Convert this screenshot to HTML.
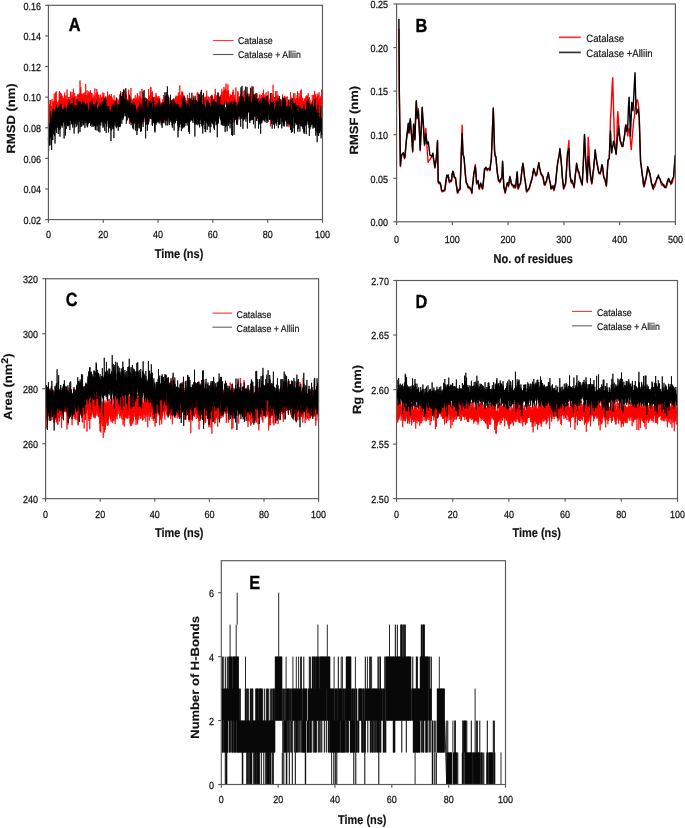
<!DOCTYPE html>
<html><head><meta charset="utf-8"><style>
html,body{margin:0;padding:0;background:#fff;width:685px;height:828px;overflow:hidden}
svg{display:block;filter:blur(0.45px)}
text{font-family:"Liberation Sans", sans-serif;text-rendering:geometricPrecision}
.t{font-size:9px;fill:#111;stroke:#111;stroke-width:0.22px}
.ax{font-size:11.5px;font-weight:bold;fill:#111;stroke:#111;stroke-width:0.15px}
.pl{font-size:16.3px;font-weight:bold;fill:#000;stroke:#000;stroke-width:0.3px}
.lg{fill:#111;stroke:#111;stroke-width:0.15px}
</style></head><body>
<svg width="685" height="828" viewBox="0 0 685 828">
<rect width="685" height="828" fill="#fff"/>
<g>
<path d="M48.40 126.1l.05 2.4 .06-6.5 .05 8.5 .06-9.5 .05 1.5 .06 2 .05 5.3 .06 4.9 .05-2.8 .06-13.7 .05 2.8 .06-.5 .05 4.9 .06-11.7 .05 14.1 .06-9.5 .05-.6 .06-3.2 .05 .9 .06 5.5 .05-1.4 .06-3.3 .05 4.2 .06-1.6 .05-14.8 .06 11.1 .05-6.1 .06-1.8 .05 15.6 .05-22.7 .06 13.8 .05 5.7 .06-2.1 .05-3.1 .06 8.4 .05-5.5 .06-3 .05 4.5 .06-18.7 .05 11.4 .06 4.5 .05-2 .06-3.3 .05-1.5 .06 2.6 .05-2.8 .06 8.8 .05-1.8 .06-.5 .05-3.7 .06 4.4 .05-6.3 .06 5.6 .05-5.8 .06 1.6 .05-5.3 .06 8.6 .05-3.2 .06 3.4 .05-3.9 .05 6.7 .06-1.4 .05-4.9 .06 4.3 .05 2.5 .06-19.2 .05 9 .06 .2 .05-.2 .06 6.6 .05 1.5 .06 1.3 .05-9.1 .06 6.8 .05 8.5 .06-5.2 .05-1.8 .06-3.9 .05 8.4 .06-6.8 .05 3.7 .06-5.2 .05-10 .06 5.2 .05 5.3 .06-6.2 .05-.7 .06-5.3 .05 11 .05-2.6 .06 5.7 .05-4.9 .06 .8 .05-6 .06 1.8 .05-3 .06 4.7 .05 4.3 .06-10.1 .05 8.9 .06 3.7 .05 1 .06-7.2 .05-.1 .06 5.2 .05-20.6 .06 16.8 .05-1 .06-8.7 .05 10.1 .06-.3 .05-4.3 .06 3 .05 2 .06-1.1 .05 7.8 .06-10.6 .05 .6 .05 3.1 .06-7 .05 15.2 .06-14 .05 10.8 .06-7.7 .05 .3 .06-1.3 .05-6.1 .06 6.2 .05 1.3 .06 7.5 .05-23.7 .06 18.8 .05-3.5 .06-1.5 .05-1 .06 2.9 .05 0 .06-3.8 .05 3.9 .06-5.3 .05 4.4 .06 7.8 .05-7 .06-16.9 .05 19.5 .06 .8 .05-.4 .05-2.8 .06 1.3 .05-9.2 .06 4.9 .05-1.4 .06 4.8 .05-.9 .06-2.9 .05 13.3 .06-6.9 .05 2.7 .06-6.8 .05 8.1 .06-2.3 .05 5.6 .06-12 .05 5.1 .06-1.9 .05 1.8 .06-6.7 .05 10.1 .06-8.6 .05-1.3 .06-2.7 .05 3.1 .06 6.2 .05-3.6 .06-6.3 .05 14.3 .06-5.4 .05-2.7 .05 5 .06-7.3 .05 9 .06 .1 .05-11.2 .06 5.1 .05-1.8 .06 4.2 .05-5.3 .06 11.1 .05-3.1 .06-2.3 .05-5.8 .06-5.3 .05 7.2 .06 2.2 .05 3.5 .06-5.3 .05-5.4 .06 20.9 .05-31.4 .06 11.8 .05-10.5 .06 8 .05-10.4 .06 12.1 .05-.5 .06-3.9 .05 10.4 .05-6.9 .06 4.5 .05-3.3 .06 6.2 .05-9.2 .06 1.2 .05 1.6 .06-1.1 .05-.1 .06 12.7 .05-22.2 .06 11.6 .05 4.2 .06-8.3 .05 8.5 .06-9.4 .05 5.6 .06-1.7 .05 3.7 .06-10.4 .05 4.3 .06 8.1 .05-3.1 .06-1.6 .05-2.8 .06 2.9 .05 .7 .06 3.7 .05-1.9 .05 2.4 .06-10.7 .05-4.7 .06 3.9 .05 4.9 .06 1.5 .05 4.5 .06-.6 .05-11.2 .06 8.8 .05 5.3 .06-3.4 .05-5.8 .06 8.2 .05-5.4 .06 1.7 .05-10.4 .06 3.7 .05 10.4 .06-11.7 .05 13.9 .06-6.7 .05 9.2 .06-.6 .05-2.2 .06-.1 .05-13.3 .06 11.4 .05 .4 .06 3.8 .05-14.1 .05 7.3 .06-2.2 .05 5.5 .06-7.1 .05 .4 .06 14.5 .05-20.3 .06 5.4 .05 5.9 .06 1.5 .05-8.1 .06 2.3 .05-1.4 .06 2.6 .05-.1 .06 5.8 .05 4.4 .06-3.4 .05-12.9 .06 6 .05 1.2 .06-5.8 .05 6.4 .06-12.9 .05 11.7 .06-.1 .05 1.8 .06 7.2 .05-13.1 .05-3.2 .06 10.9 .05-17.4 .06 8.2 .05-5.2 .06 9.7 .05 1.5 .06 4 .05-10.4 .06 10.7 .05 10.1 .06-19 .05 9.1 .06-.9 .05-7.4 .06 5.9 .05-1.8 .06-2.5 .05-2.4 .06-.6 .05 3.9 .06-3 .05 1.4 .06-5.1 .05 10.1 .06-6.9 .05 9.9 .06-16.3 .05 5.6 .05 11.5 .06-8.1 .05 13.6 .06-13.2 .05 16.5 .06-12.7 .05 4.3 .06-7.3 .05 1.2 .06 .3 .05-.8 .06 6.2 .05 4.8 .06 2 .05-15.2 .06-14.8 .05 14.3 .06-4.7 .05 1 .06 7.8 .05-2 .06 5.7 .05-7.2 .06-2.3 .05 5.3 .06 6.2 .05-13.4 .06 3.7 .05 6.6 .05-3.8 .06-3.9 .05 1.7 .06-.6 .05 0 .06 3.3 .05-10.2 .06 9.2 .05 5.2 .06-4.8 .05-3.5 .06 8.1 .05-3.7 .06-3.9 .05 4.7 .06-1.9 .05 4.5 .06-7.1 .05 6.1 .06-5.8 .05 3.1 .06-2.4 .05-.9 .06-7.1 .05 2.5 .06 3.3 .05 .7 .06 3.8 .05-6.2 .06 13.4 .05-6.2 .05-2.3 .06 3.6 .05-2 .06-3.1 .05 .8 .06 .6 .05 1.8 .06 .3 .05-5.6 .06-.3 .05 5.3 .06-1.5 .05-2 .06 1.7 .05-6.1 .06 8.6 .05 2.6 .06-18.9 .05 16.5 .06-2.4 .05-1.5 .06-1.3 .05 4.5 .06-4.5 .05 11.2 .06-2.9 .05-10.6 .06 2.2 .05 4.1 .05-7.1 .06 1 .05 4.4 .06-3.9 .05 2.1 .06-5.3 .05 4.2 .06-1.4 .05-2.4 .06 4 .05 2.8 .06-1.1 .05-6.6 .06 7.3 .05-1.6 .06 .5 .05-11.9 .06 15.6 .05-11.7 .06-.9 .05 19.2 .06-16.8 .05 5.2 .06-3.1 .05 11.1 .06-10.4 .05 4.5 .06-1 .05-3.4 .05 9.6 .06-9 .05 4.7 .06 6.4 .05-6.3 .06 4 .05-8.7 .06 16.2 .05-19.8 .06 3.4 .05 4.2 .06-9.5 .05-6.7 .06 4.2 .05 4.5 .06 10.1 .05-7.2 .06 .3 .05-3 .06 .1 .05 13.1 .06-8.2 .05 2 .06-2 .05-4.2 .06 3.3 .05 5.5 .06-9.1 .05 1.2 .06 6.4 .05-6.5 .05 6.7 .06-5.6 .05-2.6 .06 12.1 .05-14.1 .06-2.7 .05 11.5 .06 9.5 .05-14.5 .06 1.5 .05-3.7 .06 2 .05 2.8 .06 7.4 .05-7 .06 5.6 .05-8.5 .06-2.2 .05 13.1 .06-9.4 .05 10.3 .06-9.9 .05 1.6 .06-6.9 .05 20.6 .06-6.7 .05-2.6 .06-3 .05-.8 .05 1.9 .06 .4 .05 1.8 .06-2.5 .05-6 .06 4.6 .05 .3 .06-3.8 .05 11.3 .06-11.1 .05 5.9 .06 4.9 .05-1.7 .06-7 .05 8 .06-8.4 .05 1.1 .06-7.1 .05 5.9 .06-1 .05 3 .06-2.3 .05 9.9 .06-6.9 .05-.3 .06-7.5 .05 10.9 .06-8 .05 8.6 .05 3.6 .06-17.5 .05 16.2 .06-16.6 .05 9.6 .06 1.8 .05-2.2 .06 .3 .05-3.6 .06 1 .05 1.4 .06 2.9 .05-.2 .06-.6 .05-2.2 .06 5.8 .05 3.6 .06-10.1 .05 2.1 .06 .8 .05-10.3 .06 8.2 .05 3.6 .06-8.3 .05 2.2 .06-1.2 .05 5.5 .06-1.1 .05-1.1 .06 1.3 .05-5 .05 .4 .06-5.5 .05 10.3 .06-10.2 .05 6.8 .06 4.4 .05-10.5 .06 4.4 .05 2.2 .06-4.9 .05 1.3 .06 4.7 .05-.9 .06-20.5 .05 20.6 .06 2.4 .05 5.1 .06-4.8 .05-2.9 .06-4.6 .05 4.1 .06 7 .05-18 .06 17.8 .05-9.5 .06 7 .05-1.9 .06 1.9 .05-17.7 .05 9.4 .06 2.2 .05-.8 .06 4.4 .05-4.9 .06 7.3 .05-9 .06-1.9 .05 6.7 .06 3.2 .05-1.3 .06-2.4 .05-5 .06 23.6 .05-17.5 .06-.2 .05-1.4 .06 7 .05-10.8 .06-.6 .05 7.2 .06 .9 .05 8 .06 2 .05-3.5 .06-1.7 .05-.3 .06-5.2 .05-.1 .05 3 .06-8.9 .05-1.6 .06-.7 .05 7.7 .06 1.8 .05-4.3 .06 4.6 .05-3.1 .06 .3 .05-3.2 .06 2.9 .05-7.6 .06 9 .05-1.4 .06 2.9 .05-1.8 .06 6.8 .05-11.1 .06 7.1 .05-1.2 .06 12 .05-16.9 .06 18.1 .05-23.4 .06 10.1 .05-3.5 .06-.6 .05 6.7 .05-5.2 .06-4.9 .05 3.6 .06-4.6 .05 12.2 .06-8 .05-2.2 .06 6.1 .05-1.2 .06-1.2 .05 1.2 .06 10.7 .05-11.7 .06 1.7 .05 .5 .06-10.6 .05 11.3 .06-4.6 .05 5 .06-2.6 .05 8.1 .06-4 .05-3.1 .06-3.6 .05 1.4 .06 .3 .05-2.8 .06 8.1 .05-8.5 .06-13.3 .05 31.3 .05-15.5 .06-4.9 .05 12.4 .06-2.3 .05 .9 .06 1.9 .05-5.4 .06 5 .05 .3 .06-5.1 .05 3.9 .06-2 .05 3.2 .06-.8 .05-2.5 .06-.3 .05-8.8 .06 12 .05 1.1 .06-4.5 .05-4.6 .06 5.6 .05-3.1 .06-11.6 .05 14 .06-2.6 .05 .7 .06-5.3 .05-1 .05 5.5 .06-3.4 .05 6.9 .06-5.6 .05 4.2 .06 10 .05-9.8 .06-10 .05 17.7 .06-5.9 .05-.3 .06-3.3 .05 .7 .06 2.6 .05 1.9 .06-4.7 .05-.2 .06 2.4 .05-1.8 .06-11.6 .05 6 .06 13.6 .05-7 .06-3.7 .05 8.6 .06-3.6 .05-1.3 .06 2.6 .05-11.2 .05 5 .06 2.5 .05 2.3 .06 14.8 .05-21.1 .06 7.6 .05-2.4 .06-3.5 .05-7.9 .06 10.5 .05-1.8 .06 2.2 .05 1.3 .06-5.8 .05-3.9 .06 11.4 .05-1.9 .06-.5 .05-5.2 .06 3.8 .05-3.2 .06 1.8 .05-.1 .06 1.8 .05-12.9 .06 19.6 .05-17.4 .06 10.9 .05-12.2 .06 10.6 .05 .2 .05 4.3 .06-3 .05-.6 .06 4.1 .05-8.2 .06-.6 .05 .5 .06 6.3 .05 1 .06-7.6 .05-2.2 .06 17 .05-8.5 .06 5.1 .05-4.3 .06-12.4 .05 2.4 .06 20.8 .05-13.4 .06-3.5 .05 5.5 .06-5.4 .05 7.6 .06-13.8 .05 11.2 .06 .2 .05-6.6 .06 4.9 .05 1.8 .05-5.2 .06 3.6 .05 2.4 .06 1.2 .05-8 .06 10.9 .05-8.8 .06-1.5 .05 6.6 .06 4.1 .05-7 .06-2.8 .05-2.2 .06 2.1 .05-2.2 .06 6.9 .05-10 .06 5.6 .05 9.8 .06-10.9 .05 12.1 .06-9 .05 .6 .06 6.9 .05-2.5 .06-4.9 .05-2.9 .06 .5 .05 1.2 .05 7.8 .06-5 .05 4.9 .06 4.3 .05-8 .06-.9 .05 1.6 .06 .2 .05 .1 .06-7.1 .05 5.6 .06-4.1 .05 4.2 .06 8.2 .05-16.5 .06 6.4 .05-3.2 .06 3.6 .05 .7 .06-15.5 .05 11.5 .06 8.7 .05-4.3 .06-1.1 .05-4.5 .06 6.5 .05 2.2 .06-6.5 .05 11.8 .05-11.1 .06-4.3 .05 6.9 .06 2.2 .05-4.3 .06 12.2 .05-8.9 .06 3.3 .05-2.8 .06 1.4 .05-11 .06-3 .05 8.6 .06-1.6 .05-5 .06 8.8 .05 .7 .06-1.3 .05-1.6 .06 .9 .05 2.1 .06-6 .05-4.7 .06 2.9 .05 4.4 .06-12.4 .05 8.8 .06-1.6 .05 10.8 .06 11 .05-3.9 .05-1.9 .06-17.5 .05 6 .06-.5 .05 .8 .06 .5 .05 .8 .06-10.2 .05 2.1 .06 7.9 .05-.9 .06 2.2 .05-1.9 .06-1.7 .05 .9 .06 1.9 .05 2.5 .06-1.5 .05-1.3 .06 2.8 .05-7.9 .06-1.6 .05 5.6 .06 .3 .05 4.8 .06-11.3 .05 9.9 .06-2.5 .05 .7 .05-.1 .06-2.8 .05 2.3 .06-7.2 .05-.8 .06 9.5 .05-.2 .06-.8 .05-.7 .06-.4 .05-1.1 .06 4.8 .05-5.7 .06 3.6 .05 5.4 .06-3.1 .05-3.6 .06 4.5 .05 4.2 .06-5.8 .05-4.8 .06-2.5 .05 13.5 .06 5.2 .05-8.5 .06-2.5 .05 1 .06-.8 .05-7.8 .05 3 .06 4.3 .05 3.3 .06-13.9 .05 1.4 .06 6.2 .05 4.5 .06-2 .05-3.4 .06 1.1 .05-2.8 .06 10.7 .05-4.1 .06-8.4 .05 8.8 .06-1.2 .05-1.7 .06-6.8 .05 6.1 .06-3.1 .05 3.6 .06-4.1 .05-.3 .06-2.2 .05 3.8 .06 9.7 .05-9 .06 1.9 .05 2.6 .06 1.3 .05-10.5 .05 4.4 .06 12 .05-16.4 .06 6.8 .05 6.3 .06-1.2 .05-1.3 .06 2.1 .05-12.4 .06 3.2 .05 4.4 .06-3.7 .05 4 .06-5.2 .05-7.3 .06 20.5 .05-9.1 .06 2.9 .05 3.2 .06-7.1 .05-.4 .06-2.5 .05 3.6 .06-.6 .05-4.5 .06-2.8 .05 13.9 .06-7.1 .05-6.1 .05 10 .06-1.1 .05-5 .06 9.5 .05-4.8 .06-11.9 .05 11.8 .06 11.2 .05-4.8 .06-3.5 .05 .5 .06 5 .05-13 .06 8.3 .05 3.2 .06-9 .05 6.5 .06-1 .05-1.6 .06-1.6 .05 6.5 .06-9.2 .05-4.9 .06 14.1 .05-6.2 .06 5.8 .05-5.5 .06 .8 .05-.4 .05-2.2 .06 3.1 .05-1.7 .06-4.3 .05 7.4 .06 10.7 .05-13.6 .06 6.4 .05-3.5 .06 .4 .05-6.8 .06-5.8 .05 7.4 .06 3.5 .05-4.1 .06-2.3 .05 3.1 .06-.5 .05 3.7 .06 .5 .05-7.4 .06 3.8 .05 4.7 .06 .3 .05 .6 .06-.7 .05 1.7 .06-7 .05-2.8 .05 7.6 .06-3.9 .05-.5 .06 1.8 .05 .6 .06-4.4 .05 1.2 .06 0 .05 7.7 .06-4.9 .05 .6 .06-4.7 .05-6.3 .06 .1 .05 9.2 .06-13.4 .05 11.8 .06-.5 .05-1.2 .06 11.5 .05-2.1 .06-10 .05 4.4 .06 .3 .05-5.8 .06-1.5 .05-2.8 .06 4.8 .05-2.9 .06 8.2 .05-8.9 .05 11.3 .06-3 .05-5.5 .06 12.1 .05 3.7 .06-14.7 .05-1.2 .06 2.4 .05 3.5 .06-1.1 .05 .9 .06-4.1 .05 0 .06 10.2 .05-.7 .06-6 .05-2 .06-8 .05 11.4 .06-1.8 .05 3.7 .06-.2 .05-6.3 .06 1.3 .05-3.2 .06 6.4 .05-3.1 .06-.5 .05 8.6 .05-7 .06 17.7 .05-17.8 .06 .6 .05 .3 .06 2.1 .05 2.9 .06-13.7 .05 9 .06 5.9 .05-5.4 .06 1.7 .05-7 .06 1.2 .05 7.2 .06 1.4 .05-10.3 .06 10.2 .05-3.9 .06 4 .05-6.3 .06-6.3 .05 14.2 .06-11.3 .05-6.1 .06 10.3 .05-5.1 .06 7 .05 4.7 .05-4.6 .06 5.3 .05-8.1 .06-6.4 .05 6.8 .06-6.2 .05 11.1 .06-7.8 .05 2.4 .06 6 .05 2 .06-6.9 .05-1.8 .06 10.3 .05 .9 .06-4.4 .05-10.6 .06 14.3 .05-12.5 .06 7.4 .05-3.3 .06-1.8 .05 11.5 .06-10.4 .05 6.8 .06-.3 .05-1.8 .06 4.7 .05-8.5 .06 12 .05-12.7 .05 2.8 .06 2.4 .05-4.9 .06 .8 .05 3.1 .06-8.8 .05 17.3 .06-8.4 .05 .1 .06 5.8 .05-10.2 .06 6 .05-4.4 .06 1.2 .05-11.9 .06 12.5 .05 2.6 .06-8.8 .05 3 .06-1.3 .05 1 .06 4.3 .05 .1 .06-1.8 .05 2 .06 1.3 .05-8.6 .06 9.2 .05-.3 .05-.7 .06-.3 .05 4.3 .06 1.5 .05-5.9 .06 8.7 .05-7.4 .06-10.7 .05 6.4 .06 7.8 .05-1.5 .06-5.1 .05 2.8 .06-3.8 .05-3.2 .06 .1 .05 9.8 .06-6.2 .05-1.6 .06-2.7 .05 7.7 .06 7.6 .05-9.1 .06 5.1 .05-1.9 .06-9.9 .05 6.8 .06 3.4 .05-12.9 .05 4 .06 6.4 .05-5.1 .06 10.3 .05-14.5 .06-.8 .05 6.6 .06-8.2 .05 12.4 .06-5.6 .05 .4 .06-3 .05 5.5 .06 1.2 .05 5.9 .06-6.2 .05 1.6 .06-8.5 .05 3.9 .06 3.5 .05-4.9 .06 3.2 .05-5 .06 2 .05 2 .06-7.1 .05 5 .06-2.6 .05 9 .05 1.6 .06-6.7 .05-1 .06-2 .05 1.2 .06-.8 .05 2.6 .06 2.6 .05-4.1 .06 1 .05 4 .06-8 .05 4.3 .06-6.1 .05 2.3 .06 1.7 .05 5.8 .06-5.6 .05-.1 .06 2.9 .05 .7 .06 13.1 .05-17.8 .06-1.2 .05 6.5 .06-13.3 .05 9.4 .06 4.4 .05-1.3 .06-9.3 .05 8.3 .05-6.1 .06 4.8 .05-.7 .06-7.4 .05 1.9 .06 8.9 .05-1.6 .06 3.7 .05-6.1 .06-4.6 .05 5.2 .06-1.8 .05 3.4 .06-14.7 .05 15.3 .06 9.4 .05-17.7 .06 2.3 .05-2.1 .06 6.4 .05-.4 .06 1 .05 1.1 .06-8 .05 3.5 .06 .2 .05 5 .06-3.5 .05 1.8 .05-6.6 .06 .2 .05 9.4 .06-11 .05 9.2 .06-3.5 .05 6.7 .06-12.8 .05 10.3 .06-6.9 .05 3 .06-5.2 .05 .4 .06 1.8 .05-7.9 .06 11.9 .05-3.5 .06 2 .05 6.5 .06-5.9 .05-8.5 .06 5.2 .05 2.5 .06-.7 .05-3.9 .06 2.5 .05 3.7 .06-.4 .05-3.2 .05-3.4 .06 2.6 .05-5.6 .06 9.3 .05-9.9 .06 5 .05 9.1 .06-13.8 .05 1.9 .06 6.8 .05 2.4 .06-13.9 .05 .7 .06 14.2 .05 1.3 .06-6.4 .05 .7 .06-1.6 .05 2.4 .06 1 .05-.8 .06-4.1 .05 2.3 .06 6.1 .05-9.5 .06-2.8 .05 1.5 .06 8.3 .05-2.1 .06-9.2 .05-2.8 .05 9.8 .06-5 .05 6 .06 1.8 .05-3.1 .06 5 .05-3.6 .06-1.9 .05 .9 .06-2 .05-.8 .06 1.9 .05 2.2 .06 4.2 .05-7.7 .06 8.9 .05-2.4 .06-.3 .05-9.6 .06 3.2 .05 3.8 .06-9.3 .05 9.5 .06-6.6 .05 4.1 .06 1.3 .05 3.2 .06-.8 .05-6.1 .05-1.9 .06 9.1 .05-2.6 .06 .7 .05 8 .06-6.4 .05-.2 .06-6.3 .05 4.2 .06-1.6 .05 5 .06-5.5 .05 9.6 .06-.8 .05-8.8 .06 2.6 .05 1.7 .06-.4 .05-3.8 .06 1.9 .05 8.2 .06 4.7 .05-4.3 .06 0 .05-2.2 .06-2.6 .05 5 .06-6.2 .05-.7 .05 3.5 .06 2.8 .05-9.5 .06 13.7 .05-12.3 .06 8.8 .05-9.7 .06 4.2 .05 4.8 .06 6.7 .05-11.1 .06 8.7 .05-8.7 .06-15.5 .05 23 .06-3.5 .05 1.1 .06 3.6 .05-9.8 .06-1.6 .05 10.5 .06-2.1 .05-7 .06 6.8 .05-6.2 .06-6 .05 10.1 .06-3.1 .05 18.6 .05-15.2 .06-6.5 .05 3.3 .06-7.4 .05 8.3 .06-9.1 .05-.1 .06 6.4 .05 1.2 .06-3.9 .05 3.3 .06 8.6 .05-16.6 .06 14.5 .05-1.7 .06-4.6 .05-3.2 .06-5.2 .05 11.1 .06 5 .05-.2 .06-2.4 .05 6 .06-10.8 .05-6.6 .06 18.4 .05-28.7 .06 13.5 .05-2 .06 3.8 .05 5.4 .05 8.1 .06-3.1 .05-5.5 .06-5.6 .05 .6 .06-1.2 .05 .7 .06-1.3 .05 5.1 .06-2.2 .05 3.4 .06-4 .05 2.1 .06 12.1 .05-12.6 .06 0 .05 5.9 .06-10.7 .05 8.5 .06-10 .05 5.4 .06-1.8 .05 7.5 .06-9 .05 2.7 .06-.8 .05 10.4 .06-11.7 .05 4.8 .05 3.9 .06-10.7 .05 2.7 .06 6.8 .05-4.5 .06 1.3 .05 7.9 .06-3.9 .05-5.6 .06 1.2 .05-2.9 .06 5.4 .05 16.5 .06-18 .05-8.1 .06 9.7 .05-3.1 .06 .5 .05 .7 .06-3 .05 3.5 .06-2.6 .05-4.9 .06 6.6 .05-1.1 .06-3.9 .05-.8 .06 12.5 .05-.6 .05-6.5 .06 3.4 .05-7.7 .06-.5 .05 4.4 .06-6.5 .05 4.3 .06 5.8 .05-5.4 .06 19.5 .05-24.1 .06 9.8 .05 1 .06 1.2 .05 2.6 .06-1.2 .05-16.7 .06-.2 .05 14.6 .06-6.3 .05 10.6 .06-.8 .05-1.9 .06-3.1 .05 2.9 .06-10.9 .05 3.9 .06 6.2 .05-10 .06 16.2 .05-12.5 .05 12.9 .06-5.1 .05-6.9 .06 5.5 .05-11.7 .06 8.5 .05 .1 .06 2.8 .05 1.5 .06-10.2 .05 6.7 .06 5.7 .05-12.2 .06 3.1 .05 6.6 .06-.5 .05-4.1 .06-8.1 .05 2.9 .06 5.2 .05-9.7 .06 16 .05-6.7 .06-13.3 .05 13.1 .06-7.4 .05 8 .06 11.7 .05-8.7 .05 6.1 .06-13.1 .05 2.3 .06 2 .05 4.2 .06-15.7 .05 8 .06-1.5 .05 13 .06-3.9 .05-.4 .06-4 .05 8.5 .06 .4 .05-11.9 .06 2.8 .05-3.9 .06 5.5 .05 1.4 .06-4.3 .05-6.6 .06 9.2 .05-5.8 .06 3.9 .05-3 .06 1.7 .05-4.2 .06 11.5 .05-5.8 .05-5.2 .06 6.4 .05-2.7 .06 13 .05-11.5 .06 3.4 .05-10.7 .06-2.2 .05 18.4 .06-3.9 .05-5.5 .06-4.6 .05-4.6 .06 5.1 .05-1.6 .06 3 .05-11.7 .06 16.6 .05-11.2 .06 4.2 .05 2.6 .06-2.1 .05 9.4 .06-8.1 .05 5.1 .06-6.6 .05 5.5 .06-2.4 .05 5 .06-6.9 .05 1.5 .05-5.5 .06-.2 .05 12.9 .06-.5 .05-6.8 .06 .4 .05 3.7 .06-1.4 .05-7.6 .06 6.9 .05-5 .06 4.6 .05-.9 .06 1.1 .05 3.6 .06-4.9 .05 2.8 .06-1.2 .05-3.8 .06-13.3 .05 22.1 .06 .2 .05-3.6 .06-7.4 .05 .2 .06 16.1 .05-8.3 .06-10.1 .05 11.7 .05-4.1 .06-7.5 .05 9.6 .06-1.7 .05 4.1 .06-6.5 .05 2 .06-1.6 .05 4.5 .06-2.9 .05 3.5 .06-9 .05 13.2 .06-12.9 .05 2.7 .06 5 .05 1.1 .06 3.2 .05 1 .06-8.4 .05-3.4 .06 .1 .05 3.6 .06 12.7 .05-.5 .06 4.7 .05-10.6 .06-5.5 .05 8.6 .05-8 .06 2.4 .05-5.9 .06 12.8 .05-.4 .06-5.7 .05-.6 .06-4.3 .05-1.7 .06 7.7 .05-1.5 .06-6.3 .05 4.6 .06 .7 .05-3.3 .06 2.9 .05 4.6 .06-11.7 .05-3.8 .06 8.7 .05 1.6 .06 2.4 .05 2.2 .06-10 .05 6.3 .06 1.9 .05 3 .06-3.5 .05 .6 .05-3.6 .06 .1 .05-6.4 .06 8.2 .05 0 .06-5.8 .05 14.6 .06-13.5 .05 9.7 .06-11.3 .05 8.2 .06-4 .05 .3 .06-.6 .05 6.2 .06-6 .05 4.2 .06-2.5 .05-7.6 .06 5.5 .05 .5 .06 7.1 .05-14.6 .06 9.6 .05 6.1 .06-7.4 .05-8.4 .06 5.2 .05 3.7 .06-3.3 .05 1.8 .05-.1 .06 10.9 .05-8.3 .06-7.4 .05 4.8 .06 1.8 .05 16.9 .06-20.7 .05 .8 .06 4.9 .05-4.9 .06 4.6 .05-3.2 .06-5.7 .05 5.4 .06-7.6 .05 4.3 .06 10.5 .05-9.9 .06 5.7 .05-2.1 .06-18.2 .05 29.2 .06-13.9 .05-.3 .06 2.4 .05 4.9 .06-13.2 .05 5.2 .05-5.8 .06 11.7 .05-7.6 .06 8.8 .05-11.5 .06 .5 .05 8.2 .06 2.9 .05-8.9 .06-.8 .05 2.1 .06-7.3 .05 3.6 .06 8 .05-7.8 .06 5.9 .05-5.4 .06 7.7 .05-2.6 .06 2.9 .05-1.5 .06-2.2 .05 1 .06 5.8 .05-9.7 .06 13.6 .05-4.1 .06-.7 .05-22.4 .05 17.9 .06 4.9 .05-6.3 .06 0 .05 2.4 .06-8.4 .05-10.9 .06 19.2 .05 10.9 .06-11.1 .05 11.6 .06-8.5 .05-17 .06 11.5 .05 7.7 .06-10.1 .05-2.6 .06 5 .05 .7 .06-.1 .05 5.4 .06-5.5 .05-2.4 .06 2.3 .05-5.7 .06 5 .05-1.6 .06 .5 .05 6.9 .06-9.4 .05 2.1 .05 10.2 .06-9.6 .05-1.3 .06 5.1 .05-14.9 .06 18.9 .05-2.9 .06-6.9 .05 4.1 .06-.3 .05 .8 .06 5.1 .05-4.7 .06 1.2 .05 3.7 .06 3.8 .05-9.1 .06-5.6 .05 6.3 .06 3.9 .05-9 .06 .1 .05 3.7 .06-5.5 .05 6.8 .06 2.2 .05 2.7 .06-3.5 .05-3.4 .05 3.1 .06-4.8 .05 3.3 .06 1.1 .05 3.2 .06-3 .05-6.7 .06 5.4 .05-8.8 .06 22.8 .05-10.5 .06-10.3 .05 3.9 .06 11.1 .05 .3 .06-9.1 .05 3.5 .06-8 .05 4.7 .06 6.8 .05-7.2 .06 4.7 .05-12.6 .06 2.8 .05 14.2 .06-13.6 .05 15.1 .06-12.3 .05 6.3 .05-9.4 .06 4.9 .05-1.3 .06 4.7 .05 1.5 .06-10.9 .05 1.3 .06 2.1 .05 3.9 .06 1.8 .05-14.8 .06 12 .05-.1 .06-2.3 .05-4.5 .06 14.8 .05-5.4 .06-12.1 .05 12.8 .06-6.5 .05-4 .06 12 .05-5.6 .06-2.8 .05 3.9 .06 .3 .05-2.1 .06 0 .05 1.9 .05 .3 .06 5 .05-7.5 .06 1.1 .05 5.6 .06-8.7 .05-3.3 .06 8.3 .05-2.1 .06-.7 .05 9.1 .06-2.2 .05-9 .06 2.2 .05 .7 .06-1.4 .05-6.5 .06 21.5 .05-10.4 .06-9.9 .05 5.7 .06 4.2 .05-4.4 .06 3.1 .05-7.3 .06 1 .05 5.6 .06-.5 .05 9.5 .06-5.5 .05-4.3 .05-6.4 .06 6.4 .05-7.4 .06 0 .05-1.2 .06 1.6 .05 9.3 .06-7.4 .05 8.7 .06-6.6 .05 7.7 .06 1.7 .05-6 .06 3.5 .05-8.1 .06 3.2 .05 1.6 .06-1.5 .05-2.6 .06-3.3 .05 9.4 .06-5.6 .05 9.2 .06-7.3 .05 7.7 .06-4.4 .05-.3 .06-2.9 .05 8.6 .05-5.7 .06-.4 .05 3 .06-5.7 .05 1.5 .06 3.9 .05-1.8 .06-4.1 .05 2.5 .06 16.7 .05-10.9 .06-.2 .05 0 .06-1.4 .05-5.2 .06 6.9 .05-7.7 .06 .1 .05 11 .06-4.3 .05 2.7 .06-3.7 .05-3.9 .06 3 .05 10.4 .06-11.3 .05-5.4 .06 1 .05 4.5 .05 3.4 .06-5.4 .05 5.8 .06 .1 .05-2.3 .06 6.2 .05-10.3 .06 10.3 .05-12.4 .06 8.8 .05-1.8 .06 .1 .05-2.8 .06-1.8 .05 1.5 .06 9 .05-9.4 .06 12.2 .05-12.1 .06 2.4 .05-10.2 .06 12.1 .05-10.8 .06 9.1 .05-6 .06 3.7 .05-2.7 .06 7.9 .05-10.8 .06-6.5 .05 21.1 .05-11.4 .06 6.8 .05-5.3 .06-5.5 .05 10.6 .06 1 .05 2.9 .06-11.5 .05 1.6 .06 14 .05-13.5 .06 1.7 .05-4.6 .06 .2 .05 5.3 .06 7.1 .05-11.7 .06 13 .05-7.1 .06 2.6 .05-12.2 .06 7.9 .05-1.3 .06 .9 .05-3.6 .06 1.9 .05-3.5 .06 .1 .05 2 .05 2.3 .06-1 .05 18.6 .06-19.4 .05 7.1 .06-4.6 .05-8.8 .06 5.5 .05 14.7 .06-13.5 .05-5.3 .06-2.6 .05 9 .06 5.6 .05-16.2 .06 12.9 .05 8 .06-6.4 .05 3 .06-5.7 .05 .1 .06-2.8 .05-.8 .06 .2 .05 .6 .06 1.8 .05 5.7 .06-9.8 .05 2.7 .05 6 .06-.9 .05-11.1 .06 9.5 .05 7.3 .06-16.2 .05 6.2 .06-10.8 .05 7.3 .06 3.8 .05-.4 .06 6.4 .05-5.2 .06 1.2 .05-8.3 .06 6.4 .05 2.9 .06 10.6 .05-8 .06-1.8 .05-14.5 .06 13.7 .05-7 .06-1.8 .05 1.3 .06-.7 .05 7.7 .06-6.6 .05 7.8 .05 6.4 .06-12.6 .05 6.7 .06-11.8 .05 11.8 .06 .8 .05-8 .06-2.6 .05 1.8 .06 1.4 .05 3.5 .06 .8 .05 .7 .06-2.9 .05 4.5 .06 .7 .05-10.8 .06 6.8 .05 2.1 .06-2 .05 6 .06-5.9 .05 1.3 .06 2.3 .05-.3 .06-1.7 .05-4.7 .06 10.8 .05-6 .06-8.1 .05 1.9 .05 .5 .06-6.1 .05 12.8 .06 6.3 .05-1.6 .06-.2 .05-5.8 .06-.4 .05 .3 .06-3.3 .05 4 .06 9.4 .05-6.1 .06 4 .05-15.8 .06 4.2 .05-1.9 .06 11.9 .05-4.1 .06-3.4 .05 3.3 .06 4.1 .05-13.7 .06 4.1 .05-2.2 .06-2.7 .05 2.2 .06 8.6 .05-9.2 .05 2.1 .06-1.2 .05 0 .06 3.9 .05-2.1 .06 5.3 .05 3.4 .06-4.4 .05 8.2 .06-4.7 .05-2.6 .06-.6 .05-6.1 .06-3.2 .05 4.8 .06 7.8 .05-2.6 .06-4.1 .05-2.6 .06-4.2 .05 9.4 .06 .8 .05-10.3 .06 10.9 .05-1.6 .06 8.5 .05-7.2 .06-7.1 .05 8.1 .05-7.3 .06-.6 .05 .4 .06 .9 .05 .3 .06-2.2 .05 3.4 .06 6 .05-7.6 .06 5.9 .05-7.1 .06 18.3 .05-21.6 .06 3.3 .05 16.8 .06-15.4 .05 3 .06 .9 .05-7.2 .06 0 .05 12.1 .06-4.3 .05-1 .06-1 .05-2.8 .06 6.7 .05-9.4 .06 11.3 .05-1.4 .06-6.4 .05 3.9 .05 8.2 .06-12.1 .05 1.2 .06 .1 .05 5.9 .06-6.2 .05 4.8 .06-3.1 .05-.3 .06-10.3 .05 6.8 .06-3.4 .05 4.5 .06-1.3 .05 11 .06-17.1 .05 10.6 .06 .2 .05-4.9 .06-4.8 .05-3 .06 11.7 .05-1.8 .06-4.1 .05-1 .06 3.2 .05 2.6 .06 3.6 .05 .3 .05 8.5 .06-12.2 .05 0 .06 1.3 .05 2.5 .06-1.5 .05-9.4 .06 8.6 .05-.7 .06-1.9 .05-9.3 .06 11.8 .05 2.5 .06-.5 .05-.7 .06 2 .05 2.7 .06-9.4 .05 8 .06-11.4 .05 4.6 .06-5.3 .05 2.1 .06-.9 .05-3.6 .06 3.3 .05-5.2 .06 12.6 .05-5.8 .05-6.3 .06 4.7 .05-2.1 .06 3.6 .05-10.2 .06 16.3 .05-4 .06-5.4 .05 2.2 .06 6.7 .05-1.4 .06-3.5 .05-.4 .06 9.6 .05-11.4 .06-2.3 .05 13.5 .06-17.5 .05 6.2 .06 11.4 .05-9 .06-3.6 .05 8.4 .06-5.6 .05 9.9 .06-5.1 .05-4.6 .06-6.3 .05 8.7 .05-19.9 .06 17.4 .05-3.8 .06-4 .05 7.9 .06-1.4 .05 3.3 .06-6.7 .05-2.3 .06 5.3 .05 6.3 .06-6 .05-4.1 .06 4 .05 7.2 .06-11.3 .05 7.6 .06-2 .05 3 .06-.8 .05 1.9 .06-8.6 .05 10.7 .06-4.3 .05 1.3 .06-1.8 .05 1.5 .06 4 .05-7.8 .06-3.2 .05-2.3 .05 12.8 .06-2.6 .05-.5 .06 5.9 .05-7.1 .06 2.2 .05-15.7 .06 11.6 .05 1.6 .06-11.4 .05 8 .06-7.9 .05 20.5 .06-13.7 .05 8.4 .06-4.6 .05-5.9 .06 8 .05-2.1 .06-9.6 .05 12.6 .06 7 .05-9.3 .06-12.8 .05 13.3 .06 8.4 .05-11.7 .06 5.7 .05-6.8 .05 4.8 .06-8.3 .05 4.8 .06-5.9 .05 3.6 .06 4 .05-8.2 .06 10.8 .05-2.2 .06 5.8 .05-6 .06 .2 .05 3.5 .06-1.6 .05 6.3 .06-13.3 .05-4.1 .06 4.5 .05 10.5 .06-8.1 .05 7.9 .06-2.8 .05-5 .06 8 .05-12.1 .06 6.5 .05 .3 .06 3.3 .05-2.6 .05 4.7 .06-1.5 .05 1.5 .06-11.2 .05 5.8 .06-1.6 .05-1.5 .06 3.4 .05 1 .06-2.8 .05-3 .06 3.9 .05 1.5 .06 11.5 .05-17.6 .06-1.6 .05 14 .06 1.2 .05-6.3 .06 1.5 .05-4.6 .06 .7 .05 .6 .06-4.9 .05 7.3 .06-3 .05 3.7 .06 5.4 .05-12.3 .06 7 .05-2.4 .05 2.7 .06-3.9 .05-2.7 .06 8.2 .05 1 .06-4.5 .05-1.9 .06 .2 .05 4.5 .06-.4 .05-2.7 .06 .2 .05-5.4 .06 12.1 .05-11.6 .06 2.9 .05 2.6 .06-1.4 .05 1.9 .06-12.6 .05 12.4 .06 12.9 .05-10.8 .06-5.5 .05 6.3 .06 .6 .05 2.6 .06-5.7 .05 1.9 .05-8.9 .06 13.7 .05-10.3 .06 6.3 .05-4.3 .06 3.8 .05-6.6 .06 7.4 .05-6 .06-4.8 .05 6.3 .06-3.9 .05 5.2 .06-5.8 .05 .1 .06 2.5 .05 5 .06-9.3 .05 5.2 .06 11.2 .05-10.9 .06-3 .05 5.2 .06 .1 .05 5.3 .06-6.5 .05 .1 .06-13.9 .05 20.1 .05-8.9 .06 7.3 .05-5.5 .06-3.3 .05 8.1 .06-.7 .05-7.8 .06-.5 .05 7.9 .06-4.6 .05-1.8 .06-5.3 .05 5.9 .06 2 .05 5.3 .06-7.3 .05 9.5 .06-2.9 .05-2.9 .06 4.8 .05-8.6 .06 5.6 .05 4.2 .06-7.2 .05 8 .06-6.6 .05 .3 .06 2.9 .05-2.3 .06 5.2 .05-13 .05 5.9 .06-5.8 .05 3.7 .06 16.1 .05-17 .06-2.5 .05-1.3 .06 4.4 .05 11.2 .06-5.9 .05-4.4 .06 4.5 .05 3.8 .06-7.3 .05 12.5 .06-15.8 .05 5.9 .06-.1 .05-5.5 .06 5.5 .05-3.6 .06 15.7 .05-14.5 .06-2.9 .05 4.6 .06 1.9 .05-7.8 .06 2.5 .05 4 .05-8.1 .06 .6 .05 12.3 .06-9.6 .05 2.4 .06 1.4 .05-3.4 .06-7.2 .05 2.4 .06 2.1 .05 6.9 .06-5.3 .05-2.2 .06-5.1 .05 11 .06-7 .05 4.5 .06-3.9 .05 1.3 .06 9.1 .05 3.4 .06-5.4 .05-3.8 .06 9.7 .05-12.9 .06 6.5 .05-6.5 .06 9.9 .05-4.5 .05-2.4 .06 .4 .05 .4 .06 .5 .05-2.8 .06 4 .05-2 .06 4.7 .05-5.7 .06 5.6 .05-.7 .06-8.9 .05 1.9 .06 4.1 .05-8.6 .06 12.2 .05 1.2 .06-11.2 .05 4.9 .06-2.7 .05 6.6 .06-2.5 .05 3.7 .06 .6 .05-8.2 .06 11.5 .05-2.9 .06-.7 .05-4.1 .05 .4 .06 1.8 .05-6.9 .06 11.8 .05-4.3 .06 2.3 .05 1.5 .06-9.4 .05 1.7 .06 11.5 .05-4.5 .06-9.6 .05-.5 .06 6.4 .05-8.1 .06 3.1 .05 .5 .06 2.9 .05-.9 .06 .4 .05 4 .06-15 .05-2.7 .06 5.8 .05 3.2 .06 3.1 .05 7.3 .06-1.4 .05-2.8 .06-5.9 .05 10.8 .05-.5 .06-9.2 .05 7.3 .06-3.2 .05-5.7 .06-8.5 .05 12.6 .06 3 .05-.7 .06-5.3 .05 4.7 .06 2.2 .05-5.3 .06 5.7 .05-6.7 .06-2.1 .05 15.1 .06-6.2 .05-.7 .06-.4 .05-10.5 .06 12.5 .05-4.2 .06 1.2 .05 .4 .06 1.7 .05-3.2 .06 4.4 .05-11.2 .05 6.6 .06-5.4 .05 .4 .06 2.3 .05 6.5 .06-1.4 .05-11.7 .06 12.1 .05-8.9 .06 1.3 .05-.1 .06 10.4 .05-5.6 .06 1.4 .05-2 .06-4.1 .05-2 .06 8.6 .05 4.1 .06-15.2 .05 10.7 .06 5.3 .05-9.6 .06 2.9 .05 .7 .06 3.5 .05-3 .06 .2 .05-4 .05 8.1 .06-11.6 .05 1 .06 5.4 .05 2.7 .06-.5 .05-8.2 .06 5.5 .05-2.4 .06 5.2 .05-6.1 .06-1.1 .05 .6 .06 3.4 .05 4.2 .06-2.2 .05-5.6 .06-.4 .05 2.7 .06-2.8 .05 6.1 .06-6.3 .05 8.7 .06 3.8 .05-12.5 .06 6.8 .05-1.1 .06-12.2 .05 9 .06 3.2 .05-.3 .05-6.3 .06-4.4 .05 20.7 .06-8.2 .05 .8 .06-8.3 .05 3.8 .06 10.4 .05-12.7 .06-.2 .05 2.5 .06-8.7 .05 12.4 .06 6.8 .05-16 .06 4.6 .05-1.9 .06 .7 .05-1.2 .06 8.8 .05-5.7 .06 2.1 .05-.4 .06-8.7 .05 4.5 .06-5.7 .05 9.1 .06 1.1 .05 1.6 .05-7.5 .06-3.2 .05 13.1 .06-6.5 .05 .4 .06-4.5 .05 8 .06 4.4 .05-12.4 .06 12.7 .05 .7 .06-14.1 .05 6.2 .06 .6 .05-1.4 .06 4 .05-8.2 .06 1.8 .05 4.7 .06-3.6 .05-.8 .06 3.7 .05 .8 .06-2.7 .05 5.2 .06-12.9 .05 11.9 .06-1.4 .05 .6 .05-2.9 .06-1.1 .05-3.8 .06 5.9 .05 2.8 .06-1 .05-6.7 .06 2.8 .05-4.1 .06 23.1 .05-13.1 .06-4 .05-3 .06 12.1 .05-14.7 .06 .6 .05 5.7 .06-15.8 .05 10 .06-2.3 .05 15.6 .06-18.2 .05 18 .06 .3 .05 9.7 .06-1.1 .05-18 .06 7.3 .05 1.1 .05-1 .06-6.4 .05 3.9 .06-3.8 .05-1.4 .06 5 .05-2 .06 7.1 .05-7.6 .06-6.2 .05 6.4 .06-.7 .05-2 .06-2.6 .05 6.2 .06 2.6 .05-10.3 .06 5.3 .05 7.7 .06-16.8 .05 18.9 .06-10.9 .05-3.3 .06 1.4 .05 17.5 .06-11.1 .05 3.5 .06-2.1 .05 4.8 .06-8.8 .05 7.2 .05-8.2 .06 6.7 .05-11.6 .06-3.4 .05 4.7 .06 3.1 .05 9.9 .06-7.2 .05-4.1 .06 3.3 .05-2 .06 2.1 .05 2 .06 2.4 .05-5.5 .06 9.1 .05-11.8 .06 2.5 .05 3.8 .06 2.6 .05 .1 .06-6.1 .05 3.2 .06-9.7 .05 5.9 .06 12.4 .05-5.9 .06-6.5 .05-2.2 .05-7.2 .06 15.1 .05 1.3 .06 2.8 .05-9.4 .06-3.2 .05 5 .06 3.5 .05-1.6 .06-9.7 .05 3.8 .06 6.1 .05-8.8 .06-.6 .05 6 .06-.6 .05 3.4 .06-4.9 .05-3.1 .06 .7 .05 7.2 .06-8.4 .05 4.9 .06 5.8 .05-9.8 .06 5.2 .05-2.1 .06 3.5 .05-4.9 .05 15.3 .06-3.8 .05-8 .06-9.2 .05 7.1 .06 7.2 .05-15.9 .06 11.7 .05-1.6 .06-2.4 .05-1.8 .06-1.5 .05 6.2 .06 9.8 .05-13.5 .06-3.1 .05 12.2 .06-5.6 .05-2.2 .06 1.4 .05 1.1 .06 2.8 .05-5.3 .06 4.3 .05 4 .06-5.8 .05-1.2 .06 8.1 .05-11.4 .06 16.8 .05-13.1 .05 .4 .06 4.5 .05 3.1 .06-7.7 .05 2.4 .06-3.7 .05-7.5 .06 18.7 .05-2.5 .06-5 .05 2.8 .06-12 .05 3.5 .06 4.1 .05 1.3 .06-2.5 .05-11.4 .06 12.4 .05 7.5 .06-11.6 .05 3.4 .06 1.7 .05-2.3 .06-4.7 .05 8.4 .06-20.2 .05 12.2 .06 3 .05 .8 .05-2.2 .06-.5 .05-1.3 .06 3.7 .05-7.2 .06-1.6 .05 2.7 .06 11.6 .05-8.2 .06 4.7 .05-7.2 .06 10.2 .05-6.5 .06 1.7 .05-2.4 .06-3.9 .05 8.2 .06-10.2 .05-.6 .06 4 .05-1.1 .06-.5 .05 7.6 .06-4.9 .05-3.4 .06 5.3 .05-7.9 .06 8.4 .05 5.8 .05-8.7 .06-2.9 .05 12.6 .06 6.9 .05-18 .06 3.2 .05 12.7 .06-16.6 .05 5.5 .06-3.5 .05 .7 .06 5.9 .05 6.9 .06-12.6 .05 11.5 .06-6 .05-4.4 .06 1 .05-10.8 .06 5.6 .05 6.3 .06 2.9 .05-3.1 .06 6.3 .05-4.5 .06-9.9 .05 5.8 .06-.7 .05 6.4 .05-3.1 .06 6 .05 2.6 .06-7.6 .05-8.4 .06 13.3 .05-5.2 .06-.4 .05-3.7 .06 .2 .05 2 .06-4 .05 3.8 .06-1.2 .05-.7 .06 .7 .05 1.1 .06 2.6 .05-1.6 .06 1.9 .05 2.2 .06-3.4 .05-5.6 .06 3.8 .05-4.6 .06 3.2 .05 0 .06-4.1 .05 2.6 .06 7.6 .05-3.1 .05-1.7 .06-4.1 .05 4.9 .06 .7 .05-9.4 .06 7.7 .05 3.9 .06-5.4 .05 1.8 .06-8.1 .05 2.7 .06-2.8 .05 11.3 .06-5.1 .05-1 .06-.5 .05-4.2 .06 7.7 .05 .2 .06-3.1 .05 2.9 .06 3.4 .05-5.3 .06-.1 .05 1.1 .06-4.3 .05-8.9 .06 5.9 .05 8.7 .05-2.2 .06-8.9 .05 6.7 .06 .1 .05 4.8 .06 2.6 .05 11.7 .06-16.5 .05-3.6 .06 4.7 .05-3.9 .06 9.2 .05-10.8 .06 3.3 .05-3.3 .06 7.3 .05-3 .06-6.3 .05 .3 .06 .5 .05-4.9 .06 3.5 .05 5.4 .06-2.1 .05-.7 .06 11.7 .05-1.3 .06-9.4 .05-6.1 .05 1.2 .06 9.3 .05-4.5 .06 .6 .05 4.9 .06-13.2 .05 12.9 .06-10.4 .05-6.1 .06 6.8 .05 12.7 .06-5.6 .05-10.2 .06 6.4 .05-6.2 .06 7.5 .05 1.1 .06-4.1 .05-2.4 .06-.6 .05 7 .06-1.3 .05-.8 .06-4.4 .05 .2 .06-1.6 .05 1.9 .06 2.3 .05 3.4 .06 1.6 .05-11.6 .05 2 .06-.8 .05 11.2 .06 1.2 .05-2.5 .06 4.3 .05-15.2 .06 6.9 .05 6.4 .06-6.8 .05-.6 .06-5.3 .05 4 .06 .7 .05-11.1 .06 16.8 .05 2.3 .06-10.1 .05 .4 .06 1.5 .05-1.6 .06 3.9 .05 1.1 .06 3.9 .05-4.4 .06-5.2 .05 6.2 .06-5.4 .05 2.5 .05 2.8 .06-1.4 .05-5.6 .06 6.3 .05 0 .06-5.4 .05 2.9 .06 2.2 .05-6.1 .06 7.7 .05 1.3 .06 6.4 .05-12.1 .06-.6 .05 5.9 .06-6.5 .05 4.2 .06-.9 .05-2.7 .06-9.3 .05 8.8 .06 7.1 .05-7.4 .06 4.3 .05-1 .06 6.3 .05-7.3 .06 5.9 .05-11 .05 14.5 .06-.5 .05 .8 .06-6.3 .05-3 .06 9.3 .05-6.3 .06 2.8 .05-4.6 .06 8.5 .05-3.9 .06-3.5 .05 7.3 .06-2 .05-6.4 .06 5.3 .05-5.3 .06 7.2 .05 5.5 .06-8.2 .05 .8 .06-1.7 .05 8.4 .06-10.4 .05 1.2 .06-1.9 .05 2.5 .06 6.4 .05 8.4 .05-20.8 .06 9 .05-4.7 .06 2.8 .05 3.2 .06-6.8 .05 8 .06-9.6 .05 1.2 .06-.7 .05 5.4 .06-1.1 .05-4.1 .06 11.3 .05-5.5 .06 2.6 .05-10.5 .06 .6 .05 7.4 .06 2.4 .05-3.4 .06 10.4 .05-11 .06-.6 .05-1.1 .06-4.5 .05 6.4 .06 .3 .05-2.8 .06 13.4 .05-9.4 .05 3.1 .06-6.6 .05 8.4 .06-7.6 .05 3.4 .06 1.5 .05-5.7 .06 3.6 .05-3.5 .06 5.2 .05-8.6 .06 4.6 .05-5.1 .06 9.3 .05-3.7 .06 3.4 .05-1 .06-11.6 .05 15.2 .06-1.6 .05-7.3 .06-.3 .05-6 .06 21 .05-8.6 .06-14.7 .05 14.4 .06-2 .05 1.5 .05-2.9 .06-3.5 .05 2.5 .06 6.3 .05 3.1 .06-5.1 .05-7.5 .06 11.5 .05-6 .06 10.1 .05-10.4 .06-1.3 .05-2.5 .06 3.4 .05 2.4 .06-2.2 .05 2.9 .06 3.5 .05 5 .06 9.4 .05-18.5 .06-.6 .05-5.9 .06 10.7 .05-7.6 .06 8.4 .05-12.6 .06-1.6 .05 9.4 .05 11.8 .06-14 .05 2.7 .06 7 .05-12.5 .06 4.9 .05 5.3 .06-3.7 .05-.6 .06 1.4 .05-2.3 .06 3.5 .05 .2 .06-4.9 .05 7.8 .06-11.1 .05 1.5 .06-13.6 .05 16.2 .06 4.1 .05 0 .06-.9 .05-5.4 .06 7.9 .05-.7 .06 0 .05-1.1 .06 2.3 .05 3.5 .06-7.8 .05 .2 .05 2.2 .06-4.8 .05 .6 .06 .6 .05 3.5 .06-4.8 .05 10.4 .06 4.5 .05-7.9 .06-4.5 .05 3.3 .06 14.2 .05-15.3 .06 1.3 .05-2.5 .06 2.1 .05-8.9 .06 20.1 .05-18.1 .06-3 .05 4.6 .06 2.9 .05-1.4 .06-13.7 .05 16.3 .06 5.3 .05-20.3 .06 21.3 .05-9.4 .05 1.1 .06 .5 .05 1.6 .06-3.2 .05 2.2 .06-3.2 .05-6 .06 4.7 .05 4.9 .06-1.7 .05-4.7 .06 7.3 .05-.7 .06-5.1 .05 3 .06-8.6 .05 11.9 .06-1 .05-3.5 .06 5 .05-1.9 .06-1.7 .05 0 .06-2.5 .05 5 .06 1.6 .05-4.5 .06 1.7 .05 3.9 .05-13.6 .06 12.1 .05-.9 .06-3 .05 2.8 .06-.3 .05 5.2 .06-11.1 .05 6.2 .06 8.4 .05-19.1 .06 13.9 .05-6.8 .06 6.4 .05-7.6 .06-5.4 .05 9.5 .06-5.3 .05 6.1 .06-5.8 .05-4.6 .06 5.3 .05-6.9 .06 2 .05 7.5 .06-12.2 .05 4.8 .06-5.6 .05 13.8 .06 .9 .05-3.1 .05-6.3 .06 7.3 .05 3.3 .06-9.7 .05 9.4 .06-1.4 .05-4.1 .06-6 .05 8 .06 .7 .05 3.5 .06-11.2 .05-.5 .06 2.5 .05 4 .06-.5 .05-6.8 .06 3.7 .05 9.3 .06-4.7 .05-2.7 .06 6.5 .05-3 .06 .4 .05 4.2 .06 5.7 .05-5.7 .06 2.5 .05 6.3 .05-20.6 .06-.1 .05 9 .06 6 .05-3.5 .06-3.5 .05-6.2 .06 6.7 .05-7.9 .06 2.7 .05 2.4 .06-3 .05-9.8 .06 13.1 .05-2 .06 3.7 .05-10.8 .06 5.2 .05 5.6 .06-7.5 .05 6.5 .06-1.3 .05 0 .06-7.4 .05 13.7 .06-6.8 .05-.7 .06 16.1 .05-18.3 .05-10.1 .06 9.8 .05 3.4 .06 4.8 .05 2.8 .06-6.2 .05 2.3 .06-.1 .05-3.3 .06-4.3 .05 8.8 .06-6 .05 .4 .06-3.5 .05 5.1 .06-1 .05 1.8 .06-2.7 .05-1.5 .06-4.4 .05 21.8 .06-18.3 .05 10.7 .06 5.8 .05-13.4 .06 .4 .05 4.5 .06-8.5 .05 4.5 .05 15.4 .06-16.1 .05 8 .06-5.1 .05-.8 .06 2.2 .05-4.7 .06 2.1 .05 4 .06-1.1 .05-2.1 .06-1 .05-5.8 .06-2.9 .05 5.3 .06 1.5 .05-7.9 .06 11.9 .05-.4 .06-6 .05-.9 .06 4.2 .05-2.2 .06-.3 .05 1.1 .06-1.4 .05-7.3 .06 7.5 .05 .8 .06 4.6 .05-5.5 .05 6.5 .06-6.3 .05 2.6 .06 8 .05-13.2 .06 5.1 .05-3.8 .06 5.2 .05-1.6 .06-.7 .05-5.8 .06 2.8 .05 8.4 .06-4.8 .05-4.3 .06 .6 .05-1.8 .06 6.8 .05-5.6 .06 .6 .05 12.4 .06-10.9 .05 4.8 .06-2.7 .05-.8 .06 1.5 .05-9.9 .06 4.7 .05-1.6 .05 6.6 .06 4.3 .05-6.9 .06 .8 .05-3.3 .06 3.5 .05-1.1 .06 5.1 .05-11 .06 12.5 .05-4.5 .06 1.9 .05-5.9 .06-5.4 .05 9.3 .06-5.5 .05 3 .06 2.6 .05-13.9 .06 12.6 .05 .6 .06 6.3 .05-5 .06-4.2 .05-9.9 .06 8.1 .05 14.5 .06-4.4 .05 1.4 .05 3.9 .06-6.6 .05-8.3 .06 2.3 .05 2 .06-.1 .05 3.4 .06-15 .05 15.8 .06 1 .05-1.6 .06-18.2 .05 13.4 .06 7.4 .05-22.4 .06 6.9 .05 3.3 .06 1.6 .05-2.4 .06 11 .05-2.4 .06-2.4 .05-2.3 .06-2.7 .05 13.2 .06-5.7 .05-4.1 .06-.2 .05 20 .06-23 .05 8.7 .05-5.9 .06 3.3 .05 1.9 .06 3 .05-8.5 .06 5.5 .05 .5 .06-3.1 .05 5.6 .06 3.7 .05-3.8 .06-2.1 .05 4.1 .06-11 .05 3.2 .06-4.8 .05-2.5 .06 1.7 .05 4.8 .06 3.2 .05-4.6 .06 8.4 .05-14.3 .06 10.1 .05-1.3 .06-1.5 .05-1.7 .06 2.6 .05 4.9 .05-8.2 .06 11.7 .05-7.9 .06-2.2 .05-1.2 .06 5.1 .05-5.1 .06-5.1 .05 21 .06-10.1 .05 1.1 .06 1.1 .05-7.9 .06 2.1 .05 1.1 .06-7.8 .05 9.1 .06-7 .05 1.8 .06 5.7 .05 3 .06-2.1 .05 1.3 .06-4.7 .05 1 .06 9.2 .05-8.2 .06-4.4 .05 2.6 .05-1.9 .06 6.3 .05-2.6 .06 4.6 .05-7.6 .06-7 .05 13.2 .06 2.1 .05-11.5 .06 7.6 .05 1.3 .06 4.8 .05-15.5 .06-.2 .05 13.7 .06 .4 .05-2.9 .06-3.1 .05-10.1 .06 9.6 .05 .2 .06 3.3 .05-8 .06 10 .05-7.1 .06 6.6 .05-8.8 .06 7.8 .05-3.3 .05 4.7 .06-2.6 .05 12.2 .06-10.4 .05-6.6 .06 7.5 .05-8.5 .06 6.7 .05 1.1 .06-2.4 .05-1.2 .06-.1 .05-4.3 .06 5.9 .05-8 .06 12.1 .05-1.3 .06-2.4 .05 8.5 .06-5.5 .05-2.4 .06 2.7 .05-6.6 .06 8.3 .05-12.6 .06 8 .05-.1 .06-1.3 .05 8.1 .06-12 .05-.9 .05 6.5 .06-12.1 .05 1.4 .06 4.7 .05-2.5 .06 12.5 .05-2.7 .06-10.3 .05 8.8 .06-5.5 .05 0 .06 4.5 .05-3.1 .06-8.2 .05 1 .06 15.7 .05 2 .06-14.3 .05 .5 .06 5.4 .05 3.2 .06-5.4 .05 .3 .06-2.5 .05 4.3 .06-6.8 .05 12.2 .06-10.2 .05 11.3 .05-5.2 .06-6.5 .05 5.7 .06-3.6 .05 7.4 .06-7.4 .05 5.9 .06 3.8 .05-6.6 .06-1 .05 1.5 .06-10 .05 12.8 .06-4.6 .05 1.4 .06-1.6 .05 2.1 .06 .4 .05 9.1 .06-7.4 .05 9.5 .06-9.3 .05-4.5 .06 .4 .05-.6 .06 5 .05-11.9 .06 5 .05-1.2 .05 3.5 .06 2.9 .05-5.5 .06-7.4 .05 3.4 .06 11.2 .05-4.9 .06 2.4 .05-6.2 .06-1 .05 .6 .06 7.9 .05 .4 .06-9.6 .05 4.3 .06 10.6 .05-9.6 .06-13 .05 18.5 .06-4.4 .05 .6 .06-3.2 .05 16.2 .06-10.2 .05-4.2 .06 12.3 .05-5.3 .06-9 .05-4.9 .06 7.8 .05-6.6 .05 1.7 .06 5.9 .05 8.3 .06-1.9 .05-5.5 .06-2.3 .05-5.8 .06 3.3 .05 2.8 .06-5.2 .05-4.1 .06 8.3 .05 .5 .06-.8 .05 .5 .06-1.6 .05 2.7 .06-6.6 .05 7.4 .06-.1 .05-5.9 .06 1.3 .05-3.7 .06 10.1 .05 1.3 .06 6.5 .05-6.1 .06-4.2 .05 .2 .05-1.3 .06-4.6 .05 7.6 .06-1 .05 6.6 .06-19.4 .05 9.7 .06-5.9 .05 7.5 .06-3.2 .05 4.3 .06 5.8 .05 0 .06-12.8 .05 5.7 .06-.6 .05 4.2 .06-4.2 .05 4.5 .06 1.5 .05 .9 .06-7.3 .05-2.4 .06 6.9 .05-5.7 .06 2.8 .05-8.1 .06 3.6 .05 11.7 .05-7.9 .06-2.9 .05 9.9 .06-13.6 .05 3.3 .06 5.7 .05-5.1 .06 2.9 .05-1.3 .06-7 .05 11.8 .06-10.1 .05-1.7 .06 13.3 .05-17.2 .06 13.3 .05 6.5 .06-11.1 .05 4.6 .06 2.8 .05 3.8 .06-9.2 .05 3.8 .06 2.1 .05 4.2 .06-12.5 .05 7 .06 2 .05-4.7 .05 7 .06-9.2 .05 4.5 .06 8.5 .05-5.5 .06 2.3 .05-1.5 .06-5.4 .05-3.7 .06 6.5 .05-5.5 .06 4.7 .05-3.8 .06 6.4 .05-2.1 .06-4.7 .05 4.1 .06-8.1 .05 13.6 .06-2.4 .05 1.4 .06 .2 .05-5 .06 3.8 .05-3.5 .06 7 .05-2 .06 15 .05-23.5 .06-1.3 .05 9.3 .05-4.6 .06 6.2 .05-8 .06-3.8 .05 8.8 .06-4.2 .05 7.9 .06 .6 .05-6.9 .06 4.6 .05-10.3 .06 20.8 .05-18.5 .06-1.4 .05-1.5 .06-7.5 .05 12.7 .06-2.7 .05 2.2 .06 5.5 .05 3.2 .06-17.7 .05 6.9 .06-6.3 .05 16.3 .06-10.8 .05 7.8 .06-5.9 .05-5.1 .05 6.5 .06 6.3 .05-7.5 .06 4.5 .05-1.2 .06 5.6 .05-14.7 .06 7.2 .05-5.4 .06-2.7 .05 8.1 .06-2.3 .05-9.6 .06 21.2 .05-14.9 .06-15.5 .05 14.4 .06 10.1 .05-2.3 .06-2.9 .05-2 .06 .3 .05 7.7 .06 3.2 .05-12.1 .06 1.7 .05 .7 .06 .7 .05-5.9 .05 13.8 .06-7 .05-3.7 .06 3.4 .05 3.3 .06-5.9 .05 1.9 .06-4.7 .05 2 .06 11.5 .05-8.8 .06 6.8 .05-.3 .06-6.3 .05-7.4 .06 4.4 .05 6.4 .06-.1 .05-9.2 .06 10.4 .05-2.8 .06-1 .05-7.7 .06 4.5 .05-.7 .06 .7 .05 4.3 .06 4.1 .05-12.1 .06-2.5 .05 10.2 .05-6.3 .06-8.4 .05 15.3 .06-8.5 .05 4.4 .06 .1 .05 1.8 .06-3.9 .05 6.8 .06-.2 .05-6.7 .06-.1 .05 5.6 .06-9.3 .05 5.8 .06-5.7 .05 17.8 .06-14.7 .05-1.6 .06 7.6 .05 1.7 .06 1.8 .05-8.7 .06-1.8 .05-7.7 .06 8.2 .05 6.8 .06-4.9 .05-1.4 .05 12.9 .06-9.8 .05-6.7 .06 10.7 .05-.4 .06-3.9 .05 3.9 .06 9 .05-10.8 .06-2.7 .05-2.8 .06 6.7 .05 1.9 .06-4.5 .05-8.5 .06 18.1 .05-.3 .06-1.9 .05-3.3 .06 1.3 .05 .3 .06-1.5 .05 4.3 .06-5.4 .05-8.1 .06 8.8 .05-1.8 .06-.7 .05 6.3 .05-5.8 .06-2.9 .05 2 .06 6.5 .05-4.3 .06 .7 .05-4.6 .06 3 .05-.3 .06-1.9 .05 .9 .06-4 .05 4.9 .06 10.3 .05-11.7 .06-.5 .05 6.3 .06-5.1 .05-1.1 .06 2.9 .05-1.2 .06-3.3 .05 16 .06-10.9 .05-5.2 .06 4 .05 4.5 .06-1.8 .05 1.2 .05-9.2 .06 1.5 .05 12.9 .06-13.1 .05 8 .06 1.2 .05-11.7 .06 1.7 .05 7.6 .06-7.1 .05 1.4 .06 7 .05-8.2 .06 7.5 .05-3.9 .06 2.4 .05-1 .06-4.9 .05 1.9 .06 2.6 .05-2.7 .06 6.9 .05-.6 .06-6.6 .05-2.9 .06 1.5 .05 2.7 .06 1.5 .05-6 .06 5.6 .05-1.4 .05-3.7 .06 6.9 .05-6.1 .06 3.1 .05 6.5 .06-3.8 .05 4.2 .06-4.7 .05-7.3 .06-4.6 .05 14.2 .06 1.3 .05-1.7 .06-3.4 .05 7.5 .06-2.4 .05 3.9 .06-9.8 .05-3.7 .06 2.2 .05 5.7 .06-5.4 .05 7.2 .06-4.9 .05 3.3 .06-3.5 .05 7.6 .06-12.4 .05 9.7 .05-9.4 .06 .4 .05 3.1 .06-2 .05 1.9 .06 7 .05-1.8 .06 4.8 .05-17.4 .06 7.2 .05-4.1 .06 5.8 .05 4.1 .06-.1 .05-4.4 .06-5.7 .05 4.4 .06-2.5 .05 4.1 .06-9.4 .05 9.1 .06-4.4 .05 12.5 .06-15.1 .05 3.6 .06-4.7 .05 4.9 .06 4.2 .05-.3 .05-4.9 .06 5.9 .05 9.5 .06-7.5 .05-5.8 .06 7.6 .05-3.8 .06-8.9 .05 14.4 .06-3 .05-6 .06 6.8 .05-2 .06-1.5 .05-4.2 .06 .9 .05 3.1 .06 3.2 .05-4.3 .06 1.9 .05-9.8 .06 2.4 .05 2.6 .06 18.6 .05-13 .06-1.8 .05 3.6 .06-2.5 .05 3.2 .06-5.6 .05 2.9 .05-4.2 .06 4.1 .05 10.7 .06-15.5 .05 6.5 .06-12.9 .05 0 .06 16.3 .05 .3 .06-9.4 .05 1.7 .06-.3 .05 2.2 .06 1.3 .05 5.3 .06-5.2 .05 5.9 .06-3.1 .05-9.9 .06 24.8 .05-13.5 .06-3 .05-3.4 .06 1.5 .05 .9 .06-1.5 .05 3.3 .06-4 .05 .8 .05 1.7 .06-9.2 .05 13.4 .06-5.4 .05 9.7 .06-1 .05 2 .06-9.7 .05-9.6 .06 10.1 .05-5.2 .06 23.1 .05-20.9 .06 12.7 .05-13.8 .06 .1 .05 4 .06-5.7 .05 8.2 .06-5.8 .05 3 .06-1 .05-6.9 .06 7.3 .05-5.5 .06 10.3 .05-7.4 .06 9 .05-11.6 .05 8.3 .06-11.1 .05 3.7 .06 11.2 .05-6.4 .06 1.5 .05 4.1 .06-3.1 .05-19.3 .06 7.5 .05 12 .06 3.5 .05-2.6 .06-9.7 .05-3.1 .06 5.9 .05-.8 .06 4.4 .05 1.8 .06-6.7 .05 7.4 .06-11.3 .05 8 .06-5.3 .05 8.9 .06-3.3 .05-4.7 .06 4.3 .05-11 .05 8.9 .06-2.3 .05-3.7 .06 6.2 .05-1.1 .06 13.9 .05-11.4 .06-.4 .05-5.2 .06 4.3 .05-7.1 .06 7.6 .05-1.2 .06-3.3 .05 6.1 .06-6.7 .05 3.2 .06-4.2 .05 2.3 .06 2.1 .05 4.9 .06-5.4 .05-4.2 .06 1.1 .05 4.1 .06-2.7 .05 4.2 .06-6.2 .05-.3 .06-.7 .05 10 .05-10.6 .06 1.9 .05-3.2 .06 2.2 .05-7.1 .06 6.7 .05 8.5 .06-3.6 .05 3.2 .06-11 .05 .8 .06 9.2 .05-3.9 .06 6.2 .05-4.5 .06-2.6 .05 2.7 .06-5.3 .05 3.7 .06 0 .05-2.9 .06 1.6 .05 .5 .06 4.9 .05 1.4 .06-3.2 .05-1.2 .06 4.6 .05-16 .05 9.9 .06 4.1 .05-.2 .06 1.6 .05 3.3 .06-7.8 .05 2.2 .06 2.8 .05-3.9 .06-6.3 .05 7 .06 .2 .05 9.1 .06-15.7 .05 8.2 .06-4.3 .05-.6 .06-.1 .05 9.6 .06-7.3 .05-2 .06 7.4 .05 0 .06-8.8 .05 3.5 .06 7.5 .05-9.6 .06 19.9 .05-19.7 .05-4 .06-.9 .05 4.5 .06 3.8 .05-4.3 .06-1.3 .05-2.4 .06 4.7 .05 3.6 .06 .7 .05-9.9 .06-2.7 .05 7.6 .06-.7 .05 .7 .06 2.9 .05 3.5 .06-17.8 .05 .6 .06 14.3 .05-6.8 .06 6.7 .05-2 .06 2 .05 2.3 .06-3.9 .05 2.6 .06-5.9 .05 10.4 .06-8.2 .05-1.2 .05 2.3 .06 0 .05 2.5 .06-8 .05 5.9 .06-6 .05 4.3 .06-1.6 .05 9 .06-4.3 .05-5.4 .06 6.5 .05 .4 .06-14.8 .05 29.8 .06-24.4 .05 4.8 .06 4.5 .05-6.2 .06 3.1 .05-1.3 .06 13.8 .05-10.1 .06 .7 .05-4.2 .06-.8 .05-.1 .06 9.8 .05-14 .05 7.4 .06-9.2 .05 12.3 .06-5 .05 4.3 .06 4.9 .05-14.3 .06 12.6 .05-13.7 .06 3 .05 .3 .06-2 .05 8.9 .06-4.6 .05 4.2 .06-16.9 .05 15.6 .06-6.1 .05 6.7 .06-6.1 .05 2.1 .06-3 .05 3.8 .06 7.6 .05 .5 .06-3.9 .05-12.3 .06 5 .05-10.9 .05 9.2 .06 6.7 .05 5.4 .06-4.8 .05-1.4 .06-1.7 .05 2 .06-4.3 .05 5.5 .06-7.1 .05 6.4 .06-.3 .05-4.1 .06 5.6 .05-1 .06-7.3 .05 10.7 .06 3.8 .05-7.7 .06 5.9 .05-10.7 .06 6.3 .05 5.4 .06-14.3 .05 3.1 .06 1 .05-1 .06 9.3 .05-3.6 .06-.7 .05 4 .05-7.3 .06 5.2 .05-.6 .06-4.5 .05 1.8 .06 15.2 .05-12.2 .06-4.1 .05 7.8 .06-7.7 .05-1.9 .06 19.5 .05-14 .06 3.3 .05-7.2 .06 1.2 .05 3.3 .06-6.2 .05 7.9 .06-6 .05-2.4 .06 7.8 .05-8.3 .06-2.1 .05 3.8 .06 4.4 .05 .4 .06 7.2 .05-4.8 .05-4.4 .06 5.9 .05 .5 .06-5.9 .05 9 .06-3.1 .05-2.7 .06-6.3 .05 7.5 .06-4.3 .05 8.2 .06-7.1 .05 1.6 .06-9.5 .05 2.6 .06 5.5 .05-2.6 .06 2.7 .05-3 .06 5.9 .05-4.1 .06 1 .05-10.4 .06 9.5 .05 2.6 .06-8.7 .05 9.8 .06 3.5 .05-4.4 .05 3.8 .06-1.6 .05-10.4 .06-4.7 .05 14.2 .06-2.9 .05-.4 .06 3.2 .05-2 .06 5 .05-4.2 .06-4.6 .05 3.8 .06-1.1 .05 4.1 .06 3 .05-18.4 .06 5.8 .05 13.9 .06-11 .05-7.2 .06 4.3 .05 6.8 .06-4.5 .05 1 .06 3.1 .05-1.4 .06-4.2 .05-4.1 .05 9.8 .06 .8 .05 .6 .06-4.5 .05 7.1 .06 .7 .05-19.2 .06 10.9 .05-4.1 .06 3.4 .05-.4 .06 8 .05-2.4 .06-5.2 .05-.9 .06 10.6 .05-7.7 .06-4 .05 5.6 .06-.7 .05 8.4 .06-13.2 .05-1.9 .06 7.3 .05-.5 .06-3.7 .05 1.8 .06-2.9 .05 7.6 .06-11.9 .05-.1 .05 23.9 .06-.5 .05-16.6 .06 2.2 .05 2.3 .06 .9 .05 10.8 .06-16.1 .05 6.4 .06-10.6 .05 11 .06 2.9 .05-1 .06 4.4 .05-11.8 .06 2.9 .05 4 .06-3.9 .05-4.9 .06 3.1 .05 2.7 .06-.9 .05 5.5 .06-6.9 .05 2.4 .06 3.6 .05-3.2 .06-1.5 .05-.7 .05 4.8 .06-7.9 .05 3.5 .06 5.4 .05-1.1 .06-3.3 .05-6.3 .06 6.3 .05-2.4 .06 3.5 .05-2.2 .06-5.3 .05 1.4 .06 3.6 .05-2.1 .06 .3 .05-2.3 .06 3.7 .05-1.2 .06-11.1 .05 7.4 .06 10 .05-4.4 .06 5.6 .05-7.7 .06-.3 .05 4.3 .06-.5 .05-1.1 .05-8.5 .06 13.1 .05-7.1 .06 9 .05-4.2 .06-1 .05-1.3 .06-2.8 .05 .3 .06-.5 .05 3.5 .06 .3 .05 .5 .06-14.7 .05 11 .06 .1 .05 .3 .06-2.8 .05 10.4 .06-10.8 .05 3.7 .06-4.5 .05-2.8 .06 3 .05 .6 .06-1.8 .05-.2 .06 8.1 .05-6.4 .06 5.1 .05-1 .05-5 .06 2.1 .05 8.2 .06-21.2 .05 17.7 .06-1.5 .05 .6 .06 4 .05-15.4 .06 13.2 .05-4.9 .06 10.7 .05-12 .06 4 .05-7.3 .06 8.4 .05-9.2 .06 4 .05 4 .06-13 .05 14.8 .06-2 .05-.1 .06 4.7 .05-12.2 .06 8.9 .05-4.1 .06-2.3 .05 6.3 .05-11.5 .06 10.5 .05-8.4 .06 1.1 .05 8.9 .06-10.3 .05 5.2 .06 .9 .05-2.6 .06-2.8 .05 4.6 .06-2.3 .05 18.4 .06-9.3 .05-6.4 .06 .2 .05 8.7 .06-7.5 .05 2.3 .06 1.1 .05-12 .06 10.9 .05-14.3 .06 24.1 .05-6.3 .06-2.4 .05-12.1 .06 6.4 .05-7.1 .05 7.1 .06 .2 .05 6 .06 1.3 .05-1.7 .06-8.4 .05 4.2 .06 3.2 .05-13.5 .06 13.7 .05-6.3 .06 .7 .05 6.1 .06 .1 .05-5.6 .06-.8 .05 4.9 .06-2.2 .05-1.3 .06 3.5 .05 .1 .06-.5 .05 2.2 .06-2.8 .05 10.6 .06-7.8 .05-16.9 .06 19.2 .05-.1 .05-5.3 .06 4.9 .05-5.4 .06-1.7 .05 6.7 .06-.8 .05 1.7 .06-5.6 .05-5.2 .06 4.9 .05 6.3 .06 2.9 .05-14 .06 12.5 .05-15.4 .06 3.4 .05-3.6 .06 5.8 .05 13.8 .06-15.3 .05 6.5 .06-3.3 .05-1.3 .06 5.6 .05-4.4 .06 6.5 .05-4.2 .06-11.3 .05 17.9 .06-11 .05 1.6 .05 1.4 .06 12.3 .05-10.6 .06-1.7 .05 3.8 .06-2 .05 9 .06-12.3 .05 6.3 .06-4.7 .05-3.5 .06 3.8 .05-16.9 .06 17.3 .05 2.8 .06 3.1 .05-6.7 .06-4.1 .05 7.4 .06-6.5 .05 5.6 .06 1.9 .05 5.7 .06-3.3 .05 9.3 .06-11.3 .05-3.6 .06-12.3 .05 12.4" fill="none" stroke="#ff0000" stroke-width="0.8" stroke-linejoin="round" opacity="1.0"/>
<path d="M48.40 140.3l.05-3 .06 8 .05-11.3 .06 16.9 .05-19.7 .06 8.3 .05 1.5 .06 1.6 .05-1.1 .06-9.6 .05 13.6 .06-9.4 .05-8.8 .06 3.2 .05 1.6 .06 4.9 .05-3.6 .06-3.6 .05-.5 .06 4 .05 9.4 .06-10.7 .05 13.4 .06-11.7 .05-1.7 .06 6.9 .05-10.7 .06-4.7 .05 5.7 .05-6 .06 6 .05-4.3 .06 8.9 .05-4.4 .06 1.7 .05-1.2 .06-13.3 .05 19.4 .06-14.7 .05 3.4 .06 12.1 .05-25.4 .06 18.6 .05-11 .06 15.7 .05-8.4 .06-1.4 .05 20.4 .06-17.3 .05-6.2 .06 1.2 .05 5.3 .06-1.4 .05 6.4 .06-8.5 .05 1 .06-2.1 .05 7.7 .06 18.6 .05-9.8 .05-22.6 .06 11 .05-6.6 .06-2.1 .05 .5 .06-1.6 .05 21.2 .06-7.5 .05-8.6 .06 3.6 .05-1.6 .06-6.9 .05 4.1 .06-9.3 .05 17.3 .06-14.7 .05-7.6 .06 11 .05 5.8 .06 14.2 .05-9.6 .06-2.8 .05-4.7 .06 5.7 .05-6.7 .06-.4 .05 .3 .06 9.5 .05-21.9 .05 11.6 .06 5 .05 2.5 .06-11.8 .05 4.9 .06 5.6 .05-12.3 .06 7.4 .05-2.5 .06-3.9 .05 18.9 .06-13.2 .05 2.9 .06-9.9 .05 19.5 .06-3.3 .05-13.1 .06 .7 .05-7.6 .06 13.1 .05 1.4 .06 .8 .05 10.2 .06-10 .05-11.3 .06 11.6 .05-3 .06-5 .05-3.1 .05 5.5 .06 11.3 .05 11.5 .06-19.2 .05-10.9 .06 .1 .05 1.4 .06-2.2 .05 8 .06 2.4 .05-13.6 .06 14.4 .05 6.3 .06-19 .05-2.2 .06 12.1 .05-12.9 .06 19.4 .05-5 .06 3.4 .05-7.3 .06-1.2 .05-.8 .06 7.1 .05-11.1 .06 2.6 .05 8.4 .06 1.6 .05-20.5 .05 10.1 .06 17.9 .05-3.4 .06-12 .05 10.3 .06-12.4 .05 3.5 .06-2.8 .05 1.1 .06 10.7 .05-10.3 .06-6.4 .05 13.3 .06-11.7 .05 13.3 .06-11.2 .05 4.5 .06 2.4 .05 1.7 .06-10 .05 4.9 .06 .8 .05-1.8 .06 4.3 .05-3.9 .06 6.5 .05-16.1 .06 6.9 .05 11.5 .06-7.5 .05 7.8 .05-5.4 .06-14.5 .05 27.1 .06-18.1 .05 1.4 .06 1.8 .05-.3 .06-5.3 .05 4.6 .06 8 .05-.8 .06-5.3 .05 3.2 .06-.5 .05 5.3 .06-9.3 .05 1.9 .06 3 .05 4.3 .06-11.7 .05 2 .06 11.8 .05-18.4 .06 5 .05 .1 .06 1.7 .05-.9 .06-1.4 .05 1.7 .05 7.5 .06-7.5 .05 6.1 .06 12.7 .05-30.3 .06 10.3 .05 .9 .06-13.8 .05 19.8 .06 5.3 .05-1.5 .06-9.1 .05 5.4 .06-5.3 .05-12.5 .06 17.7 .05-.4 .06-7.7 .05 4.3 .06-6.6 .05 4.3 .06 .8 .05-.9 .06-4.4 .05 2.8 .06 2.2 .05 7.8 .06-16.5 .05 5.1 .05 5.3 .06 4.6 .05-20.1 .06 17 .05-1.4 .06-7.2 .05 5.1 .06 3.9 .05 1 .06 .2 .05-6 .06-7 .05 7.5 .06 10.3 .05-9.6 .06-1.6 .05-7 .06 7.8 .05 .2 .06-2 .05 10.2 .06-13 .05 11 .06-12.1 .05 5.7 .06-6.6 .05 7.6 .06-5.3 .05 9.8 .06-2 .05 1.6 .05-6.8 .06 1.5 .05-8.2 .06 10.5 .05-4.3 .06 6.5 .05-2 .06 .3 .05-4.4 .06-6.4 .05 7.3 .06-4.4 .05 1.6 .06 6.5 .05-7.8 .06 1.4 .05 1.5 .06 4.1 .05 7 .06 12.3 .05-22.5 .06-7.2 .05 6.3 .06-2.6 .05 .5 .06 3.7 .05-3.5 .06-7.7 .05 8.9 .05-2.3 .06 5.7 .05-3.1 .06 2.1 .05-1.3 .06 2.1 .05 8.1 .06-9.3 .05-3.9 .06 12.6 .05-17.7 .06 12.3 .05-8.3 .06 8.2 .05-8.4 .06 24.3 .05-25.3 .06 15.2 .05-9.3 .06-3.2 .05 7.9 .06-8.3 .05 6.1 .06-4 .05 2.8 .06-3.4 .05 10.5 .06-3.5 .05 7.9 .05-15.1 .06 6.5 .05-.7 .06-5.3 .05 3.8 .06-3.9 .05 3.2 .06-4.1 .05 9.2 .06-8.1 .05 2.4 .06 4.6 .05-11.5 .06 5.2 .05 2.1 .06 4 .05-4.4 .06-9.1 .05 11.2 .06 6.5 .05-12 .06 8.1 .05-14.8 .06 6.4 .05-7.4 .06 6.9 .05-7.4 .06 20.9 .05-13.7 .05 8 .06-11.9 .05 2.7 .06 .7 .05-2.8 .06 11.1 .05-9.2 .06 13 .05 2.3 .06-9.6 .05-1.6 .06 1.8 .05-.1 .06-6.1 .05 13.6 .06-6.1 .05-.8 .06-11.2 .05 3.5 .06-3.3 .05 18.3 .06-13.2 .05 1.4 .06 7.3 .05-8.2 .06-12.6 .05 19.7 .06-3.5 .05-1.4 .06 5.3 .05 .4 .05-13.6 .06 7.7 .05 2.2 .06 2.2 .05 6.6 .06-4.1 .05 9.2 .06-21.2 .05 3.2 .06-7.3 .05 16.1 .06-8.5 .05-4.3 .06 6.6 .05-3.5 .06 5.6 .05 3.3 .06-4.1 .05-5.9 .06-5.2 .05 7.4 .06 2.9 .05-11.1 .06 16.2 .05-9.2 .06 9.1 .05-16.5 .06 6.8 .05 2.3 .05 2.5 .06 4.8 .05-2.5 .06-13.8 .05 9.9 .06 2.9 .05 7.1 .06-16.8 .05 11.2 .06 2.5 .05-1.5 .06-7 .05 .2 .06-.6 .05-6.3 .06 9.6 .05 4.8 .06 4.7 .05-8.3 .06 4.1 .05-2.2 .06 .1 .05 5.3 .06-2 .05-4.1 .06-1.9 .05-4.4 .06 12.1 .05 4.3 .05-14.3 .06 8.9 .05-7.4 .06 1.9 .05-.1 .06-8.8 .05-4.7 .06 10.9 .05 3.6 .06 .1 .05 .7 .06 0 .05 1.5 .06-4 .05-17.6 .06 17 .05-2.8 .06-13.1 .05 22 .06-7.2 .05 4.3 .06-7.3 .05 13.4 .06-19 .05 1.5 .06 26.6 .05-19.7 .06 2.6 .05-8 .06 2.1 .05 11.1 .05-5.7 .06-7.2 .05 7.6 .06 4.3 .05-.8 .06-4.6 .05 .9 .06-1.8 .05 5.2 .06 7.9 .05-9.7 .06 3 .05-10.6 .06 2.9 .05-5.7 .06 2.1 .05 5.6 .06 .9 .05-5.1 .06-5.6 .05 12 .06 6.1 .05-11.8 .06 4.8 .05-.2 .06 .4 .05 .3 .06-4.9 .05-2.9 .05 5.6 .06-2.5 .05 6.6 .06-7.7 .05-3.6 .06 10.4 .05 2.9 .06-9.8 .05 .9 .06 10 .05 3.3 .06 1.4 .05-16.3 .06 9.7 .05-7.6 .06-1.5 .05 6.9 .06-5.4 .05 3.6 .06-10.4 .05 4.7 .06 5.5 .05-2.7 .06-6 .05-7.9 .06 25.4 .05-6.8 .06-9 .05 6.5 .05-1.1 .06 6.1 .05-5 .06-4.5 .05 8.5 .06-5.1 .05 3.5 .06-3.7 .05 7.8 .06-4.8 .05-6.3 .06 9.5 .05-12 .06 25.2 .05-13.4 .06-2.3 .05 .1 .06-3.6 .05-12 .06 15.5 .05-5.1 .06-4.5 .05 11 .06-18.3 .05 12.9 .06-.1 .05-5.1 .06-6.6 .05 1.8 .06 8 .05 3.8 .05-2.4 .06-1.5 .05 8.7 .06-7.7 .05-6.8 .06 11.2 .05 1.4 .06 2.8 .05-1.4 .06 1.7 .05-7.8 .06-.6 .05 19 .06-14.8 .05 .4 .06-7.3 .05 5.5 .06-6.5 .05 6.4 .06-4.7 .05 16 .06-5.3 .05 2 .06-3.8 .05-4.3 .06 0 .05-3.2 .06 2.5 .05-.5 .05-12.3 .06 17.7 .05-11.3 .06-4 .05 7.4 .06-2.2 .05 7.8 .06-12.9 .05 18 .06-8.8 .05-.9 .06 .6 .05 3.4 .06 9.8 .05-22 .06 7.2 .05-5.9 .06-.6 .05 13.6 .06 6.6 .05-1.6 .06-12 .05-1.1 .06-4.6 .05 12.4 .06-15.6 .05 13.8 .06-11.8 .05 10.4 .05-3.4 .06-1.3 .05-10.1 .06 19.9 .05-4.6 .06-6.5 .05 3.7 .06-3 .05-3 .06 8.6 .05 7.4 .06-11.9 .05 7.9 .06-4.3 .05-3.5 .06 1.9 .05 4 .06-3.2 .05 7.5 .06-7.4 .05 11 .06-10.1 .05 1.3 .06-8 .05-6.1 .06 7.1 .05 3.9 .06 5.9 .05-2.3 .05-4.2 .06 4.3 .05 6.1 .06-7.4 .05 2.3 .06-3.6 .05 2.7 .06-8.7 .05 13.7 .06-13 .05 5.9 .06-9 .05 7.5 .06-9.9 .05 14.7 .06 9.7 .05-17.8 .06 8.9 .05-8.7 .06 3.1 .05 4.4 .06-6 .05 2.7 .06 6.4 .05-10.9 .06 6.9 .05-2.9 .06-.3 .05-2.4 .06-6.9 .05 3.9 .05 5.9 .06 6.4 .05-12.7 .06 15.1 .05-16.9 .06 14.2 .05-3.7 .06-5.4 .05-2.1 .06 1.2 .05 8.8 .06 .5 .05 0 .06-.4 .05 1 .06-4.9 .05-9 .06 2.9 .05 3.7 .06-1.4 .05 5.8 .06 1.9 .05-9.6 .06-6.5 .05 22.8 .06-12.1 .05 11.3 .06-20 .05 22 .05-22.4 .06 13.5 .05-2.1 .06-4.1 .05 9.3 .06 5.1 .05-10.2 .06 3.1 .05-4.9 .06-4.7 .05 3.5 .06 2.8 .05-3.5 .06 .3 .05 9.8 .06-11.3 .05 12.7 .06-13.8 .05 12.8 .06-9.2 .05 8.6 .06-5.2 .05 1.7 .06 .5 .05-2.9 .06-3.4 .05-1.8 .06 8.6 .05-8.8 .05 7.5 .06-2.4 .05 .1 .06-3.8 .05 10.3 .06-9 .05 3.4 .06-10.7 .05 13.7 .06-8.4 .05 6.9 .06 3.3 .05-8.2 .06-10.6 .05 12.6 .06 .7 .05-.2 .06-2.9 .05 6.9 .06-.9 .05 3.2 .06-3.4 .05-.6 .06-11.4 .05 11.2 .06-15.9 .05 16 .06 7.2 .05-23.5 .06 13.6 .05-10.5 .05 5.2 .06 3.9 .05-.1 .06 7.3 .05-14.6 .06 .9 .05 9.9 .06-9.8 .05 11.9 .06-7.5 .05 1.8 .06-2.2 .05 0 .06 2.3 .05 5.6 .06-3.6 .05-3.6 .06 11.2 .05-13.1 .06 13.1 .05-16.6 .06 9.1 .05-2.8 .06-14.1 .05 27.4 .06-12.1 .05-3.2 .06 7.3 .05-6 .05 5.4 .06 3.6 .05-13.1 .06 15.4 .05-13.4 .06 12 .05-19.4 .06 17.3 .05-4.8 .06-12.5 .05 6.1 .06 10.8 .05-.8 .06-9.7 .05 7.4 .06-5.9 .05 .9 .06 11.9 .05-16.7 .06 19.1 .05-11.7 .06-7 .05-2.3 .06 10.1 .05-1.4 .06 2 .05-4.3 .06-4.1 .05 5.3 .05 6.1 .06 3.2 .05 2.7 .06-8.2 .05 2 .06-11.6 .05 18.5 .06-6.2 .05-.5 .06 4.1 .05-10.2 .06 2.5 .05-.8 .06 5.7 .05-2.5 .06 1.9 .05-3.5 .06 3.1 .05-12.5 .06 16.8 .05-.6 .06 2.3 .05-20.2 .06-1.7 .05 13.2 .06 12.6 .05-16.9 .06 4.7 .05 9.2 .05 .6 .06-14.2 .05 17.3 .06-15.5 .05-.7 .06 4.8 .05 2.2 .06-7.7 .05 12.9 .06-6.5 .05 4.9 .06-7.6 .05-4.8 .06 2.6 .05-11.1 .06 17.3 .05-7.4 .06 3.6 .05 4.4 .06 .6 .05-3.3 .06-4.7 .05 6 .06-20 .05 23.9 .06-2.7 .05-4.2 .06-7.5 .05 8.7 .06 12.3 .05-21.6 .05-.6 .06 13.2 .05 4.7 .06-11.1 .05 2.9 .06 7.8 .05-3.4 .06-4.2 .05-9.3 .06-.3 .05 13.5 .06-7.5 .05 2.8 .06 7.4 .05-4.9 .06 2.5 .05-6.3 .06 2.6 .05-2.4 .06-2.7 .05 5.4 .06 4.6 .05-16.5 .06 5.7 .05-6.7 .06 2.5 .05 7.7 .06 15.1 .05-10.8 .05-3.5 .06-7.7 .05 2.2 .06 5.1 .05 2.5 .06-11.5 .05 6.7 .06 10.4 .05-9.6 .06 6.2 .05-.2 .06-13.9 .05 11.3 .06 4.7 .05-4.2 .06-11.7 .05 5.6 .06 10.6 .05-12.4 .06-1.6 .05 2.8 .06 19.8 .05-.9 .06-12.9 .05-10.2 .06-4.1 .05 16.3 .06-8.4 .05 9.8 .05-11.5 .06-7.2 .05 10.9 .06-1.7 .05 0 .06 6.1 .05 2.3 .06-4.7 .05-4 .06 13.3 .05-7.9 .06-6.4 .05 .2 .06-2.6 .05 11.7 .06-1.7 .05-9.1 .06 11.5 .05-5.1 .06-2.3 .05 8 .06-13.1 .05 12.6 .06-3.4 .05-12.7 .06 9.6 .05 7.5 .06-8.5 .05-3 .06-1.8 .05 12.3 .05-6.4 .06-4.5 .05-7.7 .06 7.6 .05-3.5 .06 12.8 .05-14.8 .06 9.6 .05-10.2 .06 12.7 .05 4.1 .06-5.4 .05-3.3 .06-5.7 .05 9.9 .06 6.1 .05-12.9 .06 12.4 .05 5.6 .06-18.7 .05 9.1 .06-5.9 .05 4.2 .06 10.2 .05-24.8 .06 4.4 .05-4.4 .06 17.6 .05-2.5 .05-1 .06-3 .05-.1 .06-4.3 .05 .3 .06 7.4 .05-6.4 .06 5.9 .05-5.9 .06 10.4 .05-4.5 .06-17.6 .05 17.5 .06-16.1 .05 19.3 .06-6.2 .05-1.4 .06-1.7 .05-10.7 .06 24.9 .05 7.1 .06-14.1 .05 .1 .06-4.9 .05 1.4 .06 10.3 .05-4.5 .06-8.4 .05 11.9 .05-9.3 .06-.6 .05 1.3 .06 8.6 .05-15.3 .06 2.8 .05-6.2 .06 7.8 .05 1.9 .06-.4 .05 10.6 .06-2.5 .05-10.8 .06-13 .05 18.3 .06 4.2 .05 1.3 .06-12.4 .05 24.1 .06-18 .05-2.6 .06 .2 .05-8 .06 5.9 .05 8.9 .06-.7 .05-7.4 .06 12.8 .05 2.6 .05-11.2 .06-6.5 .05-1.5 .06 6.7 .05 5.1 .06-3.9 .05-.2 .06-6.1 .05 0 .06 3.2 .05-6.2 .06 11.5 .05-2.5 .06 .9 .05-3 .06 1.7 .05-2.9 .06 3.7 .05-3.6 .06 1.7 .05 7.5 .06-.2 .05-5.5 .06 5.6 .05-14.6 .06 .4 .05 2.8 .06 14.6 .05-14.7 .06 13 .05-.6 .05 10.5 .06-6.7 .05-9.4 .06 3.4 .05 .1 .06 .5 .05-13.8 .06 8.4 .05 2.9 .06 5.3 .05-12.8 .06 7 .05-.5 .06-.9 .05 11.8 .06-16 .05 3.6 .06-5.4 .05 .6 .06 9 .05 1.7 .06-9.2 .05 4.6 .06-1.8 .05-1.1 .06 5.7 .05-3.3 .06-3.6 .05 1 .05 14.9 .06-8.8 .05 2.9 .06-1.6 .05-9.5 .06 6.7 .05 2.5 .06-4 .05-2.3 .06 13.9 .05-10.7 .06 .1 .05 2.3 .06 6.5 .05-7.7 .06 12 .05 10.3 .06-19.7 .05-5 .06 3.5 .05 11 .06-10.4 .05 1.5 .06-11.4 .05 6 .06-6.4 .05-3.8 .06 8.6 .05 6.4 .05-4.7 .06 8.3 .05-14 .06 3.6 .05 6.2 .06-.2 .05-8.5 .06-1.9 .05-3.2 .06 8.4 .05-.1 .06-4.4 .05 .9 .06-6.3 .05 13.6 .06 7.3 .05-5.8 .06-3.5 .05-2.6 .06 2.2 .05 12.6 .06-17.6 .05-2.1 .06 3.1 .05-1.5 .06 11.8 .05-5.9 .06-12.5 .05 1.9 .06 20.6 .05-9.7 .05 11.4 .06-19.1 .05 .7 .06 4.4 .05 3 .06-2.6 .05-.4 .06-8.7 .05 15.3 .06-8.8 .05 25.6 .06-31.1 .05 12.8 .06-14.4 .05 .5 .06 9.9 .05 3.9 .06-6.5 .05-5.4 .06 9.9 .05 .3 .06-4.4 .05 5.8 .06 2.8 .05-10.1 .06 13.4 .05-9.3 .06-7.1 .05 12.2 .05-9.4 .06-.9 .05 11.1 .06-1.9 .05-11.1 .06-7.7 .05 16.1 .06-.3 .05-1.9 .06-.6 .05 6.1 .06-2.1 .05-12.8 .06 7.8 .05-11.2 .06 6.2 .05 7.5 .06-1.9 .05-5.2 .06 17.7 .05-14.2 .06-1.7 .05 7.2 .06-4.5 .05-1.9 .06 13.9 .05-28 .06 30.6 .05-11.8 .05-9.5 .06-2.4 .05 5.4 .06 .2 .05-5.1 .06 7.1 .05-4.6 .06 6.1 .05 .6 .06 4 .05-3.5 .06 3.8 .05 .7 .06-6.6 .05 12.2 .06-14.9 .05 7.6 .06 8.6 .05-10.5 .06-1.6 .05 1.2 .06 7.1 .05-.2 .06 2 .05-2.6 .06-3.8 .05-3.9 .06 8.3 .05-6.3 .05 11 .06-15.3 .05 19.3 .06-26.7 .05 18.4 .06-15.9 .05 13.5 .06-3.2 .05 2.6 .06-1.6 .05 3.9 .06-1.1 .05 .9 .06-8.5 .05 5 .06 8.3 .05 .6 .06-23 .05 15.4 .06-6.1 .05-2.1 .06-.9 .05 .6 .06 8.1 .05-.4 .06 1.6 .05 5.3 .06 .7 .05-2.3 .06-17.6 .05 12 .05 1.3 .06 .8 .05 6.8 .06-22 .05 1.2 .06 19.8 .05-10.8 .06 9.9 .05-27.2 .06 16.9 .05 .6 .06 2.3 .05-4.8 .06-19.7 .05 26.5 .06-7.4 .05 2.7 .06-9.4 .05 6 .06 3.9 .05-19.9 .06 16.1 .05-1.4 .06-2.1 .05-3.5 .06 2.3 .05 5.8 .06 .7 .05-6.8 .05 6.8 .06-12.9 .05-1.9 .06 5.6 .05 14.3 .06-12.5 .05-10.2 .06 27.7 .05-14.1 .06-3.5 .05 1.4 .06 8.8 .05-14.4 .06 13.2 .05 1.4 .06-18.8 .05 13.8 .06-.6 .05 1.6 .06-2.1 .05-2.6 .06-.3 .05-7.7 .06 7.2 .05-6 .06 5.6 .05 13.4 .06-27.9 .05 8.2 .05 6.5 .06 8.3 .05-6.3 .06-10.1 .05 2.4 .06 13 .05 4.1 .06-6.8 .05-3.9 .06 8.2 .05-8.4 .06-7 .05 6.3 .06 9.8 .05-27.3 .06 10.3 .05 9.5 .06 .6 .05-7.4 .06-2.4 .05 5.7 .06-1.4 .05 6.3 .06 2.1 .05-2.6 .06-6.8 .05 8.3 .06-10.2 .05 3.5 .06 1.4 .05-1.8 .05 8.9 .06-8 .05 4.6 .06-.1 .05-10.4 .06 3.9 .05 1 .06 4.2 .05 7.9 .06-12.5 .05 4.9 .06 0 .05 4.5 .06 2.5 .05-10.9 .06 5 .05 2 .06-6.7 .05 2.6 .06 .8 .05-20.3 .06 26.3 .05-13.6 .06 3.7 .05 7.1 .06-5.9 .05 5.7 .06-6.6 .05 9.5 .05-9.6 .06 18.8 .05-1.3 .06-18.9 .05-.5 .06-2.6 .05 4.8 .06-1.4 .05-3.3 .06 10.9 .05 4 .06-5.4 .05-8.3 .06 10.4 .05-6 .06 5.4 .05 1.5 .06 7.5 .05-9.5 .06 4.4 .05-4.5 .06-.2 .05-7.2 .06-1.7 .05 11.7 .06-5.4 .05-1.1 .06 4.2 .05-5.9 .05 .9 .06 7.1 .05-4.9 .06-3.1 .05 5.4 .06 .8 .05 .2 .06-2.4 .05-.5 .06 5.3 .05-4.9 .06 8.6 .05-5.2 .06-3.7 .05 7 .06-9.4 .05 3.7 .06-9.3 .05 11.1 .06-.7 .05-1.2 .06-2 .05 10.3 .06-12.8 .05 10.9 .06-3.1 .05 3.7 .06-13.1 .05 8.4 .05-8.2 .06-9.5 .05 21.8 .06-.6 .05-10.2 .06 5.6 .05-2.5 .06 4.8 .05 .4 .06 2.2 .05 3.4 .06-21.1 .05 19.9 .06 4.1 .05-2.6 .06-2.8 .05-5.9 .06 4.4 .05 3.7 .06-2.1 .05-1.6 .06 3.4 .05-1.9 .06 1.7 .05-6.6 .06-6.5 .05 11.5 .06-4.2 .05-7.6 .06 13 .05 6.9 .05-10.5 .06-1 .05 8.6 .06-6 .05 .8 .06-7.5 .05-4.4 .06 1.5 .05 14.2 .06-6.5 .05 7 .06 1.6 .05-19.8 .06 19 .05-.7 .06-7.4 .05 4.6 .06 2.8 .05-4.4 .06-.5 .05-4.5 .06 5.6 .05-.6 .06-2 .05-2.8 .06-8.2 .05 16.4 .06-3.6 .05 11.4 .05-10.7 .06 6.5 .05-13.6 .06 9.2 .05-.8 .06-2.8 .05 4.6 .06-2 .05-5.3 .06 6 .05 0 .06-4.6 .05 5.8 .06-8.8 .05 1.9 .06 5.1 .05-2.7 .06 13.4 .05-13.9 .06-1.5 .05-8.2 .06 12 .05 3.7 .06 1.8 .05-21.2 .06 12.5 .05 1.7 .06-2.8 .05-5.2 .05 8.6 .06-4.1 .05 3.4 .06-6 .05-4.8 .06 8.9 .05-.6 .06 2 .05-3.8 .06-1.4 .05 1.4 .06-.1 .05 4.1 .06 7.4 .05-11.4 .06 5.6 .05-7.1 .06 9.5 .05-5.1 .06-5.7 .05-3.9 .06 10.5 .05 14.9 .06-19.8 .05 12.5 .06-1.9 .05-2.2 .06 1.7 .05-3.9 .06 3.3 .05-11.2 .05 9.5 .06-.2 .05 .9 .06-5.8 .05 9.9 .06-6.9 .05 4.2 .06-1.9 .05 .1 .06-1.6 .05 1.2 .06-4.4 .05 3.2 .06-1.5 .05 1.7 .06 17.3 .05-14.5 .06 6.8 .05-5.7 .06-8.2 .05 1.2 .06 9 .05-10.4 .06 17.8 .05-8.5 .06-7.6 .05 6.4 .06-9.3 .05 10.9 .05-5 .06 2 .05-1.8 .06 6.2 .05-8.7 .06 2.7 .05 3.5 .06-8.5 .05-6.4 .06 13.5 .05 3.5 .06-11.2 .05-.7 .06 10.4 .05-2.3 .06-6.3 .05 4.6 .06 1.6 .05-7.2 .06 1.2 .05 3.9 .06-6.1 .05 9.2 .06-2.9 .05 1.9 .06 8.6 .05-7.5 .06 .5 .05-2.5 .05-4.6 .06 13.5 .05-8.7 .06 3.9 .05-21 .06 20.6 .05-13 .06-2 .05 8.9 .06-6.8 .05-1.5 .06 15 .05-10.2 .06 2.6 .05 1.2 .06-4.6 .05 10.5 .06-11.1 .05 1.6 .06 0 .05 1.5 .06-3.9 .05 5.3 .06-1.7 .05 0 .06 7.3 .05 9.9 .06-4.6 .05-4.4 .06-6.9 .05-7.2 .05 8.9 .06 1.6 .05-15.5 .06 15.6 .05-1 .06 1.8 .05 5.9 .06-7 .05-.5 .06 12.8 .05-15.9 .06-3.5 .05 8.1 .06 1.3 .05-14 .06 18.1 .05-11.8 .06-2.2 .05 5.7 .06 2 .05-5.5 .06-1.4 .05 8.7 .06-8.4 .05 1.5 .06 8.9 .05-8.7 .06 .4 .05-3 .05-.2 .06 1.2 .05 3.8 .06-5.7 .05 0 .06 4 .05-4.8 .06 12 .05-9.2 .06-21.1 .05 35.4 .06-5.4 .05-5.8 .06-1.8 .05 6.5 .06-3.9 .05-6.6 .06-6.2 .05 13 .06-.5 .05-2.4 .06-14.1 .05 8.6 .06 2.5 .05-12.5 .06 18.2 .05-7.8 .06-2.4 .05 10.8 .05-27 .06 21.1 .05 .7 .06-.7 .05 4.6 .06-12.9 .05 10.4 .06-2.3 .05 6.1 .06-6 .05 4.2 .06-7.9 .05 2.2 .06 3.3 .05 3.6 .06 1 .05-7.4 .06-.5 .05 7.2 .06-.1 .05 2.8 .06-2.5 .05-11 .06 15.4 .05-9.7 .06-10 .05 8.5 .06 28.2 .05-23.7 .05-2.3 .06 2.3 .05-2.2 .06 5.4 .05 2.5 .06-3.2 .05-.5 .06-18.7 .05 17.9 .06-4 .05-.8 .06 4.5 .05 8.9 .06-5.1 .05-6.3 .06-1 .05 5.5 .06 3.3 .05-3.5 .06-5.6 .05-11.4 .06 12.6 .05 2.1 .06 3.4 .05-1.2 .06 3.7 .05-6.1 .06-3.5 .05 3.4 .06-5 .05 21 .05-13.5 .06 4.8 .05-8 .06-4.1 .05-2.3 .06 11.5 .05-5.6 .06-2.4 .05 5.7 .06-7.5 .05 2.4 .06-.6 .05 3.7 .06 4.5 .05-1.3 .06 6.3 .05-13 .06 3.6 .05 .6 .06-2.1 .05 6.2 .06-7.2 .05-1.5 .06 11.3 .05-14.9 .06 7.1 .05-6.5 .06 .9 .05 12.6 .05-3.5 .06-7.5 .05-9.5 .06 16.3 .05-.2 .06-13 .05-.5 .06 4.7 .05 4.4 .06-3.7 .05-6.3 .06 9.2 .05-1.3 .06-.7 .05 2.5 .06 5.1 .05-3.8 .06 1.8 .05-3.5 .06 6.7 .05-6 .06 .4 .05 3 .06-3.8 .05-5.9 .06 11.1 .05-10.1 .06 5.2 .05-3.6 .05 2.7 .06-11.3 .05 12.1 .06 6.6 .05-9.1 .06-7.4 .05 13.3 .06-3 .05 5.1 .06-3.4 .05 .8 .06-7.9 .05-.7 .06 2.9 .05-3.1 .06 1.6 .05-4.9 .06 10 .05-3.8 .06 4 .05-1.2 .06-2.8 .05 6.6 .06 .8 .05-1.8 .06 4.1 .05-7.8 .06 1.5 .05 12.1 .06-9.4 .05 3.5 .05-4.9 .06 2.8 .05-4.7 .06 13.6 .05-10.4 .06-6.7 .05 10.3 .06-4.3 .05-7.9 .06 2.6 .05 7.2 .06-3.4 .05 10.1 .06-2 .05-7.5 .06-16.8 .05 21.3 .06-.6 .05-.3 .06 5.5 .05-7.3 .06-7.3 .05 6.8 .06-7.6 .05 9.4 .06-4 .05-12.7 .06 7.6 .05-3.7 .05 1.9 .06 8.5 .05 4.5 .06-7.2 .05-3 .06-.3 .05 6.5 .06-1.6 .05 .4 .06 4.9 .05-9.9 .06 7.6 .05 .5 .06-5.1 .05-.2 .06-.8 .05 20.2 .06-23.2 .05 15.6 .06 9 .05-19.9 .06 6.7 .05-1.8 .06 6.4 .05-9 .06 2.2 .05-1.1 .06-7.9 .05 14.4 .05-7.7 .06-5.3 .05 3.8 .06-.4 .05-.9 .06 6 .05-3 .06 3.4 .05-13.6 .06 18.2 .05-7.2 .06 9.1 .05-11 .06 3.2 .05 0 .06 2.1 .05-.5 .06 1.6 .05-.6 .06-1 .05-7.9 .06 8.7 .05-3.8 .06-4.2 .05 7.8 .06-4.3 .05-7.6 .06 5.8 .05 1.7 .05 7.6 .06-5.3 .05-6.3 .06 3.5 .05-11.6 .06 19 .05-.9 .06-.4 .05-9.8 .06 6.5 .05-7.7 .06 8.8 .05 .9 .06-7.2 .05-.3 .06 7.2 .05-4.3 .06 7.7 .05-14.7 .06 11.9 .05-10.6 .06 4.5 .05 2.6 .06 3.1 .05-14.7 .06 17.8 .05-.1 .06-16.2 .05 3 .06 2.3 .05 4.7 .05-9.5 .06-1 .05 11.1 .06-10 .05 6.6 .06 7.6 .05-7.2 .06-13.9 .05 7.7 .06 16.3 .05-13.6 .06 4.7 .05-6 .06 8.4 .05-.1 .06-7.5 .05-.8 .06 5.4 .05-.3 .06-6 .05 2.9 .06 7.7 .05-11.9 .06 8 .05-.3 .06 4.9 .05-4.2 .06-5.7 .05 9.4 .05-5.4 .06-7.5 .05 12.2 .06-.7 .05-12.4 .06 14.8 .05-4.6 .06-3.9 .05 5.3 .06-1.1 .05-7.2 .06 1.5 .05 1.2 .06 12.5 .05-5.1 .06-2.3 .05-7.3 .06 4.2 .05 12.5 .06-8.8 .05-2.6 .06-10 .05 12.3 .06-1.1 .05-4.3 .06-2.2 .05 .1 .06 7.7 .05 .7 .05 2.5 .06-6.3 .05 5.5 .06 9 .05-18.6 .06 12.3 .05-13.2 .06-5.3 .05 .2 .06 7.3 .05-3.8 .06 6.2 .05-6.7 .06 6.3 .05 4.6 .06-8.6 .05 14.8 .06-10.3 .05-10.8 .06 10.9 .05 .5 .06-4 .05 1.4 .06-1.2 .05 12.6 .06-9.7 .05-1.2 .06-4.9 .05 3.6 .06 6.4 .05-1.7 .05-8.3 .06 4.4 .05 .2 .06 4.2 .05-6.3 .06-3.5 .05 17.3 .06-11 .05-8.1 .06 5.7 .05-2.7 .06-.2 .05 9.4 .06-5.5 .05 9.7 .06-6.3 .05 .3 .06 2.8 .05-8.7 .06 2.5 .05-2.7 .06 3.4 .05-19 .06 11.4 .05 6.2 .06 7.6 .05 1.6 .06-13.8 .05 2.4 .05 0 .06 4.5 .05-2.2 .06 4.4 .05-9 .06 12.4 .05-22 .06 10.9 .05-9.4 .06 8 .05 9 .06-8.9 .05-.2 .06 20.1 .05-10.1 .06 5.3 .05-16.1 .06 3.6 .05 1 .06-17.1 .05 18 .06-11.5 .05 14.7 .06 3.6 .05-1.2 .06-4 .05-10.5 .06 2.6 .05-1 .05 3.1 .06 5.6 .05-5 .06 14.8 .05-14.2 .06-.6 .05 10.3 .06-21.8 .05 9.3 .06-2.2 .05-15.7 .06 15.1 .05 10.1 .06-3 .05 8.2 .06-15.1 .05 23.7 .06-11.9 .05-18.8 .06 4.1 .05 5.5 .06 9.8 .05 .4 .06-3.4 .05-.7 .06-9.2 .05 6.8 .06 4.8 .05-1.6 .05 0 .06-7.5 .05 5.8 .06-12.7 .05 14.7 .06 1.6 .05-5.2 .06 10.1 .05-4.5 .06 2.2 .05-.4 .06-2.3 .05-3.1 .06 12.6 .05-3.7 .06-11.5 .05 16.8 .06-.6 .05-6.5 .06 8 .05-8.1 .06-2.2 .05 6.9 .06-12.5 .05 6 .06 7.2 .05-18.1 .06 8 .05 4 .06-6.5 .05 2.2 .05-3.8 .06 1.7 .05 4.6 .06 6.3 .05-10.8 .06 7.4 .05-1.1 .06-21.4 .05 16.7 .06 3.7 .05-.3 .06-7.9 .05 4.4 .06 .5 .05 .6 .06-9 .05 6.1 .06 8 .05-1 .06-.2 .05-2.6 .06 7.9 .05-10.2 .06-.4 .05 4.1 .06-.8 .05-3.6 .06 6.3 .05 2.7 .05 3.1 .06-7.6 .05-8.4 .06-4.5 .05 17.6 .06-20.1 .05 18.6 .06 4.8 .05 2 .06-6.9 .05-1 .06 10.1 .05 .2 .06-4.8 .05-2.8 .06 .2 .05-4.8 .06-2.3 .05 10.4 .06-11.1 .05 10.7 .06-9.3 .05 8.7 .06-4.9 .05-11.5 .06 3.9 .05-.7 .06 .3 .05 6.7 .05-7.1 .06 5.3 .05-6.3 .06 7.1 .05 4.7 .06-7.3 .05 .8 .06 0 .05 3.8 .06 6.4 .05-14.3 .06-11.1 .05 14.3 .06 9.1 .05 8.7 .06-12.9 .05-7.2 .06 9 .05-12.8 .06 8.6 .05-7.7 .06 7.9 .05-3.2 .06-3.8 .05 6.2 .06-11.9 .05 19.2 .06-4 .05-4.9 .06-7.9 .05 13.3 .05-3.6 .06 .5 .05-8.1 .06 3.7 .05 1.1 .06 1.3 .05-1 .06-2.1 .05 13 .06-10.9 .05 2.2 .06-6.5 .05-5.2 .06 13.7 .05-6.2 .06-1.2 .05 9.6 .06-2.4 .05 2.3 .06-9.6 .05-1.8 .06 10.7 .05-6.5 .06 4.1 .05-9.1 .06 6.3 .05-2.3 .06 3.7 .05-2.8 .05-7 .06 9.3 .05 2.7 .06 4.7 .05-11.5 .06 .1 .05 .3 .06 9.4 .05-7 .06 0 .05 1.5 .06-9.6 .05 11.8 .06-7.3 .05 5.5 .06-1.8 .05-6.1 .06 .2 .05 12.9 .06 2 .05-17.5 .06 2.6 .05 19.3 .06-4.3 .05-1.6 .06-4.6 .05 22.1 .06-28.4 .05 3.7 .05 7.2 .06 5.3 .05-7.3 .06-4.7 .05 1.5 .06-7.5 .05-2.8 .06 11.5 .05-5.3 .06 20.3 .05-12.1 .06-4.9 .05-8.4 .06 5.6 .05 9.2 .06 .4 .05 1.2 .06-5.9 .05 8.4 .06-6.3 .05-2.2 .06-1.1 .05-6.5 .06 8.4 .05 3.7 .06 4.2 .05-13.1 .06 15.9 .05-11.1 .05 4.9 .06-3.7 .05 3.1 .06 .7 .05 3.7 .06-2.5 .05-14.7 .06 12.3 .05-8.6 .06 4.2 .05-2.9 .06 5.2 .05 2.8 .06-12.9 .05 6.7 .06 1.9 .05-4.6 .06 8.9 .05-7 .06 9.8 .05-.7 .06-1.3 .05-14.3 .06 10.3 .05 1.9 .06-9.3 .05 6.3 .06 7.2 .05-6.4 .06 3 .05 10.8 .05-12.5 .06-1.8 .05-1.3 .06 5.7 .05 .5 .06-.6 .05-6.8 .06 7.2 .05 0 .06-10.9 .05 9.1 .06-3.6 .05 7.6 .06-18.3 .05 9.9 .06-10 .05 5 .06-11.9 .05 30.2 .06-13.3 .05 6.5 .06-11 .05 4.9 .06 2.9 .05 8.4 .06-12.3 .05-16.8 .06 21.2 .05 .7 .05-8.3 .06-7 .05 15.3 .06-8.2 .05 3.8 .06-1.1 .05-3.7 .06-1 .05-11.3 .06 19 .05 1.2 .06-7.2 .05-1.3 .06 17.6 .05-3.9 .06-10.7 .05-.2 .06 1.2 .05 13.1 .06-13.3 .05-17.6 .06 27 .05-14.6 .06 9.2 .05 1.7 .06 3.1 .05-7.4 .06-3.5 .05-7.7 .05-2.5 .06-1.5 .05 25.9 .06-12.4 .05 11.9 .06-15.7 .05 10.5 .06-15.3 .05 12.1 .06-7.6 .05-.4 .06 3.5 .05-.9 .06 8.6 .05-8.1 .06 1.5 .05 3.2 .06-1.6 .05-13.3 .06 8.6 .05 12.1 .06-13.6 .05-3.3 .06 11 .05 6 .06-8 .05-3.5 .06 1.3 .05 3.7 .06 6.5 .05-4.1 .05-3.1 .06 7.7 .05-6.7 .06 1.6 .05-12.7 .06 4.1 .05-3.6 .06-1.1 .05 17.7 .06-3.2 .05-6.8 .06-1.9 .05 8.8 .06-1.7 .05-10.5 .06 18.5 .05-18.2 .06 14.7 .05-13.5 .06-4.8 .05 11 .06-7.5 .05 14.5 .06-7.4 .05 .7 .06 3.2 .05-14.9 .06 11.1 .05 1.4 .05-7.2 .06-1.2 .05 4.1 .06-2.6 .05 11.5 .06-6.3 .05 4 .06-.3 .05-.5 .06-9.7 .05 5.4 .06 18.5 .05-24.8 .06 7.6 .05-2.2 .06 3.4 .05 6.6 .06-24.1 .05 8.2 .06 4.8 .05 .4 .06 6 .05 11.6 .06-20.9 .05 12.5 .06-3 .05 10.2 .06 5.8 .05-11.6 .05-14.7 .06 11.8 .05-3.9 .06-1.2 .05-.4 .06-4.9 .05 8.1 .06 3.1 .05-12.5 .06 .3 .05 3.3 .06 10.6 .05-6.2 .06-.7 .05-9.7 .06 1.5 .05 5.1 .06 3.8 .05-2.7 .06 2.6 .05-4.5 .06-.8 .05 2.9 .06-14.2 .05 7.2 .06-6.4 .05 11.5 .06 9 .05-15.8 .06 8 .05-4.7 .05 2.5 .06 .2 .05-2.4 .06-.7 .05 5.5 .06-3 .05 .4 .06 2.2 .05-7 .06 6.1 .05 7.1 .06-14.4 .05-11.4 .06 27.2 .05-5.1 .06-4.4 .05 3.3 .06-6.1 .05-1.9 .06 12.4 .05-14.4 .06 5.2 .05-8.3 .06 3.3 .05 16.4 .06-15.4 .05 7.7 .06-8 .05 1.3 .05-2.3 .06 19 .05-7.1 .06-15.3 .05 2.6 .06 13.8 .05-11 .06 1.7 .05-2 .06 8.5 .05-4.4 .06 .3 .05-11.1 .06 15 .05-1.7 .06-1.4 .05-1.3 .06-8.8 .05 18.2 .06-9.4 .05 1.5 .06-2.5 .05-4.8 .06 11.3 .05-4.5 .06-4.2 .05 16.7 .06-7.1 .05 4 .05-5 .06 2.2 .05-12.6 .06 16.4 .05-14 .06 10.7 .05-10.5 .06 14.6 .05 15 .06-17.5 .05-9.5 .06 15.2 .05-28.9 .06 14.9 .05-.4 .06 12.6 .05-12.3 .06 8.5 .05-3.2 .06-11.9 .05 17.8 .06 1.2 .05-8.1 .06-3.6 .05-3.1 .06 .2 .05 4.4 .06 .3 .05 .5 .05 4.4 .06-5.2 .05-11.8 .06 6.6 .05 4.1 .06 12.8 .05-24.1 .06 .4 .05 12.6 .06 10.7 .05-11.5 .06-4.7 .05-5.1 .06 4.3 .05 11.7 .06-11.8 .05 4 .06 3.1 .05-11.9 .06 7.9 .05 2.3 .06-7.8 .05 15.9 .06-11.6 .05 2.6 .06 5 .05-.9 .06-.9 .05-8.3 .06-1.2 .05-3.3 .05 9.2 .06-1.6 .05-.5 .06 16.3 .05-9.2 .06-3.4 .05-1.2 .06 12.1 .05-9.4 .06-4.6 .05-3.9 .06 16.2 .05-2.3 .06-11.9 .05 16.3 .06-11.8 .05-3.3 .06-8.4 .05 2 .06 .9 .05 15.9 .06-12 .05 6.2 .06-19.7 .05 14.4 .06 .8 .05 4.1 .06-18.3 .05 15.1 .05 2.9 .06-.5 .05-9.4 .06 17.2 .05-10.1 .06 5.8 .05 11.6 .06-11.2 .05-4.9 .06 8.1 .05-10.9 .06 1.2 .05 4.5 .06-11.7 .05 9.5 .06 4.5 .05-19.7 .06 12.8 .05 7.6 .06-5.8 .05 .4 .06-2.4 .05-2.6 .06-.7 .05 2.3 .06 11.4 .05-1.2 .06-12.4 .05 .6 .05-15.1 .06 32.3 .05-13.6 .06 .8 .05 6.1 .06-9.4 .05 5.6 .06-2.5 .05-4.2 .06-4.6 .05-12.3 .06 26.9 .05-1.7 .06 7 .05-2 .06-6.7 .05 12.8 .06-15.5 .05-2.4 .06 10.3 .05-.9 .06-1.9 .05-1.9 .06-1.6 .05 2.8 .06-11.3 .05 3.9 .06 2.9 .05 5.4 .06-8.3 .05-3.5 .05 24.3 .06-14.7 .05 1.8 .06 17.9 .05-26.9 .06 7.5 .05 6.4 .06-.4 .05-8.8 .06 11.1 .05-7.3 .06 2.9 .05 7 .06-6.6 .05-6.5 .06 6.3 .05-25.3 .06 23.6 .05-1.7 .06-3.9 .05 3.2 .06-15.1 .05 5.7 .06 10.6 .05-8.5 .06 1.4 .05 10.4 .06 1.7 .05-2.2 .05-1.8 .06-3.6 .05 6.3 .06-9.2 .05-4.8 .06 10.6 .05-7.3 .06 12.7 .05-13.8 .06 2.5 .05 3.5 .06-5.9 .05 8.4 .06-6 .05 14.1 .06 5.2 .05-14.2 .06 1.2 .05-3.4 .06 6 .05 13.4 .06-24.9 .05 11.3 .06-5.4 .05 5.2 .06 .6 .05 2.7 .06 10.6 .05-16.7 .05-.1 .06-1.5 .05-.6 .06 2.8 .05 3.2 .06 .2 .05 1.9 .06-12.4 .05 2.3 .06 9.4 .05-7.4 .06 2.2 .05-12 .06 19.5 .05-9.9 .06-.2 .05-4.1 .06 6.7 .05-2.6 .06-11.4 .05 8.5 .06 8.9 .05 2.8 .06-4.6 .05 3.6 .06 .4 .05-5.7 .06 14.5 .05-15.5 .05-4.8 .06-9.7 .05 1.4 .06 14 .05 .3 .06-.5 .05 3.5 .06-8 .05 7.3 .06 .7 .05-9.9 .06-7.6 .05 22.7 .06-6.9 .05-2.7 .06-1.9 .05-6.5 .06 8.9 .05-4.4 .06-5.6 .05 21.4 .06-23 .05 12.2 .06-8.8 .05 2 .06 3.9 .05 .7 .06-8 .05 10.4 .06-1.8 .05-1.8 .05 9.6 .06-10.3 .05 15.8 .06-3.6 .05-5.1 .06-11.2 .05 10.7 .06-1.3 .05-3.2 .06-2.4 .05 13 .06-20.8 .05 10.5 .06-.9 .05-5.1 .06 11.3 .05-5.8 .06 3.3 .05-3.3 .06 8.5 .05 11.1 .06-18.6 .05 .1 .06-.6 .05 .2 .06-5 .05 10 .06-6.4 .05 7.9 .05-4.1 .06-5 .05 5.1 .06-9.6 .05 3.1 .06 17.5 .05-18.3 .06 1.6 .05-4.5 .06 1.5 .05 8.4 .06-3.6 .05 10.8 .06-11.6 .05 3.3 .06-6.2 .05 1.9 .06-7.3 .05 10.9 .06-3.6 .05-15.7 .06 13 .05 6.3 .06-1.6 .05 8.8 .06-17.2 .05 6.5 .06 11.2 .05-4.7 .05-3.8 .06 4.3 .05-.8 .06-3.5 .05 10.3 .06-9.3 .05-8.2 .06 11.1 .05-2.4 .06-4.8 .05-4.8 .06 4 .05 .2 .06 9 .05-7.6 .06-9.9 .05 .3 .06 5.4 .05 10.6 .06 7.6 .05-16.4 .06-.2 .05-1.2 .06 12.9 .05-10.5 .06 5.9 .05 .1 .06-12 .05 25 .06-2.2 .05-9.3 .05-11.3 .06 8.6 .05 10.2 .06-10.6 .05-14.7 .06 7.6 .05-2.1 .06 3.5 .05-5.2 .06 1.6 .05 8.1 .06 17.3 .05-19.9 .06-.9 .05 1.3 .06-6.8 .05 4.5 .06 8.4 .05 .6 .06-8.6 .05-.6 .06-5.9 .05 4.4 .06 4.8 .05 10.1 .06-13.1 .05 10.7 .06-1.7 .05-4.5 .05-.6 .06 2.5 .05-2.1 .06 5.8 .05-7.9 .06 9.9 .05-8.7 .06 1.8 .05-1.8 .06 3.2 .05-6 .06 16.5 .05-23.3 .06 20.1 .05-7.4 .06 3.9 .05-.4 .06-7.8 .05 4.2 .06-4.9 .05 14.2 .06-17.1 .05 8.6 .06 9.1 .05-4.2 .06 2.6 .05-2.4 .06-15 .05 8 .05 7.5 .06-11 .05-6.7 .06 34 .05-24.8 .06 7.1 .05 .3 .06-6 .05 6.4 .06-7.3 .05 2.6 .06-.4 .05 1.6 .06-3.2 .05 7.1 .06-5.7 .05-22.4 .06 20.8 .05 1.4 .06 2.9 .05-1 .06-2.7 .05-7.7 .06 8.9 .05-2.8 .06 .6 .05 10.4 .06-8.6 .05 1.8 .05-3.9 .06-2.5 .05-5.6 .06 5.6 .05-4.4 .06 8 .05 2.1 .06-5.4 .05 4.7 .06 .4 .05-3.1 .06-4.5 .05 .6 .06 1.7 .05-.7 .06-5.6 .05 2.3 .06 4.3 .05-14.1 .06 15.8 .05-9.2 .06 2 .05 7.9 .06 2.3 .05 1.2 .06-3.9 .05 6.2 .06-2 .05-4.1 .06-7.4 .05 8.8 .05 3 .06-9.9 .05-.6 .06 6.8 .05-8.5 .06 15.4 .05-10 .06 4.5 .05-8.9 .06 1.1 .05 3.7 .06-6.6 .05 6.5 .06 .3 .05-2.7 .06 3 .05 13.4 .06-8.3 .05-1.6 .06 1.1 .05-5.5 .06 5.3 .05-3.8 .06 1.6 .05 4.9 .06-10.7 .05-2 .06 11.1 .05 7.9 .05-12.9 .06 .7 .05 1.2 .06 3.9 .05 2.4 .06-11.5 .05 4.3 .06 12.8 .05-14.5 .06-4.9 .05 12 .06-4.1 .05-5.5 .06 16.5 .05-9.7 .06-10.5 .05 7.6 .06-.5 .05 9.6 .06-3 .05-.1 .06-5.7 .05 8 .06-1.5 .05-5.7 .06 .7 .05 1.6 .06-6.9 .05-4.2 .05 15.5 .06-2.6 .05-4.9 .06 9.3 .05-6.4 .06 5.2 .05 4.9 .06-10.2 .05 10.3 .06-13.9 .05 11.9 .06-13.7 .05 4.2 .06 6.6 .05-3.5 .06-6.5 .05 7.1 .06-16.7 .05 18.9 .06-3.3 .05 .7 .06-2.2 .05-1 .06 .8 .05-1.1 .06 1.1 .05 5.4 .06 3.3 .05 8.1 .06-11.8 .05-.7 .05 3.1 .06-9 .05-.4 .06-2.7 .05-3.3 .06 7.7 .05 4.8 .06 .4 .05-5.3 .06-1.7 .05 14.1 .06-7.2 .05-6 .06 12 .05-8.3 .06-4.6 .05 3.3 .06 1.1 .05-.8 .06-7.4 .05 5 .06 .5 .05-3.1 .06 7.6 .05-17.7 .06 12.4 .05 6.1 .06 4 .05-13.3 .05 1.8 .06-.1 .05 8.5 .06-10.3 .05 8.1 .06 12.5 .05-18.9 .06 1 .05 4.5 .06-7.1 .05 1.9 .06-3.6 .05 12 .06-15.2 .05 6.4 .06-6.3 .05 11 .06 5.9 .05-8.8 .06-6.9 .05-4 .06 4.5 .05 1.6 .06 15.7 .05-13.2 .06-3.9 .05-.6 .06 18.6 .05-9.4 .05 .4 .06 1.2 .05-14 .06 16.8 .05-8.7 .06-3.8 .05-2.7 .06 8.4 .05-9.2 .06 15.4 .05-3 .06 6.7 .05-17.4 .06 13.1 .05-13 .06 9.8 .05-4.5 .06 1.8 .05 .4 .06 8.1 .05-16.1 .06 .3 .05 5.9 .06-1.4 .05-5.8 .06 2.4 .05 .5 .06 8.8 .05-10.4 .05 21.9 .06-26.6 .05 15.8 .06-7.2 .05-.6 .06-.8 .05 3.3 .06 2.8 .05-2.2 .06 3.9 .05 2.9 .06-6.9 .05 3.9 .06-10.1 .05 8.6 .06 5.3 .05 3.1 .06-8.9 .05-2.1 .06-2.1 .05 8.4 .06-4.5 .05-4.4 .06 7.3 .05-13.9 .06 12.4 .05-1.3 .06 6.4 .05-3.9 .06 18 .05-33.5 .05 15.9 .06 2.1 .05-5.8 .06 2 .05-12.2 .06 12.1 .05-1.2 .06-3.8 .05 9.3 .06-10.5 .05 3 .06 8.4 .05 1.6 .06 13.4 .05-13.2 .06-.4 .05-1.9 .06-11.3 .05 13.6 .06-15.8 .05-2.4 .06 4 .05 8.5 .06-2.4 .05-5.7 .06-.2 .05-3.5 .06 11 .05-.7 .05 2.1 .06 .5 .05-13.1 .06 9 .05-1 .06 .6 .05-12.5 .06 4 .05 11.6 .06-.2 .05-14.9 .06 2.7 .05 6.1 .06 24.6 .05-4.9 .06-11.8 .05 1.2 .06 .8 .05-4.2 .06-.4 .05-2.9 .06-13 .05 13.6 .06-4.5 .05 3.5 .06 3.2 .05-7.7 .06 5 .05 2.5 .05 .1 .06-3.2 .05 5.1 .06-5.8 .05-1.1 .06-1.3 .05 6.3 .06 4.5 .05-7.2 .06-3.6 .05 8.2 .06-6.3 .05 .2 .06 .1 .05-.7 .06-8.7 .05 14.1 .06-9.9 .05 7.8 .06 2.2 .05-4.1 .06-1.9 .05 2.1 .06 2.8 .05 3.5 .06-7.4 .05 4 .06 8.4 .05-15.1 .06 4.4 .05 11.7 .05-10 .06-6.6 .05 2.3 .06 2.6 .05-2.6 .06 8.5 .05-9.6 .06-.6 .05-3.2 .06 11.6 .05-7.7 .06 5.1 .05-5.9 .06 5.1 .05-1.1 .06 1.3 .05-1.5 .06-1.2 .05 13.9 .06-12.6 .05 .1 .06-6.5 .05 3.9 .06 2.4 .05-7.1 .06 6.5 .05-2.6 .06-4 .05-.5 .05-.3 .06 7.9 .05 4.7 .06-1.6 .05-5.3 .06 .5 .05 .5 .06-7.6 .05 4.4 .06-2.2 .05 3.4 .06-.3 .05-.5 .06 4.3 .05 7.1 .06-9.6 .05-8 .06 13.4 .05-13.6 .06 4.5 .05-4.2 .06 6.3 .05 4.2 .06 1.4 .05 2.2 .06-2.6 .05-5.1 .06-3.2 .05 8.2 .05-1.6 .06-6.1 .05 2.8 .06-10.4 .05 7.8 .06 6.2 .05-.5 .06 5.7 .05-8.8 .06-12.6 .05 3.9 .06 15.1 .05 3.4 .06-11.3 .05 2.9 .06 7.4 .05 9.5 .06-15.3 .05 1.2 .06-5.6 .05 4.2 .06-24 .05 15.1 .06 6.6 .05 .2 .06 7.9 .05-7.7 .06-1.7 .05 9.7 .06-7.8 .05 5.8 .05-10.7 .06 14 .05-.2 .06-9.4 .05 8.8 .06-5.5 .05 4.9 .06-5.7 .05 2.5 .06-28.2 .05 26 .06-12.2 .05 11 .06-2.2 .05-.8 .06 4 .05-15.1 .06 8.6 .05-4.5 .06 14.5 .05-12.5 .06 7.8 .05 1.4 .06-7.3 .05 12.6 .06 11.6 .05-31.1 .06 8.3 .05 4.7 .05-4.9 .06 9.4 .05-2.6 .06-5.4 .05-9.4 .06 5.9 .05 17.1 .06-12.2 .05 8.3 .06 2.2 .05-17.8 .06 14.3 .05-9.8 .06-4.6 .05 3.1 .06 15.8 .05-14.8 .06 .1 .05 1.4 .06 1.6 .05 .8 .06-7 .05 3 .06 3.4 .05 6.2 .06-.1 .05-8.5 .06 10.1 .05 2.5 .05-11.8 .06-5.9 .05 12.6 .06-9.1 .05 2.6 .06-2 .05 3.7 .06 7.4 .05-3.9 .06-1.1 .05-6.3 .06 4.2 .05 1.9 .06-19.1 .05 15.4 .06-5.2 .05 6.2 .06-.4 .05-3.7 .06-17.6 .05 13.4 .06 7.4 .05-12.2 .06 26.4 .05-12.9 .06-8.8 .05-.3 .06 9.3 .05 2.5 .05-4.2 .06-1.5 .05 5.4 .06-7.3 .05 1.8 .06 2 .05-.7 .06-7 .05 14.8 .06-7.1 .05 3.2 .06 5.3 .05-11.7 .06-17.4 .05 25 .06-5.4 .05-6.5 .06-2.9 .05 6.7 .06 .9 .05 23.7 .06-24.1 .05 3.3 .06 .6 .05-3.1 .06 .2 .05 7.8 .06-1.2 .05-3.2 .06-15.1 .05 8.2 .05 2.2 .06 5.1 .05-2.7 .06 4.4 .05-8.4 .06 7.7 .05-2 .06 2.7 .05-4.2 .06 4.2 .05-7.2 .06 4.7 .05-.7 .06 4.6 .05-11.3 .06 7.7 .05-7.1 .06 8.1 .05-4.4 .06 0 .05-3.9 .06 2.7 .05 1.6 .06-9.5 .05 13.2 .06 6.5 .05 4.9 .06-5.4 .05-4.9 .05-3.7 .06 12.1 .05 1.7 .06-12 .05 14.4 .06-16.4 .05 .4 .06-4.4 .05 16 .06-10.6 .05-1.9 .06-1.2 .05 9.4 .06-14 .05 13.8 .06-3.1 .05-4.3 .06 0 .05-19 .06 32.7 .05-11.3 .06 7.6 .05 .2 .06-5.7 .05-5.8 .06 9.8 .05-7.7 .06 9.3 .05-6.5 .05-1.5 .06-.5 .05 1.7 .06 6.2 .05-14 .06 7.1 .05-2.4 .06 2.6 .05 10 .06-10.6 .05-2.2 .06 4 .05 3.4 .06-.3 .05 6.3 .06-5.2 .05 1.1 .06-11.1 .05 1.6 .06 2.5 .05-.6 .06-5.6 .05 9.7 .06-12.9 .05 8 .06 2.6 .05-2.1 .06-1.4 .05 6.8 .06-5 .05 4.1 .05 6.8 .06-9.7 .05-5.4 .06-17.8 .05 18.6 .06-4 .05 10 .06-5.4 .05 9.2 .06-.8 .05-4.7 .06 14.7 .05-8.4 .06-4 .05-10.6 .06 7 .05-.7 .06-6.3 .05 8.6 .06-1.9 .05-11.2 .06 11.5 .05-4 .06 6.2 .05-4.9 .06 5.3 .05-15.4 .06 12.8 .05 4.2 .05-10.8 .06 6.1 .05 .6 .06 2.7 .05 5.1 .06-6.7 .05-.2 .06-3.7 .05-6.3 .06 9.3 .05 7.9 .06-3.4 .05 1.2 .06 14.2 .05-14.4 .06 2.9 .05-11.1 .06 3 .05 4.8 .06-9.5 .05 .3 .06 4.4 .05-2.5 .06 3.2 .05-2.2 .06 3.8 .05-7.5 .06 4.8 .05-15.2 .05 18.9 .06-3.8 .05 1.2 .06-1.1 .05 3 .06-1.2 .05-11.9 .06 9.6 .05 13 .06-18 .05 9.6 .06-10.3 .05 10.9 .06-7 .05 .1 .06 4.2 .05-2.5 .06 3.7 .05-5.3 .06 10.6 .05-8.4 .06 1.4 .05 3.1 .06-5.4 .05 1.6 .06 9.6 .05-6 .06 .5 .05 .9 .05-8.7 .06 1.8 .05-.7 .06-4.5 .05-2.8 .06 19.2 .05-2.7 .06-10.7 .05 6.8 .06-2.9 .05 12.5 .06-7.7 .05-11.4 .06 6.3 .05 7.2 .06 2 .05 10.6 .06-10.3 .05-4.1 .06-3.9 .05 6.4 .06 8.5 .05-18.7 .06 .4 .05-4.2 .06 6.8 .05 1.4 .06-9.8 .05 11 .06-9 .05 13.5 .05-.7 .06 3.9 .05-7.1 .06-2.2 .05 10.9 .06-13.2 .05-6.8 .06 16.3 .05 6.2 .06-9.6 .05 1.6 .06-7.9 .05 8.2 .06 5.2 .05-3.7 .06 .3 .05 1.3 .06-3.9 .05-8.7 .06 8 .05-8.6 .06-5.5 .05 14.8 .06-1.1 .05 19.6 .06-34.4 .05 15.9 .06 2.4 .05-2.2 .05-2.1 .06-4.4 .05 .7 .06 .5 .05 12.5 .06-.5 .05-2.6 .06-3.6 .05-.9 .06-6.6 .05 2 .06-4.8 .05 1.8 .06 2.3 .05-2.7 .06 14.1 .05 2.2 .06-20.4 .05 5.1 .06-.8 .05-1.3 .06 1.1 .05 6.4 .06 7.8 .05-11.9 .06 9.1 .05-10.5 .06-10.2 .05 14.4 .05-11.9 .06 .6 .05 12.2 .06-5 .05-.7 .06-2.8 .05-.9 .06-.1 .05 7.2 .06 8.2 .05-2.3 .06-18.2 .05 4.9 .06 7.6 .05-9.9 .06 7.4 .05 2.3 .06 9 .05-8.6 .06 7 .05-2.1 .06-1.6 .05-10.7 .06 7.8 .05 4.3 .06-18.2 .05 17.8 .06-6.7 .05 10.6 .06-9.4 .05 11 .05-12.1 .06 .9 .05-2.9 .06 0 .05-1.3 .06 10.8 .05 1.4 .06-4.3 .05-13.2 .06 10 .05-12.5 .06 12.7 .05 8.9 .06-2.2 .05-4.8 .06-2 .05 11.8 .06-14.8 .05-1.1 .06-2.1 .05 1.4 .06-4 .05 13.7 .06-6 .05 2.4 .06-.3 .05-6.3 .06 13 .05-3.8 .05-8.1 .06 8.8 .05-3.9 .06 .3 .05 1.4 .06 .3 .05-1.4 .06-2.4 .05 6.5 .06-5.3 .05-11.3 .06 9.2 .05 .5 .06 9.3 .05-4.1 .06-14.5 .05 14 .06-6.1 .05 1.7 .06 2.9 .05 10.9 .06-14.3 .05 11.2 .06-23.9 .05 24.7 .06-7.1 .05 .4 .06-13.5 .05 10.4 .05-6.4 .06 3.4 .05 12.6 .06-6.5 .05-5.8 .06 2.7 .05-3.1 .06 5.9 .05-6.8 .06 6.1 .05-.5 .06-1.7 .05 11.3 .06-12.4 .05-3.6 .06 4.3 .05 0 .06 4.5 .05-12 .06 6.5 .05-2.4 .06 6.6 .05-3.9 .06-4.2 .05-1.4 .06 7 .05-1.9 .06 .9 .05-1.3 .05-3.6 .06 8.6 .05-.6 .06-4.1 .05 9.7 .06-13 .05 .3 .06 7.9 .05-4.6 .06 4.1 .05 6.4 .06-10.3 .05 2.5 .06-4.1 .05 2.4 .06-1.8 .05 6.6 .06 2.2 .05 2.5 .06-7.8 .05-2.8 .06-.2 .05 4.1 .06-5.6 .05 7.2 .06-3.2 .05-6.8 .06 14.1 .05-25.8 .06 21.8 .05-4.9 .05 2.4 .06 3.9 .05 2.7 .06-9.9 .05 .7 .06 .1 .05 9 .06-.4 .05-.7 .06-6.8 .05 1.5 .06-7.7 .05 11.7 .06-14.3 .05 6.3 .06 5.4 .05 1.5 .06-7.4 .05 16.1 .06-21.2 .05 6.2 .06 3.5 .05-8.9 .06-.5 .05 6 .06 2.9 .05 4.5 .06 12 .05-24.7 .05-.7 .06 14.1 .05-1.4 .06-14.2 .05 18.8 .06-10.5 .05 6.4 .06 2.9 .05-13.2 .06 4.6 .05-4.1 .06 8.4 .05 4 .06-2.5 .05-.4 .06-.2 .05-.1 .06 1.3 .05-5.7 .06 2.7 .05-1.7 .06 7.7 .05-8.5 .06 .3 .05 12.7 .06-22.9 .05 17.3 .06-3.8 .05 5.1 .05-5.9 .06 4.5 .05-1.4 .06-4.5 .05 3.3 .06 1.5 .05 2.3 .06-2.5 .05 5.9 .06-3.6 .05 2.6 .06 6 .05-6.6 .06-4.7 .05-1.1 .06-4.4 .05-1.9 .06 11.8 .05-9.4 .06 1.5 .05 6.7 .06-11.8 .05-.3 .06 7.3 .05-3.1 .06-2.3 .05 7.5 .06-8.6 .05 .5 .06-1 .05 1.5 .05 9.5 .06 3.7 .05-.1 .06-14.1 .05-2.2 .06 9.9 .05-3.3 .06-3 .05 9.1 .06 .7 .05 2 .06-21.2 .05 10.5 .06 .4 .05 13.6 .06-25.4 .05 3.7 .06 9.4 .05-4.7 .06 5.6 .05 .9 .06-5.3 .05 7 .06 2.9 .05-12.9 .06 8.4 .05 2.8 .06 4.1 .05-10.5 .05 .3 .06 5.2 .05-14.1 .06 8.6 .05 6.4 .06-4.5 .05 4.4 .06-3 .05-7.3 .06-2.7 .05-4.3 .06 12.2 .05-11.4 .06 5.8 .05-2.4 .06 5.7 .05 3.1 .06 1.8 .05-.3 .06 5.1 .05-.5 .06 8.5 .05-14.4 .06 10.4 .05-8.9 .06 7.1 .05-4.6 .06-3.5 .05-5.3 .05 3.5 .06 6.6 .05-8 .06 9.7 .05-9.3 .06 11.8 .05-14.3 .06 5.3 .05 3.1 .06-8 .05-13.3 .06 20.4 .05-7.2 .06 15.5 .05-15.2 .06 1.3 .05 2.4 .06-2.5 .05 1.3 .06 11.8 .05-10.2 .06-5.5 .05 3 .06 11.2 .05 1.8 .06-1.6 .05-16.7 .06 1.1 .05-7.4 .05 5.3 .06 12.6 .05-12.3 .06 4.7 .05-3.8 .06 8.9 .05-7.5 .06 1.4 .05-6.2 .06 14.8 .05-.8 .06-11.9 .05 10.5 .06-8.9 .05 6.1 .06 .4 .05-3.6 .06-.4 .05-.7 .06 1 .05 3 .06 3.9 .05-9.4 .06 4.9 .05 1.3 .06 2.5 .05 13 .06-6.7 .05-8.7 .06-4.3 .05 4.3 .05 4 .06 2.3 .05-5 .06 8.1 .05-3.8 .06-3.4 .05 4.3 .06 1.8 .05-14.9 .06 12 .05-6.6 .06-14.2 .05 17.6 .06 2.5 .05-4.9 .06 5.2 .05-6.3 .06-1 .05 7.2 .06-2.6 .05-17.3 .06 28.2 .05-21.6 .06 2 .05-3.5 .06 16 .05-7.3 .06 6.7 .05-7.6 .05 12.8 .06-9.7 .05-5.7 .06 7.9 .05-3.1 .06 6.8 .05-9.2 .06-3.3 .05 5.5 .06 9.9 .05 3.8 .06-15.7 .05 3.5 .06-5.2 .05 6.4 .06-14.1 .05 11.5 .06 9.3 .05 2.5 .06-11.7 .05-5.8 .06-9.1 .05 23.6 .06-10.3 .05 3.5 .06 4.4 .05-7.1 .06-2.9 .05 2.9 .05-7 .06 15.4 .05-7.2 .06 1.9 .05-14.6 .06 15.4 .05-6.3 .06-2.5 .05 5.7 .06-1.1 .05 5 .06-7.6 .05 9.5 .06-2.6 .05-5.6 .06-.2 .05 2.5 .06-5.1 .05 7.6 .06-1.4 .05-5.1 .06 12.6 .05-9.2 .06 1 .05 9.4 .06-7.7 .05-.7 .06 3.6 .05-11.7 .06 15.9 .05 4.3 .05-10.4 .06-4.1 .05 2.1 .06-3.2 .05 .5 .06 8 .05-11.5 .06 6.8 .05 1.9 .06-4 .05 6.4 .06-12.8 .05 12.3 .06-.4 .05-.4 .06-8.2 .05 3.5 .06 1 .05 10 .06-13 .05 8 .06-3.1 .05 1.2 .06 4.4 .05-3.8 .06-9.3 .05 11.1 .06-2.7 .05-4.8 .05 5.7 .06-1.4 .05 1.5 .06-17.5 .05 10.4 .06-.1 .05 5.7 .06-10.1 .05 10.3 .06-8.9 .05 .3 .06 5.5 .05 11.4 .06-11.2 .05 10 .06-5.7 .05-2.7 .06-1.7 .05 9.3 .06-10.1 .05 .2 .06 .8 .05 6 .06 1.4 .05-11.9 .06 4.2 .05 6.6 .06-8.3 .05-1.4 .05 7.4 .06-2.6 .05-.2 .06 .3 .05-6 .06 9.4 .05-.1 .06 9.9 .05-5.7 .06 7.2 .05-30.3 .06 14 .05-1.8 .06-2.4 .05 6.5 .06-2.3 .05 1.7 .06 10.6 .05-13.2 .06 .2 .05 3.1 .06-.9 .05 3.6 .06 5.2 .05 8.9 .06-17 .05 9.8 .06-12.6 .05 4.4 .05 7.5 .06-9.1 .05 5.5 .06-12.3 .05 8.1 .06-3.3 .05 4 .06-5.5 .05 12 .06-8.7 .05-2.2 .06-15.3 .05 20.6 .06-9.7 .05-.3 .06 4 .05 6.5 .06 12.7 .05-18.1 .06-1.8 .05 .3 .06-.6 .05-3.6 .06 1.3 .05 5.9 .06-3.4 .05 3.8 .06-2.9 .05 2.6 .06-12.5 .05 14.4 .05-5 .06-1.4 .05 5.9 .06-8.2 .05 3.1 .06 2.2 .05 1.6 .06-2.5 .05 3 .06 7.9 .05 4.3 .06-20.5 .05 8.8 .06-9.7 .05 10.3 .06-5 .05 7.2 .06-16 .05 9.8 .06 20.3 .05-27.2 .06 7.3 .05 2.1 .06 1 .05-.7 .06-5.7 .05 15.5 .06-14.3 .05-1.5 .05 13.8 .06-5.2 .05 2.9 .06-1.1 .05-7.9 .06 1.5 .05-11.1 .06 9.6 .05 10.1 .06-11.4 .05 1.2 .06 3.9 .05-9.4 .06 9.1 .05-.3 .06-3.6 .05 3 .06 6.8 .05-2.9 .06-9.3 .05 6.2 .06 3.2 .05-4.4 .06-2 .05 4.2 .06-4.8 .05 6.9 .06-13.6 .05 2.7 .05 3.7 .06 13.1 .05-12.5 .06-.3 .05 .8 .06 3.5 .05-3.8 .06-.4 .05-1.5 .06 8.8 .05-2.7 .06 .7 .05 1.2 .06 2.2 .05 .1 .06 .5 .05-8.4 .06-2.7 .05 13.2 .06-12.4 .05 .6 .06 1.5 .05 10.6 .06 7.9 .05-19.7 .06-6.7 .05 9.4 .06 .5 .05 9 .06-12.2 .05 4.6 .05 1.8 .06 10.3 .05-16.1 .06 4 .05 3.5 .06-8.4 .05 10.5 .06-7.4 .05 7.2 .06-3.7 .05 2.3 .06-8.1 .05 8.7 .06 0 .05-1.3 .06-4.3 .05-.6 .06 1.4 .05 4.4 .06-6.9 .05 10.2 .06-4.7 .05 4.3 .06-7.3 .05-7.8 .06 5 .05 8.8 .06-14.9 .05 5 .05 11.1 .06 8 .05-21.5 .06 9.7 .05 0 .06-7.7 .05 7.6 .06-13.3 .05 12 .06-11.4 .05 9.6 .06-1.6 .05 11.2 .06-5.4 .05-12.7 .06 10.5 .05 1.7 .06-9.1 .05 2.4 .06 5.7 .05-5.8 .06 5.7 .05-2.8 .06 1.9 .05-9.7 .06 11.2 .05 .6 .06-8.9 .05 7.5 .05-6.3 .06 10.5 .05 3.2 .06-5 .05-2.2 .06-3.2 .05-2.8 .06 10.6 .05-9.9 .06-.8 .05-2.2 .06 11.1 .05-5.3 .06 4.2 .05-8.2 .06 5.9 .05 1.7 .06 1.9 .05-8.8 .06-3.9 .05 17 .06-11.3 .05-6.3 .06 11.8 .05-11.7 .06 12.8 .05 7.2 .06-14.6 .05 6 .06-7.3 .05 3.5 .05-2.2 .06-4.1 .05 4.9 .06 6.3 .05-12.6 .06 12.9 .05 4.9 .06-.9 .05-6.6 .06-5.6 .05 13 .06-22 .05 15.1 .06 12.7 .05-11.2 .06-6 .05-2 .06 9.8 .05-7.7 .06 18.5 .05-12.4 .06-1 .05 11.2 .06-22.4 .05 14.4 .06 3.2 .05-15.1 .06 10.1 .05-6.6 .05 5.8 .06-5.8 .05 2.5 .06 6 .05-15 .06 16.8 .05-7.7 .06 3.1 .05 1.1 .06 2 .05-5.1 .06 6.4 .05-3.3 .06-8.3 .05 2.4 .06-.1 .05-5.5 .06 8.3 .05-5.5 .06 1.6 .05 3.5 .06-1.3 .05 4.7 .06-.7 .05 3.6 .06-4.6 .05 3.8 .06 10.2 .05-16.1 .05 6.4 .06-2.7 .05-9 .06 7.8 .05-3.2 .06-10.7 .05 16.8 .06-6.7 .05-2.6 .06 2.3 .05-1.6 .06 4.1 .05-5 .06-13 .05 20.6 .06-3.8 .05-3.8 .06 7.1 .05-7.2 .06 3 .05-2.6 .06-.2 .05 4.2 .06-3.7 .05 3.9 .06 2.2 .05-5.6 .06 2.5 .05 0 .05-6.6 .06 9 .05 1.8 .06-3.9 .05-3.3 .06-11.3 .05 21.7 .06-26 .05 18 .06 6.8 .05-7.6 .06-2.9 .05 9.6 .06-13.6 .05 4.9 .06-9.7 .05 12.7 .06-4.5 .05-10.2 .06 13.9 .05 11.6 .06-.5 .05-4.8 .06-1.7 .05-5.4 .06-2.4 .05 22.8 .06-12.6 .05-9.7 .06-3.7 .05 11.5 .05-11.5 .06 17.1 .05-16.4 .06 7.7 .05-2 .06 2.9 .05 10.3 .06-17.8 .05 8.5 .06-10.7 .05 .9 .06-2.8 .05 3.3 .06 4.3 .05 2.4 .06 .4 .05 1.6 .06-8.1 .05 6.8 .06-3.4 .05-10.5 .06 22.8 .05-17.6 .06 4.1 .05-1.4 .06 7.9 .05-12.6 .06 15 .05-12 .05 6.5 .06-8.1 .05-4.5 .06 11.5 .05-6.8 .06 8.6 .05-4.4 .06-1.4 .05 13.2 .06-6 .05 5 .06-5.2 .05-11 .06 1.1 .05 11.6 .06-7.9 .05-.2 .06 4.3 .05-3.9 .06-7.3 .05 11.2 .06 7.3 .05-11.7 .06 1.8 .05-13.2 .06 14.2 .05-2 .06 4.7 .05-.1 .05 1.3 .06-5.2 .05 7 .06 7.6 .05-11.6 .06-10.2 .05 12.2 .06-.7 .05-3.1 .06-1.3 .05-4.9 .06 9.1 .05-7.6 .06 15.6 .05-9.3 .06-6.2 .05 5.9 .06 1 .05-10.1 .06 1 .05 10.5 .06 9 .05-18.8 .06 9.1 .05 5.3 .06-4.3 .05 .3 .06-5.6 .05-8.2 .06 13.7 .05-1.8 .05 9 .06-11.3 .05-2.7 .06 14 .05-16.3 .06 11.7 .05-8.3 .06-.1 .05 3.5 .06 1 .05-18.8 .06 28.7 .05-8.9 .06-9.9 .05 1.6 .06-4.9 .05 15.7 .06 3.4 .05-3.1 .06 1 .05-7.9 .06 16 .05-20.2 .06 3.4 .05 21.5 .06-15.5 .05 4.5 .06-10.2 .05 2.9 .05-8.6 .06 12.6 .05-5 .06 4.6 .05-2.1 .06 4 .05-2.5 .06-4.3 .05 4.9 .06 4.2 .05-5.8 .06 1.1 .05 3.2 .06-11.2 .05 2.2 .06 10.1 .05-9.6 .06 17.1 .05-14.6 .06 .9 .05 23.6 .06-23.1 .05-3.4 .06 3.8 .05-6.1 .06-.2 .05 5.8 .06 14.5 .05 .2 .05-2.3 .06-1.6 .05-15.1 .06 11.3 .05-.4 .06-10.6 .05-10.6 .06 15.3 .05 2.8 .06 5.3 .05-3.9 .06-3.8 .05-.3 .06-7.1 .05 10.8 .06-8.3 .05 .9 .06 19.9 .05-7.7 .06-8.9 .05 7.8 .06-14.2 .05 11.1 .06-2 .05-6.2 .06 4.4 .05 4.3 .06-4.4 .05 6.3 .05-8.8 .06 11.8 .05-3 .06 .9 .05-3.9 .06 9.7 .05-11.9 .06 .8 .05 5.2 .06 4.3 .05-10.4 .06 5 .05-2.1 .06-.4 .05-4.1 .06 7 .05 2.4 .06-9.7 .05 8.6 .06-5.4 .05 2.3 .06-4.2 .05 1.2 .06 .7 .05-.1 .06-5.8 .05-10.1 .06 14 .05 9.9 .06-7.4 .05 1.2 .05 7.4 .06-12.7 .05 19.4 .06-15.3 .05 5.7 .06-11.1 .05 8.2 .06-2.6 .05-4 .06 8.7 .05-2.4 .06 9.5 .05-7.6 .06-4.3 .05 8.1 .06-8.8 .05-3.6 .06 12.5 .05-5.9 .06-3.6 .05 8.5 .06-4 .05 4.3 .06 4.7 .05-10.2 .06-.3 .05-6.4 .06 8.1 .05 2.9" fill="none" stroke="#000" stroke-width="0.8" stroke-linejoin="round" opacity="1.0"/>
</g>
<rect x="48.4" y="5.3" width="274.1" height="214.29999999999998" fill="none" stroke="#5a5a5a" stroke-width="1.15"/>
<line x1="48.4" y1="219.6" x2="48.4" y2="222.79999999999998" stroke="#5a5a5a" stroke-width="1.15"/>
<line x1="103.22" y1="219.6" x2="103.22" y2="222.79999999999998" stroke="#5a5a5a" stroke-width="1.15"/>
<line x1="158.04000000000002" y1="219.6" x2="158.04000000000002" y2="222.79999999999998" stroke="#5a5a5a" stroke-width="1.15"/>
<line x1="212.86" y1="219.6" x2="212.86" y2="222.79999999999998" stroke="#5a5a5a" stroke-width="1.15"/>
<line x1="267.68" y1="219.6" x2="267.68" y2="222.79999999999998" stroke="#5a5a5a" stroke-width="1.15"/>
<line x1="322.5" y1="219.6" x2="322.5" y2="222.79999999999998" stroke="#5a5a5a" stroke-width="1.15"/>
<line x1="45.199999999999996" y1="219.6" x2="48.4" y2="219.6" stroke="#5a5a5a" stroke-width="1.15"/>
<line x1="45.199999999999996" y1="188.9857142857143" x2="48.4" y2="188.9857142857143" stroke="#5a5a5a" stroke-width="1.15"/>
<line x1="45.199999999999996" y1="158.3714285714286" x2="48.4" y2="158.3714285714286" stroke="#5a5a5a" stroke-width="1.15"/>
<line x1="45.199999999999996" y1="127.75714285714288" x2="48.4" y2="127.75714285714288" stroke="#5a5a5a" stroke-width="1.15"/>
<line x1="45.199999999999996" y1="97.14285714285715" x2="48.4" y2="97.14285714285715" stroke="#5a5a5a" stroke-width="1.15"/>
<line x1="45.199999999999996" y1="66.52857142857147" x2="48.4" y2="66.52857142857147" stroke="#5a5a5a" stroke-width="1.15"/>
<line x1="45.199999999999996" y1="35.91428571428574" x2="48.4" y2="35.91428571428574" stroke="#5a5a5a" stroke-width="1.15"/>
<line x1="45.199999999999996" y1="5.300000000000011" x2="48.4" y2="5.300000000000011" stroke="#5a5a5a" stroke-width="1.15"/>
<text transform="translate(48.40 238.20) scale(1.0 1.15)" text-anchor="middle" class="t">0</text>
<text transform="translate(103.22 238.20) scale(1.0 1.15)" text-anchor="middle" class="t">20</text>
<text transform="translate(158.04 238.20) scale(1.0 1.15)" text-anchor="middle" class="t">40</text>
<text transform="translate(212.86 238.20) scale(1.0 1.15)" text-anchor="middle" class="t">60</text>
<text transform="translate(267.68 238.20) scale(1.0 1.15)" text-anchor="middle" class="t">80</text>
<text transform="translate(322.50 238.20) scale(1.0 1.15)" text-anchor="middle" class="t">100</text>
<text transform="translate(41.00 223.90) scale(1.0 1.15)" text-anchor="end" class="t">0.02</text>
<text transform="translate(41.00 193.29) scale(1.0 1.15)" text-anchor="end" class="t">0.04</text>
<text transform="translate(41.00 162.67) scale(1.0 1.15)" text-anchor="end" class="t">0.06</text>
<text transform="translate(41.00 132.06) scale(1.0 1.15)" text-anchor="end" class="t">0.08</text>
<text transform="translate(41.00 101.44) scale(1.0 1.15)" text-anchor="end" class="t">0.10</text>
<text transform="translate(41.00 70.83) scale(1.0 1.15)" text-anchor="end" class="t">0.12</text>
<text transform="translate(41.00 40.21) scale(1.0 1.15)" text-anchor="end" class="t">0.14</text>
<text transform="translate(41.00 9.60) scale(1.0 1.15)" text-anchor="end" class="t">0.16</text>
<line x1="213.1" y1="40.5" x2="233.5" y2="40.5" stroke="#ff3333" stroke-width="1.1"/>
<line x1="213.1" y1="54.5" x2="233.5" y2="54.5" stroke="#555" stroke-width="1.1"/>
<text transform="translate(238.00 44.40) scale(1.0 1.12)" class="lg" style="font-size:8.8px">Catalase</text>
<text transform="translate(238.00 58.40) scale(1.0 1.12)" class="lg" style="font-size:8.8px">Catalase + Alliin</text>
<text transform="translate(68.80 31.40) scale(1.0 1.17)" class="pl">A</text>
<text transform="translate(179.00 258.00) scale(0.955 1.1)" text-anchor="middle" class="ax">Time (ns)</text>
<text transform="translate(15.40 118.40) scale(1.03 1.13) rotate(-90)" text-anchor="middle" class="ax">RMSD (nm)</text>
<path d="M398.9 28.8 399.3 91 400.4 166.6 401 160 401.6 155.8 402.3 154.8 403.4 153.8 404.5 158.7 405 157.4 405.6 149.8 406.3 141.5 407 135.7 407.6 130.7 408.3 124.2 409 133.5 409.6 124.1 410.3 119.6 411 129.9 411.6 136.2 412.7 152.1 413.6 124.9 414.2 132.7 414.9 140.2 415.6 118.7 416.3 101.6 417.2 118.9 418.3 108.6 418.9 120.4 419.6 134.9 420.2 150.8 420.9 135.6 421.5 124.4 422.2 108.3 422.8 118.8 423.4 125.9 423.9 135.6 424.5 145.5 425.1 140.2 425.8 128.5 426.9 144.2 427.5 154.5 428.2 162.4 429 160.2 429.8 160 430.4 159 430.9 157.8 431.5 157.4 432.2 156 432.9 154.1 433.6 159.7 434.2 163.1 434.9 168.1 435.5 164.5 436.2 160.1 436.9 151.6 437.5 141.5 438.2 182.7 438.9 183.7 439.5 183.1 440.2 184 440.9 186.5 441.5 190.7 442.2 192 442.9 191.6 443.5 191.4 444.1 191.3 444.8 190.7 445.5 185.4 446.1 180.6 446.8 176 447.5 177.7 448.2 176 448.9 180.6 449.5 182.7 450.2 181.4 450.8 181.9 451.5 181.4 452.1 175.5 452.8 172.1 453.5 173.2 454.1 177.4 454.8 178.1 455.5 178.7 456.2 184.7 456.8 188.4 457.5 193.3 458.1 193.1 458.8 190.5 459.5 190.4 460.1 189.3 460.8 168 461.4 146.7 462.1 125.2 463 154.8 464.1 158.8 464.8 167.8 465.4 175.2 466.1 182.7 466.8 184.1 467.4 185.3 468.1 188 468.8 187.9 469.4 188.5 470.1 188.7 470.7 190 471.3 191 471.9 193.6 472.5 186.3 473.1 182 473.7 175.3 474.5 170.2 475.3 164.5 476 173.6 476.6 184 477.3 183.1 478 181.4 478.6 185.8 479.3 189.3 480 186.5 480.6 184 481.3 185.5 481.9 188.3 482.6 189.3 483.3 183.3 483.9 177.3 484.6 169.4 485.2 169.9 485.9 168.1 486.6 169.7 487.3 170.7 488 169.6 488.6 169.4 489.2 169.7 489.9 170.7 490.6 164.7 491.3 160.1 492 143.1 492.6 126.3 493.3 108.9 494 132.6 494.6 152.1 495.2 156.6 495.9 157.4 496.5 164.7 497.2 172.1 497.9 177.1 498.6 181.4 499.2 181 499.9 182.7 500.6 180.8 501.2 179.2 501.9 178.7 502.6 162.1 503.2 175.2 503.9 188 504.5 190.2 505.2 193.3 505.9 189.7 506.5 187.1 507.2 184 507.9 183.8 508.5 186.7 509.2 182 509.9 177.4 510.6 180.4 511.2 183.7 511.9 185.4 512.6 185.4 513.2 186.8 513.9 188 514.5 186.1 515.2 188.1 515.8 186.7 516.5 179.5 517.2 172.7 518.1 189.3 518.7 188.1 519.3 185.4 519.9 185.2 520.5 184 521.1 178.6 521.7 172.8 522.3 168.1 522.9 164.1 523.7 169.7 524.5 177.4 525.2 181.6 525.8 185.9 526.5 192 527.1 192 527.8 190.6 528.5 190 529.1 189.3 529.8 187 530.5 184.4 531.1 182.2 531.8 180 532.5 176.8 533.1 172.6 533.8 169.4 534.5 172.7 535.1 173.5 535.8 176 536.5 175.7 537.1 173.4 537.7 169.1 538.2 166.9 538.8 163.4 539.6 168.4 540.4 172.1 541.1 174.5 541.7 175.8 542.4 176 543.1 178.2 543.7 181.7 544.4 185.4 545.1 185.3 545.8 182.8 546.5 182 547.1 177.8 547.7 177.1 548.3 173.4 549 177.9 549.7 181.4 550.4 184.2 551 189.3 551.7 188 552.3 188.4 553 186.7 554 190.7 554.8 186.9 555.6 184 556.3 176 557 169.4 557.6 164.1 558.3 160.1 559.1 156.4 559.9 149.5 561 160.1 561.6 166.8 562.3 177.4 563 183.5 563.6 189.3 564.3 187.5 564.9 186 565.6 184 566.3 174.3 566.9 163.5 567.6 153.5 568.2 147.5 568.9 140.5 569.6 170.7 570.2 176.3 570.9 181.4 571.6 183.2 572.2 181.3 572.9 184 573.5 185.7 574.2 188 574.8 182 575.4 174.6 576 171 576.6 164.1 577.4 168.5 578.2 172.1 578.9 172.7 579.5 176.2 580.2 178.7 580.9 181.4 581.5 183.2 582.2 185.4 582.9 171.9 583.5 160.1 584.5 135.5 585.5 157.4 586.1 166.4 586.7 174.5 587.3 182.7 588.2 137.2 588.9 148.1 589.5 161 590.2 173.4 591 179.9 591.8 184 592.4 180.5 592.9 174.3 593.5 170.7 594.1 163.4 594.6 159 595.2 150.8 596 157.5 596.8 162.8 597.5 166.4 598.1 169.6 598.8 173.4 599.5 173.9 600.3 174 601.1 170.7 601.9 165.4 602.7 168.2 603.5 176 604.1 178.6 604.7 179.4 605.2 181.2 605.8 184.1 606.4 186.5 607 176.9 607.5 168.2 608.1 160.5 608.7 159.5 609.3 158.5 609.9 138.2 610.5 119.2 611.2 107.2 612 88.5 612.7 77.8 613.3 99.9 613.8 116.9 614.4 139.5 615 144.7 615.5 149.1 616.1 154.5 616.7 141.5 617.2 123.9 617.8 111.6 618.4 119.2 619 129.4 619.7 135.5 620.3 141.5 620.9 142.6 621.5 145.3 622.2 146.6 622.8 146.8 623.4 142.2 624.1 138.4 624.8 132.5 625.4 126 626 124.5 626.5 130.7 627.1 131.5 627.8 135.8 628.4 128.7 629.1 128 629.8 134.8 630.6 142.5 631.3 149.6 631.9 141.2 632.5 134 633.2 126.7 633.8 119.2 634.4 118 634.9 109.4 635.5 105 636.1 104.4 636.6 101.2 637.2 99.7 637.8 101.1 638.3 104.8 638.9 109 639.5 125 640 146.2 640.6 162 641.2 166.5 641.7 170 642.3 176 642.9 179.7 643.4 184.9 644 187 644.7 184.7 645.3 181.9 646 179.4 646.6 175.8 647.1 171.2 647.7 167.6 648.3 168.3 648.8 172.2 649.4 172.6 650.1 173.8 650.9 180.1 651.6 184.5 652.2 185.6 652.7 187.7 653.3 189.5 653.9 187.4 654.5 187.1 655.2 185.4 655.8 182.8 656.4 181.2 657.1 178.2 657.8 177.2 658.4 176 659 177.5 659.6 178.6 660.3 180.3 660.9 182.8 661.5 184.7 662.1 185.3 662.8 184.8 663.4 186.2 664 186.1 664.7 187.1 665.4 187.1 666 187.9 666.6 186.1 667.2 184.4 667.9 181.6 668.5 179.4 669.1 180.1 669.8 181.7 670.4 182.2 671 184.5 671.6 182.6 672.3 182.8 673 179 673.6 177.7 674.2 171 674.7 164.3 675.3 155.7" fill="none" stroke="#ff0000" stroke-width="1.4" stroke-linejoin="round" opacity="1.0"/>
<path d="M398.9 18.9 399.3 90 400.4 165.6 401 159 401.6 154.8 402.3 153.8 403.4 152.8 404.5 157.7 405 156.4 405.6 148.8 406.3 140.5 407 134.7 407.6 129.7 408.3 123.2 409 132.5 409.6 123.1 410.3 118.6 411 128.9 411.6 135.2 412.7 151.1 413.6 123.9 414.2 131.7 414.9 139.2 415.6 117.6 416.3 100.6 417.2 117.9 418.3 111.3 418.9 121.9 419.6 135.1 420.2 149.8 420.9 134.6 421.5 123.4 422.2 107.3 422.8 117.9 423.4 124.9 423.9 134.6 424.5 144.5 425.1 142.3 425.8 133.9 426.9 143.2 427.5 143.9 428.2 141.8 429 147.3 429.8 155.1 430.4 155.4 430.9 155.5 431.5 156.4 432.2 155 432.9 153.1 433.6 158.8 434.2 162.1 434.9 167.1 435.5 163.5 436.2 159.1 436.9 150.6 437.5 140.5 438.2 181.7 438.9 182.7 439.5 182.1 440.2 183 440.9 185.5 441.5 189.7 442.2 191 442.9 190.6 443.5 190.4 444.1 190.3 444.8 189.7 445.5 184.4 446.1 179.6 446.8 175 447.5 176.7 448.2 175 448.9 179.6 449.5 181.7 450.2 180.4 450.8 180.9 451.5 180.4 452.1 174.5 452.8 171.1 453.5 172.2 454.1 176.4 454.8 177.1 455.5 177.7 456.2 183.7 456.8 187.4 457.5 192.3 458.1 192.1 458.8 189.5 459.5 189.4 460.1 188.3 460.8 170.2 461.4 152.1 462.1 133.9 463 153.8 464.1 157.8 464.8 166.8 465.4 174.2 466.1 181.7 466.8 183.1 467.4 184.2 468.1 187 468.8 186.8 469.4 187.5 470.1 187.7 470.7 189 471.3 190 471.9 192.6 472.5 185.2 473.1 181.1 473.7 174.3 474.5 170.6 475.3 166.4 476 174.1 476.6 183 477.3 182.1 478 180.4 478.6 184.8 479.3 188.3 480 185.5 480.6 183 481.3 184.5 481.9 187.4 482.6 188.3 483.3 182.3 483.9 176.3 484.6 168.4 485.2 168.9 485.9 167.1 486.6 168.7 487.3 169.7 488 168.5 488.6 168.4 489.2 168.7 489.9 169.7 490.6 163.7 491.3 159.1 492 142.1 492.6 125.3 493.3 107.9 494 131.6 494.6 151.1 495.2 155.6 495.9 156.4 496.5 163.7 497.2 171.1 497.9 176.1 498.6 180.4 499.2 180 499.9 181.7 500.6 179.8 501.2 178.1 501.9 177.7 502.6 161.1 503.2 174.2 503.9 187 504.5 189.2 505.2 192.3 505.9 188.7 506.5 186.1 507.2 183 507.9 182.7 508.5 185.7 509.2 181 509.9 176.4 510.6 179.4 511.2 182.7 511.9 184.4 512.6 184.4 513.2 185.8 513.9 187 514.5 185.1 515.2 187.1 515.8 185.7 516.5 178.5 517.2 171.7 518.1 188.3 518.7 187.1 519.3 184.4 519.9 184.2 520.5 183 521.1 177.6 521.7 171.7 522.3 167.1 522.9 163.1 523.7 168.7 524.5 176.4 525.2 180.5 525.8 184.8 526.5 191 527.1 191 527.8 189.6 528.5 189 529.1 188.3 529.8 186 530.5 183.4 531.1 181.2 531.8 179 532.5 175.8 533.1 171.6 533.8 168.4 534.5 171.7 535.1 172.5 535.8 175 536.5 174.8 537.1 172.4 537.7 168.1 538.2 165.9 538.8 162.4 539.6 167.4 540.4 171.1 541.1 173.5 541.7 174.8 542.4 175 543.1 177.2 543.7 180.7 544.4 184.4 545.1 184.3 545.8 181.7 546.5 181 547.1 176.8 547.7 176.1 548.3 172.4 549 176.9 549.7 180.4 550.4 183.2 551 188.3 551.7 186.9 552.3 187.4 553 185.7 554 189.7 554.8 185.9 555.6 183 556.3 175 557 168.4 557.6 163.1 558.3 159.1 559.1 155.4 559.9 148.5 561 159.1 561.6 165.7 562.3 176.4 563 182.5 563.6 188.3 564.3 186.5 564.9 185 565.6 183 566.3 173.3 566.9 162.5 567.6 152.5 568.2 151 568.9 148.5 569.6 169.7 570.2 175.3 570.9 180.4 571.6 182.2 572.2 180.3 572.9 183 573.5 184.7 574.2 187 574.8 181 575.4 173.6 576 170 576.6 163.1 577.4 167.6 578.2 171.1 578.9 171.7 579.5 175.2 580.2 177.7 580.9 180.4 581.5 182.2 582.2 184.4 582.9 170.9 583.5 159.1 584.5 134.5 585.5 156.4 586.1 165.4 586.7 173.5 587.3 181.7 588.2 156.4 588.9 160.7 589.5 166.8 590.2 172.4 591 178.9 591.8 183 592.4 179.5 592.9 173.3 593.5 169.7 594.1 162.4 594.6 158 595.2 149.8 596 156.5 596.8 161.8 597.5 165.4 598.1 168.6 598.8 172.4 599.5 172.9 600.3 173 601.1 169.7 601.9 164.4 602.7 167.2 603.5 175 604.1 177.6 604.7 178.4 605.2 180.2 605.8 183.1 606.4 185.5 607 176.1 607.5 167.5 608.1 160 608.7 159.1 609.3 158.1 609.9 143.9 610.5 131 611.1 143.5 611.8 153 612.4 147.2 612.9 146.1 613.5 141.2 614.1 143.1 614.8 147.8 615.5 150.4 616.1 153.9 616.7 147.9 617.4 138 618 133.1 618.6 126 619.2 133.4 619.7 138 620.3 141.2 620.9 142.2 621.5 144.9 622.2 146.2 622.8 146.3 623.4 142.2 624.1 139 624.8 133.6 625.4 127.7 626 125.5 626.5 130.9 627.1 131 627.8 125.7 628.4 107.9 629.1 97.2 629.8 116.2 630.4 136.1 631.1 119.4 631.8 102.3 632.4 104.9 633 110.7 633.7 97.5 634.3 85.3 635 72.7 635.7 98.2 636.4 114.1 637 112.1 637.5 111.8 638.1 109 639.2 117.5 639.9 139.3 640.6 161.5 641.2 165.1 641.7 169.9 642.3 175 642.9 177.8 643.4 183.4 644 186 644.7 183.3 645.3 179.8 646 178.4 646.6 174.5 647.1 172.5 647.7 166.6 648.3 168.6 648.8 169.9 649.4 171.6 650.1 175.9 650.9 179.3 651.6 183.5 652.2 184.4 652.7 187.8 653.3 188.5 653.9 184.9 654.5 184.7 655.2 182.9 655.8 181.8 656.4 180 657.1 177.7 657.8 177.5 658.4 175 659 177.8 659.6 178.6 660.3 179.3 660.9 181.8 661.5 182.2 662.1 183.2 662.8 183.8 663.4 185.2 664 184.9 664.7 187.5 665.4 187 666 186.9 666.6 184.2 667.2 181.9 667.9 180.6 668.5 178.4 669.1 179.2 669.8 181.5 670.4 182.7 671 183.5 671.6 181.8 672.3 179.3 673 178.2 673.6 176.7 674.2 167.8 674.7 161.7 675.3 154.7" fill="none" stroke="#000" stroke-width="1.4" stroke-linejoin="round" opacity="1.0"/>
<rect x="396.6" y="4.0" width="278.79999999999995" height="217.8" fill="none" stroke="#5a5a5a" stroke-width="1.15"/>
<line x1="396.6" y1="221.8" x2="396.6" y2="225.0" stroke="#5a5a5a" stroke-width="1.15"/>
<line x1="452.36" y1="221.8" x2="452.36" y2="225.0" stroke="#5a5a5a" stroke-width="1.15"/>
<line x1="508.12" y1="221.8" x2="508.12" y2="225.0" stroke="#5a5a5a" stroke-width="1.15"/>
<line x1="563.88" y1="221.8" x2="563.88" y2="225.0" stroke="#5a5a5a" stroke-width="1.15"/>
<line x1="619.64" y1="221.8" x2="619.64" y2="225.0" stroke="#5a5a5a" stroke-width="1.15"/>
<line x1="675.4" y1="221.8" x2="675.4" y2="225.0" stroke="#5a5a5a" stroke-width="1.15"/>
<line x1="393.40000000000003" y1="221.8" x2="396.6" y2="221.8" stroke="#5a5a5a" stroke-width="1.15"/>
<line x1="393.40000000000003" y1="178.24" x2="396.6" y2="178.24" stroke="#5a5a5a" stroke-width="1.15"/>
<line x1="393.40000000000003" y1="134.68" x2="396.6" y2="134.68" stroke="#5a5a5a" stroke-width="1.15"/>
<line x1="393.40000000000003" y1="91.12" x2="396.6" y2="91.12" stroke="#5a5a5a" stroke-width="1.15"/>
<line x1="393.40000000000003" y1="47.56" x2="396.6" y2="47.56" stroke="#5a5a5a" stroke-width="1.15"/>
<line x1="393.40000000000003" y1="4.0" x2="396.6" y2="4.0" stroke="#5a5a5a" stroke-width="1.15"/>
<text transform="translate(396.60 242.50) scale(1.0 1.15)" text-anchor="middle" class="t">0</text>
<text transform="translate(452.36 242.50) scale(1.0 1.15)" text-anchor="middle" class="t">100</text>
<text transform="translate(508.12 242.50) scale(1.0 1.15)" text-anchor="middle" class="t">200</text>
<text transform="translate(563.88 242.50) scale(1.0 1.15)" text-anchor="middle" class="t">300</text>
<text transform="translate(619.64 242.50) scale(1.0 1.15)" text-anchor="middle" class="t">400</text>
<text transform="translate(675.40 242.50) scale(1.0 1.15)" text-anchor="middle" class="t">500</text>
<text transform="translate(388.00 226.10) scale(1.0 1.15)" text-anchor="end" class="t">0.00</text>
<text transform="translate(388.00 182.54) scale(1.0 1.15)" text-anchor="end" class="t">0.05</text>
<text transform="translate(388.00 138.98) scale(1.0 1.15)" text-anchor="end" class="t">0.10</text>
<text transform="translate(388.00 95.42) scale(1.0 1.15)" text-anchor="end" class="t">0.15</text>
<text transform="translate(388.00 51.86) scale(1.0 1.15)" text-anchor="end" class="t">0.20</text>
<text transform="translate(388.00 8.30) scale(1.0 1.15)" text-anchor="end" class="t">0.25</text>
<line x1="559.0" y1="37.3" x2="580.8" y2="37.3" stroke="#ff3333" stroke-width="1.7"/>
<line x1="559.0" y1="52.4" x2="580.8" y2="52.4" stroke="#333" stroke-width="1.7"/>
<text transform="translate(586.20 41.60) scale(1.0 1.12)" class="lg" style="font-size:9.6px">Catalase</text>
<text transform="translate(586.20 56.50) scale(1.0 1.12)" class="lg" style="font-size:9.6px">Catalase +Alliin</text>
<text transform="translate(415.60 31.90) scale(1.0 1.17)" class="pl">B</text>
<text transform="translate(533.20 263.30) scale(0.955 1.1)" text-anchor="middle" class="ax">No. of residues</text>
<text transform="translate(357.60 120.20) scale(1.03 1.13) rotate(-90)" text-anchor="middle" class="ax">RMSF (nm)</text>
<path d="M45.60 418.1l.05-9.5 .06-7.2 .05 8.5 .06-15.6 .05 15.3 .06 4.5 .05-.6 .06-1.6 .05-6.4 .06-12.5 .05-5.5 .06 21.8 .05-5 .05 6.5 .06-12.5 .05-2.3 .06 7.8 .05 15.7 .06 9.3 .05-13 .06-3.4 .05 .1 .06-12.5 .05 5.6 .06 5.7 .05 4.6 .05-8.3 .06-.8 .05-1.6 .06 5.1 .05-2.1 .06 8.1 .05-2.8 .06-4.1 .05-4 .06-7.2 .05-5.5 .06 15.7 .05 2.6 .05 6.3 .06-14.3 .05 3.9 .06-.4 .05 5.1 .06-2.4 .05-12.4 .06 7.9 .05 4.1 .06-2.6 .05 6.3 .06 .3 .05-6.3 .05 9.4 .06-5.2 .05-1.4 .06-5 .05 4.4 .06-8.4 .05 10.1 .06 3.3 .05-7.9 .06-5.1 .05 .4 .06 13.1 .05-13.2 .05 5 .06 5.4 .05-4.6 .06-7.9 .05 8 .06 .5 .05-1.8 .06-2.2 .05 1.4 .06-8.6 .05 14 .06-11.2 .05 12.2 .05-21.2 .06 13.4 .05 4.6 .06-.9 .05 11.4 .06-7.5 .05-4.2 .06 2.5 .05-21.2 .06 11.5 .05-6.6 .05 20.5 .06-21.3 .05 24.9 .06-16.9 .05 3.1 .06 1.9 .05 11.8 .06-15.9 .05 5.3 .06 11.6 .05-3.6 .06 .9 .05-2.2 .05-3.7 .06-4.9 .05 4.7 .06-1.8 .05-5 .06-7.2 .05 12.2 .06-1.3 .05-4.6 .06 7.4 .05-13.6 .06 12.9 .05-8.4 .05-2.5 .06 22.3 .05-23.2 .06 12.3 .05-.4 .06 3.9 .05 2.9 .06-14.2 .05 8.1 .06 2.7 .05-4.6 .06-8.4 .05 12.6 .05-11.4 .06 13.1 .05-6 .06-1.1 .05 3.1 .06-3.5 .05 7.6 .06-10.6 .05 3.2 .06 3.1 .05 4.5 .06 0 .05-6.5 .05 .4 .06 3.4 .05-15 .06 6.5 .05 4.6 .06-8.4 .05 4.9 .06 6.6 .05 13 .06-20.7 .05 18.3 .06-2.8 .05-7.6 .05-5.2 .06 13.8 .05-14.4 .06-4.2 .05 11.3 .06 .7 .05-16.8 .06 3.6 .05 7.7 .06-5 .05 7.7 .06-1.3 .05-2.4 .05-11.1 .06 11.5 .05-.6 .06-1.4 .05 3.3 .06-3.5 .05-3.5 .06 12.9 .05-13.8 .06 10.9 .05-2.3 .06 11.8 .05-15 .05 5.2 .06-7.4 .05-15.7 .06 23.6 .05-2.6 .06-2.6 .05-3.9 .06 3.1 .05-10.8 .06 8.3 .05 10.7 .06 5.6 .05-16.2 .05 10.7 .06-6.7 .05 16.4 .06-8.6 .05 6.5 .06 1.9 .05-20.1 .06 1.8 .05-2.4 .06 6.3 .05-7.1 .06 13.9 .05-12 .05 7.4 .06 .3 .05-3.2 .06-5.8 .05 8 .06-21.1 .05 14.2 .06 13.3 .05-.5 .06-2.5 .05-4.1 .06 4.8 .05-7 .05 17.8 .06-9.9 .05-13.6 .06 3.8 .05 20.4 .06-14.8 .05-1.8 .06-.4 .05-4.8 .06 14.3 .05-9.6 .06-2.5 .05 5.7 .05-8.7 .06 6.5 .05-6.9 .06 6.2 .05 9.5 .06-15.5 .05 .1 .06 8.5 .05-1.9 .06 4.4 .05-2.3 .06 7.1 .05-.7 .05-6.6 .06-3 .05-3 .06-6.5 .05 16.8 .06-3.8 .05 .6 .06 9.8 .05-9.1 .06 2.2 .05-15.4 .06 10 .05-8 .05 0 .06 4.8 .05 2.4 .06-7.5 .05 2.3 .06 3 .05-.4 .06 5.7 .05-7.4 .06 8.2 .05-7.9 .05 2.5 .06 8.2 .05-11.7 .06 2.9 .05-3.8 .06 5.1 .05-6.9 .06 6.1 .05 4.6 .06 5.4 .05-10.1 .06-2.4 .05 5.4 .05 3.6 .06-1.8 .05-8.2 .06-1.8 .05 8.1 .06-6.4 .05 3 .06-3.2 .05 12.8 .06-11.4 .05 23.3 .06-10.3 .05-12.9 .05 1.7 .06 1.1 .05-17.2 .06 12.7 .05-9.5 .06 10.6 .05 14.6 .06-10.6 .05-2.8 .06 2.2 .05-14.7 .06 2.7 .05 12.2 .05-5.1 .06 .8 .05 3.7 .06-2.7 .05-1.7 .06 2.5 .05 7.5 .06-2.3 .05 3.7 .06 1.6 .05-6.2 .06-7 .05 5.7 .05-.3 .06 8.9 .05-10.7 .06-.9 .05-18.1 .06 18.9 .05-10.9 .06 12.6 .05-.4 .06-3.8 .05-2.7 .06-3.3 .05 13.3 .05-3.1 .06-4.4 .05 4.8 .06-.3 .05-6.3 .06 2.6 .05-6.6 .06 1.5 .05 11.3 .06-5.4 .05 5.5 .06-13.5 .05 4.5 .05-6 .06 11 .05 3.3 .06-7.3 .05 9 .06-10.6 .05 7.9 .06-5.9 .05-.5 .06 5.9 .05 4.1 .06-10.7 .05-3.2 .05 1.1 .06 8.4 .05-1.7 .06-3.6 .05-6 .06 9.4 .05-8.9 .06 5.7 .05-6.3 .06 4.1 .05 1.7 .06 8.4 .05-7.2 .05-12.7 .06 11.5 .05-8.8 .06 4.2 .05-1.3 .06 6.2 .05 10 .06-4.8 .05-2.1 .06-1.5 .05-6.3 .06 .8 .05 8.4 .05-3.9 .06-11.2 .05 15.7 .06-9.7 .05 11.7 .06 19.9 .05-21.5 .06 7.7 .05-13.4 .06-.1 .05 2.2 .06 8.7 .05-8.7 .05-9.2 .06 11.3 .05-2 .06-7.8 .05 14.3 .06-12.3 .05 2.7 .06-5.4 .05 29.1 .06-27.8 .05 6.1 .06-13.1 .05 16.1 .05 3.4 .06-1.9 .05 2.8 .06-3.2 .05-4.9 .06-7.9 .05 17.6 .06-12.2 .05 11.3 .06-14.2 .05 8.4 .06 5.2 .05-1.4 .05 2.4 .06 3 .05-16.6 .06-10.6 .05 11.3 .06-1.3 .05 3.4 .06 1.9 .05 8.9 .06-.8 .05-8.8 .05 4.9 .06-2.4 .05 1.4 .06-6.9 .05 8.2 .06-14 .05 19.9 .06-4.8 .05 9.1 .06-19.7 .05-4.7 .06 13 .05-7.2 .05 4.4 .06 0 .05 5.3 .06 6.6 .05-12.3 .06 3.8 .05-6.5 .06-1.4 .05 13.5 .06-7.2 .05-2.1 .06 9.2 .05-10.3 .05 7.5 .06-.7 .05-17.5 .06 20.3 .05 3.2 .06-20.4 .05 8.4 .06-1.2 .05 2 .06 2.7 .05-2.3 .06 .8 .05 5.9 .05-12.2 .06 11.9 .05-5.9 .06 4.2 .05-1.7 .06-8.7 .05 8.6 .06 7.6 .05 2.2 .06 8.6 .05-15.5 .06-10.4 .05 10 .05-1.1 .06-7 .05 5.5 .06 2.8 .05 4.7 .06-11.3 .05 3.2 .06-10.6 .05 8.3 .06 1.1 .05 6.5 .06-4.1 .05-4.3 .05-1.6 .06-.4 .05 9.5 .06-1.8 .05-15.1 .06 16.5 .05-2.2 .06-1.4 .05 9.8 .06-10.9 .05-8.8 .06 12.6 .05-8.3 .05 10 .06 2.4 .05-11.7 .06-.7 .05 4.2 .06 3.6 .05-1.8 .06-6.9 .05 12.9 .06 5.9 .05-10 .06 5.9 .05-18.1 .05 8.9 .06 3.8 .05-3.6 .06-3.3 .05-1.2 .06 2.9 .05-15.4 .06 20.9 .05 7 .06-6.8 .05-8.8 .06 9.2 .05 3.3 .05-14.5 .06 17.7 .05-26.1 .06 15.6 .05-12.7 .06 23.4 .05-5.8 .06 3.8 .05-3.3 .06 6.9 .05-3.1 .06-9.1 .05 .2 .05-8.3 .06 10.9 .05-5.9 .06 16.9 .05-8.6 .06-1.7 .05-20 .06 22.7 .05-4.9 .06-15.3 .05 8.3 .06 2.7 .05 0 .05-8.5 .06 16.4 .05-5 .06-.5 .05 5.2 .06-14 .05 11.7 .06 3.7 .05-11.7 .06-1.4 .05-5.4 .06-.3 .05 19.2 .05-7.2 .06-3.1 .05 1 .06 3.1 .05 3.7 .06-3.2 .05-2.6 .06 15.5 .05-15.8 .06 5.4 .05-7.6 .06 6.7 .05 2.8 .05-.5 .06 14.3 .05-10.3 .06-20.3 .05 10.9 .06 5.2 .05 13.8 .06-10 .05-17.3 .06 5.8 .05-6.3 .05 12.1 .06-1.7 .05-2.6 .06-5 .05 13.4 .06-10.5 .05-.7 .06-4.3 .05 18.8 .06-4.8 .05-10.8 .06 2.2 .05 2.6 .05 4.8 .06-2.5 .05-3.6 .06 3.7 .05-11 .06-1.4 .05 12.7 .06 6 .05-16.2 .06 9.5 .05 2.2 .06-4 .05 6.4 .05-17.2 .06 4.1 .05 .5 .06-13.1 .05 20.3 .06 4.5 .05-13.8 .06 1.6 .05 16.4 .06-8.6 .05-7.9 .06 10.7 .05-10.4 .05 2.3 .06-4.5 .05 12.3 .06-6.2 .05 5 .06-4.9 .05-6.1 .06 13.1 .05-5.9 .06-4.3 .05-7.9 .06 7.2 .05 3.5 .05-.8 .06 6.6 .05-6.4 .06-14.5 .05 15.4 .06-6.1 .05 6.6 .06 4.9 .05-8.9 .06-13.6 .05 23.3 .06-1.6 .05 8.7 .05-10.3 .06-2 .05 17.9 .06-8.4 .05-13 .06 1 .05 8.8 .06-6.1 .05 3.5 .06-6.6 .05 2 .06-8.4 .05 27.7 .05-22.9 .06 4.1 .05 7.8 .06-13.5 .05 10.1 .06-9.6 .05 9.2 .06-2.3 .05-1.8 .06 4.3 .05-3 .06 .1 .05-8.5 .05 .5 .06 18.4 .05-10.1 .06-2.3 .05 6.2 .06-4 .05 1.9 .06 4.9 .05-13.5 .06 11.2 .05-9.3 .06 28 .05-41.5 .05 16.5 .06 7.7 .05-4.7 .06 5.7 .05-9.5 .06 6.1 .05-.6 .06-4.4 .05 6.3 .06-3.1 .05-7 .06 3 .05 3.4 .05 7.9 .06-13.6 .05 3.8 .06-3.6 .05 1.6 .06 17.4 .05-11.7 .06 .8 .05 5.3 .06 5.4 .05-13.8 .06 3.5 .05-15.2 .05 4.9 .06-.1 .05 3.8 .06 2 .05-.3 .06-6.2 .05-4.4 .06 19.1 .05-5.9 .06 5.7 .05-4.2 .06-7.1 .05-1.6 .05 10.3 .06-12.1 .05 9.9 .06-13.6 .05 19 .06-16.2 .05 2.1 .06 3.3 .05 5.4 .06 3 .05-10.7 .06 31.4 .05-19.1 .05-.8 .06-8.8 .05-2.4 .06 2.7 .05-6.7 .06 6.3 .05 5 .06-11.9 .05 6.5 .06-2.1 .05-1.9 .06 1.5 .05 8.9 .05-11.5 .06 9.2 .05-9.5 .06-5.3 .05 14.5 .06 2.5 .05-7.8 .06 1.8 .05 13.5 .06-7.9 .05 1.2 .05-4.1 .06 .9 .05-2.5 .06 3.2 .05-.4 .06-7.7 .05-1.8 .06 23.9 .05-12.2 .06 10.2 .05-9.9 .06-7.9 .05-.4 .05 3.1 .06-1.8 .05 1 .06 2.6 .05-4 .06 9.8 .05-10.8 .06 6.7 .05-13 .06 22.6 .05 0 .06-2.4 .05 14.6 .05-19.1 .06-6.1 .05 6.1 .06-1.4 .05 4.8 .06 5.8 .05-6.1 .06-6 .05-6.4 .06 8.1 .05 1.5 .06 2.7 .05 2 .05-7.9 .06-.5 .05 8.7 .06-6.8 .05 1.6 .06-7.7 .05 1.3 .06-3.8 .05 18.7 .06-6.1 .05-5.1 .06-10.5 .05 19.4 .05-17.2 .06 16.5 .05-11.5 .06 4.6 .05-15.9 .06 2.6 .05 9.6 .06 2.9 .05-3.3 .06 3.9 .05-1.3 .06-6 .05 8.6 .05-5.3 .06-7.2 .05 5 .06-1.3 .05-2.6 .06 5.5 .05 4.6 .06-9 .05-6.2 .06 5.6 .05-2.4 .06 15.2 .05-4 .05 4.5 .06-3.3 .05-4.8 .06 7.1 .05-6.6 .06 4.7 .05 4.8 .06-3.6 .05-2.9 .06-14.6 .05 21.9 .06-15.8 .05 8 .05-5.5 .06-20.9 .05 19.6 .06 11.6 .05-6 .06 6.2 .05-1.2 .06 6.5 .05-7 .06 5.8 .05-13.4 .06 4.6 .05-16.3 .05 23.3 .06-6.7 .05-8.7 .06 13.9 .05 4.3 .06-7.7 .05-13.7 .06 8.4 .05 3.8 .06 9.2 .05-6.8 .06-3.7 .05-1 .05-5 .06 7.6 .05-4.8 .06 13.2 .05-7 .06-6.2 .05 14.8 .06-9.7 .05 7.3 .06-3.1 .05-15.1 .06 6.2 .05 4.6 .05 5.9 .06-9.9 .05-3 .06 12.7 .05-14.5 .06 14 .05-11.2 .06 2.5 .05-21.6 .06 32.5 .05-16.7 .06 7.1 .05-.3 .05 4.2 .06-4.5 .05-3 .06 3.7 .05-2.3 .06-3.7 .05 5.7 .06-4.2 .05-5.3 .06 9.7 .05 2.6 .06-3.4 .05-5 .05-9.4 .06 14.8 .05 6.1 .06-5 .05 0 .06-1.8 .05 9.1 .06-8.5 .05-4.1 .06 5.9 .05-3.5 .05-6.9 .06 13 .05-17.1 .06 16.3 .05-5.6 .06-2.7 .05 5.7 .06 0 .05 5 .06-5.2 .05 1.7 .06-1.4 .05 6.3 .05 3.4 .06-15.7 .05 10.3 .06 5.2 .05-3 .06-4.6 .05 2.4 .06 2 .05-2.9 .06-1.4 .05 1.9 .06-16.7 .05 14.4 .05 5 .06 3.3 .05-8.4 .06-2 .05-.5 .06-3.3 .05 11 .06 5.3 .05-8.5 .06 3.2 .05-4 .06-4.6 .05 6.4 .05 1.9 .06-3.5 .05 10.3 .06 3.3 .05-4 .06-19.2 .05 16.6 .06-4.4 .05 18.9 .06-28.4 .05 1.9 .06-6.8 .05 12.2 .05 20.1 .06-14 .05-11.3 .06-9.1 .05 17 .06-9.2 .05 9.1 .06-6.1 .05 8.5 .06 17.2 .05-8.1 .06-10.9 .05 10.5 .05-8 .06-7.2 .05 .8 .06-1.1 .05 5.8 .06-4.1 .05 5.7 .06 4.6 .05-10 .06 2.1 .05-9.2 .06 2.3 .05 10.6 .05-5.1 .06 3.5 .05 2.7 .06-3.6 .05-6.7 .06-5.7 .05 10.8 .06-3.2 .05 7.7 .06 9.4 .05-9.1 .06-5.9 .05-1.7 .05-3.5 .06 11.2 .05-4.5 .06 2.6 .05 4.5 .06-2.1 .05-4.7 .06 2.6 .05-.5 .06-4 .05 3 .06-10.6 .05 12.3 .05 22.1 .06-23.6 .05 1.8 .06-19.7 .05 11.4 .06-3.1 .05 21.7 .06-22.1 .05 5.5 .06-4.2 .05 8 .06-11.1 .05 8.6 .05 7.5 .06-12.2 .05-.1 .06 18.7 .05-10.7 .06-8.7 .05 7.5 .06-4.1 .05 8.5 .06 .4 .05-14.9 .06 9.3 .05 20.4 .05-25.9 .06 5.2 .05-4.9 .06 6.4 .05-6.7 .06 1.2 .05-7.6 .06 14.2 .05-4.3 .06 1.1 .05-3.9 .06 4.6 .05-6.9 .05 9 .06-6.6 .05 22.5 .06-7.3 .05-10.4 .06 4.1 .05-7.8 .06-5.3 .05 5.9 .06 8.4 .05-13.7 .06 7.8 .05 4.7 .05-5.3 .06 3.2 .05-6.9 .06-5.6 .05 7.9 .06-2.3 .05-1.6 .06 14.9 .05-16.6 .06 0 .05 7.7 .06 11.4 .05-.9 .05-15.9 .06 2.4 .05-2.5 .06 12.8 .05-2.7 .06-4.2 .05-1.8 .06 .5 .05 .6 .06-9.6 .05-6.8 .05 30.6 .06-12.3 .05-5.9 .06 3.6 .05-4.3 .06 4.7 .05-4.4 .06-.6 .05 7.4 .06-8.6 .05-2 .06 8.2 .05-1.5 .05-8.3 .06 4 .05-5.9 .06 25.5 .05-10 .06-2.9 .05-7.3 .06 14.7 .05-.5 .06-7.3 .05-3.4 .06 .6 .05-.5 .05 8.3 .06-5.3 .05 6.7 .06-9.7 .05 5.7 .06-4.9 .05 0 .06-1.2 .05 4.4 .06-9.3 .05-4.4 .06 12.5 .05 .2 .05 .4 .06-5.1 .05 7.7 .06-8.1 .05 4.5 .06 .7 .05 4.2 .06-1.9 .05-8.4 .06 4 .05-3.3 .06 1.3 .05-6.7 .05 10.5 .06-1.6 .05-7 .06 3.8 .05 2.3 .06-.4 .05 .9 .06 2.8 .05 7.1 .06-7.8 .05-7.9 .06-.1 .05 13.9 .05-6.4 .06 10.8 .05-10.9 .06-1.4 .05-.8 .06-19.2 .05 11.9 .06 .2 .05 5.8 .06 .7 .05 .7 .06 7.2 .05-4.4 .05-9.2 .06-3.1 .05 6.3 .06 3 .05 .9 .06 1.1 .05 .4 .06-4.9 .05-8 .06 8 .05 14.9 .06-11.9 .05-3.2 .05 17.2 .06-15.3 .05-.1 .06 3.2 .05 9.4 .06-5.3 .05 1.5 .06-5.7 .05-5.3 .06 15 .05-11 .06 .5 .05 6.7 .05-7.5 .06 8.1 .05-3.1 .06-4.8 .05-.7 .06-1.5 .05-3.2 .06 5.9 .05-4.2 .06 10.1 .05 4.1 .06-15.7 .05 17 .05-27.6 .06-6.3 .05 21.7 .06 1.1 .05 2.8 .06-6.6 .05 4.3 .06-1 .05 4.9 .06-4.1 .05 7.8 .06-13.1 .05 11.7 .05-1.1 .06-25.3 .05 23.4 .06-1.1 .05-6.5 .06 4 .05-.4 .06 7.2 .05-.7 .06-13.2 .05-6.3 .06 .3 .05 8.6 .05 18.3 .06-20.2 .05 14.3 .06-10.6 .05 11.9 .06-19.5 .05 16.2 .06-9.3 .05-14.4 .06 18.9 .05 2.3 .06-17.8 .05 20.1 .05-30.9 .06 8.5 .05 18.1 .06 .9 .05-4.6 .06 1.2 .05 2.3 .06-.6 .05-18.2 .06 23.6 .05-6.5 .05 4.7 .06-9.3 .05 5 .06-6.4 .05 10 .06-1.1 .05-8.4 .06-1.8 .05 3.3 .06-1.9 .05-4.7 .06 20.1 .05-13.9 .05 3.7 .06 1.8 .05 2.7 .06-4.5 .05 2.6 .06-11 .05 11 .06-6.9 .05-4.1 .06-.1 .05 10.4 .06-1.6 .05-8.6 .05 4.9 .06 3.2 .05-.4 .06-5.5 .05-23.6 .06 34.8 .05-18.3 .06 11.7 .05-6.5 .06 6.3 .05-10.1 .06 8.8 .05-10.9 .05 13.8 .06-2.1 .05-11.5 .06 5.8 .05 2.6 .06-.9 .05 6.1 .06-4.2 .05 2.7 .06-6.1 .05-7.9 .06 12.4 .05 1.1 .05-8.2 .06 4.2 .05-3.4 .06 .4 .05 5.2 .06 2.2 .05-13.1 .06 9.5 .05 3.1 .06-3.8 .05 15.3 .06-1.9 .05-15.5 .05 15.2 .06-17.6 .05-5.2 .06 14.1 .05-2.2 .06-11.1 .05 17 .06-2.4 .05 6.4 .06-.2 .05-.5 .06-15.3 .05-7.7 .05 18.8 .06-6.2 .05 5.3 .06-17.4 .05 15.7 .06 1.6 .05-3.8 .06-11.1 .05 9.8 .06-3.5 .05 8.3 .06-4 .05-4.5 .05 16.6 .06-23.9 .05 14.8 .06 1 .05-8.6 .06 6.2 .05 1.2 .06-9 .05-.7 .06 11.9 .05 9.6 .06-15.7 .05 3.7 .05-15.9 .06 13.1 .05-.1 .06 3.4 .05 1.6 .06-2.1 .05-4.9 .06 5.3 .05 4.8 .06-10.2 .05 6.4 .06-3.7 .05 8.3 .05-1.6 .06 1.8 .05 2.8 .06 8.2 .05-5 .06-.7 .05-10 .06-3.1 .05 7.1 .06-5.5 .05 1.8 .06 9.4 .05-10.8 .05 1.8 .06 10 .05-21.9 .06 2.5 .05 14.1 .06-10.5 .05-.7 .06-6 .05 15.5 .06-.5 .05-9 .06 1.9 .05 5.6 .05 15.8 .06-5.6 .05-4.4 .06-8.3 .05 10.9 .06-12.5 .05 13.8 .06-6.3 .05-2.4 .06-5.2 .05 11.5 .06-7.5 .05-2.1 .05-5 .06 4.6 .05 7.4 .06-15.6 .05 17.4 .06-7.9 .05-4.3 .06-14.8 .05 6.7 .06 14.5 .05-5.2 .06-1.9 .05 7.9 .05-1.8 .06-3.6 .05-11 .06 1.5 .05 19.2 .06-14.9 .05 7.2 .06-4 .05 4.9 .06-3.9 .05 5.1 .05-9 .06-.8 .05 3.1 .06 6.4 .05-5 .06 12.4 .05-4.8 .06-11.1 .05 14.5 .06-5.4 .05 5.5 .06-8.6 .05-5.1 .05 7 .06-3.2 .05 2.3 .06 9.8 .05-12 .06 2.7 .05-3.9 .06 4.8 .05-6 .06-4.8 .05 10.4 .06 7.2 .05-7.9 .05 1.6 .06-11 .05 6.7 .06-6.2 .05-3.8 .06 8.1 .05 3.8 .06-10.3 .05-16.8 .06 11.3 .05 9.3 .06 7.1 .05-17.1 .05 19.7 .06-3.5 .05 3.6 .06 2.9 .05-22.1 .06 8.3 .05 14.3 .06-2.7 .05-7.6 .06 13.3 .05-13.6 .06 1.3 .05-.2 .05 1.9 .06 6.5 .05-12.1 .06 1.8 .05 3 .06 3.8 .05-.3 .06-14.9 .05 3.5 .06 9.6 .05-4.6 .06 3.1 .05-8.9 .05 4.1 .06 11 .05 10.3 .06-7.6 .05-6.1 .06-1.8 .05 6.1 .06-18.2 .05 7.4 .06 10.3 .05-1.6 .06-3.3 .05-1.4 .05-.6 .06-9.3 .05 10.9 .06 17.6 .05-17.3 .06-9.6 .05 2 .06 12.8 .05-10.2 .06 10.9 .05-4.4 .06-11 .05 26.4 .05-11.4 .06-3.1 .05-2.8 .06 2.4 .05 .4 .06 1.7 .05 8 .06-20.8 .05 11.8 .06-7.8 .05 1.6 .06 4.6 .05 1.4 .05-12.2 .06 8 .05-2.4 .06-10.9 .05 4 .06 8.8 .05 3.4 .06 12 .05-25.3 .06 13.6 .05-14.7 .06 18.4 .05-7 .05-1.3 .06-5.8 .05 13.1 .06 10.9 .05-22.6 .06-1.5 .05 11.5 .06 5.5 .05-7.2 .06-4.2 .05 15.6 .06-5.3 .05-1.1 .05-14.7 .06 6.7 .05-2.4 .06-7.8 .05 10.8 .06-1.7 .05-.1 .06-1.3 .05 6 .06-6.4 .05-3.1 .06-15.1 .05 16 .05-15.3 .06 24.9 .05-10.1 .06 15.3 .05-7.2 .06-1.9 .05-9.5 .06 7.9 .05-3.8 .06 7.3 .05 3.1 .06-.9 .05 .7 .05-4.9 .06-13.3 .05 9.2 .06 6.8 .05-6.7 .06-.6 .05 3.3 .06-.4 .05 2 .06-.2 .05-3.4 .05 .9 .06 1.4 .05-14.3 .06 5.6 .05 21.7 .06-21.7 .05 4.9 .06 2.1 .05-7.8 .06 6.4 .05 21.6 .06-15.3 .05-3.7 .05-2.3 .06 5.1 .05-3.5 .06-5 .05 7.3 .06 8.4 .05-3.7 .06-9.4 .05 8.2 .06-8.4 .05 7.3 .06-6.6 .05 12 .05-8.7 .06-4.6 .05-8.2 .06 25.6 .05-14.4 .06-.6 .05 18.1 .06-15.1 .05-5.6 .06 16.4 .05-14 .06 8.9 .05-7.8 .05 5.1 .06 13.8 .05-29.8 .06 14.3 .05-1.4 .06-4.1 .05-1.4 .06 10.1 .05-10.2 .06 15.5 .05-6.9 .06 .9 .05 .8 .05-15.2 .06 16.4 .05 2.4 .06-7.7 .05 .1 .06 6.5 .05-5.4 .06 3.7 .05-12.6 .06 8.8 .05 10.6 .06-12.7 .05 9.1 .05-3.3 .06-9 .05 6.6 .06-1.2 .05 1.2 .06-13.7 .05 19.2 .06-4.4 .05-4 .06-.1 .05-5.9 .06-6.4 .05 .7 .05 17.7 .06-8 .05 4.2 .06-6.6 .05 5.2 .06 3.5 .05 4.2 .06-8 .05-3.7 .06-13.2 .05 18.8 .06 .2 .05 8.8 .05-11.9 .06-4.3 .05-2.7 .06-7.3 .05 23 .06-12.5 .05 1.3 .06 5.9 .05-.9 .06-8.2 .05 6.3 .06 4.7 .05 1.5 .05-16.3 .06 12.5 .05 .4 .06 2.8 .05-6.7 .06 5 .05 3.6 .06-23.4 .05 14.1 .06 6.4 .05-6.5 .06 8 .05-6.6 .05 11.4 .06-17.4 .05 6.1 .06-.6 .05 6.4 .06 .5 .05 1.5 .06-8.3 .05 1.9 .06-1.5 .05 5.9 .06-1.1 .05-2.9 .05 4.7 .06-3.3 .05-2.4 .06 12.6 .05-3.4 .06-6.9 .05-12.4 .06 8.5 .05 .1 .06 13.4 .05-8.3 .06-4 .05 2.2 .05-1.8 .06-5.3 .05 6.2 .06-3 .05 4.9 .06-3.2 .05-2.2 .06 8.2 .05-7.9 .06-2.1 .05-.2 .06 4.5 .05-1.5 .05 2.1 .06 6.4 .05-2.1 .06-10.4 .05 11.2 .06-7.5 .05 2.8 .06 4.2 .05-.5 .06-16.7 .05 7.8 .05-3.3 .06 3.3 .05-9.2 .06 14.7 .05 5.1 .06 4.1 .05-5.1 .06 .8 .05-8 .06-3.7 .05 6.4 .06-1.3 .05 1.9 .05-8 .06 2.2 .05-.6 .06 6.1 .05-9.3 .06 2.1 .05 5.1 .06-4.9 .05-3.4 .06 23.1 .05-19.9 .06 .6 .05-.2 .05-10.2 .06 18 .05 6.4 .06-10.6 .05-12.2 .06 4.4 .05-.7 .06 4.4 .05-2.5 .06 8.3 .05-13 .06-.2 .05 6.9 .05-4.3 .06 2.6 .05 9.4 .06-7.9 .05 4 .06 9.8 .05-5 .06-4 .05-5 .06 10.5 .05-11 .06-1 .05 15.4 .05-10 .06-.8 .05-2.2 .06 5.2 .05-6.8 .06 2 .05 25.1 .06-17.2 .05-7.1 .06-4.9 .05 13.5 .06-21.5 .05 7.9 .05 2.6 .06-9 .05 10.3 .06-11.9 .05 20.7 .06-14.5 .05-1.1 .06-4.1 .05 21.6 .06-11 .05-3.2 .06 1.3 .05 10.9 .05 5.3 .06-13.6 .05-2.5 .06 6.6 .05-7.1 .06-1.7 .05-.6 .06 9.9 .05 13.7 .06-19.9 .05 3.6 .06 1.3 .05-4.9 .05 1.5 .06 7.9 .05-.3 .06-.4 .05 .6 .06 2.5 .05-1.6 .06-1.7 .05-1.7 .06-9.4 .05 10.2 .06-5.9 .05 9.6 .05-13.3 .06-2 .05 .9 .06 15.5 .05-11 .06 8.6 .05-6.3 .06 11.8 .05-16.1 .06 4 .05 13.1 .06-6.8 .05-5.2 .05-1.8 .06 4.2 .05-1.4 .06 1.4 .05-7.9 .06-.6 .05 12.8 .06-7.4 .05 3.1 .06-1.4 .05-2 .06-11.4 .05 3.5 .05 9.4 .06 .7 .05 .4 .06 1.7 .05-5.7 .06 7.5 .05-6.2 .06-2.7 .05 9.5 .06 8 .05-12.3 .06 6.3 .05-16.9 .05 10.3 .06-3 .05-3.6 .06 15.5 .05-8.1 .06-5.3 .05 3.7 .06-10.2 .05 13.4 .06-4.5 .05 .4 .06-7.4 .05 13.4 .05-4.8 .06 5.6 .05-8.1 .06 2.3 .05 15.3 .06-9.2 .05-10.9 .06 3.2 .05 14.8 .06-27.7 .05 18.4 .06-6.5 .05 5.1 .05-6.2 .06-3.9 .05 13.2 .06-4.1 .05 2.1 .06 1.2 .05-11.2 .06 1 .05 6.8 .06-7.6 .05 11.3 .05-1.5 .06 3.6 .05-6.6 .06 6.7 .05-4.8 .06-1.9 .05 4.1 .06-4.3 .05 7.9 .06-10.3 .05 10.9 .06 5.5 .05 6.7 .05-26.3 .06 6 .05 4.4 .06-15.5 .05 .7 .06 17.4 .05-2.3 .06 1.6 .05 10 .06-4 .05-9.7 .06-8.8 .05 8.5 .05-1.8 .06 5 .05 .5 .06 1 .05-10.6 .06-3.8 .05 10 .06-13.9 .05 4.4 .06 23.5 .05-26.5 .06 12.5 .05 .2 .05-2.1 .06-4.4 .05-1.6 .06 15.9 .05-11.7 .06-1.3 .05-2.1 .06-6.5 .05 17.4 .06-7.2 .05-7.3 .06 12.4 .05-14.6 .05 12.2 .06-1.1 .05 2.5 .06 1.6 .05-15.6 .06 15 .05-1.1 .06-12.9 .05 13.2 .06-3.8 .05-8 .06 8.6 .05-2.5 .05 6 .06-9.3 .05 7.9 .06-11.6 .05 .3 .06 18 .05-1.7 .06-4.8 .05-5.8 .06 6.7 .05-14.5 .06 3.7 .05 13.8 .05-16.7 .06 4.2 .05-.9 .06 12 .05-13.3 .06 9.4 .05-1.6 .06-1.5 .05 7.7 .06-15.4 .05-2.3 .06 6.3 .05 4.7 .05 3.9 .06 3.1 .05-5.9 .06 .8 .05-8.6 .06 26.4 .05-28 .06 12.2 .05-17 .06 6.4 .05-4.7 .06-.3 .05 12.7 .05 12.8 .06-2.8 .05-22 .06 7.5 .05 12.7 .06-3.9 .05 6.7 .06-3.8 .05-10.3 .06-4.1 .05 1 .06 10.2 .05-9.7 .05 1.8 .06 4.2 .05 5.6 .06 7.9 .05-14 .06 6.8 .05-10.6 .06 10.3 .05-19.5 .06 16 .05-8.9 .06 19.1 .05-16.3 .05 15.1 .06-13.1 .05 1.2 .06 17.9 .05-6.8 .06-11.7 .05 0 .06 5 .05 8.2 .06-11.6 .05-2.6 .06-3.4 .05 10.5 .05-9.1 .06 7.4 .05-13.6 .06 10.2 .05 9.8 .06-8.6 .05-22.3 .06 22.6 .05-4.7 .06-2.1 .05 3.6 .06 2.9 .05 4.6 .05 .9 .06-15 .05 4.2 .06-3.1 .05 12.4 .06-3.6 .05-.6 .06 1.8 .05-10.6 .06 10.1 .05-11.8 .05-1.7 .06 7.7 .05 1.9 .06-1.6 .05 2.9 .06-.5 .05-.3 .06-11.5 .05 7.1 .06 1.5 .05 3.7 .06-1.1 .05-6.7 .05-.3 .06 13.5 .05-7.5 .06 10.4 .05-2.9 .06-5.7 .05 5.3 .06-4.7 .05-13.1 .06 16 .05-23.7 .06 17.7 .05 2.6 .05 13.3 .06-18.2 .05 3.7 .06-7.6 .05 3.2 .06-.5 .05-1.5 .06 6.4 .05-1.2 .06 6.9 .05-3 .06-3.4 .05-5.8 .05 2.6 .06-.1 .05-5.5 .06 10.9 .05-2.3 .06 3.2 .05-7.4 .06 2.7 .05-2.6 .06 6.2 .05 2.9 .06-6.6 .05-16 .05 20.8 .06-5.7 .05 .6 .06 5.9 .05-.2 .06-11.3 .05-7.7 .06 20.1 .05-12.9 .06-.4 .05 19.7 .06-20.9 .05 12.9 .05 5.5 .06-10.6 .05-2.1 .06 .5 .05-2.9 .06 10.8 .05-6.8 .06-1.2 .05 13.8 .06-9.2 .05-8.4 .06 6.5 .05 4.8 .05-5.4 .06-.1 .05 .1 .06 1.7 .05-.4 .06-15 .05 15.9 .06 5.5 .05-11.3 .06-2.9 .05 15.4 .06 4.6 .05-9.7 .05-6.7 .06 11.2 .05-8 .06-9.2 .05 7.3 .06 3.5 .05-4.9 .06-2.8 .05 3.8 .06 .1 .05 3.7 .06-2.7 .05 0 .05-2.7 .06 4.5 .05-.9 .06 12.8 .05-26 .06 3.8 .05 1.4 .06 13 .05-13.7 .06 18.5 .05-2.5 .06-5.7 .05 3.1 .05-3.6 .06 2.7 .05-.7 .06-3.4 .05 7.8 .06 4.5 .05-17 .06-6.6 .05 17.4 .06-11.3 .05 8.2 .06-6.6 .05 2.3 .05 9.4 .06-16.1 .05 24.7 .06-25.6 .05 4.4 .06-2 .05 14.1 .06-5 .05-6.5 .06 9 .05 7.6 .06-11.9 .05 3.9 .05 7.2 .06-11.9 .05-22 .06 26.2 .05-2.3 .06-3.3 .05-13.4 .06 19.4 .05 4.4 .06-9.1 .05 7.3 .06-19.3 .05 15.5 .05-3.6 .06-1.7 .05-1.2 .06 1.6 .05 1.1 .06-1.8 .05 24 .06-22 .05-25.7 .06 14 .05 17.1 .06 .1 .05-4.8 .05-4.5 .06 7.5 .05-2.3 .06 10 .05-9.6 .06-12 .05 3.9 .06-4.6 .05 .3 .06 11.7 .05 6 .05 .2 .06-9.2 .05 4.3 .06 .4 .05 9.4 .06-5.9 .05 3.9 .06-7.6 .05-4.2 .06 6.3 .05-4.1 .06 5.1 .05 6.5 .05-8.1 .06-.1 .05 2.9 .06 7.7 .05-3.2 .06-10.1 .05 .8 .06 3.4 .05-4.2 .06-6.4 .05 10.1 .06-3.6 .05 5 .05 1.5 .06-4 .05-4.3 .06-5.5 .05-2.2 .06 8.7 .05-6.7 .06 7.7 .05-6.2 .06 9.2 .05 2.9 .06-1.5 .05-3.3 .05 .2 .06-1 .05-5.6 .06-.3 .05 15.4 .06-10.5 .05 10 .06-8.1 .05 12.6 .06-19.7 .05 12.2 .06-9 .05 11.4 .05-9.8 .06 2.9 .05 2.4 .06-2 .05 5.4 .06 .9 .05-7.1 .06-3.2 .05 13 .06-15.2 .05 6 .06 7.4 .05 .8 .05-7.2 .06-2.8 .05-6 .06 8.1 .05 1.9 .06-8.9 .05 8.9 .06 1.7 .05-.6 .06-7.5 .05-8.7 .06 13.2 .05 1.9 .05-17.3 .06 12.3 .05 1.3 .06-6.6 .05 3.4 .06 17.3 .05-15.3 .06 1.8 .05 10.2 .06-1.9 .05-7.2 .06 6.4 .05-7.9 .05-5.5 .06-2.6 .05 8.8 .06 5.1 .05 6.5 .06-17.7 .05 9.2 .06-8.7 .05-3.1 .06-.4 .05 8.7 .06-4.3 .05 5.9 .05-3.1 .06 3 .05-11.1 .06 3.8 .05-11.7 .06 13.3 .05 3.6 .06 4.7 .05-18.9 .06 12.5 .05-5.3 .06 12.1 .05-7 .05 2.3 .06-5 .05 10.7 .06-13.5 .05 1 .06 6.3 .05-8 .06 .9 .05 6.6 .06 3.7 .05 2.4 .06-5.8 .05 6.5 .05 6.9 .06-23.2 .05 9.7 .06-3.6 .05 5.1 .06-1.9 .05-4.5 .06-3.6 .05 9.7 .06-16.1 .05 3.8 .06 5.7 .05 2.6 .05 1.4 .06-1.2 .05-7.6 .06 11.3 .05 3.4 .06-6.6 .05 6.5 .06-3.6 .05 13.7 .06-10.5 .05-5.4 .06 2.1 .05 .9 .05 4.1 .06-17.5 .05 6.2 .06 .9 .05-.5 .06 3.7 .05 2.2 .06 7.7 .05-30.3 .06 11.9 .05 15 .05-.3 .06 1.3 .05 2 .06-11.5 .05 6.9 .06-8 .05 4.9 .06-4.2 .05-10.1 .06 2.5 .05 7.7 .06 5.2 .05-4.6 .05 8.6 .06-14.9 .05 10.8 .06 5.5 .05-20.2 .06 4.2 .05 9.5 .06-.4 .05-8.2 .06 4.4 .05-.2 .06 1 .05 .2 .05 .4 .06 3.3 .05-1.8 .06 1.8 .05-3.4 .06-13.3 .05 2.8 .06 6.9 .05 9.8 .06-8.6 .05 7.8 .06 1.1 .05-9.1 .05 11.6 .06-16 .05 25.7 .06-15 .05 3.4 .06-2.5 .05 8.7 .06-4.8 .05-4.8 .06 4.5 .05-4.9 .06-6.5 .05 3.5 .05 7.9 .06-.5 .05 .6 .06-15.9 .05 9.7 .06 6.7 .05-10.7 .06 20.3 .05-12.4 .06-2.7 .05 6.2 .06-23.7 .05 8.7 .05 5.5 .06 0 .05-.5 .06 .3 .05-4.4 .06 8.2 .05-2.6 .06-2.7 .05 16.2 .06-20.8 .05 9.7 .06-1.9 .05 11.4 .05-9.9 .06 5.4 .05-5.4 .06-8.6 .05-4.6 .06 19.2 .05-16.3 .06 20.6 .05-12.2 .06-2.7 .05-5.7 .06 11.4 .05 1.8 .05-2.5 .06-7 .05 6.3 .06-2.4 .05 9.1 .06-9.6 .05 3.9 .06-1.8 .05-.3 .06 3.9 .05-2.2 .06 .5 .05 8.7 .05-7.5 .06 .4 .05 8 .06-10.9 .05-4.9 .06 11 .05 9.7 .06-10.4 .05-3.9 .06 6.2 .05 4.3 .06-24.8 .05 18.4 .05 1.7 .06-3.9 .05 2.1 .06-6.2 .05 7.4 .06 11.3 .05-10.7 .06 6.3 .05-4.3 .06-9.4 .05 1.8 .06-1.1 .05 2.2 .05 4.7 .06-5.4 .05-10.2 .06 8.1 .05 3.2 .06-5.5 .05 18.9 .06-11.1 .05-4.7 .06 6.6 .05-5.7 .06-4.4 .05 7.3 .05-4.8 .06-1.5 .05-.1 .06 7.9 .05 5.5 .06 4.3 .05-7.9 .06-6.8 .05-5.2 .06 4.6 .05 28.8 .06-19.6 .05-6.9 .05-1.4 .06 10.5 .05-8.9 .06-3.4 .05-1 .06 4.5 .05-5 .06 4.3 .05 5 .06 3.1 .05-18.9 .05 14.1 .06 .8 .05-1 .06 10.4 .05-10.6 .06-8 .05 7.8 .06-.5 .05-5.5 .06-1.8 .05-1.6 .06 .7 .05 2.5 .05 .3 .06 11.5 .05-15 .06 2.7 .05 18.4 .06-12.8 .05 12.4 .06-5.6 .05-11.1 .06 6.5 .05-4.3 .06 3.9 .05 4.2 .05-6.8 .06 .9 .05 2.5 .06-6.3 .05 2.2 .06-1.1 .05-2.7 .06 5.4 .05-3.1 .06-3.2 .05 14.6 .06-2.5 .05 .6 .05-10.2 .06 5.9 .05-1.8 .06-6.2 .05-.9 .06-8.2 .05 14.2 .06-2.6 .05 3.9 .06-7.9 .05 .4 .06 4 .05 7.7 .05-9.6 .06 5.6 .05 8 .06-5.1 .05 2.7 .06-10.5 .05 2.5 .06-5 .05 11.9 .06-15.9 .05 14.7 .06-1.4 .05 1.3 .05-10.6 .06 4 .05 3.7 .06 4.9 .05-17.5 .06 5.2 .05-2.1 .06 11.1 .05 3.5 .06-13.9 .05-.7 .06 11.5 .05-14.9 .05 13.5 .06 .3 .05 1.8 .06-10.6 .05 6.8 .06 9.5 .05 1.7 .06-7.3 .05-3.4 .06 .6 .05 1.3 .06-4.7 .05-5.8 .05 15.2 .06-5.4 .05 4.6 .06-13.4 .05-6.3 .06 11.3 .05 8.7 .06-8.5 .05-3.1 .06 6.1 .05-.2 .06 6.1 .05-2.2 .05-4.8 .06-2.9 .05 .7 .06-6.2 .05 18.3 .06-10.9 .05-2.2 .06 5.1 .05-8.3 .06 13.1 .05-3.7 .06 2.2 .05 4.9 .05-14.3 .06 4.2 .05-6 .06 1 .05 6.6 .06-11 .05 4.8 .06 5.5 .05-.9 .06 1 .05 2.4 .06-5.2 .05 11.8 .05-3.3 .06-5.8 .05 12.3 .06-17.3 .05 5.7 .06 6.8 .05 1 .06 12.2 .05-48 .06 21.1 .05 2.8 .06-7.6 .05-.2 .05 19.6 .06-4.3 .05-9.9 .06 9.3 .05-2.8 .06-21.8 .05 21.4 .06-1.9 .05 5.3 .06-3.4 .05 6.5 .06 5.4 .05-5.6 .05-1.2 .06-6.5 .05-3.4 .06 11.7 .05 1.2 .06-6.2 .05-8 .06 3.1 .05-6.5 .06 7.3 .05-3.9 .06 11.9 .05-28.9 .05 32.3 .06-16.1 .05 10.4 .06-11.6 .05 2.2 .06 .7 .05 2.4 .06-.4 .05 5.3 .06-.9 .05-1.4 .05-8.3 .06 .3 .05 5.9 .06-7.8 .05 1.3 .06 1.1 .05 7.8 .06 5.3 .05-10.2 .06 4.1 .05 4.2 .06-5.1 .05 12 .05-9.6 .06-12.6 .05 9 .06-1.2 .05-2.6 .06 5.9 .05-2.5 .06-8.9 .05 8.9 .06-.3 .05-11.6 .06-1.7 .05 6.4 .05 13.2 .06-3.3 .05 4.4 .06-1 .05-3.6 .06-4.5 .05 9.3 .06 .3 .05-.7 .06-14.6 .05 15.3 .06 1.7 .05-6.9 .05 5.6 .06-17.8 .05 8.2 .06 1.6 .05-5.8 .06 1.6 .05 23.1 .06-16.6 .05-3.1 .06 .4 .05 .6 .06 4.3 .05-4.2 .05 15.2 .06-22.5 .05 2.6 .06 9 .05-9.1 .06 10.8 .05-4.7 .06 .3 .05 7.5 .06-9.3 .05-1 .06-4 .05-9.2 .05 20.5 .06-10.9 .05 9.7 .06 .3 .05-1.4 .06 .5 .05-28.1 .06 23 .05 17.5 .06-22 .05 15.5 .06-9 .05 15 .05-20.2 .06-2.1 .05 18.7 .06-2.5 .05-10 .06 9.2 .05-5.6 .06-.7 .05-11.6 .06 .4 .05 5.8 .06-8 .05 8.9 .05 7.5 .06-10.2 .05 10 .06-4 .05-3.5 .06 7.1 .05 1.2 .06-8.3 .05 11.1 .06-8.1 .05 1.2 .06-12.3 .05 18.3 .05 1.2 .06-4.1 .05 1.4 .06-10.2 .05 10 .06-9.7 .05-7.5 .06 11.2 .05 6.2 .06 .5 .05 5.4 .06-2.8 .05-20.5 .05 9.6 .06-6.6 .05 5.1 .06 8.5 .05-4.9 .06-.9 .05 4.2 .06-4.4 .05 4 .06-6.8 .05 3.1 .06 8.8 .05-5.6 .05 5.4 .06 8.5 .05-18.2 .06-2.1 .05 2.4 .06 19.7 .05-17.9 .06 8.4 .05-23 .06 34.2 .05-15.5 .06 7.4 .05-19.8 .05 2.7 .06 12.1 .05-5.7 .06 1.4 .05-8.7 .06 4.9 .05-12.1 .06 25.5 .05-10.9 .06 3.1 .05-3.2 .06 12.9 .05-7 .05-3.5 .06-14.9 .05 8.3 .06 8.8 .05-.4 .06-14.3 .05 15.9 .06 2.1 .05-.5 .06-5.8 .05 7.8 .05-7.3 .06 3 .05 4.4 .06-1.7 .05-7.9 .06-1.6 .05-2 .06-1.9 .05 24.6 .06-19.7 .05 .7 .06 4.1 .05-8.1 .05 9.1 .06-3.3 .05-19.5 .06 13.3 .05 .9 .06 9.2 .05-4.3 .06-3.4 .05 .6 .06-2.5 .05 15 .06-7.5 .05 21.6 .05-10 .06-4.7 .05-13.2 .06 7.3 .05-2.9 .06-2.8 .05-5.2 .06 2 .05-2.2 .06 .7 .05 14.7 .06-8.3 .05 2.8 .05-1.2 .06-4.5 .05 6.7 .06 4.1 .05-4.1 .06-5.3 .05-6.8 .06 10.1 .05 10.6 .06-11.2 .05-8.3 .06 10.5 .05-3.9 .05-.2 .06 9.1 .05-8.8 .06-2 .05-.9 .06-13.8 .05 .5 .06 20.9 .05 .6 .06-9 .05 2.2 .06-1.4 .05 4 .05 2.9 .06-13.3 .05-1.5 .06 4 .05 13.6 .06 2.1 .05-4.6 .06-11.8 .05 22.3 .06-30.9 .05 17 .06 5.1 .05-7.1 .05-18.7 .06 13.2 .05 13.2 .06 4.2 .05-4.9 .06-3.5 .05-7.5 .06 19.6 .05-14 .06-7.5 .05 8.2 .06 .2 .05-2.9 .05 10.8 .06-7.6 .05 8.5 .06-8.8 .05 3.9 .06-9.7 .05 8.2 .06 6.8 .05-12.1 .06-.5 .05 .6 .06 .5 .05-4.7 .05 3.2 .06-3.6 .05-1.5 .06 11.9 .05 4.6 .06-11.9 .05 6.5 .06-13 .05 6.5 .06-.9 .05 .3 .06 .9 .05 8.3 .05-8.8 .06-6 .05 6.9 .06 10.6 .05-8.6 .06-2.8 .05-.4 .06 2.9 .05 6.5 .06-6.8 .05 7.1 .06-18.6 .05-2.6 .05 17.9 .06 15.1 .05-22.6 .06-1.6 .05 11.6 .06-.7 .05-17.5 .06 3.5 .05 9 .06 1.8 .05-11.9 .06 9 .05-8 .05 6.3 .06 1.4 .05 4.2 .06-6.9 .05-1.7 .06-7.2 .05 23.5 .06-16.8 .05 13.4 .06-11 .05-3.4 .06-.4 .05 16.7 .05-11.7 .06 6 .05-6.7 .06-7.5 .05 6.9 .06 6.9 .05 11.2 .06-18.1 .05-16.5 .06 29.5 .05-10.4 .06 2.3 .05 1 .05-3.7 .06 5.4 .05 6.9 .06-24.2 .05 9.4 .06 12.4 .05 1 .06-2.3 .05-6.2 .06-3.4 .05-1 .05 8 .06-12.5 .05 10.3 .06-3.4 .05-4.6 .06 4.7 .05-7.4 .06 2.7 .05 12.5 .06-3.3 .05-7.5 .06 2.4 .05 7.9 .05-16.1 .06 6.3 .05-2.9 .06 16 .05-3.8 .06-1.2 .05-2.2 .06 4.1 .05-17.5 .06-.2 .05 3.8 .06 4.2 .05 3.5 .05-3.9 .06-6 .05 9.7 .06-7.7 .05 5.3 .06-1.9 .05 3 .06 2.8 .05 2.6 .06-2.8 .05-2.4 .06-2.8 .05 2.4 .05-9.2 .06 11.5 .05-3.4 .06 8.7 .05-5.7 .06-.2 .05-16.7 .06 18.7 .05-6.8 .06 2.7 .05 3.6 .06-5.8 .05 13 .05-11.5 .06 9.7 .05-24.7 .06 13.9 .05 1.6 .06 5.4 .05-8.9 .06 6.9 .05-16.8 .06 .8 .05-.2 .06 5.3 .05 .6 .05 .8 .06 1.3 .05 1.3 .06-8.3 .05 11.2 .06-4.2 .05 10.7 .06-4 .05-7.4 .06-3.6 .05 13.6 .06-8.3 .05 .5 .05-9.6 .06 7 .05 1.9 .06 2.6 .05-4.7 .06 3.5 .05-4.1 .06-10.1 .05 24.4 .06-15.6 .05 8.1 .06-7 .05 3.1 .05 6.3 .06-24.9 .05 17.4 .06 9.9 .05-6.3 .06 8.5 .05-4.8 .06 .5 .05 .7 .06-8.2 .05 6.3 .06-4.8 .05-3.9 .05-1.4 .06 7.8 .05 .4 .06-18.3 .05 22.6 .06 12.7 .05-17.5 .06 10.3 .05-7.7 .06 0 .05 12.7 .06-8.9 .05-1.4 .05-8.7 .06 10.2 .05-9.2 .06 6.4 .05-2.6 .06-3.2 .05 7.7 .06 1.9 .05-11.8 .06-9.3 .05 10.8 .06-2 .05 7.5 .05-3.7 .06 7.2 .05-4.5 .06 6.2 .05-3 .06-6.3 .05 .8 .06-15.9 .05 5.8 .06 5.9 .05 9.8 .06-8.4 .05-3.5 .05 7.6 .06-4.8 .05-.6 .06 5.2 .05 16.7 .06-14.2 .05-4.5 .06 4.7 .05-1.2 .06-1.4 .05 5.2 .06-14.7 .05-1.9 .05 1.2 .06 18 .05-13.8 .06 4.2 .05-2.1 .06 4.7 .05-1.8 .06-1.6 .05-.5 .06 5.2 .05-17.4 .05 11.3 .06-1.4 .05 2.5 .06 1.5 .05-3.9 .06 9.4 .05 1 .06 1 .05-10.7 .06 7.6 .05-4 .06-5.2 .05-17.3 .05 19.9 .06-6.1 .05 6.4 .06 4.9 .05-9.5 .06-.5 .05 21.4 .06-5.2 .05-7 .06 11.1 .05-15.9 .06 7.1 .05-4.4 .05 10.3 .06-17.3 .05 9.2 .06-4.9 .05-8.7 .06 12 .05 6.4 .06-5.7 .05-14.1 .06 7.5 .05 4.3 .06 0 .05-7.2 .05 5.2 .06 1.6 .05-4 .06-15.2 .05 45.4 .06-31 .05 9.2 .06-4.3 .05 6.3 .06-11.9 .05 .9 .06 .3 .05-3.5 .05 8.1 .06 1 .05-11.1 .06 6.9 .05-7.5 .06 12.7 .05-10.4 .06 1.9 .05-.4 .06-6.3 .05 11.6 .06 26.2 .05-11.3 .05-17.9 .06 11.6 .05-1 .06 5.4 .05-9.5 .06-17.7 .05 22.5 .06-7.1 .05-.6 .06 6.1 .05-8.4 .06 9.3 .05-12.9 .05 8.5 .06 3.1 .05 1 .06 6.4 .05-7 .06-6.5 .05 4.7 .06 2.5 .05-7.6 .06-6 .05 8.2 .06 10.2 .05-8.6 .05-2.8 .06-.8 .05 2.6 .06-1.2 .05-3.4 .06-.8 .05-10.2 .06 .4 .05 12.2 .06-13.6 .05 4.5 .06 12.8 .05-14.4 .05 3.5 .06 5.9 .05 11.7 .06-2.4 .05-1 .06-.9 .05-3.9 .06-.8 .05 5.4 .06-2.7 .05-1.8 .06-9.4 .05 21.3 .05-11.1 .06-6.2 .05 1.4 .06 14 .05-12.5 .06 1.7 .05 0 .06 5.2 .05-9.2 .06 11.9 .05-7.8 .06-2.7 .05 2.1 .05 10.7 .06-16.5 .05 5.1 .06-2.6 .05 1 .06 .4 .05-7 .06 15.8 .05-4.2 .06-2.9 .05 8.2 .06-9.4 .05-2.5 .05-1 .06 7.7 .05 5.4 .06-5.2 .05-12.4 .06 .6 .05 10.7 .06 .3 .05 3.6 .06-8 .05 4.6 .06-8 .05 7 .05 7 .06-29.5 .05 22.1 .06-9.6 .05 9.7 .06-9.4 .05 7.8 .06 7.1 .05-1.1 .06-8.2 .05 4.4 .05 6.9 .06-8.7 .05 21.1 .06-13.6 .05-14 .06 17.8 .05-13.1 .06-9.5 .05 11.9 .06-5.4 .05-.2 .06 4 .05-.1 .05 .9 .06-2.5 .05 .7 .06 5.2 .05-6.2 .06 4 .05 3.7 .06-8.3 .05 5 .06 1.9 .05 1.5 .06-.1 .05 1.9 .05-18.1 .06 9.4 .05-.1 .06 6 .05-2.5 .06-25.9 .05 23.1 .06-2.8 .05-.9 .06 2.6 .05 2 .06-4.5 .05 4.2 .05-1.1 .06 11.8 .05-9.4 .06-11.9 .05 1.6 .06 8.5 .05 13.7 .06-9.8 .05 5.2 .06-14.6 .05 6.8 .06 6.1 .05-1.1 .05-3.3 .06-.9 .05-2.4 .06 4.7 .05-1.2 .06-1.9 .05 4.5 .06-11.1 .05 9 .06-2.6 .05-6.4 .06 2.7 .05 7 .05-5.5 .06 14.2 .05-7.2 .06-5.7 .05 9.9 .06-8.1 .05-7.4 .06 12.1 .05 1.5 .06 6.9 .05-10.2 .06 7.3 .05-8.6 .05-1.5 .06 7.6 .05-9.7 .06 12.9 .05-2.7 .06-3.7 .05-8.1 .06 6.4 .05-3.7 .06 8 .05-13.1 .06 3.6 .05 6.3 .05-8.6 .06 2 .05-5 .06 12.6 .05-1.6 .06-8.9 .05 9.6 .06-.6 .05 2.4 .06-29 .05 24.2 .06 8.1 .05-7.6 .05-.1 .06 2.4 .05-2.9 .06-5.4 .05 21.8 .06-15.3 .05-4.9 .06 3 .05-7.8 .06 8 .05 1.8 .06 5.3 .05 0 .05-1.2 .06 .8 .05 5.5 .06-15.5 .05 7.4 .06-2.1 .05-17.2 .06 23.5 .05-2.8 .06 4.7 .05 3.2 .06-9 .05-.3 .05-2.3 .06 3.2 .05 7.4 .06-.9 .05-7 .06-.9 .05 2.8 .06-11.5 .05 5 .06-.3 .05-.9 .06 5 .05-.7 .05 2.3 .06 2.7 .05 4.3 .06 .1 .05-14.4 .06 9.5 .05-20.9 .06 9.5 .05 7.1 .06-5 .05 9 .06-6.3 .05 11.1 .05-7.6 .06-20.6 .05 17.5 .06 .3 .05 16.3 .06-12.6 .05-14 .06 2.6 .05 11.1 .06-4.7 .05 1.1 .06-.9 .05 4.9 .05-23.4 .06 15.5 .05-11.1 .06 37.2 .05-15.7 .06-8.2 .05 10.6 .06 7.4 .05-16.3 .06 6.1 .05-16.2 .05 12.8 .06-3.2 .05 6.5 .06-13.3 .05 21.6 .06-13.4 .05 6.7 .06-11.6 .05 9.1 .06-4 .05 2.9 .06 2.5 .05 10.2 .05-19.9 .06 8.3 .05 2.9 .06-7.8 .05 4.1 .06-16 .05 9.6 .06 3.6 .05-.9 .06-5.8 .05 7.6 .06-12.1 .05 18.9 .05-10.5 .06 1.7 .05 5.9 .06-15.6 .05 9.7 .06-1.5 .05-15.1 .06 22 .05-5.4 .06-9.3 .05 1.7 .06-3.6 .05 11.8 .05 .6 .06-5.5 .05 9.8 .06 14.9 .05-21.5 .06 .2 .05-.9 .06 4 .05-11.7 .06 28.7 .05-20.3 .06 3.3 .05 2.9 .05 7.9 .06-23.2 .05 15.9 .06-.8 .05-2 .06 2 .05-5.1 .06-9.5 .05 9.1 .06 3.9 .05-6.4 .06 8.8 .05 8.1 .05-25.1 .06-5.9 .05 11.5 .06 8.2 .05-3.7 .06-7.2 .05 4.2 .06 5.4 .05-3.7 .06 2.8 .05-6.3 .06 23.6 .05-19.6 .05 1.6 .06-7.3 .05 11.2 .06 4.2 .05 0 .06-21.2 .05 10.1 .06 6.7 .05 6 .06-19.2 .05 9.2 .06 11.5 .05-5.4 .05-6.2 .06-6.3 .05 13.9 .06-2.3 .05-5.6 .06-6.3 .05-2.5 .06 7.5 .05-6.6 .06 13.2 .05-6.5 .06-3.2 .05 11.2 .05-4.3 .06 5.8 .05-2.3 .06-11.3 .05-.5 .06 6.9 .05 7.9 .06-20.7 .05 17 .06-.6 .05-7.7 .06 6.3 .05 7.4 .05 2 .06-10.1 .05 1.1 .06-4.8 .05 5.4 .06 6 .05-9.3 .06-5.2 .05 4.6 .06 3.9 .05-2.6 .06 4.5 .05 2.2 .05-10 .06 9.7 .05 8.3 .06-19 .05 1.8 .06 6.3 .05-4.4 .06 .7 .05 2.6 .06-2.5 .05 .8 .06-3.5 .05 6.5 .05-1.5 .06 3 .05-2.9 .06 13.2 .05-23.4 .06-7.7 .05 6.1 .06 7.6 .05-1.1 .06-8.4 .05 1.2 .06 26.8 .05-15.4 .05-1.8 .06-2.7 .05-1.5 .06-3.2 .05 1.1 .06-3.2 .05 6.8 .06 1.4 .05 2.5 .06-9.6 .05 10.5 .05-5.2 .06 .5 .05-.1 .06-8.7 .05 3.5 .06 3.5 .05 12.2 .06-1.8 .05-11.9 .06 24.7 .05-18.4 .06 3.8 .05-5.7 .05-6.3 .06 2.7 .05 3.3 .06-16.4 .05 21.4 .06-.3 .05-2.3 .06 .9 .05 .5 .06 11.3 .05 11.6 .06-24.2 .05 8.8 .05-11.4 .06-13.6 .05 20 .06-8.8 .05-6.4 .06 7 .05 4.3 .06 3.3 .05-3.9 .06 .6 .05-1 .06-18.6 .05 7.9 .05 0 .06 15.8 .05-7.4 .06-7.5 .05 17.2 .06-13.1 .05 5 .06 4.2 .05-10.6 .06-.7 .05 13.9 .06-20.6 .05 10.9 .05-5.6 .06 14.9 .05-5.2 .06-2 .05-4.4 .06-3 .05 10 .06 4.6 .05 5.8 .06-16.1 .05-2.2 .06 9.1 .05-4 .05 9.8 .06-3 .05 7.6 .06-13.9 .05 7.7 .06-8.4 .05 8.9 .06-10.4 .05 11 .06-6.9 .05 3.3 .06-1.5 .05-8.9 .05 11.2 .06-10.2 .05 14.5 .06 1.5 .05-15.1 .06 12 .05 7.7 .06-4.4 .05-9.3 .06 3.4 .05-3.3 .06 4.6 .05-15.3 .05 23.7 .06-13.5 .05 2 .06-15.5 .05 5.2 .06 3.2 .05 12.8 .06 8.6 .05-16.6 .06 .2 .05-1.7 .06 9.3 .05-19.7 .05 21.6 .06-11.9 .05 2.6 .06 2 .05 .7 .06-10.2 .05 12 .06-5.7 .05-3.6 .06 13.1 .05-17.3 .06 4.6 .05 1.9 .05 5.4 .06 .9 .05-10.8 .06 4.8 .05 11.1 .06-6 .05 1.2 .06-5.4 .05 .6 .06 .7 .05 1.3 .06 .1 .05 4 .05-1.2 .06-2.9 .05 1.9 .06-8.1 .05 14.7 .06-11.8 .05-1.4 .06-12.8 .05 14.8 .06-6.3 .05 3.1 .06 3.6 .05-14 .05 26.9 .06-2.5 .05-16.1 .06 2.6 .05-8 .06 4 .05 9.6 .06-7.9 .05 5.8 .06 1.3 .05-16.7 .06 11.4 .05 7 .05 4.2 .06-.8 .05-6.6 .06-.5 .05-2.5 .06 14.2 .05-11.4 .06-2.4 .05 3.9 .06-1.6 .05 2 .06 5.9 .05-4.5 .05-7.2 .06-7.4 .05 8.3 .06 2 .05-.3 .06-6.1 .05 11 .06 4.2 .05-11.2 .06 11.5 .05 1.1 .05-13 .06 13.6 .05-6.5 .06-12.7 .05-5.6 .06 15.7 .05 3.4 .06-10 .05-1.9 .06-3.9 .05 16.2 .06-3.8 .05 10.5 .05-13.5 .06 7 .05-8.3 .06 5.2 .05 6.1 .06-14.8 .05 2.8 .06 4.9 .05 5.8 .06 18.7 .05-14.6 .06-2.4 .05-11.1 .05 7.3 .06-2.2 .05-7.8 .06 12.8 .05-11.3 .06 4.3 .05-3.4 .06-.2 .05 9.1 .06-10.8 .05 5.5 .06-5.4 .05-1.7 .05-5.6 .06 32.6 .05-26.5 .06 5.6 .05 0 .06 4.8 .05-9.2 .06 15.9 .05-20.5 .06 3 .05 3.8 .06-2.1 .05 6.6 .05 1.6 .06-18.3 .05 4.8 .06 12 .05 18.1 .06-30.4 .05 15.7 .06-7.9 .05-18.5 .06 .7 .05 17.6 .06 6 .05-3 .05 12.7 .06-5.2 .05-2 .06-6.3 .05 8.9 .06-7.2 .05-2.8 .06 1.7 .05 1.5 .06 0 .05-6.6 .06-14 .05 10.9 .05 5.3 .06 .4 .05 4.4 .06 8.7 .05-13.4 .06 5.6 .05-1.8 .06 3.5 .05-1.4 .06-6.5 .05 8.4 .06-18.8 .05 13.2 .05 7.6 .06-5.1 .05 2.6 .06 4.1 .05 .7 .06-5.5 .05 3.2 .06-9.9 .05 .6 .06 4.2 .05 .6 .06-2.8 .05-6.5 .05 17.4 .06 7.7 .05-31.8 .06 14.3 .05 3.6 .06 2.2 .05 2 .06-3.3 .05-5.2 .06 7.8 .05-2.7 .06-5 .05 17.8 .05-1.9 .06-21.4 .05-5.2 .06 10.1 .05 20.7 .06-21.7 .05-10.5 .06 16.4 .05 .3 .06-13.4 .05 11 .06-1.7 .05-7.6 .05 18.6 .06-13.6 .05-1.8 .06 9.3 .05 .5 .06-3.6 .05 5.3 .06 0 .05-7.1 .06 3.8 .05-4.8 .06-.2 .05-.4 .05-6.7 .06 4.4 .05 15.9 .06-20.3 .05 7.9 .06 2.7 .05 .4 .06 1.2 .05 2.5 .06-14.9 .05 6.3 .06-2.2 .05 8.2 .05 3.1 .06-4.4 .05 3.9 .06-9.4 .05 18.1 .06-14.3 .05-13.8 .06 9.3 .05 5.9 .06-2.4 .05 .3 .05 1.3 .06-14.9 .05 17 .06-9.9 .05 3.9 .06-1 .05-6.6 .06 9 .05-.1 .06-1.7 .05 2.8 .06-3.7 .05 11.6 .05-5.3 .06-6.8 .05 11.4 .06-8.2 .05-2.5 .06 14 .05-20.7 .06 6.8 .05 9.3 .06-5.8 .05 .4 .06-4.9 .05 7.2 .05 2.2 .06-5.6 .05 1 .06 18 .05-8 .06-15.3 .05 8 .06 7.3 .05-5 .06-13.4 .05 .6 .06 4.6 .05-12.5 .05 6.8 .06 9.8 .05-5.9 .06-2.1 .05-8.7 .06 14.6 .05 1.7 .06 2.3 .05-2.9 .06-9.3 .05 11.1 .06-3.7 .05 5.3 .05-8.2 .06 5 .05-.3 .06-11.1 .05 14 .06-4.9 .05-5.3 .06 12.3 .05-3.6 .06 2.2 .05-10.5 .06-6.1 .05 17.3 .05-14.3 .06 4.8 .05-3.8 .06-.8 .05 1.4 .06 8.8 .05-5 .06 18.2 .05-7.6 .06-.8 .05-15.2 .06 .7 .05-1.5 .05 .1 .06 4.5 .05 14.5 .06-8.7 .05 6.6 .06-6.8 .05-4.6 .06 3.9 .05-9.1 .06 13.7 .05-17.6 .06 12.5 .05 .3 .05-8.9 .06 1.8 .05 13.4 .06-5.8 .05 1 .06 1.1 .05-7.3 .06 0 .05 5.1 .06 .5 .05-3 .06 2.7 .05-8.3 .05 6.3 .06-4.8 .05 6 .06 9.7 .05-13 .06 3.1 .05-4.3 .06-.6 .05 4.4 .06 2.7 .05-3.8 .06 1.1 .05 11.2 .05-14.8 .06 6 .05 1 .06-.8 .05 .2 .06-.2 .05-.3 .06 15.9 .05-20.3 .06-.1 .05 16.2 .06-18 .05-6.7 .05 16.3 .06-6.6 .05-4.4 .06 6.2 .05 5.2 .06-.2 .05-3 .06-9.4 .05 7.5 .06-8 .05 14.1 .06-9.1 .05-5.6 .05 13.1 .06-.9 .05-1.8 .06-4.2 .05-8.4 .06 11.3 .05 2.2 .06-12.9 .05 9.4 .06 9 .05-11.7 .06 4.5 .05-4.1 .05 18.5 .06-15.1 .05 2.9 .06-1.4 .05-7.8 .06 7.9 .05-9.3 .06 8.4 .05-4.5 .06 4.9 .05 3.3 .06 .8 .05-6.8 .05-4.2 .06-.8 .05 1.5 .06 2.9 .05 0 .06-4.4 .05-.4 .06 .3 .05-1.9 .06 7.1 .05-.3 .05 8.1 .06-10 .05 5.6 .06 1 .05-5.3 .06 5.3 .05 .3 .06-2.2 .05-3.2 .06-4.6 .05 13 .06-12.8 .05 7 .05-5.2 .06-.6 .05-2.9 .06 6.8 .05-6.5 .06-2.9 .05 .3 .06 15 .05-12.1 .06-1.1 .05 10.4 .06-20.1 .05 19.8 .05-2.1 .06-1.7 .05 5.3 .06-13.3 .05 5.3 .06 6.5 .05-2.6 .06-20 .05 29.7 .06-4.4 .05-7.7 .06 3.8 .05-9 .05 9.8 .06-10.2 .05 7.9 .06-12.6 .05 14.9 .06 1.4 .05-4.8 .06-.5 .05-4.6 .06 6.8 .05 .8 .06-.5 .05-3.3 .05-20.1 .06 21.7 .05 5.8 .06-4 .05-5.2 .06-15.1 .05 21.1 .06-8.3 .05 8.2 .06 5.4 .05-4.5 .06 1.5 .05-5 .05-3.3 .06 4.2 .05-3.2 .06 4.9 .05 .2 .06-4.1 .05-3.2 .06-4.9 .05 15.1 .06-3.2 .05-5.5 .06-2.8 .05-1.5 .05 19.3 .06-3.3 .05-20 .06 13.2 .05-2.9 .06 4.5 .05 6.5 .06-9.5 .05-.2 .06 2.7 .05 4.7 .06-14.8 .05 3.2 .05 17 .06-6.5 .05-10.9 .06-.2 .05 18.9 .06-8.8 .05-26.1 .06 30.9 .05-2.7 .06-11.8 .05 5.6 .06 1 .05-9.5 .05 19.7 .06 3.1 .05-10.2 .06-3.7 .05 2.8 .06-2.1 .05-9.6 .06 11.6 .05-9 .06-5.2 .05 7.7 .06-2.5 .05 12.5 .05-2.9 .06 2.8 .05-4.4 .06-9 .05 2.6 .06-1.1 .05-2.2 .06 10.5 .05 2.3 .06-1.3 .05-15.1 .06 9.5 .05-.1 .05 7.6 .06-1.3 .05 .6 .06-22.5 .05 12.6 .06 2.5 .05 5 .06 13.6 .05-8.5 .06-15.9 .05 7.4 .06-1.7 .05 9 .05-8.7 .06 5 .05-5.9 .06 4.6 .05 9.3 .06-7.5 .05-17.7 .06 14.2 .05 9.2 .06-4.8 .05-2.8 .06-4.9 .05 5.7 .05 6.4 .06-6.8 .05 2.9 .06 7.6 .05-16.9 .06-2.6 .05 10.5 .06 7.1 .05-10.7 .06-4.9 .05 16 .05-20.5 .06 6.3 .05-3.7 .06 1.3 .05 6.1 .06 3 .05-2.5 .06-14.8 .05 23.6 .06-17.6 .05 8.9 .06 9.5 .05-14.6 .05-6.3 .06 4 .05 10.3 .06-1.4 .05 7.1 .06-11.6 .05 8 .06-15.8 .05 8.1 .06-2 .05 1.5 .06 7.4 .05-17.6 .05 7.8 .06-4.9 .05 8.7 .06 8.3 .05-4.4 .06 1.9 .05-10.7 .06 15.2 .05-2.8 .06-2.6 .05 0 .06-2.6 .05-8.4 .05 23.4 .06-7.5 .05-7.4 .06-.3 .05 3.1 .06 1.9 .05-1.1 .06 2.7 .05-2.4 .06-8.5 .05 6 .06-12.3 .05 6.3 .05 6.5 .06-3.6 .05 1.8 .06 6.6 .05 .1 .06-1.3 .05-6 .06 7 .05-20 .06 24.8 .05-4 .06-7.9 .05 5.9 .05-13.2 .06 10.5 .05-9 .06 11.8 .05-8.4 .06-3.9 .05 21.5 .06-14.6 .05 6.1 .06-.3 .05-1.9 .06 6.1 .05-19.5 .05-8.5 .06 16.1 .05 9.3 .06-30.8 .05 29.6 .06-15.9 .05 16.9 .06-17.8 .05-4.3 .06 12.2 .05 9.5 .06-13.6 .05 6.2 .05 3.4 .06-3.2 .05 1.4 .06 2.4 .05-3.2 .06 4.3 .05-10.7 .06 10.1 .05-6.9 .06 3.8 .05 8.6 .06-15.6 .05 6.1 .05 11.8 .06-21.1 .05 15.2 .06-20.2 .05 10.6 .06-2.5 .05-4.8 .06 7.1 .05 14.7 .06-11.6 .05 5.8 .06-6.9 .05-7.7 .05 20.7 .06-11.3 .05-2.9 .06 .1 .05-4.8 .06 14 .05-11 .06 11.4 .05-9.7 .06 5.1 .05-5.6 .06 13.4 .05-10.2 .05-.5 .06-5.4 .05 9.3 .06-14.8 .05 28.8 .06-25.2 .05-1.1 .06 14.9 .05-24.5 .06 20.5 .05-3.7 .06 2.8 .05-28.1 .05 39.6 .06-1.3 .05-13.8 .06 5.5 .05-1.5 .06 .9 .05-8.5 .06 1.2 .05 11.6 .06-5.6 .05 8.7 .06-20.6 .05-1.5 .05 12.3 .06-3.8 .05 5.1 .06-8.1 .05 12.7 .06-24 .05 8.1 .06 9.8 .05 2.3 .06-1 .05-10 .05 6.2 .06-5.3 .05 6.5 .06 1 .05-7 .06 14.1 .05-.8 .06-13.9 .05 6.5 .06-3.3 .05 23 .06-20.2 .05-6.3 .05 8.1 .06 5 .05-4.1 .06-3 .05 7.4 .06-13.6 .05 2.4 .06-3.8 .05 .9 .06 9.2 .05-11 .06 4 .05 4.6 .05-4 .06 1.9 .05 19.5 .06-26.3 .05 6 .06-4.3 .05 6.3 .06-5.5 .05 13.6 .06-3.5 .05-10.3 .06-.5 .05 7.6 .05 2.4 .06-8.4 .05-2.9 .06 10.1 .05 2.2 .06 3.6 .05 1.4 .06-16.8 .05 9.3 .06-6.1 .05 5.2 .06-2.8 .05-3.8 .05 3.3 .06 14.5 .05-15.2 .06 8.9 .05-6.5 .06 7.5 .05 9.9 .06-9.7 .05 9.1 .06-18.3 .05 .3 .06-2.2 .05 15.1 .05-4.1 .06-4.7 .05 11.5 .06-19.7 .05 3.4 .06 1.8 .05-6.3 .06 10.7 .05-6.1 .06 13.1 .05-9 .06 6.6 .05-7.9 .05 10.1 .06-10.1 .05 18 .06-15.8 .05 2.8 .06 1.1 .05-1.7 .06 8 .05-14.6 .06-.4 .05 10.4 .06-19.7 .05 10.2 .05 8.4 .06-3.2 .05-3.1 .06 10.5 .05 4.1 .06-16 .05-2.1 .06 19.2 .05-11 .06 2 .05 6.2 .06-4.7 .05-3.3 .05 8.8 .06-8.1 .05 9.2 .06-9.5 .05-7.2 .06 9.9 .05 6.8 .06-14.7 .05-14.2 .06 18.3 .05-3.1 .06 6.6 .05-4.6 .05 .8 .06 2.4 .05 3 .06-11 .05 3.9 .06 6.8 .05-6.8 .06-.1 .05-16 .06-2.6 .05 28.1 .06-15.8 .05 8.5 .05 .7 .06 6 .05-4.5 .06-6.1 .05 11.3 .06-9.2 .05 11.1 .06-5.9 .05-10 .06 4 .05 9.7 .06-2.6 .05-4.5 .05 3.5 .06-5.7 .05 1.3 .06 1.5 .05 2.9 .06-6.5 .05-.1 .06-6.2 .05 4.1 .06 6.3 .05-4.1 .06-5.7 .05 7.4 .05-5.1 .06 10.2 .05-2.2 .06-12.4 .05 17.3 .06-.5 .05-8.4 .06 8.8 .05-12.5 .06 9.2 .05-7.7 .06 .1 .05-12.1 .05 9.8 .06 8 .05 8.8 .06-8.7 .05-9.6 .06 5.2 .05-3.6 .06 2.4 .05 3.4 .06-10.1 .05-14.4 .05 5.1 .06 15.7 .05-5.3 .06-2.2 .05 11.6 .06-.7 .05-.7 .06-5.9 .05 10.2 .06-2.7 .05-3.8 .06-2 .05 2.3 .05-4.5 .06 8.4 .05-9.2 .06-4.5 .05 12.6 .06 3.6 .05-14.7 .06 11.7 .05 1.5 .06 6.1 .05-11.1 .06 12.5 .05-11.6 .05 21.4 .06-29.8 .05 24.7 .06-16.5 .05 6.4 .06-6.1 .05 5.4 .06-5.4 .05-1.9 .06 4.6 .05-.5 .06-2.4 .05-7.5 .05 1.8 .06 4 .05 11 .06-10.3 .05 1.1 .06-.1 .05 7.8 .06-11.4 .05 2.2 .06-1.8 .05-.5 .06 8.7 .05-13.9 .05 7.9 .06 8.7 .05-11 .06 10.2 .05-.5 .06-2.2 .05-14.1 .06 3.8 .05 10.9 .06-1.9 .05-20.2 .06 11.3 .05 16.8 .05-7.2 .06-3.2 .05 .8 .06-10.3 .05 8.5 .06-1.1 .05 14.4 .06-21 .05 1.5 .06 9.5 .05-2.5 .06-4.4 .05 16.8" fill="none" stroke="#ff0000" stroke-width="0.8" stroke-linejoin="round" opacity="1.0"/>
<path d="M45.60 397.3l.05-10.2 .06 20.6 .05-13.4 .06 25.9 .05-24.8 .06 10.3 .05-7.1 .06 3.3 .05-15.9 .06 9.6 .05-1.8 .06 2.8 .05 8.1 .05-2.1 .06 1.4 .05-3.7 .06-7.2 .05-7.9 .06 16.1 .05 3.5 .06-1.1 .05-3.8 .06 3.6 .05-9 .06 3.6 .05 3.5 .05 3.1 .06-10.2 .05-1.3 .06 17.2 .05-5.2 .06 5.9 .05-24.3 .06 14.1 .05 29 .06-34.3 .05 8.8 .06-3.4 .05 8.5 .05-8.4 .06-3.1 .05-2 .06 17.1 .05-6.1 .06-1.5 .05-17.6 .06 5.4 .05 4.6 .06 15.5 .05-19.2 .06 5.3 .05-17.3 .05 10.2 .06 6.8 .05-5.5 .06 7.5 .05 .4 .06-5.5 .05 15.2 .06-12.7 .05 1.1 .06-9.4 .05 17.8 .06-19.4 .05 8.8 .05 6.4 .06 16.8 .05-25.8 .06 4.3 .05 16.8 .06-4 .05-6 .06 1.9 .05-3.3 .06 8.6 .05 4.3 .06-12.2 .05-.7 .05 .9 .06 11.7 .05-12.2 .06 2.7 .05 0 .06-5.9 .05-11.1 .06 12.4 .05 6.1 .06-14.8 .05 8.4 .05-5 .06 2 .05 4 .06-4.9 .05 18.7 .06 3.2 .05-17.2 .06 5.7 .05-2.9 .06-9.5 .05-3.9 .06 7.7 .05-2.9 .05-3.1 .06-1.3 .05-7.2 .06 22.8 .05-3.1 .06-11.4 .05 5.4 .06-2.2 .05-1.7 .06-1.1 .05 3.2 .06 5.8 .05-23 .05 22.4 .06-6.7 .05-.3 .06-.6 .05 2.3 .06-6.2 .05-.1 .06 25.4 .05-19.7 .06 5.5 .05-6.4 .06-2.9 .05 4.9 .05-2.3 .06-6.9 .05 14.2 .06 1.9 .05-3.1 .06-1.6 .05 1.1 .06 12.3 .05-21.6 .06-2.3 .05 3.5 .06 11.7 .05-7.6 .05 17.1 .06-1 .05-17.4 .06 6.8 .05 8.6 .06-8.1 .05-8.8 .06 1.2 .05 13.7 .06-14.8 .05 5.8 .06-2.8 .05 10.4 .05-3.8 .06-13.1 .05 39 .06-30.3 .05 .7 .06 1.9 .05 3.1 .06-3.4 .05-5.8 .06 2.9 .05 2 .06 5.6 .05-5.2 .05-9.5 .06 20.2 .05-10 .06-1.9 .05-14.7 .06 27.4 .05-18.3 .06 13.4 .05-10.5 .06-5.7 .05 7.5 .06 .2 .05 11.4 .05-9.4 .06-3.3 .05-3.4 .06 .8 .05-.5 .06-7.1 .05 21.2 .06-21.5 .05 5.7 .06 23.9 .05-24.8 .06 20.9 .05-24.9 .05-3.7 .06 17 .05-3.2 .06-15.9 .05 20.4 .06-7.2 .05 14 .06-24.6 .05 11.4 .06 5.4 .05-3 .06 .8 .05 4.5 .05 .2 .06-11.5 .05 10.7 .06-19.4 .05-15.8 .06 34.5 .05-10 .06 0 .05 14.1 .06-9.2 .05 8.1 .06-13.8 .05 9.2 .05-8 .06 4.9 .05-7.3 .06 15.3 .05-15.5 .06-2.2 .05 19 .06-5 .05-4.6 .06-11.4 .05 15.1 .06 10.3 .05-31.3 .05 16.1 .06 1.6 .05-2.8 .06 1.4 .05 4.7 .06-11 .05-16.4 .06 21.6 .05-5.9 .06 5 .05 7.5 .06 4.1 .05-3.6 .05-2.1 .06-3 .05-5 .06 15.7 .05-9 .06-5.7 .05 1.2 .06-3.5 .05 11.2 .06-5.1 .05-4.6 .06 7.9 .05-9.7 .05 1.4 .06-4.2 .05 20.3 .06-7.5 .05-9 .06-2.8 .05 15.3 .06 4.6 .05-12.2 .06-2 .05 5.7 .05 4.3 .06 5.2 .05-7.2 .06-12.7 .05-4.2 .06 23.6 .05-10.4 .06-14.1 .05-1.2 .06 14.1 .05 .3 .06 9.7 .05-17.3 .05 15.3 .06-5.9 .05-8.1 .06 18.1 .05-11.4 .06-.2 .05 5.9 .06-11.9 .05-3 .06 13.2 .05-11.5 .06 5.6 .05-7.9 .05 14.7 .06-11.2 .05 .1 .06 16.7 .05-5.1 .06 1.3 .05-.9 .06-17.4 .05 13.8 .06-1.2 .05 7.9 .06-4.6 .05-4.1 .05 13.4 .06-11.1 .05-11.4 .06 20.3 .05-19.4 .06 8.4 .05-5.9 .06-3.5 .05 7.7 .06-9.5 .05-2.5 .06 16.3 .05-11.2 .05 6 .06-11 .05 4.9 .06 6.9 .05 21.8 .06-22.2 .05 .1 .06-8.1 .05-5.5 .06 11.8 .05-4.4 .06-7.9 .05 6.1 .05 1.5 .06 19.8 .05-9.5 .06-1.3 .05-4.2 .06 .5 .05 6.8 .06-4.4 .05-12.8 .06-6.2 .05 13.1 .06 11.7 .05-14.1 .05-6.2 .06 7.4 .05 4.9 .06-6.9 .05 4.2 .06 10.1 .05-6.9 .06 6.7 .05 2.1 .06-10.4 .05-1.2 .06 8.3 .05-.5 .05 .8 .06 5.3 .05-14.6 .06 6.2 .05 3.3 .06 2.8 .05-14.3 .06 5.4 .05-6.9 .06-4.2 .05 18 .06 2.3 .05-17 .05 8.7 .06 8.8 .05-8.3 .06-6.5 .05 6.9 .06 12.7 .05-14.5 .06-10.9 .05 14.2 .06 1.3 .05-5.3 .06 1.6 .05 4.5 .05 4.1 .06-17 .05 4.1 .06-1.1 .05 8.3 .06 .1 .05-7.7 .06 13.7 .05-8.3 .06-6.2 .05 9.1 .06-8.5 .05 10.5 .05-9.8 .06 3.9 .05-3.7 .06 .1 .05 .7 .06 2.7 .05-3.1 .06 12.3 .05-21.7 .06 19.5 .05-14.5 .06 8.6 .05-1.9 .05 4.7 .06-8.7 .05 30.1 .06-29.5 .05 22.1 .06-14.2 .05-7.3 .06 17.6 .05-17.2 .06 .8 .05 3.9 .06-4.6 .05 4 .05 12.8 .06-15.3 .05 7.4 .06-6.3 .05 .4 .06-5.5 .05 12.6 .06 2 .05-8.1 .06 3.5 .05-2.6 .05 5.4 .06 13.5 .05-14.3 .06 .5 .05 .9 .06-7.2 .05 6.8 .06-22.8 .05 32.6 .06-11.4 .05-2.7 .06 9.7 .05-1.6 .05-13.1 .06 1.1 .05 19.5 .06-7.8 .05-.5 .06-6.6 .05-5.1 .06 11.4 .05-2.6 .06-24 .05 2.2 .06 10.4 .05 7.2 .05-1.8 .06 1.4 .05-7.4 .06 20.3 .05-10.7 .06 6.1 .05-13.2 .06 4 .05 12.2 .06-12.2 .05-10.5 .06 12.6 .05-3 .05 12.4 .06-17.4 .05 11 .06-8 .05 11.6 .06-14.2 .05 13.4 .06 2.4 .05-12.5 .06 21.4 .05-14.6 .06 3 .05-5.9 .05-4.1 .06 11.5 .05 7 .06-6.8 .05-8 .06 6.2 .05-7.3 .06-6.1 .05 17.5 .06-9.7 .05-3.8 .06 6.6 .05-11.8 .05 6.6 .06 12.8 .05-18.4 .06 7.1 .05 13.6 .06-13.6 .05 8.8 .06-6.3 .05-3.6 .06-4.2 .05 5.9 .06-6.7 .05-5.9 .05 14.4 .06 3 .05 .3 .06-3.1 .05-11.6 .06-4.7 .05 6.9 .06 3.6 .05 4.6 .06-8.3 .05 6.2 .06 1 .05 13.1 .05-3.5 .06-9.2 .05-8.2 .06 5.3 .05 2.9 .06-4.6 .05 4.8 .06-9.7 .05 8.1 .06-6.6 .05 3 .06-3.9 .05 7.7 .05 5 .06-9 .05 6.7 .06-6 .05-5.2 .06 14.1 .05-11.6 .06-.6 .05-1.6 .06-.7 .05 11.3 .06 2.7 .05 3.1 .05-15.3 .06-3.5 .05 11.5 .06 1.8 .05-.5 .06-5 .05-2.4 .06-2.1 .05 4.2 .06 .9 .05-2.1 .06 3.5 .05 1.8 .05-10.1 .06 20.3 .05-12.3 .06-6.7 .05-6.8 .06 2.9 .05 20.2 .06-8.8 .05-15.5 .06 19.8 .05-7.8 .06 .5 .05 13.9 .05-17.2 .06 .8 .05 8.3 .06-17.4 .05 2 .06 15.3 .05-3.2 .06-1.2 .05-21.3 .06 23.6 .05-.1 .06-11.7 .05 9.8 .05 8.2 .06-7.2 .05 .6 .06-9.2 .05 7.8 .06-17.4 .05 17.2 .06-2.7 .05 2 .06-7.5 .05 2.8 .05-.9 .06 7.3 .05-10.9 .06 13.3 .05-3.4 .06-6.9 .05-3.5 .06-7.3 .05 24.5 .06-13.1 .05-.8 .06 11.6 .05 5.4 .05-9.4 .06 22.8 .05-25.6 .06-7.2 .05-6.3 .06 7.4 .05 19.2 .06-6.4 .05 4.5 .06 3.3 .05-18.8 .06 10.9 .05-6.6 .05 2.5 .06 3.2 .05-5.7 .06-16.9 .05 24.6 .06 9.7 .05-18.8 .06-3.6 .05 15.8 .06-13.3 .05 .6 .06 .9 .05-13.6 .05 28.7 .06-11.4 .05 5.3 .06-4.4 .05-3.4 .06-7.1 .05-4.9 .06 9.8 .05-.3 .06 8.2 .05-13.8 .06-2.7 .05-1.8 .05 19.6 .06-29.5 .05 15.9 .06 12.3 .05-4.6 .06 14.5 .05-11.9 .06-6.9 .05 3.8 .06 20.5 .05-34.6 .06 14.8 .05-3.7 .05 .9 .06-11.4 .05 2.6 .06 19.3 .05-9.4 .06-3.6 .05 3.6 .06-18.2 .05-3.4 .06 5.2 .05 13.2 .06-4 .05 17.2 .05-12 .06 6.3 .05-10 .06 9.4 .05 1.9 .06 1.4 .05-9.3 .06 1.7 .05 9.5 .06-18.6 .05 13 .06-7.1 .05 15.4 .05-7.5 .06-7 .05-5.2 .06 10.9 .05-4.4 .06-6.2 .05 1.9 .06 14.9 .05-11.2 .06 2.9 .05-3.5 .06 9.9 .05-12.5 .05 11.1 .06-10.5 .05 8.3 .06-13.4 .05 6.4 .06 6.6 .05-9.6 .06 24 .05-23.8 .06 10.8 .05-1.1 .06-10.3 .05 3.6 .05 2.3 .06 6.4 .05-15.8 .06 15.9 .05-8.1 .06 .3 .05-1.1 .06 7.3 .05-.9 .06-.6 .05-8.4 .06-1.5 .05 16.3 .05-15.5 .06-5.3 .05 8 .06-5.3 .05-4.2 .06 13.2 .05 2.2 .06-1.4 .05-11.1 .06 13.2 .05-10.8 .06-.7 .05-1.8 .05 .6 .06-2.3 .05 9.5 .06-.1 .05-3.7 .06 4.6 .05 3.9 .06-9.5 .05 6.8 .06 3.9 .05-1.1 .06-5 .05-7.5 .05 13.5 .06-4.7 .05-9.6 .06 13.3 .05-4.2 .06-7 .05 8.9 .06-.6 .05-8.6 .06 11 .05-4.2 .06 1.4 .05 .7 .05-.9 .06-18.2 .05 18.8 .06-5.3 .05 11.6 .06-5.6 .05-14.8 .06-2.1 .05 16 .06 .5 .05 8.6 .05-21.5 .06 3.7 .05-1.8 .06 12.6 .05-14.1 .06 7.6 .05-3.7 .06 3.7 .05-19.3 .06 17.8 .05-6.2 .06-10.5 .05 16.2 .05 1 .06 6.8 .05-11.5 .06 1.7 .05-15 .06 14.1 .05 12 .06-15.1 .05-15 .06 30.6 .05-9 .06-7.4 .05 4.7 .05 8.4 .06-17.9 .05 18.8 .06-11.9 .05-16.7 .06 18.2 .05 5.5 .06 5.7 .05-4.1 .06-8 .05-4.7 .06 8.1 .05-5.5 .05 14.1 .06-24.5 .05 16.7 .06 5.9 .05-19.7 .06 12 .05-4.3 .06-3.3 .05 13.8 .06 9.1 .05-8.5 .06-12.3 .05 4.7 .05-5.1 .06 1.1 .05 2.7 .06 7 .05-9.5 .06-10.6 .05 37.8 .06-23.3 .05-5.8 .06 14.4 .05-16.9 .06 10.1 .05-7.6 .05 2.3 .06 2.5 .05-3.4 .06 10.7 .05-18.3 .06 11.6 .05-5 .06-2.9 .05 6.3 .06-1.7 .05-5.8 .06 11.7 .05-4.1 .05 14.5 .06-20.1 .05 2.3 .06 3.6 .05 .6 .06-2.2 .05 4 .06 3.9 .05-.7 .06-6.2 .05 8.1 .06-9.1 .05-4 .05 9.6 .06-3.3 .05-6.6 .06 11.1 .05-9.1 .06 5.1 .05-2.3 .06 15.9 .05-19.3 .06 19.6 .05-23.5 .06 12.4 .05-18.1 .05 8.8 .06 4.3 .05-12.5 .06 6.3 .05 8.6 .06-4.2 .05-5.9 .06 16.6 .05-6.8 .06 .7 .05-2.8 .06-3.6 .05-8.5 .05 .3 .06 6.8 .05 5 .06-6.6 .05 12.6 .06-8 .05-9.5 .06 15.6 .05-8.6 .06 21.9 .05 4.6 .06-25.4 .05 2.7 .05 20.1 .06-12.6 .05-2.1 .06 12.4 .05-19.9 .06 4.2 .05 13.9 .06-9.4 .05 .1 .06-1 .05-16.9 .06-9.2 .05 23.9 .05-3 .06 6.1 .05-8.5 .06-3.2 .05 5.1 .06-18.9 .05 10.6 .06 3.2 .05 8 .06-.6 .05 .3 .06 6.7 .05-15.7 .05-3.2 .06 4.9 .05 11 .06-5.3 .05-9.7 .06 15.6 .05-8 .06 5 .05-5.1 .06 4.2 .05 1.5 .05-17.5 .06 9.6 .05 13.1 .06 1.1 .05-7.2 .06 12.3 .05-23 .06 19 .05-16 .06 15.9 .05-10.1 .06 8.6 .05-14.5 .05 12.9 .06-5.8 .05-3.5 .06-6.3 .05-2.6 .06 26 .05-26.6 .06 10.7 .05-1.9 .06 24.2 .05-29.9 .06 7.5 .05 11 .05-4.6 .06-4 .05 5 .06-5.2 .05 9.2 .06-3.3 .05-3.4 .06-3.4 .05-7.7 .06 .4 .05 9.1 .06-1 .05 3.5 .05 4.4 .06-15.3 .05 7.6 .06 26.7 .05-31.6 .06 6.9 .05-2.3 .06 8 .05-16.9 .06-2.3 .05 20.1 .06-1.3 .05 13.5 .05-19.3 .06 .5 .05 .6 .06-5 .05 12.7 .06-5 .05-3.3 .06-8.1 .05 14.7 .06-4.9 .05 15.1 .06-8.7 .05-5.8 .05 .7 .06-2.8 .05-6.4 .06 7.6 .05-10 .06-3.1 .05 17 .06-1.1 .05-9.5 .06 10.3 .05-2.5 .06-4.6 .05-3.2 .05 3.4 .06 7.1 .05-3 .06 3.4 .05-11.7 .06 14.8 .05-9.1 .06 .2 .05-4.1 .06 4 .05-19.2 .06 27.8 .05-7.5 .05-2.4 .06 12.1 .05-17.8 .06 8.6 .05-6.9 .06-5.8 .05 11.6 .06 1.7 .05-10.6 .06 9.6 .05-6.2 .06 11.1 .05-14.8 .05 1.4 .06 2 .05-4.7 .06 39.8 .05-22.9 .06-8.4 .05 2 .06-2.8 .05 14.6 .06-18.4 .05 13.9 .06-8.9 .05-1.9 .05-5.9 .06 11.4 .05-3 .06 5.9 .05-1.8 .06-3.9 .05-29.3 .06 24.5 .05 13.3 .06-20.2 .05-.3 .06 14.4 .05 2.2 .05-9.7 .06-7.1 .05 3.2 .06 12.9 .05-9.5 .06 13.5 .05-10.3 .06-3.2 .05-8.2 .06 3.5 .05 10 .06-5.8 .05 7.5 .05 6.2 .06-11.7 .05-4.8 .06 10.5 .05-4.7 .06-12.3 .05 10.8 .06 2.9 .05-1.3 .06 2.2 .05 2.2 .06-1.7 .05-9 .05 19 .06-10.5 .05 1.1 .06-12 .05-3 .06 9.2 .05 5.6 .06-25 .05 23.3 .06-12.4 .05 5.5 .06 11.3 .05-17.7 .05 15.3 .06 7.8 .05-18.9 .06 3.4 .05 17.4 .06-7.2 .05 3.9 .06-8 .05 .8 .06 12.6 .05-14.9 .05-2.6 .06-4.6 .05 4.3 .06 6.3 .05-.8 .06 1.5 .05-17.9 .06 30.1 .05-18.8 .06 8.4 .05-9.4 .06 3.8 .05-7.2 .05 13.3 .06-9.4 .05 4.9 .06-1.6 .05 4.3 .06-8.4 .05 3.6 .06-10.3 .05 6.2 .06 13.4 .05-13.5 .06 8.5 .05-7.2 .05 8.5 .06 4.3 .05-12.2 .06-13.5 .05 16 .06-2.9 .05-4.8 .06 10.5 .05 3 .06-4.9 .05-1.7 .06-3.1 .05 1.6 .05-3.9 .06 9 .05-9.4 .06 2.9 .05-11.8 .06 14.6 .05 5.9 .06 5.9 .05-7.7 .06-13.2 .05 1.4 .06 3 .05 3.4 .05-5.9 .06 9.8 .05 .2 .06-9.1 .05-1 .06-.1 .05-2.3 .06 8.4 .05 9.5 .06-8.9 .05 3.5 .06-4.6 .05 8.8 .05-5.3 .06-7.9 .05 21.7 .06-16 .05-5.3 .06 5.2 .05 9.4 .06-8.4 .05 20.3 .06-27.1 .05 2.2 .06 4.9 .05-12.7 .05 16 .06-13.9 .05 7.3 .06-6.8 .05 3.5 .06-4.8 .05 18.2 .06 3.2 .05-3.7 .06-2.8 .05-.6 .06-32 .05 33.3 .05-5.4 .06-3.9 .05 11.5 .06-7.7 .05 7.9 .06-9.5 .05-3.5 .06 11.3 .05-13.4 .06 13.1 .05-6.4 .06-5.1 .05 15.7 .05-14 .06 1.6 .05 1.7 .06-18.3 .05 34.4 .06-5.3 .05 2.2 .06-11.1 .05-2.6 .06-4 .05-.9 .06 10 .05-9.4 .05 18.6 .06 3.4 .05-13.2 .06 1.5 .05 5.1 .06-26 .05 30 .06-18 .05 12.7 .06-20.1 .05 19.2 .06-1.2 .05-9.3 .05 28.5 .06-24.8 .05 7.4 .06 5.6 .05-12.7 .06 6.5 .05-25.4 .06 23.4 .05-10.1 .06 2.8 .05 12.1 .06-22.8 .05 18 .05 2.1 .06-1.5 .05 6.5 .06-4.3 .05 2.6 .06 1.1 .05-19.9 .06 11.5 .05 6.5 .06-9.6 .05-21.8 .06 20.8 .05-.1 .05 7.8 .06-5.7 .05-2.2 .06 3 .05-2.1 .06 10 .05-7.6 .06-3.7 .05 .4 .06 3.9 .05 2 .05-3.6 .06 .1 .05 .6 .06 4.8 .05-1.5 .06 9.3 .05-7.9 .06 9.2 .05-19.1 .06 4.4 .05 13.9 .06-25 .05 3.6 .05 14.6 .06-29 .05 18.1 .06 9.8 .05-8.4 .06 7.6 .05 2.5 .06-6.4 .05-.3 .06 6.1 .05-16.7 .06 1.8 .05 4.8 .05 5.2 .06-2.2 .05-2.6 .06-4.7 .05-11.3 .06 9.6 .05 14.4 .06-1.4 .05-6.2 .06 17.2 .05-15.8 .06-9.6 .05 27.1 .05-29.7 .06 29.2 .05 3.5 .06-24.3 .05 21 .06-10.9 .05-1.6 .06-10.2 .05-5.2 .06 27.1 .05-20.6 .06-11.8 .05 17.7 .05-.6 .06 .3 .05 8.3 .06-3 .05-9.9 .06 1 .05 24.8 .06-3.8 .05-12.5 .06-10.8 .05 3.7 .06 1.5 .05-12.7 .05 10.4 .06 1.9 .05 3.3 .06 5.7 .05-10.3 .06 12.1 .05-13.6 .06 6.3 .05 9.6 .06-22 .05 14.9 .06-8.1 .05 2.5 .05-2.9 .06 8.3 .05-10.4 .06 6.8 .05-5.9 .06 6 .05 4.6 .06-10.2 .05 12 .06-24.3 .05 23 .06-18.8 .05 12.2 .05-8.9 .06 10.8 .05 .2 .06-12.1 .05 3.4 .06-1.3 .05 33.2 .06-25.7 .05 1.3 .06 6.4 .05 .1 .06-10 .05 2.8 .05 7.6 .06-21.4 .05 8.7 .06 15.9 .05-21.4 .06-5.8 .05 18.3 .06-18.7 .05 5.5 .06 7.2 .05-.8 .06 .3 .05-18.8 .05 14.8 .06 12.3 .05-4.6 .06-7 .05 10.4 .06 2.7 .05 5.5 .06-4.8 .05-16 .06 16.6 .05-24.4 .06 21.4 .05-13.1 .05 2.9 .06-.6 .05 7.1 .06 9.3 .05-3.2 .06 7.1 .05-23.8 .06 10.4 .05 6.2 .06 4.8 .05-1.4 .06-1.6 .05 13.5 .05-18.4 .06-3.4 .05 1.1 .06 1.4 .05 1 .06-.9 .05-5.1 .06 4.6 .05-.5 .06-7.2 .05-8.7 .06 23.4 .05-16 .05 1.2 .06 11.6 .05 4.9 .06-8.8 .05-2.6 .06 6.8 .05-2.8 .06 .6 .05-9.2 .06 1.1 .05 1.1 .06 3.1 .05-9.3 .05 14.1 .06 3.2 .05-5.4 .06-.2 .05-14.6 .06 22.6 .05-17.8 .06 16.7 .05 1.1 .06-2 .05-.6 .05-13.5 .06 8.9 .05-7.8 .06 4.6 .05 19.1 .06-8.5 .05-12.4 .06-5.7 .05 6.9 .06 12.6 .05-25.3 .06 11.6 .05 1.6 .05 14.6 .06-1.3 .05-10 .06-6.4 .05 3.9 .06 6.1 .05-3 .06-3.1 .05 7.2 .06-4.7 .05 22.5 .06-27.7 .05-.5 .05 7.4 .06-10.8 .05 8.9 .06-20.4 .05 16.6 .06 7.6 .05-7.8 .06 11.2 .05-5.5 .06 1.2 .05-11.2 .06-11.6 .05 14 .05-6.1 .06 5 .05 3.3 .06 8.7 .05-7.2 .06-11.4 .05 11 .06-8.7 .05-3.7 .06 22.2 .05-19.8 .06-8.5 .05 27.7 .05-7.4 .06-4.2 .05-23.7 .06 20.2 .05-2.4 .06-4.7 .05 3.1 .06 10.8 .05-6.7 .06 10.4 .05-8 .06 .9 .05-14.7 .05 25.8 .06-4.5 .05-6.4 .06 5.3 .05-1 .06-3 .05-9.6 .06 4.7 .05-1.1 .06 7.1 .05 10.4 .06-8.4 .05 2.2 .05-16.6 .06 18.6 .05 2.2 .06-6.8 .05 19.4 .06-16.3 .05 5 .06-8.6 .05 2.9 .06-7.2 .05 7.5 .06-22 .05 6.2 .05 35.3 .06-19.7 .05-.3 .06-4 .05 8.9 .06-9.6 .05 12.6 .06-1.2 .05-3.7 .06 5.5 .05-14.8 .06-5.1 .05 9 .05 12.9 .06-12.4 .05-1.3 .06-12.5 .05 12.5 .06 .2 .05 8.1 .06-28.9 .05 15.7 .06 10.1 .05-11.8 .06 9.5 .05-11.7 .05 5.9 .06 .1 .05 1.1 .06-.3 .05 4.1 .06-4.8 .05 24.1 .06-14.2 .05 2.8 .06-14.8 .05 1.2 .06 8.5 .05-3.7 .05-12.7 .06 4 .05 13.4 .06-14 .05 12 .06 1.6 .05-22.4 .06 21.2 .05-15 .06-4.1 .05 15.8 .06-.1 .05-1.2 .05-6.3 .06 5.1 .05 7.2 .06 .6 .05-22.2 .06 36.7 .05-21.3 .06 10.8 .05-12.2 .06-6.5 .05 .6 .06 9.4 .05 15 .05-16 .06-3 .05 4.2 .06-2.8 .05 .7 .06-4.1 .05 8.2 .06 .1 .05-10 .06-8 .05 16.6 .05 2.1 .06-12.1 .05-1.2 .06 21.7 .05-13.8 .06-8.8 .05 24.5 .06-18.5 .05 .7 .06 8.5 .05-11.5 .06 12.2 .05-9 .05 13.1 .06-7.8 .05-8.5 .06 4.8 .05-1.2 .06 10.9 .05-9.9 .06 .1 .05-6 .06-6.6 .05 9.8 .06 17.5 .05-18.1 .05-17.9 .06 22.9 .05-8.4 .06 .9 .05 2.1 .06 1.9 .05-3.9 .06 4.1 .05 2.6 .06-1.5 .05 1.3 .06-8.5 .05 13.6 .05-2.5 .06-8.1 .05-4.2 .06-13 .05 27.7 .06-2.2 .05 4.8 .06-13.4 .05 3.2 .06 3.3 .05 .1 .06-4.3 .05 2.7 .05 1.1 .06 2.2 .05-15.3 .06-.8 .05 1.2 .06 16.9 .05-11.7 .06 9.7 .05 8.4 .06-3.1 .05 .3 .06-9.4 .05 7.9 .05-1 .06-1.9 .05-6.9 .06 3.4 .05 21.7 .06-26.2 .05-10.4 .06 19.8 .05-2 .06 3.3 .05-6 .06 5.4 .05-.5 .05 13.3 .06-26.3 .05 13.8 .06-2.5 .05 10.9 .06-1.1 .05-22.8 .06 9.6 .05-6 .06 8.1 .05 19.6 .06-10.7 .05-16.5 .05 2.8 .06 13.9 .05-24.3 .06 22.6 .05-8.7 .06 3.6 .05-3.7 .06-16.9 .05 16.5 .06-3.1 .05 3.4 .06 5 .05 4.2 .05 1.2 .06-18.3 .05 8 .06-7.8 .05 15.7 .06 4.6 .05-9.6 .06 1.9 .05-5 .06 22.6 .05-27.6 .06 .8 .05 12.5 .05-16 .06 .9 .05 4.4 .06 14.1 .05-15.4 .06 3.2 .05 7.9 .06-10.1 .05 3.6 .06 10.3 .05-21.2 .06 12.3 .05-2.5 .05 2.8 .06 9.2 .05-16.5 .06 6 .05-16.3 .06 14.7 .05 9.9 .06-8 .05-.5 .06-2 .05 1 .06-24.5 .05 23.1 .05 8.5 .06-14.5 .05-4.8 .06 17.3 .05-18 .06 13.5 .05 3.6 .06-2.6 .05 .3 .06-11.2 .05 7.2 .06 4 .05-5.8 .05-8.3 .06 19.3 .05-12 .06 .6 .05 2.2 .06 4.9 .05-13.8 .06 24 .05-.8 .06-17.2 .05 3.6 .05 8.2 .06 9 .05-8.2 .06-7.2 .05-3.2 .06 10.3 .05-6.6 .06 7.1 .05-9.6 .06 3.5 .05-6.9 .06 8.5 .05-8.1 .05 12.5 .06-3.7 .05-4.3 .06 11 .05-16.2 .06 10.3 .05-10.6 .06 7.5 .05-1.7 .06 12.4 .05-27.4 .06 9.3 .05 2.4 .05-6.7 .06 10.6 .05 10.1 .06-10.9 .05 10.2 .06-6.9 .05-1.5 .06 6.1 .05 8.5 .06-7.4 .05 .9 .06 3.4 .05-3 .05-10.8 .06 3 .05 6.3 .06-12.2 .05-3.2 .06 11.7 .05-2 .06-7.3 .05 7.2 .06 10 .05-9.4 .06 2.8 .05 3.1 .05-2.6 .06-3.4 .05-8.1 .06 10.7 .05-.7 .06 3.6 .05-11.1 .06 11.1 .05-3.2 .06 2.3 .05-.6 .06 4.9 .05-14.9 .05-.8 .06 11.6 .05 6.2 .06-1.7 .05-5.8 .06-3.3 .05-28.4 .06 21.2 .05 1.6 .06 4.4 .05 1.4 .06 10.2 .05-17.6 .05-4.8 .06 16.7 .05-3.7 .06-14.7 .05 17.5 .06-13.7 .05 16.6 .06 6.6 .05-16.9 .06 11.1 .05-5.7 .06 .2 .05-9.6 .05 3.7 .06 .2 .05-15.1 .06 15.9 .05-5.2 .06 7 .05-13.6 .06 27.9 .05-18.9 .06-10.1 .05 15.5 .06 10.2 .05-10.7 .05-9 .06 9.4 .05 6.9 .06 .8 .05-7.7 .06 .1 .05-.5 .06 2.8 .05-2.3 .06 4.7 .05-11 .06 1.6 .05 12.1 .05-9.1 .06 7.8 .05-6.1 .06 3.1 .05-8.5 .06 4.9 .05 6.8 .06-31.2 .05 17 .06 2.5 .05 6.1 .06-17.2 .05 21.6 .05 2.2 .06 1.6 .05 8.3 .06-15 .05-13.1 .06 12 .05 1.7 .06-1.6 .05-9.4 .06 17 .05-3.4 .06 6.7 .05 .7 .05-29.3 .06 24.5 .05-2.9 .06 4.2 .05 0 .06-3.5 .05-14.3 .06 17 .05-14.4 .06 17 .05-11.3 .06 4 .05 10.4 .05-10.6 .06 1.8 .05-.5 .06 2.4 .05 11.9 .06-17.8 .05-1.6 .06 1.2 .05-2.1 .06 5.9 .05 9.7 .06 8.5 .05-1.3 .05-12.3 .06-12.6 .05-7.7 .06 26.8 .05-13.2 .06-3.4 .05 11.5 .06 13.8 .05-7.5 .06 .7 .05-19.6 .05 5.3 .06 25.8 .05-31.9 .06 13.8 .05-3.4 .06 7.7 .05-22.4 .06 2.3 .05 2.1 .06 4.8 .05-7.7 .06 1.3 .05 10.9 .05 5.3 .06-.8 .05 1.4 .06-10.4 .05 8.9 .06 8.6 .05-18.4 .06 13.1 .05-13.8 .06 8.3 .05 2.7 .06 2 .05-14.5 .05-.7 .06 8.6 .05 13.4 .06 4.1 .05-11.7 .06-7.8 .05-2.5 .06 7.7 .05 4.9 .06-8.6 .05-12.2 .06 5.7 .05 1.8 .05 5.5 .06-14.7 .05 .8 .06 21.6 .05-15.2 .06-6.4 .05 10.8 .06-1.3 .05 5.2 .06-8.2 .05-6.5 .06-.5 .05 9.4 .05 11.8 .06-10.3 .05-1.4 .06 8.1 .05-7.4 .06 3.6 .05 8.3 .06-15 .05 5 .06-3.3 .05 11.2 .06-16 .05 16 .05-1.2 .06-11 .05-11.1 .06 .1 .05 12.1 .06 3.7 .05-1.1 .06 19.6 .05-29.9 .06 11.7 .05-26.1 .06 18.2 .05 14 .05-9.4 .06-10.2 .05 2.9 .06-6.9 .05 13.8 .06 6.6 .05-10 .06-8.3 .05 11.2 .06 .9 .05 12.7 .06-11.5 .05-5 .05 11.2 .06-20.2 .05 6.5 .06 9.3 .05 8 .06 11.9 .05-28.8 .06-10 .05-.3 .06 15.5 .05-2.7 .06-2.2 .05 5 .05-5.6 .06 9.4 .05-8.6 .06 1.7 .05-3.3 .06 15.4 .05-8.6 .06 5 .05 3 .06-15.4 .05 15 .06-.4 .05-2.9 .05 2.8 .06-8.2 .05 .9 .06 1.7 .05-10.2 .06 14 .05-7.4 .06-1.5 .05-2 .06 4.7 .05 1.1 .06-1.5 .05-3.4 .05 6.2 .06-17.1 .05 12.9 .06 11.6 .05-20.7 .06 9.8 .05 8.5 .06-1.3 .05-9.3 .06 7.3 .05 .7 .06-11 .05-10.1 .05 7.1 .06 10.1 .05 7.9 .06-22.5 .05 13.5 .06 8.2 .05-21.2 .06 17 .05 16.6 .06-9.1 .05 2.5 .06-9.4 .05-2.6 .05-5.3 .06 6.3 .05-4.4 .06 3.2 .05-9.5 .06 21.5 .05-16.6 .06 9.7 .05 5.5 .06-6.3 .05-3.6 .05-16 .06 13.8 .05 0 .06 5.3 .05 5.3 .06-17.7 .05-.6 .06 7 .05 10.8 .06-14.6 .05 12.7 .06-11.1 .05 8.4 .05-8 .06 .3 .05 3.7 .06-10.1 .05-1.1 .06 15.6 .05-7.9 .06-5.4 .05 1.6 .06 6.4 .05 2.7 .06-7.9 .05 12.3 .05-7.4 .06-17 .05 9.3 .06 6.2 .05 .8 .06 3.6 .05 8.4 .06-7 .05-19.7 .06 17.8 .05-16.5 .06 16.6 .05-6.1 .05-10.8 .06 13 .05 10.3 .06 2.1 .05 3.1 .06-25.1 .05-4.5 .06 13.9 .05-14.8 .06 12.3 .05-.8 .06-4.9 .05 11.9 .05-6.3 .06 4.8 .05-7.4 .06 5.3 .05-5.4 .06-6.1 .05 6.1 .06 10.1 .05-10.4 .06 3 .05-6.1 .06 1.8 .05 10.7 .05 .5 .06 3.7 .05 2.8 .06-8.4 .05-5.4 .06 19.6 .05-28.4 .06 10.9 .05-1.4 .06 3.8 .05-.5 .06-2.5 .05 8.4 .05 2.2 .06-2.5 .05 5.6 .06-14.7 .05 1.8 .06 10.6 .05 18.1 .06-22.2 .05-1.9 .06-1.1 .05 1.7 .06-4.6 .05 2 .05 9.8 .06-23.9 .05 8.8 .06-1.2 .05 13.8 .06 .9 .05-4.8 .06-7 .05 1 .06-3.5 .05 8 .06-3.2 .05 12.8 .05-9.2 .06-9.1 .05 3.7 .06 7.2 .05 4.7 .06 0 .05 .7 .06 12.5 .05-12.1 .06-18.5 .05 1.5 .06 17.2 .05 10.6 .05-14.9 .06 13.1 .05-11.4 .06-6 .05 9.5 .06-13.7 .05 9.1 .06 1.2 .05 2.1 .06-13.6 .05 3.8 .06 17 .05-23.1 .05 18 .06-21.1 .05 13.4 .06 13.3 .05-16.9 .06-5.3 .05 10 .06-18.3 .05 21.8 .06 4.6 .05 3.9 .06-14 .05 9.4 .05-.1 .06 .6 .05-5.8 .06-9.8 .05 4.2 .06 1.9 .05-5.6 .06 12.9 .05-4.8 .06 10.6 .05-22.6 .06 18.2 .05-8.2 .05 6.2 .06-11 .05 .8 .06 1.9 .05 22.4 .06-14.5 .05-7.9 .06 12.1 .05-8.9 .06 6.9 .05-8.4 .06 .4 .05 11.3 .05-13 .06-4.5 .05 2.7 .06 4.1 .05 3.3 .06 4 .05-11.5 .06-19.2 .05 31.2 .06-17.4 .05 15.4 .05-20.6 .06 13.4 .05 4.3 .06-3.4 .05 7.3 .06 11.7 .05-19.1 .06-10.2 .05-5.2 .06 10.8 .05 1.9 .06 4.9 .05-12 .05 19 .06-5.1 .05 1.6 .06-2 .05 16.6 .06-18.9 .05 5.9 .06-4.4 .05-6.2 .06-10.3 .05 35.6 .06-30.2 .05 12.5 .05-3.4 .06-18.9 .05 33.5 .06-.6 .05-20.4 .06 18.4 .05-20.8 .06 14.8 .05-18.2 .06 20.5 .05-3.2 .06 6.7 .05-14.9 .05 22.3 .06-17.8 .05 4.9 .06-6.3 .05 9.1 .06 5.2 .05-14.3 .06 1.6 .05 5.1 .06-1 .05-.4 .06 2.5 .05-10 .05 3.1 .06-5.3 .05 12.7 .06-.2 .05 5.1 .06 2.7 .05-8.8 .06 7.1 .05-23.4 .06 16.6 .05-17.2 .06 10.3 .05 3.9 .05-4 .06-5.5 .05 11.7 .06-.8 .05-15.1 .06 9.3 .05 6.4 .06 .6 .05-6.6 .06-3.2 .05 2.9 .06 4.7 .05 11.5 .05-13.5 .06-13 .05-5.8 .06 11.6 .05 8.6 .06-2.7 .05 12 .06-12.2 .05-8.7 .06 10.8 .05-12.2 .06 6.2 .05 3.3 .05 8.8 .06 .1 .05-2 .06-15.4 .05-.9 .06 4.5 .05 18.9 .06-12.3 .05-.7 .06-4.7 .05 5.8 .06-5 .05-5.9 .05 14.7 .06 11.8 .05-22.9 .06 8.2 .05 1.7 .06-1.7 .05-3.8 .06 1.1 .05 14.5 .06-13 .05 4.4 .06 15.6 .05-21.9 .05 5.7 .06-14.6 .05 2.4 .06 5.6 .05 3.9 .06 5.6 .05-6.8 .06-.8 .05-13.3 .06 10.6 .05-11.6 .06 9.4 .05-.5 .05-1 .06 7 .05 1.3 .06-9.1 .05 2.6 .06-9.1 .05 11.2 .06-6.8 .05-4.8 .06 9.5 .05 2.3 .06-12.8 .05 13.4 .05-1.7 .06 6.3 .05 22.1 .06-24.8 .05-3 .06 4.9 .05 2.9 .06-2.3 .05-12.1 .06 8 .05 2.2 .06-2.5 .05 1.5 .05 5.6 .06-2 .05 6.7 .06 2 .05-9.4 .06-17 .05 14.4 .06 14.3 .05-3.5 .06-6.5 .05-6.8 .05 11.7 .06-11.1 .05 11.7 .06-7 .05 10.6 .06-.8 .05-8.9 .06-.9 .05 6.9 .06-6 .05-9 .06 6.2 .05 10.1 .05-1.9 .06 2.2 .05-7.2 .06-8 .05-1.4 .06-16.1 .05 25.2 .06-4.3 .05-.3 .06 .7 .05 28 .06-16.4 .05-2 .05-5 .06-7.8 .05-4.4 .06 15.9 .05 5.1 .06-17.2 .05 6.9 .06 .7 .05-5.5 .06 8.8 .05-1.9 .06-9 .05 13 .05-13.6 .06-1.4 .05 22.8 .06-20.8 .05 16.5 .06-7.7 .05-6.9 .06 8.9 .05 0 .06-3.5 .05 .9 .06 5.8 .05-.8 .05-25.9 .06 9.4 .05 19.5 .06-15.9 .05 2.2 .06-9.5 .05-.1 .06 14.1 .05 18.3 .06-20.9 .05-6.1 .06-1.1 .05 .8 .05 12.2 .06-23.7 .05 25.3 .06-17.1 .05 16.1 .06 .2 .05-11.3 .06 6.6 .05 3.9 .06 5.1 .05-18.2 .06 2.1 .05 4.1 .05 7.6 .06-6.4 .05 11.6 .06-9.9 .05 0 .06-10.3 .05 11 .06-8.2 .05-4.9 .06-2.3 .05 10.5 .06-1.1 .05-2.9 .05 11.8 .06-5.4 .05-12.6 .06 29.2 .05-39.4 .06 14.1 .05 7.8 .06-22.7 .05 29.1 .06-4.7 .05 .6 .06-7.4 .05 7.9 .05-10.5 .06 12.6 .05-3.2 .06-17.1 .05 10.9 .06 2.5 .05-17.9 .06 32 .05-15.6 .06-2.5 .05 6 .06-.2 .05 13.2 .05-9.9 .06-11.5 .05 5.3 .06 24.9 .05-20.9 .06 .2 .05-22 .06 21.7 .05-6.7 .06-1.9 .05 17.7 .06-15.9 .05 9.8 .05-3.1 .06-4.4 .05 14.3 .06-15.4 .05 0 .06-5.1 .05 6.3 .06-14.1 .05 15.8 .06 4.7 .05 3.7 .06-4.5 .05 .2 .05-13.2 .06 16.1 .05-6.5 .06 1 .05 2.1 .06 3.2 .05 0 .06-8.7 .05-.3 .06 4.8 .05-8.9 .06 10.5 .05 7.6 .05 1.8 .06-7 .05 1.9 .06-.7 .05-11.9 .06 4.8 .05 6.2 .06-10.7 .05 12.4 .06-17.1 .05 5.6 .05 .2 .06 .3 .05-2.3 .06 9.8 .05 .1 .06-1.5 .05-11.4 .06 23.1 .05-14.3 .06 1.2 .05-5.1 .06 7.4 .05-8.1 .05 18.2 .06-26 .05 17.6 .06 16.2 .05-15 .06-14.9 .05 7.2 .06-2.9 .05 5.5 .06-2 .05 1.8 .06 1.6 .05-14 .05 7.8 .06 10.9 .05-5.3 .06-4.8 .05 20.9 .06-2.4 .05-14.2 .06-10 .05 13.7 .06-4 .05 4.6 .06-6.2 .05-10.1 .05 15.6 .06-19.9 .05 19.4 .06-7.7 .05 2.8 .06-3.2 .05 1.4 .06 8.4 .05-18.3 .06 3.2 .05 8.1 .06 1.4 .05 3.5 .05 6.7 .06-8.3 .05-29.9 .06 27 .05-9.7 .06 2.4 .05 4.4 .06 13.8 .05-13 .06-.3 .05-2.1 .06 8.8 .05 6.2 .05-20.2 .06 6.8 .05 3.9 .06 9.3 .05-12.6 .06 2.6 .05-14.7 .06 13.9 .05-3.1 .06 6.3 .05-4.1 .06-4.3 .05 9.1 .05-6 .06-1.4 .05-8.9 .06 14.2 .05-7.4 .06 3.3 .05-7.8 .06 11.2 .05 2.8 .06-2.8 .05-3.6 .06-4.2 .05 4.4 .05-2.7 .06-6.2 .05 14.5 .06-11.4 .05 8.8 .06-9.9 .05 15.8 .06 6.8 .05-26.7 .06 4.5 .05 6.3 .06 .2 .05-4.9 .05 4.7 .06 3.7 .05 4.6 .06-3.6 .05-16.1 .06 12.3 .05 8.8 .06-12.3 .05 3.8 .06-2.7 .05-1.1 .06-.8 .05-7.4 .05 12.2 .06-4.2 .05 22.7 .06-4.1 .05-13.8 .06-9.2 .05 7.7 .06 2.7 .05-6.5 .06-2.3 .05 21.5 .06-27.9 .05 16.2 .05 6.4 .06-9.7 .05 3.4 .06-4.6 .05 10.2 .06-5.3 .05 6.8 .06-13.2 .05 7.1 .06-7.1 .05 9.1 .06 15.2 .05-24.9 .05 12.7 .06-2 .05 .8 .06-3.4 .05 0 .06 6.1 .05-20.8 .06 9.8 .05 7 .06 1.5 .05 0 .06-2.9 .05-4.9 .05 16.8 .06-28.3 .05 13.3 .06-1.6 .05 24 .06-13.8 .05-5.8 .06-1 .05 5.3 .06-1.4 .05 5.5 .06-21.1 .05 6 .05 14.7 .06-9.2 .05-4.9 .06-4.8 .05 3.7 .06-1.2 .05 13.1 .06-19.2 .05 22.8 .06-21.2 .05 1.4 .05 7.6 .06 9.5 .05-5.9 .06 2 .05-9.8 .06-11.7 .05 34.6 .06-19.7 .05 14.9 .06-7.9 .05-14.1 .06-.4 .05 13.5 .05-9.3 .06 18.9 .05-16.9 .06 5 .05 2.2 .06-12.3 .05 13.1 .06 5.5 .05-36.3 .06 49.2 .05-17.8 .06 8.5 .05-12 .05-16.7 .06 16.9 .05-2.4 .06 7 .05-2.1 .06-10.5 .05 10.1 .06-.8 .05-29.9 .06 34.4 .05-6.1 .06 8.2 .05-15.8 .05 38 .06-28.6 .05 8.2 .06-6.8 .05-22.4 .06 19.6 .05 3.4 .06-5.8 .05 2 .06 .1 .05-1.9 .06-3.5 .05 .6 .05 5.3 .06-1.6 .05-9.8 .06 .6 .05 4.6 .06 3 .05 8.3 .06-14.5 .05 14.3 .06 4.1 .05-3.8 .06-14.2 .05-.4 .05 7.6 .06 1.8 .05 9 .06-17.4 .05 10.1 .06-1.9 .05-6.8 .06-3.2 .05-4.8 .06 20.9 .05-10.7 .06-2.3 .05 11.2 .05 12.2 .06-10.2 .05-4.7 .06-6.7 .05 5.3 .06 .7 .05 8 .06-29.1 .05 20.4 .06 11.5 .05-10.2 .06-4.7 .05 3.5 .05-1.8 .06 1.6 .05 5.5 .06-6.3 .05 9.8 .06-6 .05 2.8 .06-15.6 .05 3.9 .06 7.3 .05-9.4 .06 9.7 .05-4.9 .05-4.2 .06 1.8 .05-9.5 .06 2.3 .05 9.8 .06-.2 .05-6.3 .06 .5 .05 1.5 .06 1.5 .05 25 .06-21.5 .05 .1 .05 2.1 .06 7.1 .05 12.6 .06-36.1 .05 14.1 .06-8.5 .05 22.1 .06-5 .05-15.1 .06 12.2 .05-7.2 .06 23.6 .05-24.6 .05 .7 .06 9.8 .05-10.5 .06-4.6 .05-3.9 .06 19.5 .05-12.9 .06 1.1 .05 4.3 .06 3.6 .05-5.6 .06 7.2 .05-9.6 .05 12.8 .06 18.7 .05-21.7 .06-.6 .05-1.4 .06-8.2 .05 8.1 .06 1.6 .05 .9 .06-3.1 .05 6.5 .06-8.4 .05-12.7 .05 6.9 .06 6.5 .05-8.2 .06-5 .05 17.7 .06-4.2 .05-6.3 .06 13.7 .05 11.9 .06-23.9 .05 2.8 .05-2.1 .06 9.6 .05-7.9 .06-3.7 .05 0 .06-2.3 .05-2.6 .06-5.8 .05 .9 .06 6 .05 1.5 .06-10 .05 1.8 .05-.1 .06 5.8 .05 11.2 .06-3.7 .05 .1 .06-5.4 .05 9.2 .06 5.3 .05 5.8 .06-18.9 .05-1.6 .06 1 .05-1.1 .05-4.5 .06 10.3 .05-.3 .06 3.4 .05 6.9 .06-4.6 .05-13.9 .06 11.6 .05-3.4 .06-14.9 .05 23.8 .06 .5 .05-14.5 .05 .4 .06 .6 .05 1 .06 5 .05-1.1 .06-8.6 .05 6 .06 3 .05 25 .06-27.5 .05 1.9 .06 3.7 .05-2 .05-13.4 .06 13 .05-6.3 .06 3.8 .05 7.1 .06-25.6 .05 22.6 .06 2.9 .05-7.3 .06 3.8 .05-3.5 .06-.6 .05 5.2 .05-18.2 .06 24 .05-3.5 .06-11 .05-2.2 .06-2.7 .05 8.1 .06 6.8 .05-1.2 .06-4.3 .05-5.4 .06 14.9 .05-12.1 .05 3.6 .06 9.2 .05-1.1 .06-6.3 .05-1.5 .06-2 .05-.8 .06 5.9 .05-8.4 .06 19.2 .05-7.8 .06-7.3 .05-12.6 .05 18.6 .06 .8 .05-12.2 .06 9.9 .05 5.2 .06-1.6 .05-4.2 .06 1.4 .05-12.6 .06 7.8 .05 14.5 .06-13.5 .05-3.1 .05-1.1 .06 13.1 .05-8.8 .06 6.6 .05-8.1 .06-4.1 .05 4.2 .06-7.6 .05 20.3 .06-.8 .05-21.1 .06 6.4 .05 5.6 .05-8.1 .06 8.6 .05-17 .06 11.8 .05 .2 .06-7.8 .05 5.6 .06 3.5 .05 10.1 .06-4.6 .05-3.4 .06-10.4 .05 1.2 .05 19.2 .06-10.6 .05 6 .06-7.2 .05-13.6 .06 6.5 .05 3.9 .06 12 .05-.7 .06-8.1 .05 12.2 .06-4.7 .05-3 .05-19.2 .06 19.2 .05-11.2 .06 3.4 .05-7.9 .06 .4 .05 9 .06 6.1 .05-3.5 .06-1.3 .05 9.1 .06-.2 .05-19.9 .05 16.5 .06-27.5 .05 9.8 .06 12.1 .05-3 .06-9.4 .05 20.2 .06 6.9 .05-20.4 .06 18.3 .05 13.8 .06-42.6 .05 8 .05-.2 .06-1 .05 27.9 .06-15.2 .05-8.2 .06-3.6 .05 .4 .06 13.6 .05-6.1 .06-4.9 .05 7.6 .05-1.2 .06 .6 .05-1.3 .06-4.3 .05 9.4 .06-23.8 .05 18 .06 3.8 .05-3.7 .06-.9 .05 7.4 .06 2.2 .05-7.2 .05-11.4 .06 5.9 .05 .3 .06 18.9 .05-23.2 .06 15.8 .05-6 .06 5.5 .05-25.4 .06 28.2 .05-11.5 .06 4.6 .05 7.2 .05 1.6 .06 1 .05-7.9 .06 16.1 .05-17.1 .06 16.1 .05-12.6 .06-14.8 .05 20.5 .06 1 .05-11.4 .06 13.8 .05-30.5 .05 12.4 .06 2.6 .05 10.9 .06 1.9 .05-10.2 .06 1.1 .05 2.9 .06-4.3 .05-9.1 .06 17.6 .05-7.9 .06 1.8 .05-4.3 .05 10.7 .06 3.7 .05 3.3 .06-16.9 .05-.9 .06-.6 .05 13.4 .06-10.1 .05-4.4 .06 12.6 .05-9.8 .06-4.3 .05 5.7 .05 4.7 .06-1 .05-3.2 .06-.7 .05 2.3 .06 9.4 .05-14 .06 10.7 .05-5 .06-18.5 .05 2.5 .06 22.9 .05-6.6 .05-3.4 .06 2.9 .05-2.1 .06 7.9 .05-12.3 .06 3.5 .05-1.2 .06-3.1 .05 12.2 .06 5.3 .05-12.5 .06-1 .05-4.1 .05 4.4 .06 2.8 .05 2.8 .06-2.3 .05-21.6 .06 15.2 .05-1.3 .06-3.5 .05 1 .06 6.8 .05-14.2 .06 19.3 .05-5.8 .05 3.8 .06-5.6 .05 7.4 .06-2.6 .05 2.4 .06-5.3 .05 4.8 .06-12 .05-7.9 .06 21.8 .05-.9 .06-6.4 .05-.1 .05 13.7 .06-16.5 .05 11.8 .06-11.5 .05 1.3 .06-10 .05 12.6 .06 2.3 .05-2.5 .06 8.2 .05-17.9 .06 1.3 .05 13 .05-1.8 .06-2.5 .05-7.8 .06-1.3 .05 10.4 .06-.7 .05 1.7 .06-5.7 .05-5.6 .06 2.9 .05-7.4 .06 8.1 .05 4.5 .05 7 .06-6.6 .05 8.9 .06-4.4 .05 5.3 .06-14 .05 10.2 .06 2.7 .05-10.5 .06 4.3 .05 14.5 .06-18.3 .05-2.9 .05 2.9 .06-9.4 .05 32 .06-15.7 .05 2.8 .06-16.9 .05 9.8 .06-4.8 .05-6.6 .06 6.4 .05 9.2 .05-13.8 .06-3.9 .05 2.3 .06 18.8 .05-16.6 .06 8.5 .05 5.2 .06 9.3 .05-14.1 .06-1.5 .05-2 .06-6.2 .05 1.6 .05 11 .06-2.5 .05 18.5 .06-4.4 .05-11 .06-5.7 .05-.4 .06 6.7 .05-4.8 .06 1.2 .05-8.1 .06 7.9 .05 5.7 .05-13.2 .06 6.6 .05 2.7 .06 7.2 .05-6.1 .06-14.4 .05 7.8 .06-2.3 .05 2.1 .06-2.6 .05 3.9 .06 4.4 .05-13.9 .05 17.8 .06 9.4 .05-13.5 .06-13 .05 1.4 .06 18.9 .05-10.5 .06 4.6 .05 11.9 .06-14.3 .05 .5 .06-1.1 .05-16.5 .05 15.4 .06-10.6 .05 19.7 .06-12.7 .05-3.6 .06-5.3 .05 17.6 .06 7.2 .05-18.6 .06 25.8 .05-11.3 .06 3.6 .05-11.8 .05-1.7 .06 11.8 .05 1.6 .06-.8 .05-9 .06 1.5 .05 9 .06-13.9 .05 3.8 .06-8.2 .05 8.9 .06-1.3 .05-8.7 .05 10.1 .06 7.2 .05-12.1 .06 .7 .05-2.8 .06 2.9 .05-2.1 .06-3.3 .05-2.1 .06 22 .05-14.2 .06 20.3 .05-16.2 .05-1.4 .06-2.9 .05 9.4 .06-6.1 .05-6.7 .06 3.9 .05-.7 .06 9.9 .05-9.3 .06-9 .05 5.5 .06 17.3 .05-14.2 .05 3.6 .06 3.3 .05-6.1 .06 .8 .05 12.2 .06-17.6 .05 4.5 .06-13.5 .05 37.1 .06-26.9 .05 6.4 .06 .8 .05-8.5 .05-2.9 .06 6.2 .05-18.9 .06 10.2 .05 20.3 .06-7.5 .05-2.5 .06 10.5 .05-9.3 .06-2.5 .05 5.9 .06 2.7 .05-2.5 .05-2.2 .06 14.3 .05-26.8 .06 12.8 .05-1.7 .06-4.2 .05 34 .06-41.6 .05 20 .06-4.2 .05-11 .06 2.4 .05 13.7 .05-8.6 .06-1.9 .05 .3 .06 5.1 .05-9.3 .06 8.2 .05-18.8 .06 14.2 .05 1.8 .06 8.8 .05-5.5 .06-14.6 .05-1.4 .05 13.1 .06-22.1 .05 23.6 .06 4.5 .05-5.3 .06-2.9 .05 3.1 .06 3.4 .05-.2 .06-.2 .05-8.5 .05 1.7 .06 7.6 .05 9.9 .06-23 .05 8.4 .06 1.5 .05 .2 .06 2.3 .05-11 .06-.7 .05 3.4 .06 8.2 .05-4 .05 4.2 .06-10.1 .05 10.3 .06-9.2 .05 17.7 .06-6.1 .05-6.5 .06-13.6 .05 9 .06 5.4 .05-11.2 .06 .1 .05 12 .05-13.6 .06 10.2 .05 14.7 .06-19.3 .05 .5 .06-5.9 .05 6.1 .06-6.6 .05 17.8 .06-15.8 .05 9.9 .06 10.4 .05-8.2 .05-11.3 .06-8.7 .05 20.8 .06-6.5 .05 22 .06-13 .05-7.4 .06 .2 .05 1.7 .06-4.5 .05-2.3 .06 5.3 .05-5.8 .05 18.3 .06-12.5 .05 13.7 .06-12.8 .05 6.2 .06-3.2 .05-.9 .06 4.6 .05 1.7 .06 1.1 .05-9.7 .06-8.6 .05 7.7 .05-8.4 .06 3.8 .05 11.5 .06-19 .05 24.4 .06 5.6 .05-13.2 .06 7.4 .05-15.2 .06 3.2 .05-1.7 .06-5.3 .05 13.8 .05-15.8 .06-3.5 .05 12.1 .06-5.6 .05 3.2 .06 5.2 .05-5.8 .06 23.6 .05-17.9 .06 4.6 .05-10.2 .06-6.5 .05 18.3 .05-4.2 .06-8.9 .05 9.6 .06-4.3 .05-13.2 .06 9 .05 6.2 .06 3.4 .05 2.4 .06-8 .05 5.4 .06 0 .05-22.5 .05 3.2 .06 15.3 .05-1.8 .06 22.6 .05-13.7 .06-18.9 .05 12.8 .06-12.4 .05 9.5 .06 9.4 .05-17 .06 11.5 .05-7.6 .05 5.1 .06 3 .05-11.8 .06 3.3 .05-5.8 .06 9.3 .05 5.1 .06 3.3 .05 1.2 .06-11.3 .05 5.7 .06-7.3 .05 2.2 .05-8.6 .06 14.4 .05-5.7 .06 3.6 .05-5.6 .06 7 .05 7.4 .06 4.1 .05 6.8 .06-21.1 .05 .4 .06-5.7 .05 5.2 .05-1.5 .06 15.2 .05-24.5 .06 6 .05 3 .06-4.3 .05 4.8 .06-4.7 .05 9.6 .06 9.8 .05-13.4 .06 4.5 .05 1.5 .05-6.7 .06 8.7 .05-12.5 .06 6.9 .05-12.1 .06 9.1 .05 12.9 .06-6 .05 .7 .06-6.5 .05 1.1 .06-5.5 .05 4.5 .05-5.5 .06 9.4 .05-9.8 .06 13.6 .05-1 .06-18.3 .05-3.5 .06 13.9 .05-5 .06-2.4 .05 9.5 .05-11.7 .06 11.7 .05-1.1 .06-2 .05 10.6 .06-14.5 .05 18.7 .06-8.6 .05-3.4 .06 7.3 .05-4.5 .06 2.5 .05-4.8 .05-10.9 .06 13.2 .05-3.5 .06-6.3 .05 2.8 .06 1.7 .05 5.4 .06 .5 .05 6.8 .06-10.1 .05 3.2 .06-9.2 .05 20.2 .05-11.6 .06-6.3 .05 11.4 .06-3.8 .05 1.1 .06 2.9 .05 1.9 .06-11.3 .05 5.3 .06-2.2 .05 8.9 .06-25 .05 18.1 .05-9.3 .06 10.3 .05-9 .06-2.5 .05-10.5 .06 9.8 .05 13.1 .06-1.5 .05-4.2 .06 .5 .05-4.1 .06 4 .05-9.7 .05 1.9 .06 1.5 .05-15.5 .06 9.7 .05 19.8 .06-27.5 .05 15.7 .06 .2 .05 4.2 .06 9.7 .05 2.1 .06-32.5 .05 25.3 .05-23.2 .06 28 .05-1.5 .06-19.2 .05 13.5 .06-3.3 .05 11.7 .06-14.5 .05 .9 .06-8.6 .05 27.6 .06-9.2 .05 2.1 .05-2.2 .06-6.9 .05-19.3 .06 23.7 .05-7.9 .06-11.8 .05 17.3 .06 3.4 .05-7.4 .06 2.4 .05-4 .06 15.2 .05-11.9 .05-2.3 .06 6.1 .05-5.1 .06 9.2 .05 .5 .06-9.9 .05 3 .06 22.2 .05-18.2 .06 1.4 .05 .4 .06-5.1 .05-4.8 .05-4.4 .06 2.4 .05 4.4 .06-5.8 .05 8.4 .06-7.7 .05 9.2 .06-11.7 .05 4.2 .06 1.1 .05-5.6 .06 3.2 .05 4.9 .05 21.8 .06-26.7 .05 2.5 .06-4.1 .05 7.2 .06 5.1 .05-3.5 .06-11.7 .05-5.5 .06 17 .05-4.6 .06 1.6 .05 6.5 .05-5.2 .06 7.2 .05-7.8 .06-8.5 .05 6.3 .06 6.9 .05-34.2 .06 37 .05-16.2 .06 4.8 .05 11.9 .06-14.5 .05 10.2 .05-1.1 .06-9.1 .05 7.7 .06-3.4 .05 .5 .06 5.1 .05 5.7 .06-5.6 .05-33.3 .06 24.8 .05-7.1 .06 20.2 .05-.6 .05-6.1 .06 4.4 .05-12.7 .06 .8 .05 .2 .06 10.4 .05 2.8 .06-14.7 .05-14.3 .06 24.3 .05-2.8 .05-1.3 .06 2.3 .05-19.5 .06 26.1 .05-17.4 .06 10.9 .05 1.3 .06-11.2 .05-3.2 .06 12.8 .05-1.3 .06 5 .05-3.2 .05 4.5 .06 2 .05 9.7 .06-11.9 .05-10.5 .06 10.6 .05-5.7 .06 4.1 .05-3 .06 5.8 .05-6.1 .06-1.3 .05-2.8 .05 1.3 .06 11.9 .05-11.6 .06 8.3 .05-11.6 .06-2.7 .05 7 .06-20.7 .05 15.2 .06 29.7 .05-19.9 .06-2.1 .05-21.8 .05 8.1 .06 17.4 .05 10.8 .06-12.6 .05-11.4 .06 14.7 .05-.6 .06-10.4 .05 1.4 .06-4.5 .05 3.6 .06 6.7 .05-13.8 .05 12.3 .06 0 .05-.4 .06 6.8 .05-9.6 .06-10.8 .05 11.6 .06 3.5 .05 11 .06-18 .05 3.1 .06-23.1 .05 22.1 .05-8.5 .06 2.6 .05-4.7 .06 8.5 .05-7.6 .06 12.7 .05-7.7 .06 13.6 .05-13.5 .06-4.9 .05 15.4 .06-5.5 .05-17.8 .05 6.1 .06 21.2 .05-12.6 .06-7.8 .05 19 .06-15.5 .05 1.9 .06 4.3 .05-2.6 .06 15.4 .05-33.3 .06 16 .05-6.5 .05-2.1 .06-1.8 .05 26.1 .06-12.5 .05-20.8 .06 22.2 .05 1.6 .06-10.6 .05-20.5 .06 22.4 .05 5.4 .06-3.2 .05 7.2 .05-9.2 .06 16.3 .05-8 .06 3.3 .05-17.4 .06 1.8 .05 11.9 .06 14.7 .05-20.1 .06 4.3 .05 18.4 .06-20.6 .05 6.2 .05-11 .06 1.6 .05 12.9 .06-12.5 .05 2.9 .06-3.2 .05 4.9 .06 1.5 .05 14.5 .06-12.7 .05-1.1 .06-13.6 .05 10.3 .05 1.3 .06-8.8 .05-1.3 .06 13.2 .05-9.4 .06 11.6 .05-2.7 .06 16.6 .05-19.1 .06-7.1 .05 14.7 .06 9.4 .05-29.3 .05 7.3 .06 1.7 .05 4 .06-6.4 .05-3.9 .06 5.2 .05-2 .06-11.6 .05 16.8 .06-7.7 .05 9.7 .06 1.9 .05-2.9 .05-2.2 .06 15.7 .05-20.2 .06 2.5 .05 3 .06 1.6 .05-12.7 .06 3.9 .05 10.1 .06-11.8 .05 1.7 .06 5.7 .05-9.8 .05 13.2 .06-23 .05 22.1 .06 2.5 .05-11.4 .06-1.2 .05 13.3 .06-.7 .05-15.6 .06-.1 .05 4.5 .05 6.4 .06-6.1 .05 9.1 .06-13.6 .05 8.6 .06-2 .05 1.4 .06 6.4 .05-2.1 .06-12.9 .05 7.5 .06-2.9 .05 8 .05 5.1 .06-30.7 .05 13.5 .06 11.2 .05-1.1 .06-2.3 .05 6.5 .06-8 .05-.8 .06 22.3 .05-6.3 .06-14.7 .05 16.1 .05-9.2 .06 .8 .05-5 .06 4.7 .05-14.7 .06 4.6 .05 7.5 .06-12.1 .05 10.9 .06 4.1 .05-1.1 .06-6.1 .05 4.2 .05-9.7 .06 8.7 .05-15.6 .06 15 .05-18.6 .06 16.7 .05-12.1 .06 26.4 .05-26.4 .06 37.7 .05-11 .06-15.6 .05 14.6 .05-3.5 .06-12.6 .05 4.9 .06-5.1 .05 5.2 .06 1.6 .05-1.3 .06 7.4 .05-11.2 .06-1.9 .05-1.8 .06 16.6 .05-6.3 .05 2.1 .06-9 .05 4.3 .06-5.1 .05 5.1 .06 .9 .05-.4 .06 2.9 .05 10.9 .06-.3 .05-14 .06-6.7 .05 4.4 .05-.4 .06-9 .05 12 .06-1.8 .05-2.7 .06 2.5 .05-.2 .06 1.4 .05-2.7 .06 24 .05-31.4 .06 11.3 .05-.6 .05-4.2 .06 6.9 .05-10 .06 19.2 .05-20.2 .06 13.1 .05 3 .06 2.5 .05-7.5 .06-2.8 .05-6.1 .06-2 .05 10.4 .05-2.2 .06-4.4 .05 11.6 .06-2.8 .05-17.7 .06 7.6 .05-17.7 .06 29.7 .05-2 .06-5.2 .05-3.8 .06 16.5 .05-18 .05 20.4 .06-7.6 .05-13.3 .06 18.5 .05-15.5 .06 16.4 .05-12.8 .06-1.1 .05 4.8 .06 .8 .05-2.7 .06-.4 .05 9.4 .05 7.9 .06-21.2 .05 .7 .06 5 .05-1.8 .06-9.5 .05 19.2 .06-11.2 .05 2.4 .06-9.1 .05 13.2 .06-5 .05 4.7 .05-6.2 .06-3.7 .05 4.1 .06-3.5 .05 7.1 .06 3.8 .05-7.2 .06 8.6 .05-9.4 .06 .3 .05-3.5 .06 32 .05-25.5 .05 8.9 .06-.6 .05 3.1 .06-2.5 .05-11.5 .06 5.4 .05 8.8 .06-2.9 .05-11.8 .06-6.3 .05 4.9 .05 2.6 .06-.1 .05-3.7 .06-1.7 .05-5.8 .06 12.3 .05-.1 .06 18.6 .05-22.9 .06-2.2 .05 12.8 .06 3.5 .05-9.1 .05-.6 .06 2.3 .05-5.1 .06 26.2 .05-26.1 .06-16 .05 26.1 .06-16.6 .05 13.2 .06-6.9 .05 3 .06 11.4 .05 1.2 .05-3.5 .06 4.3 .05-10.9 .06-14.1 .05 30.2 .06-17.1 .05 12.5 .06-12.8 .05-1.2 .06 14.4 .05 7.3 .06-15.3 .05-8.8 .05 3.9 .06 10.4 .05-11.7 .06-2.4 .05 16.5 .06-6.9 .05-15.7 .06 15.9 .05-5.7 .06 5.3 .05-11.2 .06 9.2 .05-5.3 .05-4.8 .06 7.4 .05 7.1 .06-10.3 .05-.6 .06 2.3 .05 2.8 .06 6.4 .05-8.1 .06-6.1 .05 20.4 .06-12.1 .05 8.2 .05 10.5 .06-15 .05-3.9 .06 4.5 .05-11.6 .06-3.5 .05 9.4 .06-11.3 .05 3.2 .06 2.1 .05 8 .06 1.2 .05-16.5 .05 23.6 .06-31 .05 32.6 .06-3.9 .05-9 .06-8 .05 12.3 .06-6.6 .05 3 .06-.5 .05 1 .06 1.6 .05-2.7 .05-.7 .06 8.7 .05 2.3 .06-15.9 .05-11.1 .06-3.2 .05 16.3 .06 2.8 .05-2.6 .06-.4 .05 .8 .06-3.7 .05 9.7 .05 1.1 .06-9.9 .05 3 .06-7 .05 3 .06 11.4 .05 1.6 .06-8.3 .05-.9 .06-.6 .05-5.3 .06 4.4 .05 .5 .05-15.9 .06 11.8 .05 21.9 .06-.3 .05-8.1 .06 3.2 .05-17 .06-3.6 .05 9.9 .06-4.8 .05-9.2 .06 8.8 .05 11.6 .05 .7 .06-5.8 .05 3.6 .06-5.4 .05-.4 .06-11.7 .05-3.5 .06 6 .05 19.7 .06-16.5 .05 11.8 .06-30.3 .05 31.7 .05 3 .06-11 .05-6 .06 4.3 .05-.4 .06 1.2 .05-10.2 .06 8.6 .05-8.1 .06 15.9 .05-17.9 .06 17 .05-8.6 .05 8.4 .06-9.4 .05-1.9 .06 30.7 .05-24 .06 8.9 .05-9.9 .06-19.4 .05 22.4 .06-1.2 .05 8.1 .06-9.1 .05 10.2 .05-23 .06 16.5 .05-.9 .06-10.8 .05 4.6 .06 14.1 .05-8.4 .06-2.7 .05-1.8 .06-8.5 .05 1.8 .05 14.8 .06-14 .05 6.1 .06 15.3 .05-10.9 .06-20.9 .05 20.9 .06-16 .05 9.5 .06 17.8 .05-5.1 .06-13.3 .05 2.3 .05 2.3 .06 2.7 .05 3.5 .06-4.9 .05 3.3 .06 10.5 .05-8.9 .06-2.2 .05 4.8 .06-10.3 .05 6.4 .06-5.9 .05-.2 .05 5.7 .06-11 .05 12.1 .06-3.4 .05 .4 .06 2.6 .05-6.1 .06-1.6 .05 9.2 .06 6.4 .05-26.6 .06 24.5 .05 9.2 .05-35.7 .06 15.3 .05-1.3 .06 2.9 .05 12.4 .06-27 .05 8.5 .06-2.8 .05 4.7 .06 9.7 .05-17.2 .06 14.6 .05-.5 .05-.7 .06 .6 .05 5.8 .06-6.8 .05 4.3 .06-10.4 .05 3.3 .06-.3 .05 15.5 .06-16.4 .05-.2 .06 11.1 .05-8.3 .05-7.3 .06-2.1 .05 5.2 .06-.3 .05 3.3 .06 .1 .05-.5 .06 6.6 .05-1.9 .06-14.9 .05 16.6 .06-1 .05 12.7 .05-27.8 .06 24.2 .05-10.3 .06-.9 .05-11.1 .06 2.7 .05-3.4 .06 7.1 .05 9.2 .06-15.2 .05 16.8 .06-17.8 .05 10.6 .05 11.1 .06-3.8 .05-13.2 .06 6.5 .05 11.1 .06-20.1 .05 7.9 .06-3.5 .05-11.9 .06 25.8 .05-.6 .06-2.5 .05-11.4 .05 8.6 .06-15.5 .05 12.6 .06-7.5 .05 5.7 .06 9.5 .05-12.6 .06-11.6 .05 35.2 .06-11.4 .05-7.9 .06 .2 .05 10.3 .05-22.8 .06 28.9 .05-30.4 .06 25 .05 10.7 .06-22.7 .05 5.4 .06-2.5 .05 2.2 .06 2.2 .05 .3 .06-8.1 .05 9.3 .05-3.2 .06-3.7 .05 19.2 .06-26.3 .05-4.1 .06 9.6 .05 11.2 .06 2.2 .05-31.9 .06 3.9 .05 12.8 .06 18.4 .05-8.7 .05-2.5 .06-7 .05 6.9 .06 3.8 .05-8.5 .06 4.9 .05 5.2 .06 2 .05-6.8 .06-1.7 .05-13.1 .06 2.9 .05 12.4 .05-16 .06-6 .05 15.8 .06 6 .05-5.5 .06-3.8 .05 9.3 .06-12.8 .05 9.7 .06-4.4 .05 3.8 .05-11.3 .06 30.2 .05-12.9 .06 15.5 .05-20.9 .06 5.7 .05-1.9 .06-4.6 .05-8.6 .06 4 .05 5.7 .06-8.3 .05-2.6 .05 .8 .06 32.5 .05-33.2 .06 9.6 .05 4.9 .06-20.6 .05 9.1 .06-6.5 .05 13.1 .06-5.4 .05 12.8 .06-1.4 .05-13.2 .05-16.8 .06 20.8 .05-2.3 .06 12.2 .05 6.2 .06-13.4 .05-15.4 .06 16.6 .05-1.4 .06-1.8 .05-.8 .06 1.9 .05-8.2 .05 5.7 .06 8.8 .05-23.1 .06 22.9 .05-1.3 .06 2.7 .05-15.8 .06-3.7 .05 5.7 .06 7 .05-6.7 .06 1.3 .05 15.7 .05-29.3 .06 13.2 .05 2.8 .06-3 .05-1.7 .06 19.6 .05-18.2 .06 4.6 .05-9 .06 9.3 .05 2 .06 3.7 .05-10.6 .05 6.5 .06-2.8 .05-3 .06 16.7 .05-11.2 .06-5.6 .05 6.8 .06-8.9 .05 6.6 .06-10.1 .05 20.5 .06 6.4 .05-9.6 .05-3.5 .06-12.8 .05 12.8 .06-6.9 .05 3.2 .06-1.8 .05 32.3 .06-40.6 .05 6.2 .06 8.9 .05-10 .06 1.1 .05-3.4 .05 8.8 .06-10.8 .05 13.9 .06-5.6 .05 3.9 .06-9.3 .05 9.9 .06 .2 .05-16.7 .06 3 .05 1 .06 17.9 .05-11 .05-.7 .06 1.8 .05 3.7 .06-5.5 .05 7.6 .06-6.2 .05 1.5 .06 4.7 .05 2.9 .06-3.1 .05 6.1 .06-12 .05 13.8 .05-15.7 .06-.6 .05 21 .06-15.9 .05 3.9 .06-4.2 .05 3.5 .06-1.9 .05-3 .06 16.9 .05-25.5 .06 8.8 .05-.7 .05-2.2 .06 2.2 .05 16.9 .06-13.7 .05-.1 .06 .5 .05-3.1 .06 8.3 .05-1.9 .06-3.7 .05 10.6 .06-12 .05 1.7 .05-.9 .06-3.7 .05 4.3 .06 .4 .05 5.8 .06-6.4 .05-.9 .06-3.1 .05 1.6 .06 .7 .05-24.3 .06 38.5 .05-15.7 .05-2 .06 2.9 .05-13 .06 25.4 .05-8.6 .06 11.6 .05-5.9 .06-7.4 .05-2 .06 5.6 .05-5.4 .05-1 .06-5.1 .05 2.1 .06 7.4 .05 9 .06-8.2 .05-1 .06-4.9 .05 4.2 .06-3.4 .05 4.9 .06 4.6 .05-10.2 .05 4.4 .06 9.3 .05-10.9 .06 4 .05-2.7 .06 3.8 .05-8 .06 8.5 .05 13.6 .06-14.4 .05-13.2 .06-4.5 .05 8.2 .05 14.8 .06-15.1 .05 10.9 .06-10.9 .05-6.6 .06 18.3 .05-13.3 .06 11.4 .05-4.5 .06-.6 .05 1.2 .06 1.4 .05-5 .05 3.4 .06 7 .05-7.6 .06 6 .05-24.3 .06 18.2 .05 5.5 .06-7.8 .05 4.7 .06 .8 .05-4.5 .06 9.3 .05-5.3 .05-.2 .06-7.3 .05 7.9 .06-.1 .05-1.3 .06 4.4 .05-9.9 .06 8.1 .05-5.8 .06 10.8 .05-2.8 .06-5.9 .05 14.1 .05-6.7 .06 0 .05-9.6 .06 1.8 .05-5.2 .06 15.1 .05-4.1 .06-10.9 .05-3.6 .06 3.3 .05 7.4 .06 3.8 .05-15.4 .05 15.3 .06 .3 .05 2.3 .06-17 .05-3.8 .06 23.3 .05-16.9 .06 11.5 .05 3 .06-8 .05 1 .06-4.6 .05 15.3 .05-10.9 .06-8.8 .05 4.9 .06-4.2 .05-2.1 .06 13.1 .05 11.6 .06-15.7 .05 4.7 .06-10.5 .05 3.8 .06 10.9 .05-3 .05-9.1 .06 13.2 .05-16 .06 7.9 .05 3.3 .06 7.3 .05-13.5 .06 1.5 .05-7.1 .06 3.9 .05-3.9 .06 7.8 .05 16.6 .05-4.1 .06-12.2 .05 2.4 .06-7 .05 5.6 .06 5.9 .05 1.6 .06-12.1 .05 .4 .06-5.1 .05 8.8 .06-17.5 .05 21.9 .05-5.5 .06-6.7 .05 7.5 .06 6.1 .05-8.1 .06 1.2 .05 9.7 .06-4.1 .05-17.9 .06 8.1 .05 7.7 .06-.6 .05 1.4 .05 .5 .06-6.9 .05 1.2 .06 17.2 .05-16.9 .06 7.2 .05-1.1 .06 14.1 .05-11.7 .06-4.1 .05 7.6 .06-20.9 .05 6.4 .05 3.7 .06 2.3 .05-3.9 .06 3.8 .05 4.4 .06-9.8 .05 5.9 .06 4.4 .05-3.4 .06-1.4 .05 3.3 .06-.3 .05 2.9 .05-3.6 .06-2.1 .05-7.2 .06 1.8 .05 .8 .06 1.5 .05 11 .06 5.5 .05-21.4 .06-15 .05 10.9 .05 9.1 .06-12.4 .05 8.6 .06-7.3 .05 6.2 .06 13.8 .05-30.3 .06 17.1 .05 6.7 .06 .4 .05-8.4 .06 .3 .05 9.5 .05-2 .06-5.3 .05 5.1 .06-3.5 .05 5.5 .06-6.1 .05 6.4 .06 0 .05-13.7 .06 18.3 .05-.1 .06-14.5 .05-1.5 .05 11.1 .06-2.6 .05-1 .06 7 .05 2.9 .06-5.6 .05 .4 .06-14.9 .05 8 .06-1.6 .05 3.5 .06-3.9 .05-3.6 .05-5.7 .06 4.3 .05 7.2 .06 .2 .05 15.8 .06 .4 .05-14.6 .06-3.3 .05 2.4 .06 5.9 .05-26.1 .06 10.7 .05 10.1 .05 2.4 .06 3.3 .05-10.7 .06 3.2 .05 6.6 .06-21 .05 16.8 .06-3.3 .05 .1 .06 5.1 .05-5.3 .06 .1 .05 16.6 .05-14.9 .06 10.3 .05-21.4 .06 4 .05 12.1 .06-1.2 .05 5.9 .06 13.7 .05-16.1 .06-2.9 .05 2.8 .06-18.4 .05 14.8" fill="none" stroke="#000" stroke-width="0.8" stroke-linejoin="round" opacity="1.0"/>
<rect x="45.6" y="278.75" width="273.0" height="219.91000000000003" fill="none" stroke="#5a5a5a" stroke-width="1.15"/>
<line x1="45.6" y1="498.66" x2="45.6" y2="501.86" stroke="#5a5a5a" stroke-width="1.15"/>
<line x1="100.2" y1="498.66" x2="100.2" y2="501.86" stroke="#5a5a5a" stroke-width="1.15"/>
<line x1="154.8" y1="498.66" x2="154.8" y2="501.86" stroke="#5a5a5a" stroke-width="1.15"/>
<line x1="209.39999999999998" y1="498.66" x2="209.39999999999998" y2="501.86" stroke="#5a5a5a" stroke-width="1.15"/>
<line x1="264.0" y1="498.66" x2="264.0" y2="501.86" stroke="#5a5a5a" stroke-width="1.15"/>
<line x1="318.6" y1="498.66" x2="318.6" y2="501.86" stroke="#5a5a5a" stroke-width="1.15"/>
<line x1="42.4" y1="498.66" x2="45.6" y2="498.66" stroke="#5a5a5a" stroke-width="1.15"/>
<line x1="42.4" y1="443.6825" x2="45.6" y2="443.6825" stroke="#5a5a5a" stroke-width="1.15"/>
<line x1="42.4" y1="388.70500000000004" x2="45.6" y2="388.70500000000004" stroke="#5a5a5a" stroke-width="1.15"/>
<line x1="42.4" y1="333.7275" x2="45.6" y2="333.7275" stroke="#5a5a5a" stroke-width="1.15"/>
<line x1="42.4" y1="278.75" x2="45.6" y2="278.75" stroke="#5a5a5a" stroke-width="1.15"/>
<text transform="translate(45.60 517.60) scale(1.0 1.15)" text-anchor="middle" class="t">0</text>
<text transform="translate(100.20 517.60) scale(1.0 1.15)" text-anchor="middle" class="t">20</text>
<text transform="translate(154.80 517.60) scale(1.0 1.15)" text-anchor="middle" class="t">40</text>
<text transform="translate(209.40 517.60) scale(1.0 1.15)" text-anchor="middle" class="t">60</text>
<text transform="translate(264.00 517.60) scale(1.0 1.15)" text-anchor="middle" class="t">80</text>
<text transform="translate(318.60 517.60) scale(1.0 1.15)" text-anchor="middle" class="t">100</text>
<text transform="translate(38.00 502.96) scale(1.0 1.15)" text-anchor="end" class="t">240</text>
<text transform="translate(38.00 447.98) scale(1.0 1.15)" text-anchor="end" class="t">260</text>
<text transform="translate(38.00 393.01) scale(1.0 1.15)" text-anchor="end" class="t">280</text>
<text transform="translate(38.00 338.03) scale(1.0 1.15)" text-anchor="end" class="t">300</text>
<text transform="translate(38.00 283.05) scale(1.0 1.15)" text-anchor="end" class="t">320</text>
<line x1="212.3" y1="313.1" x2="232.0" y2="313.1" stroke="#ff3333" stroke-width="1.1"/>
<line x1="212.3" y1="327.2" x2="232.0" y2="327.2" stroke="#666" stroke-width="1.1"/>
<text transform="translate(236.60 317.50) scale(1.0 1.12)" class="lg" style="font-size:8.8px">Catalase</text>
<text transform="translate(236.60 331.50) scale(1.0 1.12)" class="lg" style="font-size:8.8px">Catalase + Alliin</text>
<text transform="translate(65.80 306.00) scale(1.0 1.17)" class="pl">C</text>
<text transform="translate(179.20 536.90) scale(0.955 1.1)" text-anchor="middle" class="ax">Time (ns)</text>
<text transform="translate(12.20 420.00) scale(1.03 1.13) rotate(-90)" class="ax">Area (nm<tspan dy="-4.4" style="font-size:9.5px">2</tspan><tspan dy="4.4">)</tspan></text>
<path d="M396.50 409.3l.06-.5 .05-3.4 .06 12 .05-11.1 .06 3.2 .06 6.8 .05-2.6 .06 1 .06-7.4 .05-5.1 .06 12.9 .05 7.3 .06-19.2 .06 14.1 .05-3.5 .06 .8 .06-9 .05 7.8 .06 4.8 .05-5.3 .06 2.8 .06 6.5 .05-11.3 .06 2.2 .06 1.7 .05 .7 .06 4.2 .05-14 .06 9.3 .06-2.8 .05 6 .06-4.1 .05-4.4 .06 6.6 .06-5.8 .05 2.2 .06 1.3 .06-1.9 .05-8.4 .06 16 .05-9.9 .06-6.7 .06 11 .05-11.6 .06 6.5 .06 2.3 .05 3.6 .06-3.8 .05 7.3 .06-10.8 .06 2.4 .05-3.9 .06-.7 .06 3.9 .05-7.5 .06 14.4 .05-6.1 .06 .5 .06 .1 .05 4.8 .06-1.7 .06-21 .05 19.1 .06-2 .05 4.1 .06-4.7 .06-.9 .05 3.5 .06-4.1 .05-2.3 .06-1.6 .06 8.9 .05-7.5 .06 3.8 .06-3.3 .05 .5 .06 4 .05 2.8 .06-1.7 .06-10.1 .05 13 .06 0 .06 6.3 .05-9.4 .06-2.7 .05-1 .06 1.8 .06 2.4 .05 5.5 .06-3.1 .06-1.5 .05-4.1 .06 7.9 .05 .6 .06-7.3 .06 4.9 .05-2.8 .06 .8 .05 2.2 .06-6.2 .06 2 .05-2.8 .06-.3 .06 8 .05-3.6 .06-6.5 .05 3.1 .06 3.3 .06 6.1 .05 9.3 .06-9.3 .06 .1 .05-4 .06-3.3 .05-2.1 .06-2.1 .06 3.3 .05 8.9 .06-2.1 .06-4.6 .05 1.6 .06 6.9 .05-5.3 .06-2.3 .06-3.7 .05 6.7 .06-6.5 .06 8.5 .05-23.2 .06 18.3 .05 6.3 .06-8.1 .06 .9 .05-5.7 .06 .9 .05 7 .06 6.3 .06-5.4 .05-10.2 .06-1 .06 5.6 .05 2.6 .06-4.4 .05-2.5 .06 14.1 .06-5.9 .05-3.5 .06-.4 .06 8.5 .05-4.5 .06-2.2 .05-1.6 .06 1.5 .06 2.9 .05 7 .06-8.6 .06 8.7 .05-13.2 .06 10.8 .05-7.2 .06-1.2 .06 1.3 .05 5.9 .06-12.6 .05 9.3 .06 2.6 .06-2.2 .05-.2 .06-.9 .06-2.7 .05 2.6 .06-.9 .05 0 .06-1.6 .06 3.4 .05 1.8 .06-10.4 .06 7.3 .05-3.4 .06-.8 .05 3.3 .06-6.1 .06 2.2 .05 .9 .06-2.6 .06 4.6 .05-3 .06 .5 .05 10.6 .06-15.1 .06 7.8 .05-.2 .06-.6 .05-2.3 .06 7.2 .06-.2 .05 7.6 .06-4.9 .06 3.8 .05-20.4 .06 13.3 .05-1 .06-9.7 .06 13.6 .05 2 .06-11 .06-1.9 .05 13.4 .06-10.9 .05-1.3 .06 2.8 .06 1 .05 .7 .06 .2 .06 1.1 .05 1.8 .06-4.6 .05-1.4 .06 .2 .06 2.3 .05 .9 .06-1.8 .06-2.6 .05 8.4 .06-5.8 .05 3.1 .06-5.5 .06 14.4 .05-13.9 .06 3.2 .05-6.2 .06 4.5 .06 4.1 .05-8.7 .06 6.2 .06 9 .05-1.5 .06-15.9 .05 9.5 .06-1.1 .06-5.1 .05 5.4 .06 2.3 .06-8 .05-.8 .06 9.3 .05-7.2 .06-1.2 .06 3.5 .05 3.8 .06-6.4 .06 3.1 .05-2.8 .06 9.4 .05-7.2 .06-4.9 .06 1.8 .05 5 .06 1.5 .05-6.3 .06 1.9 .06-.5 .05-6.1 .06 8.6 .06 5.8 .05-6 .06-3.3 .05 6.6 .06 10.3 .06-7.9 .05-5.7 .06 11.5 .06-12.2 .05-1.5 .06 4.2 .05 .9 .06-1.9 .06 4.7 .05-6.4 .06 1 .06-6.6 .05 5.6 .06 8.6 .05-2.8 .06-5.2 .06 3.8 .05 .1 .06-8.2 .06 5.8 .05 2.4 .06-7.3 .05 10.4 .06-6.2 .06 4.3 .05-5.1 .06 7.6 .05-1 .06-3.1 .06-3 .05 .4 .06 3.9 .06 .6 .05-7.4 .06 8.6 .05 3.7 .06-7.4 .06 5 .05-6.8 .06 5.1 .06-4.6 .05 4.9 .06-4.7 .05-2.2 .06 6.7 .06-4.9 .05 4.8 .06-3 .06 5.2 .05-1.5 .06-8.6 .05-2.4 .06 13.8 .06-9.8 .05-1.3 .06 1.4 .05-7.8 .06 9.4 .06 3.2 .05 .3 .06-5.8 .06-7.7 .05 9.1 .06-4.2 .05 6.8 .06-9 .06 13.6 .05-2.3 .06-8.8 .06 .8 .05 1.4 .06-2 .05 20 .06-16.2 .06-4.1 .05 10 .06-3.4 .06 2.2 .05 .6 .06-12.5 .05 4.8 .06 .6 .06 3.3 .05-.9 .06 3.7 .05-4.1 .06 2.1 .06-3.1 .05 2.3 .06 1.4 .06-10.1 .05 10.2 .06 0 .05-4.3 .06 12.1 .06-9.2 .05 6.9 .06-5.6 .06 3.1 .05-.8 .06 .3 .05-7.4 .06 5 .06-1 .05-.3 .06-.2 .06-4.8 .05 2.9 .06 3.6 .05 2.4 .06-1.2 .06-4.1 .05 7.4 .06-8.3 .06-.1 .05 2.3 .06-2.3 .05 1.2 .06 1.2 .06 2.5 .05 4.4 .06-2.1 .05-2.5 .06-5.6 .06 2.6 .05-1.1 .06 2.7 .06 6.1 .05-18.2 .06 3.6 .05 9 .06-4.8 .06 8.9 .05-13.6 .06 2.3 .06 12.4 .05-11.3 .06-.7 .05 5.5 .06-2.6 .06-1 .05-4 .06 6.8 .06 12 .05-13 .06 3.4 .05-5.8 .06-1.8 .06 1.5 .05 .2 .06 .8 .05 4.4 .06-13.4 .06 8.4 .05 0 .06-.5 .06 1 .05 3.3 .06-3.8 .05 1.5 .06-3 .06 8.8 .05-4.8 .06-7.3 .06-3.6 .05 21.5 .06-18 .05 10 .06 7.1 .06-9.9 .05 2.7 .06-6.8 .06 1.6 .05-2 .06 1.2 .05-7.1 .06 19 .06-11.4 .05 0 .06-5.2 .06 5.4 .05 4.2 .06-9.9 .05 3.4 .06 1.5 .06-7 .05 18.9 .06-9 .05-7 .06 10.6 .06-1.7 .05-2.5 .06-.5 .06-6.5 .05 .5 .06 1.2 .05 4.9 .06-2.6 .06 2.1 .05 2.5 .06-7.1 .06 8.6 .05-2.9 .06-2.9 .05 4.7 .06-4 .06 4.8 .05-3.9 .06 4 .06-11.3 .05 6.2 .06-.4 .05 7.6 .06-9.1 .06 2.8 .05 6.8 .06-21.1 .05 15.3 .06-.8 .06 5.6 .05 0 .06 4.3 .06-9.7 .05-6.7 .06 10.5 .05-5.1 .06 7.6 .06-8 .05-2.2 .06 5.5 .06-.9 .05-2.4 .06 1.1 .05-.7 .06-3 .06 8.1 .05-6.8 .06 2.9 .06-2.1 .05-5.8 .06 13.8 .05-4 .06 .1 .06-7.5 .05 11.2 .06-3.8 .06 4.8 .05-13.2 .06 5.2 .05 4 .06-.6 .06 8.6 .05-19.9 .06 10.8 .05-6.7 .06 1.3 .06 2.5 .05 2.6 .06-4 .06-3.2 .05 16.2 .06-7.6 .05-7 .06-2.6 .06 5.8 .05 2 .06 1.6 .06-5.4 .05 .7 .06-1.6 .05 12.2 .06-9.5 .06 5.2 .05 1.5 .06-7.5 .06 3.8 .05 .4 .06 5.6 .05-13.3 .06 9.9 .06-6.6 .05-2.6 .06 2.2 .05-8.7 .06 8.4 .06 3.1 .05-2.4 .06 3.4 .06 1.6 .05-3.9 .06 10 .05-14.1 .06 8 .06-.8 .05 .5 .06-5.7 .06 7 .05 .7 .06-6.8 .05-1.5 .06-.8 .06 4.6 .05 2.7 .06-.7 .06 4.7 .05-8.6 .06 2.9 .05-2.4 .06 5 .06-.7 .05 6.4 .06-3.1 .05-8.8 .06 8.4 .06-2.5 .05-2.7 .06 2.5 .06 2.3 .05-5.7 .06 1 .05-7.1 .06 9.8 .06 1.7 .05-12.2 .06 7.2 .06 5.3 .05-5.9 .06 8.8 .05 6.3 .06-14.1 .06-.6 .05 5.2 .06-4.2 .06 4 .05-4.9 .06-.1 .05-1.9 .06 .7 .06 6.2 .05-4.9 .06 4.2 .06-9.7 .05-5.3 .06 10.1 .05 .8 .06-2.9 .06 9 .05 4.4 .06-2.2 .05-4.8 .06 .6 .06-3.3 .05-11.7 .06 21.2 .06-3.9 .05-5.8 .06-2.9 .05 4.6 .06 .3 .06 0 .05-6.5 .06 4 .06 3.6 .05-10.8 .06 3.7 .05 2.3 .06 2.6 .06 .9 .05-2 .06-6.2 .06 4.7 .05 5.7 .06-3.9 .05-1.3 .06 1.8 .06-11.3 .05 7 .06-3.2 .05 10.9 .06-16.1 .06 8.5 .05-4.6 .06-2.4 .06 10.9 .05-.9 .06-3.7 .05 9.6 .06-3.1 .06 .8 .05-7.1 .06-.3 .06-3.4 .05 11.6 .06-2.5 .05 7.7 .06-14.3 .06 6.6 .05-8 .06 7.1 .06-2.1 .05-.4 .06-2.2 .05-1.7 .06-.8 .06 3.2 .05 5.7 .06-.3 .06 3.2 .05-4.3 .06-6.6 .05 6.7 .06 .8 .06-3.6 .05-5.2 .06 4.5 .05 6.9 .06 1.6 .06-5.4 .05-5.9 .06 12.2 .06-5.6 .05-8.6 .06 4.5 .05 20.8 .06-17.5 .06 .1 .05 2.8 .06-7.7 .06 8 .05-9.5 .06 5.8 .05-10.5 .06 14.9 .06 2.2 .05-5.1 .06-3.8 .06 3.1 .05 2.7 .06-2.8 .05 2.1 .06 .9 .06 11.9 .05-18.8 .06 .7 .05-3.9 .06 1.8 .06 2.7 .05 .4 .06 .5 .06-10.6 .05 8.1 .06 1.1 .05 5.9 .06-5.4 .06 2.6 .05-6.9 .06 13.7 .06-11.5 .05 4.8 .06-2.1 .05 5.3 .06-2.1 .06-11.2 .05 10.1 .06-.2 .06 5.5 .05-9.4 .06-.4 .05 7.9 .06-2.6 .06-10 .05 11.8 .06 2.1 .05-2.1 .06-7 .06 6.4 .05-3.3 .06-1 .06 1.4 .05-.4 .06-3 .05-2.6 .06 9.3 .06-16.8 .05 11.3 .06-5.3 .06 6 .05-1.9 .06 1.7 .05-1.6 .06-5.8 .06 5.6 .05 1.6 .06-2.7 .06-1.9 .05 3.5 .06-1.4 .05 1.4 .06-3.6 .06-2.5 .05 11.5 .06-4.9 .06 3.8 .05 2 .06-6.2 .05 2.7 .06-1.8 .06-4 .05 7.6 .06-8.6 .05 8.5 .06-1.2 .06-10.9 .05 7.1 .06-2.3 .06 5.1 .05 2.1 .06 1 .05-7.8 .06 4.1 .06-1.9 .05-.8 .06 5.7 .06-5.6 .05 1.5 .06 8.1 .05-6.6 .06-2.2 .06 4.1 .05 2.6 .06-6.8 .06 7.4 .05-7.1 .06-3.9 .05 .1 .06-5.4 .06 4.6 .05 6.6 .06 1.9 .05 1.6 .06-1.2 .06-.8 .05-1.3 .06 5.3 .06-.5 .05-2.8 .06-2.7 .05 2.5 .06 1.3 .06-.8 .05-6.3 .06 11.1 .06-20.8 .05 12.9 .06-4.1 .05 13.3 .06-6.6 .06-4.2 .05 5.4 .06 5.2 .06-9.5 .05-4.6 .06 2.6 .05 11.6 .06-7.4 .06 4.1 .05-4.6 .06 4.1 .06-1.4 .05-4.3 .06 8.2 .05-2.2 .06-3.1 .06-3 .05 6.3 .06-2.1 .05-2.6 .06 2.8 .06-3.6 .05 6.3 .06-1.3 .06-3.1 .05-5.3 .06 7.7 .05 10.2 .06-14.7 .06 2.6 .05-3.6 .06 2.1 .06-.2 .05 7.3 .06-9.2 .05 1.7 .06 3.4 .06-6.6 .05 4.2 .06-10.7 .06 14.3 .05-7.5 .06 2.9 .05-1.9 .06 5.5 .06 .1 .05 2.4 .06-6 .05 5.1 .06-7 .06 2.7 .05-1.2 .06 4.7 .06-4.7 .05-.2 .06 4.7 .05-4.6 .06-7.8 .06 20.9 .05-7.3 .06 7.4 .06-11.4 .05-.4 .06-.6 .05 3.2 .06-8.2 .06 .7 .05-8.1 .06 13.8 .06-.7 .05-2.1 .06 6.8 .05-7.5 .06-4 .06 6.3 .05-3.4 .06-2.3 .05 13.2 .06-9.5 .06 4.9 .05-4.8 .06-8.5 .06 3.4 .05 2.7 .06 5.1 .05-1 .06-8.1 .06 18.4 .05-4.3 .06-2 .06 .5 .05-2.1 .06-1.5 .05-.6 .06-6.9 .06-2.1 .05 9.5 .06-1.8 .06 3.2 .05-2.2 .06-4.7 .05 6.7 .06-1.4 .06-.9 .05-1.7 .06-3.1 .06 8 .05-1.8 .06-4.8 .05-2.2 .06 3.7 .06 6.5 .05-12.4 .06 7.9 .05 9.2 .06-2.6 .06-14.1 .05 4 .06-3.8 .06 7.3 .05-.2 .06-3.8 .05 1.6 .06-1.7 .06 3.6 .05-7.7 .06 13.3 .06-8 .05 .6 .06 4.5 .05-7.5 .06-1.9 .06 8.3 .05-1.5 .06 2 .06-3 .05 3.2 .06-3.1 .05 .4 .06 18.6 .06-17.4 .05 7.4 .06-6.9 .05-5 .06 10.9 .06 2.3 .05-4.9 .06-8.6 .06-.1 .05 6.1 .06-.6 .05-3.4 .06 4 .06 1.2 .05 0 .06 2 .06-3 .05-2.9 .06 5.3 .05-4.8 .06-8.5 .06 7.4 .05-3.5 .06 19.7 .06-14.6 .05 .7 .06 .9 .05 .9 .06 1.1 .06-2.6 .05-.1 .06-1.1 .06 1 .05-4.4 .06 7.1 .05-6.1 .06-.2 .06 4.2 .05-1.7 .06-.2 .05-1 .06 4.6 .06-6.9 .05 11.3 .06-5.2 .06 4 .05-2.7 .06 2.1 .05-7.3 .06 12.9 .06-18.7 .05 12.3 .06-3.1 .06-9.4 .05 5.1 .06-.7 .05 1 .06-.6 .06 8.5 .05-10.9 .06 5.3 .06-2.5 .05-.8 .06 12.4 .05-12.3 .06 3.5 .06-14.1 .05 8.7 .06 1 .05 .6 .06 1.7 .06 4.5 .05 .4 .06-6.4 .06-1.5 .05 1 .06 3.4 .05 1.8 .06-4 .06-4.9 .05 12.7 .06-10 .06-1.7 .05 11.8 .06-2.4 .05-3.8 .06-.4 .06 7.3 .05-6 .06-1.2 .06 3.9 .05 6.7 .06-15.9 .05 7.3 .06-.1 .06-5.2 .05 9 .06-10.9 .05 4.5 .06 10.6 .06-7.5 .05-7.1 .06 2.6 .06 .1 .05 3.7 .06 .2 .05-4.6 .06-.1 .06-1.3 .05 12.3 .06-12.6 .06 3.5 .05 5.9 .06-1.3 .05-4.6 .06 .3 .06-5 .05 5 .06 1.5 .06 3.3 .05-3.4 .06 .1 .05-.9 .06-.1 .06 1.2 .05-5.6 .06 1.9 .06-.3 .05 4.7 .06-7.2 .05 2.9 .06-7.5 .06 4.1 .05 5.5 .06-1.9 .05 2.5 .06-2.3 .06 1.8 .05 4 .06 .8 .06-11.1 .05-2.6 .06-.7 .05 8.5 .06 1.2 .06-.3 .05 2.1 .06 4 .06 1.8 .05-9.9 .06 9.2 .05-3.1 .06-4.9 .06-2.7 .05 4.1 .06-7 .06 2.1 .05 2.5 .06 3.2 .05 9 .06-4.9 .06-7.7 .05 4.9 .06-8.6 .05 8.7 .06-5.1 .06-7.1 .05 6 .06 8.3 .06-2.1 .05 1.6 .06-1.4 .05 .3 .06-.8 .06-9.5 .05 6.6 .06 1.6 .06 .4 .05 .9 .06 9.9 .05-22.2 .06 13.6 .06-8.5 .05 3.5 .06 6.4 .06-5 .05-2.5 .06 13.8 .05-7.6 .06 1.7 .06-1.5 .05 5.2 .06-9.5 .06 4.1 .05-7.7 .06 1.8 .05-16 .06 16.8 .06 1.4 .05-5.1 .06 5.7 .05 7.2 .06-12.3 .06-3 .05 4.6 .06 3.8 .06-3.5 .05-7 .06-5.1 .05 17.6 .06-7.9 .06 7.9 .05-1.9 .06 2.4 .06-10 .05 10.4 .06 3.2 .05-12.4 .06 .6 .06-5.8 .05 8.1 .06 2.8 .06 1 .05-1.6 .06-1.7 .05 9.6 .06-8.4 .06 3.5 .05-3.3 .06 2 .05 3.2 .06-.6 .06 .1 .05 1.9 .06-2.6 .06 4.8 .05-7.6 .06-3 .05 7.5 .06 2.7 .06-7.5 .05-8.6 .06 5.6 .06 3.6 .05 1.9 .06 .6 .05 4 .06-8.9 .06 4 .05 8.5 .06-3.4 .06-8.7 .05 2.6 .06 2.8 .05-2.3 .06 3.7 .06 .5 .05-5.1 .06-2.9 .05-7.1 .06 6.6 .06-3.1 .05 12.8 .06-8 .06 .4 .05 6.9 .06-18.1 .05 13.7 .06 .7 .06-4.9 .05 5.9 .06 .4 .06-3.7 .05-.6 .06 3.2 .05-7.8 .06 10.4 .06-7.6 .05-2.8 .06 14.2 .06 .9 .05-10.8 .06-.2 .05 4 .06 1.6 .06-6.5 .05 5.6 .06-6.5 .06-3.1 .05 15.3 .06-5.8 .05 .7 .06-.2 .06 4 .05 .4 .06-7.8 .05 9.2 .06 1.8 .06-8.6 .05 3.3 .06-1.9 .06 8 .05-6 .06 2.5 .05-1.2 .06-5.6 .06 0 .05-1.8 .06 2.8 .06 8.5 .05-10 .06-12.8 .05 12.2 .06-.7 .06 4 .05 8.1 .06-8.1 .06-4.3 .05 1.3 .06 4.4 .05-.7 .06-.2 .06-4.3 .05 6.5 .06-8.5 .05-11.2 .06 13.7 .06 .7 .05 .5 .06 3.9 .06-5.8 .05 8.2 .06-7.8 .05 4.7 .06-7.8 .06 7 .05-4.2 .06 6.1 .06-4.2 .05-.6 .06 .7 .05 6.2 .06-6.8 .06 .5 .05 5.6 .06 .4 .06-9.8 .05-1.8 .06 11.6 .05 .3 .06-8.2 .06 3.3 .05-.4 .06-3.1 .06-2 .05 .9 .06-1.5 .05 .4 .06 4 .06 1.3 .05-1.7 .06 2.8 .05-2.9 .06 4.3 .06-1 .05-3.1 .06-1.7 .06 4.1 .05 6.1 .06-4.4 .05-10.6 .06-3.1 .06 10.6 .05 5.1 .06-7.4 .06 1.8 .05-6.2 .06 .4 .05 5 .06 2.4 .06-1.9 .05 4.8 .06-4.7 .06 4.4 .05-7.1 .06 4.6 .05 1.2 .06 4.5 .06-10 .05 9.3 .06-20.5 .05 8.5 .06 10.3 .06-6.7 .05 9.3 .06-3.7 .06-19.6 .05 16.9 .06-6 .05 4.9 .06 4 .06-4.4 .05-2.7 .06 3 .06 2.8 .05 1.4 .06-4.6 .05 12.1 .06-15 .06 6.8 .05 .7 .06-4.4 .06-.6 .05 3 .06-1.3 .05 2.5 .06 6.1 .06-6.3 .05-6.9 .06 6.2 .05-2.1 .06-2.8 .06 2.8 .05 9.3 .06-12.2 .06 2.7 .05 6.5 .06-11.3 .05 6.8 .06-1.5 .06-1.2 .05-1.5 .06-2.5 .06-3.9 .05 6.5 .06 5.3 .05 0 .06 0 .06-2.7 .05 .5 .06 3.1 .06-.2 .05 5.1 .06-2.6 .05-7.1 .06 4 .06-.3 .05-4.5 .06 4.6 .06 4.2 .05-10.7 .06-1 .05 5.8 .06-.7 .06 6.4 .05 .9 .06-11.3 .05 12.3 .06-7.7 .06-.2 .05 4.2 .06-2.7 .06-2.6 .05 2.3 .06-4.1 .05 .1 .06 6.1 .06-1.6 .05 6 .06-6.7 .06-.3 .05 8 .06-8.7 .05-1.1 .06 7.2 .06-1.8 .05-3.9 .06 6.2 .06-18.2 .05 8.3 .06 8.7 .05-5 .06 11.1 .06-17.2 .05 7.7 .06-8.2 .05 12.1 .06-2.2 .06-1.4 .05-4.4 .06 7.3 .06-6.7 .05 5.6 .06-1.5 .05-9.9 .06 7.4 .06 .5 .05 8.8 .06-8.6 .06 2 .05-7.9 .06 5.5 .05-1.8 .06 2 .06 1.2 .05-5.4 .06 5.9 .06-2.4 .05-7.7 .06 11.4 .05-4.3 .06-5.3 .06 4.2 .05-7.7 .06 6.4 .06 3.6 .05 2.8 .06-1.6 .05-.4 .06-5.3 .06-3.1 .05 .3 .06 10.4 .05-3.1 .06 .6 .06-1.2 .05-13.2 .06 13.7 .06-5.1 .05 .3 .06 3.6 .05 3.5 .06-1.1 .06 3.6 .05-17.5 .06 12.9 .06-11.9 .05 12 .06 4.6 .05 2.5 .06-1.6 .06-12.3 .05 7 .06 .5 .06 4.3 .05-23.7 .06 22.5 .05-6.8 .06-3.2 .06 4.5 .05-9 .06 8.1 .05-2.1 .06 5 .06-2.4 .05-2.1 .06 1.6 .06 .4 .05-5.8 .06 12.4 .05-3.9 .06-2 .06-2.6 .05-1.6 .06 8.9 .06-8.7 .05 7.2 .06-5.6 .05 2.4 .06 7.6 .06-6.8 .05 2.6 .06 .6 .06 .5 .05-4.9 .06-.6 .05 5.8 .06-.8 .06-2 .05-1.8 .06-.4 .06-3.3 .05 3.4 .06-7.5 .05 6.8 .06 2.2 .06-1.5 .05 3.6 .06 5.2 .05-10.2 .06 1.6 .06 1 .05 .9 .06 2.1 .06-4.1 .05-.7 .06-4.6 .05 14.3 .06-8.2 .06 3.7 .05-10.4 .06 4.6 .06 1.4 .05 2.4 .06-4 .05 3.7 .06 5.1 .06-7.1 .05 5.9 .06 .7 .06-11.2 .05 14.6 .06-2.6 .05-8.9 .06 11.3 .06-8.9 .05-1.5 .06-7.6 .05 18.6 .06-2.7 .06-4.9 .05 8.2 .06-5.8 .06-8.9 .05 4.3 .06-5.4 .05 7.3 .06 3.8 .06-.5 .05-10 .06 2.2 .06 4.2 .05 4.1 .06-.8 .05-.4 .06-8.2 .06 12.3 .05-8.5 .06-5.5 .06 1.2 .05-1.2 .06 7.8 .05 .4 .06 .1 .06-4.5 .05 13.1 .06-9.8 .05-1.2 .06 3.8 .06 11.3 .05-16 .06-10.1 .06 2.7 .05 6.3 .06 2.6 .05 6.2 .06-8.8 .06-4.2 .05 8.8 .06-2.6 .06-2.5 .05 6 .06-12 .05 1.9 .06 5.1 .06-1.7 .05 18.4 .06-15.6 .06 4.3 .05-6.5 .06 3.6 .05 1.8 .06-3.8 .06 1.1 .05-6 .06 11 .06-1.3 .05-.6 .06-5.4 .05 5.4 .06-6.5 .06 4.2 .05-1.3 .06-9.1 .05 16.7 .06-6.9 .06-5.3 .05 5.9 .06 4.8 .06 5.1 .05-7.4 .06-4.9 .05 2.9 .06-2.6 .06-6.9 .05 8.7 .06-3.6 .06-3.2 .05 8.8 .06-11 .05 5.6 .06-2.7 .06 2.6 .05-3.3 .06-1.2 .06 1.7 .05 4.6 .06-1.4 .05 13.7 .06-8.3 .06-12 .05 8.9 .06 2.1 .05-8.2 .06 5.8 .06-5.8 .05 .7 .06 5.7 .06-5.2 .05-3.5 .06 12.6 .05-5.1 .06-1.9 .06 5.1 .05-3.9 .06-.2 .06-1.3 .05-.7 .06-4 .05 9.5 .06-2.6 .06-.8 .05-3.5 .06 1.2 .06 9 .05 .6 .06-5.2 .05-9.1 .06 10.3 .06-1.7 .05-5.3 .06 9 .06-7.7 .05 3.3 .06-1.9 .05-.4 .06-.7 .06-12.4 .05 20.1 .06-8.6 .05 0 .06 4.5 .06-4.5 .05 4.8 .06-2.8 .06-1.1 .05 6.6 .06-16.7 .05 13.4 .06 3.4 .06-1.4 .05-4.1 .06 4.4 .06 0 .05 4.4 .06-12 .05 10.3 .06-.3 .06-2.8 .05-.6 .06 6 .06-10.1 .05 7.7 .06-1.6 .05-3.7 .06 .8 .06 2.8 .05-5.5 .06 5 .05 7.4 .06-5 .06 11.9 .05-18.7 .06 .4 .06-2.5 .05-2.6 .06 5.9 .05 2.3 .06-1.8 .06-3.9 .05 10.9 .06-3.4 .06 7.7 .05-3.8 .06-3.6 .05-12.6 .06 18.2 .06-20.1 .05 12.1 .06 .8 .06-2.7 .05-1.4 .06 22.3 .05-18.7 .06-3.2 .06 5 .05 3.1 .06 14 .05-20.3 .06 3.5 .06 3.5 .05 3.3 .06 1.9 .06-7.1 .05-5 .06 1.2 .05 11.3 .06-15 .06 2.9 .05 1.7 .06 1.8 .06-1.5 .05 1.9 .06-4.2 .05 12.1 .06-13 .06-2.7 .05 1.7 .06 1.4 .06 4.2 .05 1.7 .06 3.7 .05-.1 .06-8.8 .06 4.6 .05-13.7 .06 16.6 .06-3.5 .05 2.4 .06-1.3 .05-6.6 .06 4.9 .06 3.3 .05-.6 .06-8.5 .05 9.1 .06 1.5 .06-7.2 .05 2.9 .06-3.1 .06 1.9 .05-1 .06-.7 .05 1.9 .06-2.2 .06 5.3 .05-6.7 .06 1.1 .06 6.2 .05-8.3 .06 8.3 .05-17.5 .06 11.7 .06-3.8 .05-5.3 .06 11.4 .06-6 .05 5.4 .06-4.7 .05 2.9 .06 4.8 .06-6.4 .05 3.5 .06-5.2 .05 .7 .06 3.7 .06 2.3 .05 6.8 .06-15.1 .06 4.9 .05 3.5 .06-7 .05 2.9 .06-7.8 .06 6.3 .05-.8 .06-.6 .06 6.4 .05-6.2 .06 5.4 .05-2.9 .06-10.2 .06 6.3 .05 1.7 .06 4.4 .06-1.8 .05 8.8 .06-4.5 .05-4.8 .06-3.8 .06 5.8 .05 1.5 .06-6.7 .06 8 .05-1.3 .06-7.3 .05-3.5 .06 6.9 .06 3.1 .05-10.9 .06 5.2 .05 2.5 .06 .8 .06-4.2 .05 6 .06-4.3 .06-5 .05 6.5 .06-6.4 .05 10.3 .06-4.9 .06 8.8 .05-2.5 .06 1.6 .06-3.4 .05-2.6 .06 .2 .05 1.6 .06-2.6 .06-1.4 .05 4.3 .06 1 .06-2.9 .05 3 .06-2.3 .05-1.7 .06 1.8 .06 2.8 .05-10.9 .06-2.9 .05 12 .06-2 .06-.3 .05-8.9 .06 1.6 .06-12.4 .05 10 .06 8.8 .05-2 .06 7.8 .06-6.3 .05 .3 .06 2 .06-4.6 .05-5.2 .06 8.6 .05-7.4 .06 20.5 .06-17.1 .05 9.7 .06-2.8 .06-4.7 .05 6.6 .06-13.5 .05 10 .06-9.9 .06-.3 .05 13.9 .06-6.4 .05 1.8 .06-3.2 .06 2.5 .05 2.4 .06-6.6 .06 9.2 .05-5.5 .06-11.4 .05 15.7 .06-1.3 .06 2 .05-1.2 .06-8.2 .06 7.4 .05-3.6 .06-.3 .05-2.5 .06 11.7 .06-14.4 .05 11.2 .06-3.5 .06 5.2 .05-5.2 .06-3.6 .05 0 .06 5 .06-1.8 .05 3.9 .06-3.9 .06 2.7 .05-1.6 .06 3.1 .05-9.2 .06 11.6 .06-5.2 .05-2.7 .06 5 .05-3.7 .06-3.2 .06-3 .05 1.5 .06-7.6 .06 6.1 .05 6.1 .06-2.6 .05-5.7 .06 19.4 .06-6.5 .05-8.6 .06 11.8 .06-9.1 .05 2.3 .06-1.1 .05 .7 .06-3.7 .06 10.3 .05-.1 .06-7.5 .06 1.8 .05-8.6 .06 7 .05 7 .06-10.3 .06 14 .05 2.2 .06-15.7 .05 18.6 .06-10.6 .06-9.2 .05 9.4 .06-5.1 .06 11.1 .05-6.1 .06-6.8 .05 1.7 .06 10.9 .06-8.8 .05-2.2 .06 1.2 .06 5.9 .05-8.5 .06 2.9 .05-.1 .06 4.3 .06 1.3 .05-3.3 .06-2.4 .06 6.3 .05-4 .06-4 .05 2.7 .06 8.5 .06-9.1 .05-3.9 .06 8.9 .06-4.2 .05-1.8 .06 3.7 .05 5.7 .06-15.3 .06 3.2 .05 9.3 .06-.7 .05-8.4 .06 2.6 .06 1.8 .05-.6 .06 1 .06 2.9 .05-9 .06-.4 .05 3.5 .06 5 .06-4.1 .05-.2 .06 4.3 .06-11.6 .05 3.3 .06 .2 .05 13.1 .06-3 .06-3.5 .05-8.1 .06 7 .06 4.7 .05-9.4 .06 2.4 .05 8.8 .06-11.9 .06 5.5 .05 1.5 .06-2.7 .05-.5 .06-4.3 .06-1.7 .05 13 .06-.8 .06-2.2 .05-2.9 .06-2.7 .05 6.2 .06-4.8 .06-1 .05 13 .06-10.5 .06 0 .05-12 .06 5.4 .05 8.3 .06-7.1 .06 6.9 .05-7.7 .06 4.6 .06 .4 .05-7.4 .06 6.2 .05-.2 .06-3.2 .06 1.4 .05 8.9 .06-10.2 .05 11.3 .06-8.6 .06 2.4 .05-.5 .06 .3 .06-4.6 .05-1 .06 7.5 .05-13.6 .06 11.2 .06 5.5 .05-10.6 .06 3.4 .06 1 .05-6.3 .06 9.9 .05-11.9 .06 4.9 .06 3.1 .05 1 .06-8.1 .06 6.4 .05 6.4 .06-9.9 .05 13.1 .06-2.7 .06-5.5 .05-1.6 .06-1.6 .06 6.6 .05-1.2 .06-2.5 .05 7.8 .06-14.3 .06-11.5 .05 16.2 .06-6.6 .05 10.7 .06-2.9 .06-4.1 .05 7.3 .06-1.2 .06-3.3 .05-1.7 .06-1.7 .05 4.7 .06 2.8 .06-8.6 .05-.5 .06 7.8 .06 0 .05-4.9 .06 9.7 .05-14.1 .06 6.5 .06 2.7 .05-.7 .06 2.4 .06-2.1 .05 3.3 .06-7.8 .05 5.6 .06-12.9 .06-.9 .05 18 .06-6.9 .05-1.4 .06 .9 .06-3.7 .05 6.4 .06-1.3 .06-.6 .05 2.2 .06-9.2 .05 2.4 .06 14 .06-11.5 .05-6.4 .06 13.9 .06-10.9 .05 9.5 .06-5.9 .05 7.8 .06-10 .06 5.1 .05-2.9 .06 10.9 .06 .9 .05-11 .06 7.4 .05-7.4 .06 1.8 .06 9.3 .05-3.9 .06-5.5 .06 6.4 .05-8.6 .06-2 .05 6.7 .06 5.6 .06-8.4 .05-2.7 .06 5.7 .05-11.5 .06 11.1 .06-7.1 .05 2.7 .06-2.9 .06 2.7 .05 .1 .06-.9 .05-1.7 .06 7.4 .06-6.6 .05 5.6 .06-6.5 .06 8.8 .05-4.9 .06-2.3 .05 13.4 .06-8.7 .06-.3 .05-6.5 .06 2.5 .06-1.1 .05 3.5 .06 5.7 .05-4.1 .06-3.7 .06 6.7 .05-10.1 .06 9.2 .05 0 .06-4.8 .06 4 .05-2.1 .06-10.5 .06 8.4 .05-1.9 .06 3.4 .05 .9 .06 2.7 .06-3.8 .05-2.3 .06 9.5 .06-17.5 .05 14.1 .06-10 .05 6.6 .06 13.2 .06-3 .05-4.9 .06-9.9 .06-4.1 .05 5.8 .06-2 .05 5.3 .06-.2 .06 5.4 .05-5.7 .06-4.1 .05 10 .06 2.9 .06-.1 .05-8.5 .06 5.3 .06-2.7 .05 5 .06 .8 .05-2.6 .06-9.6 .06 12.2 .05-4.1 .06-3 .06-1.6 .05-3 .06 9 .05-10.6 .06 10.8 .06-1.6 .05-8 .06 6.8 .06-11 .05 11.7 .06-7.8 .05 3.6 .06 3.9 .06 .9 .05-2.3 .06-2.7 .06 3.9 .05 1.5 .06-4.6 .05 2.5 .06 7.6 .06-2.8 .05-5.7 .06 2.9 .05-5.2 .06 4.7 .06-4.3 .05 11.7 .06-9.3 .06 .6 .05 6.8 .06-12.8 .05 9.8 .06-9.3 .06 .4 .05 4.7 .06 7.6 .06-6.6 .05-.4 .06-3.4 .05 2.6 .06-4.3 .06 4 .05 1.7 .06-3.6 .06-6 .05 10.6 .06-5 .05 5.6 .06-5 .06 3.8 .05 5.5 .06-7.2 .05-2.3 .06-2.3 .06 3.2 .05-3.9 .06-3.8 .06 2.8 .05-1.6 .06 10.7 .05-10.2 .06-2.2 .06 1.3 .05 9.7 .06-5.5 .06-.8 .05-9 .06 15.9 .05-7.5 .06-2.5 .06 8.7 .05-6.8 .06 3.3 .06-5.4 .05-.4 .06 10 .05-8.4 .06 6.2 .06-5.4 .05 0 .06 8.3 .06-5.8 .05-1.8 .06 1.9 .05 4.3 .06-4.3 .06-4.9 .05 .2 .06 1 .05 2.3 .06 1.5 .06-7 .05-.6 .06 6.9 .06-4.8 .05 .9 .06 .9 .05-1.5 .06 6.2 .06 3.8 .05-6.1 .06-2.2 .06 5.4 .05 4 .06-3.1 .05-5 .06 3.7 .06 1.4 .05 1 .06 1.8 .06-.4 .05 .5 .06-1.6 .05 5.7 .06-1.6 .06-11.6 .05 3 .06-3.8 .05-1.4 .06 9.5 .06-8.8 .05 3.8 .06 .3 .06 2.2 .05-.8 .06 1.4 .05 2.7 .06-.5 .06 1.2 .05-.8 .06-5 .06 .7 .05 4.1 .06 5.5 .05-12.1 .06 4.4 .06 3.3 .05-2.1 .06 2 .06-4.8 .05 7.1 .06-4.9 .05 12 .06-11.5 .06-8.2 .05 6.6 .06-1.4 .05 5.1 .06 5.7 .06 1.9 .05-15.8 .06 9.9 .06-7.3 .05-2.9 .06 11.1 .05-3.4 .06-1 .06-4.2 .05 9.3 .06 11.4 .06-16.6 .05-3.3 .06 10.3 .05 .5 .06-7.8 .06-1 .05 7.6 .06-3.9 .06-6.8 .05-3.9 .06 8.2 .05 .1 .06 3.4 .06-4.1 .05 1.1 .06-1.4 .06 2 .05 2.9 .06-22.1 .05 22.5 .06-8.9 .06 .2 .05 2.7 .06 6.4 .05-11.3 .06-2.5 .06 4.3 .05 .5 .06 6.2 .06 3.4 .05-11.5 .06-6.3 .05 10.4 .06 12.6 .06-14.2 .05 2.4 .06-3.5 .06 5.4 .05-6.3 .06 9.4 .05-3.8 .06-8.1 .06-2.1 .05 3.5 .06 .7 .06 4.9 .05 7.6 .06-13.5 .05 5.6 .06-6.8 .06 8.8 .05-.9 .06 2.6 .05 2.6 .06-3.9 .06-5.4 .05 5.6 .06-2.4 .06 9.4 .05-13.2 .06 5.1 .05-8.1 .06-10.2 .06 19.4 .05 4.6 .06-3.4 .06-4.3 .05-3.4 .06 2.2 .05-2.9 .06 1.9 .06 3.8 .05 4.5 .06 .4 .06-11.9 .05 8 .06 5.8 .05-7.6 .06 15 .06-9.9 .05-7.9 .06 9.7 .06-4.7 .05-7.8 .06 4 .05 8.7 .06-3.7 .06-2.3 .05 7.6 .06 1.5 .05-15.2 .06 10.6 .06-5.2 .05 0 .06 5.3 .06-18.6 .05 19.1 .06-2.4 .05-3.5 .06 10.1 .06-7.5 .05-2.3 .06-3.6 .06 6.5 .05-2.4 .06 .7 .05-3.8 .06 6.7 .06-11.4 .05 6.4 .06 .1 .06-3.4 .05 .5 .06-2.6 .05 .6 .06 6.7 .06-3.5 .05 9 .06-3.7 .05-3.4 .06 8.6 .06-11.6 .05 1.9 .06 3.2 .06 2.3 .05-15.9 .06 6.8 .05-3.3 .06 5.9 .06 .8 .05-7.5 .06 5.9 .06 5.7 .05-3.9 .06 3 .05-14.4 .06 6.4 .06 5.4 .05-.1 .06 6.5 .06 3.3 .05-11.2 .06 14.4 .05-13 .06 6.3 .06-6.2 .05 .3 .06-1 .06-7.9 .05 6.9 .06-.4 .05 3.1 .06-2.3 .06 .4 .05 10.3 .06-4.6 .05-2.6 .06-13.3 .06 9.9 .05 3.6 .06-4.8 .06 7.5 .05-7.8 .06 7.1 .05-2.7 .06-7.5 .06 1.2 .05 5.5 .06-4.3 .06 1.8 .05-4.7 .06-.3 .05 6.4 .06 .8 .06 5.3 .05 1.8 .06-5.8 .06-4.8 .05 3.4 .06-4.5 .05 6.5 .06-11.4 .06 3.1 .05 1.2 .06-2.9 .05 9 .06-2.5 .06-1.1 .05-3.2 .06 2.1 .06 9.9 .05 .9 .06-15.7 .05 14.5 .06-6.4 .06 .2 .05-2 .06-3.6 .06 6 .05 5.1 .06-2.9 .05-7.8 .06 7.5 .06-8 .05 6.6 .06-15.4 .06 11.9 .05 3 .06 1.3 .05-10.1 .06 4.2 .06-7.5 .05 6.4 .06 10.6 .05-12.9 .06 13.7 .06-.3 .05-7.8 .06 1.1 .06 3.7 .05 2.6 .06-11.8 .05 2.4 .06 2.6 .06-2.8 .05-11.8 .06 9.8 .06 9.2 .05-4.6 .06 1.7 .05-6.6 .06 1.8 .06 14.9 .05-17.3 .06 8.6 .06-4.8 .05 1 .06-2.2 .05 3.7 .06 3.2 .06-2.7 .05-2.9 .06 9.9 .06-19.9 .05 16.8 .06 2 .05-11.6 .06 6.6 .06-4.5 .05 1.9 .06 10.3 .05-10.9 .06-2.1 .06 1.2 .05-5.7 .06 2.6 .06 3.9 .05-10.4 .06 15.6 .05-7.9 .06 2.8 .06-9.7 .05 4.9 .06 .7 .06 7.2 .05-9.4 .06 10.3 .05-3.2 .06-.7 .06-3 .05 1.9 .06 4.9 .06-1.5 .05-7.3 .06 4.6 .05 2.2 .06 2.4 .06-2.2 .05 4.1 .06-13.4 .05 6.6 .06 3 .06-2.1 .05 3.6 .06 .5 .06-9 .05 14.1 .06-16.2 .05 7.9 .06 3.7 .06-8.9 .05 5.9 .06-3.5 .06 19 .05-21.2 .06 2.2 .05 1.9 .06-5.1 .06 5.8 .05-1.4 .06 2.2 .06-5.9 .05 4 .06-2.1 .05-8.5 .06 3.9 .06 4.1 .05-1.1 .06-5.9 .06 10.6 .05 2.7 .06-3.9 .05 2.1 .06-17.5 .06 14.1 .05-1 .06 2.5 .05-9.7 .06 15.7 .06-7.9 .05-.9 .06 4.8 .06-7.4 .05 12.8 .06-9.4 .05-2 .06 3.9 .06-8.7 .05 19 .06-11.1 .06-5.7 .05-3.6 .06 11 .05-3.3 .06-.2 .06-.2 .05-4.8 .06 15.1 .06-4.5 .05-7.3 .06 8.4 .05-12.8 .06 3.2 .06-.1 .05 4.1 .06-.7 .05-3.8 .06 .6 .06 3.2 .05-5.7 .06 1.8 .06-3.9 .05 10.1 .06 2.3 .05-7.8 .06-4.1 .06 6.1 .05 5.1 .06-5.8 .06-6 .05 6.3 .06-.5 .05 3 .06 1.6 .06-1.7 .05-.2 .06-4.2 .06-1.7 .05 11.5 .06-9.4 .05-2.1 .06 12.4 .06-4.5 .05 7.4 .06-10.1 .05 4.7 .06 3.1 .06-11.1 .05 4.9 .06 6.1 .06-3.5 .05-7 .06 2.1 .05 1.3 .06 2.4 .06-7.5 .05 12.4 .06-3.4 .06-3.2 .05 6.5 .06-3.1 .05-13.4 .06 5.1 .06 7.6 .05-6.8 .06 7.9 .06-10.4 .05 10.3 .06 .5 .05 .9 .06-5.3 .06 .7 .05 2.4 .06-5.4 .06 6.1 .05-8.4 .06 8.1 .05-.4 .06 .8 .06-5.8 .05 7.3 .06-6.1 .05-4.3 .06 4.2 .06 3.2 .05-.8 .06 4.2 .06-3.1 .05-.6 .06-3.4 .05 1.5 .06-.6 .06 3.7 .05-7.8 .06 3.6 .06 1.9 .05 3 .06-3.7 .05 5.8 .06-10.2 .06 3.7 .05 1.8 .06-1 .06 1.2 .05 2.8 .06-2.1 .05 4.3 .06-2.7 .06 .3 .05-4.3 .06-5.8 .05 17.2 .06-11.4 .06-10.1 .05 .2 .06 11.3 .06 5.9 .05-9.6 .06 4.1 .05-4.6 .06-2.3 .06 .5 .05-4.7 .06 2.6 .06 10.2 .05-7.1 .06 13 .05-22.7 .06 10.9 .06 3.2 .05-2.1 .06 2.8 .06 7.8 .05-2 .06-5.4 .05 5.1 .06-7.9 .06-1 .05 8 .06-7.8 .06-6.5 .05 7.2 .06-2.2 .05 8.5 .06-5.5 .06-3 .05 2.1 .06-1.5 .05-.7 .06-2 .06 11.4 .05-5.3 .06 4.8 .06-5.1 .05-7.7 .06 4.1 .05 2.4 .06 5.3 .06-3.9 .05-7.9 .06 7.3 .06-8.4 .05 6 .06 16.2 .05-11.6 .06-5.9 .06 5.6 .05-7.8 .06 7.4 .06-9 .05 22.5 .06-12.8 .05-3.8 .06-6.1 .06 4.5 .05 4.1 .06-10.5 .05 14.4 .06 .7 .06-5.3 .05-5.6 .06 3.7 .06-4.1 .05 11.1 .06-2.9 .05-1.8 .06-3.7 .06-4.8 .05 3.1 .06 1.9 .06 2.1 .05-4 .06 3.1 .05-6 .06-.3 .06 6 .05 6.8 .06-6 .06-6.1 .05 4.8 .06 2 .05 2.8 .06-9.6 .06 7.2 .05-3.6 .06 .8 .05 .1 .06 3.2 .06 5.2 .05-10.5 .06 8.2 .06-6.7 .05 2.9 .06 5.8 .05-5.9 .06 6.9 .06-11.3 .05 14 .06-9.2 .06-.5 .05 4.6 .06-4.5 .05-2.2 .06 2.1 .06-2.8 .05 3.3 .06-1.3 .06 4 .05-1.1 .06-5.7 .05 3.3 .06 4.6 .06-1.9 .05 2.3 .06-2 .06 .5 .05-4.2 .06 8 .05-.1 .06-6 .06-2.5 .05 5.7 .06-8.8 .05 2.8 .06 10.7 .06-11.5 .05 11.1 .06-13 .06 5.4 .05 4.7 .06-2.2 .05 .2 .06-3.5 .06-4.8 .05 1.6 .06 .4 .06 5.4 .05 .7 .06-1.3 .05-4.4 .06-2.8 .06 10 .05-9.2 .06 3.9 .06-3.3 .05 7.8 .06-3.2 .05-6.2 .06 10.3 .06 5.8 .05-.5 .06-11.1 .05 4.6 .06-5.2 .06 5.8 .05-7.6 .06-3.5 .06 3 .05 4.6 .06-2.5 .05-3.8 .06 2.7 .06 3.6 .05 4.9 .06-8.2 .06 6.2 .05 1.2 .06 .9 .05-4.6 .06-1 .06 .3 .05 6.1 .06-.5 .06-3.3 .05 2.4 .06-.1 .05-5.2 .06-6.5 .06 5.2 .05 6.9 .06-2.7 .06 2 .05-4.5 .06 7.3 .05-9.6 .06 .8 .06 0 .05 9.8 .06 3.5 .05-10.4 .06 .1 .06 9.6 .05-9.4 .06 .5 .06-3.5 .05-.4 .06 1.7 .05 1.5 .06 2.1 .06-2.7 .05 1.6 .06 7.2 .06-8.9 .05-3.1 .06 7.4 .05-6.4 .06 .3 .06 13 .05-15.1 .06 7.4 .06-12.9 .05 7.5 .06 7.5 .05-7.5 .06 18.7 .06-17.2 .05 1.2 .06 1.9 .05-14.7 .06 9.7 .06 .5 .05 1.2 .06 5.6 .06-9.3 .05 6 .06-2.3 .05-.6 .06 1.7 .06-2.6 .05-2.7 .06 12.2 .06-2.3 .05-.8 .06 2.4 .05-.6 .06-3.2 .06 1.5 .05-9.4 .06 8.7 .06-5.2 .05 .7 .06-3.3 .05 6.3 .06-6.4 .06 6.4 .05-8.1 .06 5.8 .05 5.7 .06-.2 .06-9.8 .05 4.2 .06 6.7 .06-2.1 .05 2.3 .06-9.8 .05 4.8 .06-14.6 .06 6.8 .05 6.5 .06-2.2 .06 7.1 .05-1.4 .06-12 .05 5.1 .06 9.3 .06-3.5 .05-2.5 .06-2.5 .06 6.7 .05-.9 .06-3.5 .05 3.3 .06-3.2 .06 6.8 .05-14.9 .06 5.3 .06 5 .05 2.5 .06-3 .05-1.9 .06-2.5 .06 1.7 .05 1.5 .06 5 .05-12.7 .06 2.9 .06 2.4 .05-4.1 .06 .3 .06 8.8 .05 0 .06-1.8 .05-4.2 .06 22 .06-15.9 .05 2.3 .06-6.2 .06 3.8 .05-7.7 .06 16.3 .05 .2 .06-18.7 .06 7.9 .05 1.6 .06-2.9 .06 3.7 .05 1.4 .06 .8 .05 2.1 .06-8.5 .06 4.6 .05-5.5 .06 5.4 .05 .7 .06-10.2 .06 10.8 .05-.6 .06-7.7 .06 6.4 .05-14.4 .06 13.8 .05-5.9 .06 2.3 .06-.8 .05 2.2 .06 3.3 .06-5.5 .05 2.1 .06-3.8 .05 9.5 .06-6.1 .06 4.3 .05 .4 .06-1.6 .06-.9 .05-2.3 .06 14.7 .05-9.7 .06-5.3 .06-12 .05 14.8 .06 7.3 .06-7.9 .05 .1 .06-5.2 .05 .6 .06 11.8 .06-3.7 .05-.7 .06-7.2 .05 10.7 .06-6.4 .06-5.6 .05 4.3 .06 7.8 .06 1 .05-1.3 .06-3.1 .05-6.6 .06-3.5 .06 8.1 .05 3.8 .06-7.4 .06 6.9 .05-5.8 .06 7.2 .05-8.4 .06 1.2 .06-4.5 .05-7.7 .06 12.8 .06-2.9 .05 7.7 .06-1.2 .05-7.3 .06 11.4 .06-8.3 .05 5.4 .06 1.4 .05-2.5 .06-5.4 .06 1.8 .05 9.3 .06-11 .06 2.8 .05-1.9 .06 10.3 .05-6.9 .06-13.5 .06 6.6 .05 2.9 .06 6.6 .06-6.4 .05-2.8 .06 .6 .05 7.1 .06-2.6 .06 4 .05-7.8 .06 1.4 .06-.8 .05 6.3 .06 2.1 .05-17.1 .06 13.6 .06-5.2 .05-5.1 .06 2.8 .05 2.4 .06 1.6 .06-5 .05 13.4 .06-3.3 .06-1.4 .05 1.7 .06-11.8 .05 10.9 .06-2.3 .06-2.7 .05-3.5 .06 2.6 .06-1.7 .05-1.1 .06 4.4 .05 9.5 .06-8.1 .06-3.5 .05-1.1 .06 4.1 .06 3.9 .05-.3 .06-4.8 .05 2.3 .06-2 .06-3.4 .05 2.1 .06 2.3 .06-7.9 .05 2.7 .06 .8 .05 5.4 .06-6.1 .06 2.2 .05-2.1 .06 9.4 .05-6.1 .06 2.9 .06-2.6 .05 1.4 .06-3.9 .06-6 .05 9 .06 1.4 .05-.2 .06-2.2 .06 4.5 .05 1.5 .06-9.6 .06 3.8 .05 5.7 .06-5.8 .05 7.1 .06 7.2 .06-26.3 .05 7.7 .06 5.2 .06-14.7 .05 7.3 .06 8.1 .05 2.6 .06 2.8 .06-6.6 .05-4.9 .06-.4 .05 10.3 .06 2.6 .06-5.1 .05-8.5 .06 17.9 .06-6.4 .05-10.8 .06 12.9 .05-10.1 .06 10.3 .06 3.7 .05-10.6 .06 2.5 .06-9.2 .05 9.6 .06-11 .05 10.2 .06 7.4 .06 .4 .05-11 .06 1.9 .06 19.3 .05-19.7 .06-2.2 .05 4.3 .06 .5 .06-4.7 .05-2.4 .06 13.4 .06-14.7 .05 2 .06 6.7 .05 9.2 .06-10.5 .06 2.4 .05 1.7 .06-9.4 .05 9.5 .06 .3 .06-7.7 .05-4.4 .06 3.1 .06 3.4 .05 1.6 .06 0 .05 4.2 .06-15.5 .06 8.5 .05 .8 .06-.5 .06-2.3 .05-2.7 .06 6.3 .05-.6 .06-5.3 .06 15.1 .05-13.6 .06 13.5 .06-17.4 .05 12.2 .06 1.6 .05-5.5 .06-6.5 .06 8.5 .05-10 .06-.8 .05-3.2 .06 20 .06-17.6 .05 7.2 .06-1.1 .06-7.5 .05 11.6 .06-2 .05 5.6 .06-4.7 .06-1 .05-6.8 .06 9.9 .06-6.9 .05 2.4 .06-3 .05 .7 .06-1.8 .06 7.5 .05-21.9 .06 21.5 .06-7.2 .05-5.8 .06 15.7 .05 3 .06-6.4 .06-9.6 .05-1.1 .06 3.2 .05 21.5 .06-10.7 .06-8.3 .05 1.8 .06 3.9 .06 8.2 .05-21.8 .06 12.1 .05 5.9 .06-8.5 .06-5.7 .05 1.1 .06-5.1 .06 16.6 .05-5.6 .06 2.6 .05-12.3 .06 7.8 .06-1.9 .05-2.9 .06 2.7 .06 6.4 .05-.1 .06-12 .05 9.7 .06-3.4 .06-3.7 .05 8 .06 1 .06-4.2 .05 2 .06-3 .05 3.8 .06-5.7 .06-2.6 .05 10 .06-6 .05 7.3 .06-4.9 .06 6.9 .05-4.6 .06-3.9 .06 1.3 .05 6.1 .06-4.7 .05 .8 .06-2.3 .06-4 .05 5.1 .06-4.1 .06 7.8 .05-.2 .06 4.1 .05-6.5 .06-10.1 .06 14.6 .05-9.9 .06-2.7 .06 18.6 .05-7.3 .06-1.6 .05 .2 .06-2.8 .06-6.5 .05 5.5 .06 9.2 .05-6.3 .06-4 .06-1.1 .05 12.2 .06-3.2 .06-2 .05-3.8 .06-.4 .05-4.9 .06 6.1 .06-2.7 .05 1.7 .06-1.8 .06-1.5 .05 9 .06-5.7 .05-2.9 .06 4.4 .06 5.4 .05-9.9 .06 4.5 .06 4.9 .05-9.1 .06-6 .05 12.3 .06-12.2 .06 9.4 .05-8.2 .06 13.1 .06-5.9 .05 5.2 .06-14.4 .05 11.7 .06-7.2 .06 4 .05-1.4 .06 2.2 .05-.6 .06 1.1 .06-9.5 .05 8 .06-9.8 .06 15.2 .05 1.2 .06-8.3 .05 2.2 .06-4 .06 2.6 .05 .1 .06 11 .06-5.9 .05 5.5 .06-6.3 .05 .8 .06-6.7 .06 4.2 .05 6.1 .06-7.1 .06 4.8 .05 1.8 .06-6.1 .05-9.5 .06 3.7 .06 2.2 .05 1.5 .06-4.1 .05 7 .06-2.3 .06 .6 .05 3.3 .06-.3 .06-1.1 .05-14.4 .06 15.4 .05-5.1 .06 10.7 .06-10.7 .05-1.9 .06-5.7 .06 8.3 .05 2.2 .06 15.9 .05-17.2 .06-4.3 .06 1.6 .05 7.7 .06-3 .06 0 .05 5.7 .06-2.3 .05-7.8 .06 4.3 .06 9.7 .05-6.3 .06-3.8 .06 7.5 .05-4.2 .06 5.9 .05-8.4 .06-8.7 .06 8.4 .05-3.4 .06 13.8 .05-2.4 .06-7.2 .06 0 .05 19.3 .06-16.4 .06-.3 .05 1 .06-3.5 .05 6.5 .06-7.4 .06 3 .05-1.4 .06 1.3 .06 .2 .05-4.5 .06 14.7 .05-15.8 .06-1.7 .06 5 .05 .5 .06-2.8 .06 1.6 .05-1.7 .06 1.4 .05 6.2 .06-6.7 .06 .6 .05 5.6 .06-14.6 .05 7.9 .06 .4 .06 14.9 .05-15.3 .06-1.5 .06 4.5 .05-5 .06 7.4 .05 0 .06 8.1 .06-12.1 .05-2.8 .06 11.5 .06-8.9 .05-1.6 .06 1.9 .05 2.6 .06-6.6 .06 6.3 .05-.7 .06 4.3 .06-8.2 .05-7.1 .06 6 .05 3.1 .06-12.4 .06 12.9 .05-2.3 .06-4.6 .05 8.7 .06 1.3 .06-.3 .05-15.3 .06 11.3 .06-3.8 .05 6.8 .06-1.1 .05 2 .06-6.2 .06 1.5 .05 8.1 .06-10 .06 2.6 .05 2 .06 1.2 .05 2.7 .06-2.3 .06 5.1 .05-12.4 .06 7.1 .06 .4 .05 .6 .06-8.5 .05 4.9 .06-9.6 .06 8.7 .05 5 .06-4.6 .06 2.1 .05 9 .06-14.5 .05 10.5 .06-5.4 .06-4.9 .05 4.6 .06 6.1 .05-5.4 .06 1.5 .06 2.4 .05-9.7 .06 15.7 .06-8.5 .05-3.1 .06 17.4 .05-14.1 .06-1.8 .06 5.2 .05-11.9 .06 7.6 .06-3.8 .05 .6 .06-2.4 .05 .1 .06 6 .06-1 .05 .5 .06-.1 .06 2.7 .05-1 .06 3.9 .05 .9 .06-5.5 .06 6.4 .05-4.6 .06 1.4 .05-7.6 .06-.9 .06 1.6 .05-.8 .06 1.8 .06 7.3 .05-3.4 .06-3.9 .05-1.7 .06 3 .06 2.5 .05-4.6 .06 9.7 .06-21.4 .05 6.9 .06 10.5 .05-4.4 .06 13.1 .06-4.6 .05-3.3 .06 2.5 .06-4.2 .05-.3 .06-.1 .05-8.1 .06 .1 .06 6.1 .05 7.9 .06-7.9 .06 2.1 .05-.1 .06-8.3 .05 4.8 .06 9.9 .06-10.4 .05 6.5 .06-6.2 .05 2.3 .06 1.1 .06 3.6 .05-10.9 .06 5.6 .06 4.6 .05-2.5 .06 1.3 .05-7.9 .06 4.7 .06-2.4 .05 2.4 .06-3.1 .06 2.3 .05-1.1 .06-.6 .05-2.9 .06 .9 .06 7.6 .05-6.4 .06 .3 .06 5.2 .05-.1 .06 3.3 .05-10.6 .06 7.9 .06 .5 .05-.3 .06-10.3 .05 3.9 .06 1.7 .06-3.4 .05 6.9 .06-4.8 .06 3.2 .05-3.3 .06 .1 .05 2.6 .06-6.6 .06 7.2 .05-10.8 .06 11.8 .06 4.1 .05 4.9 .06-14.9 .05-2.5 .06 14.5 .06-2 .05-2.9 .06-3.3 .06-6.3 .05-5.6 .06 20.2 .05-1.9 .06-.8 .06-5.4 .05-.4 .06 3.4 .05 6.2 .06-9.1 .06-3.6 .05 2.3 .06 10.3 .06-10.8 .05 3.3 .06 3.9 .05-2.2 .06-2.1 .06 1.2 .05-.8 .06-1.1 .06-.8 .05 .6 .06 0 .05 3.4 .06-7.9 .06 7.3 .05-3.6 .06-1.2 .06 7 .05-4.4 .06-7.2 .05 7.3 .06-16.6 .06 5.6 .05 .2 .06 5.9 .06-4 .05 4 .06 6.8 .05-7.8 .06 1.3 .06 5 .05-1.7 .06 .8 .05-5.2 .06 7.3 .06-6.2 .05 2.2 .06 9.3 .06-6 .05 0 .06-4.3 .05-.5 .06 3.2 .06-1.8 .05 11.4 .06-20.6 .06 10.2 .05-4.8 .06-1.4 .05 12.7 .06-6.5 .06-1.9 .05-4.9 .06 8.3 .06 3.3 .05-5.8 .06 3.7 .05-.5 .06 3.9 .06 6.8 .05-8.7 .06 9 .05-13.7 .06 7.4 .06-5.4 .05 0 .06 .2 .06 2.1 .05-5.5 .06 1.5 .05-.7 .06 6.6 .06-2.3 .05-2.2 .06 7.9 .06-9.8 .05 2.2 .06 .1 .05 1.3 .06-3.4 .06-.6 .05 9.1 .06-16.4 .06 9.8 .05-1.7 .06 5.8 .05-20.9 .06 14.6 .06-5 .05 5.4 .06-5 .06 3.2 .05 2.9 .06-2.2 .05 3.9 .06-1.3 .06-8.1 .05 2.8 .06 8.5 .05-6.2 .06 6.9 .06-4.8 .05 1.2 .06-1.4 .06 3.8 .05-5.4 .06 11 .05 2.9 .06-11.2 .06 1.1 .05-3.2 .06 1.5 .06-.2 .05 .2 .06-8.6 .05 12.7 .06 2 .06-9 .05 4.4 .06 3.5 .06 3.8 .05-20.7 .06 9.3 .05 4.5 .06 1 .06 4.3 .05-8.5 .06 1.3 .05 7 .06-5.2 .06 1.6 .05 1.4 .06-6.3 .06-.5 .05 4.4 .06 1 .05 .3 .06-9.1 .06-5.6 .05 11.4 .06-1.8 .06 8.2 .05-5.2 .06-.7 .05-5.1 .06 13.3 .06-3.4 .05-9.1 .06 8.5 .06-1.5 .05-3.3 .06 .2 .05-4 .06 5.5 .06-10.8 .05 24.4 .06-8.8 .05-2.9 .06 1.1 .06-13.7 .05 1.6 .06 9.3 .06-2.3 .05 3.5 .06 8.5 .05-10 .06 4.4 .06-10.4 .05 6.4 .06 6.2 .06-13.1 .05 3.1 .06 2.3 .05 4.5 .06-2.8 .06 6.3 .05-3.3 .06-.5 .06 7 .05-9 .06 .1 .05 1.6 .06 6.3 .06-9 .05 2.7 .06-6.8 .06 3.8 .05 2.1 .06-5.2 .05 5.1 .06 5.4 .06-3.1 .05 2.2 .06 6.5 .05-4.3 .06-16.8 .06 6.5 .05 2.1 .06 1.9 .06 6.6 .05-7.9 .06-5.7 .05 14.3 .06-6.2 .06-3.7 .05 2.6 .06-5.3 .06 4.2 .05-8.4 .06 2.1 .05 .3 .06 9.2 .06-3.2 .05-.2 .06-5.7 .06 12.2 .05-8 .06 1 .05 6.6 .06-14.5 .06 5.1 .05 6.5 .06-12.6 .05 6.5 .06-6.3 .06 8.5 .05-4.2 .06 9.9 .06-10.9 .05 10 .06-8 .05 2.9 .06 1.3 .06-.6 .05 1 .06-9.4 .06 17.2 .05-11.3 .06 7.2 .05 2.1 .06-7.6 .06-.2 .05-2.1 .06 11.2 .06-9.3 .05 4.8 .06-3.1 .05 3.2 .06-6.5 .06-4.5 .05 5.4 .06-4.6 .06 5.1 .05-4.1 .06 4.1 .05-4.9 .06 2.4 .06-1.4 .05 .4 .06 3.2 .05-4.8 .06 15.3 .06-15.4 .05 .5 .06 5.7 .06-6.3 .05 9.8 .06-4.9 .05 6.7 .06-.9 .06-3.6 .05 .1 .06-4 .06 2.9 .05-.1 .06-1.9 .05 .6 .06 3.3 .06-9.5 .05 3.8 .06 7.3 .06-6 .05-1.9 .06-8.8 .05 14 .06-1.7 .06-5.2 .05 5.1 .06 3.7 .05 1.5 .06-4.1 .06-2.5 .05 3.1 .06 1.6 .06-1.1 .05 1.4 .06 1.4 .05-9.4 .06 9.5 .06 2.8 .05-9.8 .06 .1 .06-1.6 .05 .8 .06-4.1 .05 7.7 .06-5.1 .06 2.3 .05 4.4 .06-1.8 .06 1.3 .05-3.5 .06-7.7 .05 13.1 .06-3.8 .06 4.3 .05-1.9 .06 1.4 .05-4.6 .06 5.1 .06-2.1 .05-12.4 .06 10.6 .06-3.5 .05 3.1 .06-4.2 .05 1 .06 .3 .06 5.8 .05-2.9 .06-3.9 .06 11.6 .05-3 .06-5.8 .05 5.5 .06-3.5 .06-1.7 .05-6.4 .06 9 .06 1.9 .05 .2 .06-5.9 .05 3.1 .06-1.3 .06-3.2 .05 5.8 .06-8.7 .06 7 .05-10 .06 11.1 .05 11.5 .06-15.9 .06 3.7 .05 1.6 .06-20.9 .05 8.8 .06 4.2 .06 .8 .05 8.1 .06-11.3 .06 6.1 .05 2.1 .06-1.3 .05 .9 .06-3.5 .06 11.7 .05-14.3 .06 2.8 .06 1.8 .05-1.5 .06 1.9 .05 7.2 .06-5.3 .06-3.7 .05 .9 .06 1.6 .06-4.3 .05 13.9 .06-8.2 .05 .5 .06-.6 .06 1.3 .05-11.9 .06-.8 .05 13.4 .06-3.2 .06 4.8 .05-4 .06-2 .06 8.1 .05-8.6 .06-3.8 .05 1.8 .06 3.6 .06-.9 .05-2.1 .06-.6 .06 6.4 .05-6.2 .06 2.1 .05-3.8 .06 6.4 .06 4.9 .05-4.6 .06-.7 .06 2.6 .05-10.6 .06 6.7 .05 1.6 .06 3.4 .06-6 .05-3 .06-8.8 .06 9.4 .05 10.8 .06-.7 .05-12.6 .06 .8 .06 8.3 .05-3.5 .06 .9 .05-2.1 .06 8.8 .06-14.5 .05 11.7 .06 .4 .06-.3 .05-8.1 .06 4.6 .05 1.7 .06 .5 .06-1.8 .05 4.4 .06-7.8 .06-8.6 .05 28.1 .06-30.2 .05 10 .06 1 .06 1.6 .05-.6 .06-2.4 .06 4.3 .05 4.7 .06-8.4 .05 6 .06-7.4 .06-1 .05 3.2 .06-2.8 .05 4.1 .06-.4 .06 2 .05-1.1 .06-13.8 .06 9.4 .05 2.7 .06 2.2 .05-1.7 .06-3.8 .06-6.8 .05 11.6 .06-5.7 .06 4.9 .05-3 .06 3.9 .05 .3 .06 0 .06 17.6 .05-16.2 .06-6.8 .06 10.3 .05-2.6 .06-5.9 .05 3.7 .06 2.5 .06-2.5 .05 1.6 .06-3.8 .05-3.4 .06 6.1 .06-7.9 .05 14.4 .06-5.4 .06-5.5 .05 1.9 .06 2.7 .05 1.1 .06-.8 .06-1.3 .05 2.2 .06-1 .06 .8 .05 9.9 .06-3.6 .05-10.4 .06 6.8 .06 10.9 .05-15.3 .06 5.3 .06-5.9 .05 7.3 .06-4.2 .05-3.5 .06 9.1 .06-25.7 .05 9.9 .06 6.7 .06-4.4 .05 3.5 .06-3.6 .05 5 .06 3.2 .06-4.9 .05-5.4 .06 10.5 .05-3.5 .06-1.9 .06 7.2 .05-10.8 .06 1.8 .06 7.4 .05-1.6 .06 2.6 .05-.9 .06-2.8 .06 .9 .05-5.2 .06 6.1 .06-1.3 .05-5.6 .06 12.3 .05-9.3 .06 9.1 .06-5.3 .05 .8 .06 1.3 .06 3.2 .05-3.9 .06-10.4 .05 10.5 .06 .3 .06-4.7 .05 9.4 .06-3.6 .05 .2 .06-2.1 .06 2.6 .05-10.4 .06 8.4 .06-.3 .05-7.3 .06 .4 .05 11.6 .06 2.1 .06-7.2 .05-13.1 .06 19.5 .06-12.6 .05 3.4 .06-2.6 .05 5.5 .06 3.9 .06-13.5 .05 8.4 .06-4.2 .06 12.5 .05-9 .06 2.7 .05-9 .06 7.8 .06-2.7 .05-1.4 .06 5.8 .06 9.4 .05-15.3 .06 1.4 .05 5.8 .06-4.8 .06-7.4 .05 2 .06 5.8 .05 6.1 .06-8.3 .06-3.1 .05 1.3 .06 5.6 .06-.3 .05-5.9 .06 8.2 .05-4.6 .06 1.2 .06-1.7 .05-4.1 .06 .6 .06-.8 .05-.5 .06 21.4 .05-22.4 .06 5.1 .06-3.7 .05 9.4 .06 1.6 .06-1.2 .05 2.7 .06-6.7 .05-2 .06-12.3 .06 13.3 .05-3.8 .06 3.2 .05 7.3 .06-18.5 .06 10.4 .05 1.9 .06-5 .06 3.7 .05-5.3 .06-9.2 .05 15.4 .06 4.4 .06-4.1 .05 4.9 .06-8.1 .06-3.7 .05 6.5 .06-1.9 .05 8 .06-4.6 .06-3.5 .05 1.1 .06 3.8 .06-1.7 .05-6.5 .06 8.9 .05 6.2 .06-14.7 .06-1.2 .05 10.4 .06 .9 .05-5.8 .06 3.8 .06-6.8 .05 7.9 .06-4.8 .06 9.7 .05-3.1 .06-9 .05-.5 .06-4.5 .06 13.5 .05-.6 .06-3 .06-3.9 .05 7.7 .06-2.5 .05-6 .06-1.2 .06 2.5 .05-12.1 .06 10.4 .06-1.4 .05 0 .06 4.3 .05-.5 .06-9.6 .06 17.8 .05-7.5 .06 1.3 .06-7.9 .05 5.6 .06-18.9 .05 25.9 .06-10.1 .06-14.1 .05 14.2 .06 6 .05-12.4 .06 11.3 .06 3.8 .05-22.8 .06 10 .06 11.9 .05-2.1 .06-6.7 .05 3.6 .06-4.5 .06 5.3 .05-2 .06 6.6 .06-4.3 .05-7.4 .06 6.1 .05-1.4 .06 3.5 .06-8.1 .05 7.9 .06-4.1 .06 2.2 .05 .9 .06 8.7 .05-.6 .06-11.5 .06 11.2 .05-8.1 .06 .2 .05 5.2 .06-1.9 .06-7.8 .05 3.9 .06 5.2 .06-17 .05 13.8 .06-4.6 .05 2.2 .06-1.9 .06 2.8 .05 6.7 .06-5.2 .06-7.5 .05 2.8 .06 8.3 .05-6.5 .06 4 .06 7.6 .05-10.7 .06 3.4 .06-4.8 .05 .4 .06 3.6 .05-1.2 .06-2 .06-.5 .05 7.9 .06-7 .06 1.4 .05-.9 .06-4.6 .05 2 .06 1.4 .06 3.5 .05-8.7 .06 5.2 .05 3.8 .06-4.4 .06 2 .05 3.7 .06-4.5 .06-4.9 .05 3.7 .06-.9 .05 7 .06-13.6 .06 4.6 .05-2 .06 4.6 .06-.1 .05 3.2 .06-6.7 .05-8.1 .06 18 .06-1.1 .05-1.9 .06 9.8 .06-17.2 .05 15 .06-6.5 .05-4.8 .06 .1 .06 .4 .05 1.6 .06 6.9 .05-4.8 .06-4.2 .06-.4 .05 5.1 .06-3.5 .06-7.8 .05 3 .06 8.9 .05-1.6 .06-2.6 .06 12.4 .05-10.1 .06 0 .06-13.3 .05 7 .06 5 .05 3 .06-.9 .06-9.6 .05 6.9 .06-6.6 .06 12.2 .05-8.6 .06 2.6 .05-4.5 .06 13.7 .06-4.7 .05 1.1 .06 3.2 .06-15.2 .05 20.2 .06-9 .05-3.2 .06-1.8 .06 .7 .05-.1 .06 4.3 .05-4.4 .06 4.6 .06-1.8 .05 4.4 .06-7.2 .06 .3 .05 4.8 .06-3.1 .05-.1 .06 1.2 .06 1 .05-21.3 .06 22.9 .06-.9 .05-.8 .06-4 .05 2.6 .06-5.2 .06 8.6 .05-6.9 .06 4 .06 2.2 .05-2.5 .06 2.6 .05-15.4 .06 5.9 .06 .2 .05 5.9 .06-6.2 .05 1.7 .06 1.7 .06 2.1 .05 3.2 .06-7.9 .06 1.1 .05-7.5 .06 15.2 .05-4.1 .06-3.7 .06 7.3 .05-9.4 .06 8.8 .06-6.1 .05 2.8 .06-6.9 .05 5.1 .06-1.6 .06 2.6 .05 1.7 .06-8.2 .06 6.7 .05-15.9 .06 9.9 .05 6.7 .06-5.1 .06 6.6 .05 6.8 .06-10.6 .05-1.7 .06-1.3 .06 9.2 .05-13.6 .06 7.2 .06 0 .05 3.5 .06 4.2 .05-12.1 .06 8.7 .06 .1 .05-1.8 .06-1.7 .06 2.4 .05-1.2 .06 9 .05-3.9 .06 2.7 .06-9.5 .05 .8 .06-4.1 .06 3.9 .05 6 .06-1.2 .05-6.3 .06-2.6 .06 9.8 .05-10.8 .06 8.5 .06 2.4 .05-2.6 .06-5.2 .05 5 .06-2.1 .06 9.3 .05-5.4 .06 2.3 .05-5.5 .06 4.3 .06-6.7 .05 5 .06 2.9 .06-1.2 .05-1.5 .06-4.5 .05 .3 .06-2.5 .06 7 .05 2.3 .06-3.2 .06-7.2 .05 14.6 .06-13.3 .05-.6 .06-1.4 .06 1.1 .05 5.3 .06 2.1 .06 .4 .05-1.5 .06-4 .05-3.3 .06 13.8 .06-9.9 .05-1.5 .06 2 .05 3.5 .06-2.1 .06-.8 .05-1.7 .06-.3 .06-8.2 .05 10.9 .06 5.7 .05-3.7 .06 1.1 .06-8 .05 5.9 .06-5.9 .06 3.6 .05 3.1 .06-2.6 .05 7.1 .06-10.8 .06-10 .05 9.2 .06 3.4 .06-.2 .05 11.3 .06-12.8 .05 3.9 .06 4.8 .06-.8 .05-6.9 .06 2.7 .06 2.4 .05-14.4 .06 15.9 .05-5 .06-.4 .06 2.6 .05 .2 .06-3.3 .05-1.3 .06 5.6 .06-8.5 .05 2.7 .06 1.3 .06 3.9 .05-4.4 .06 17.9 .05-12 .06-6.2 .06 3.5 .05-1.9 .06 1 .06-6 .05 7.3 .06-9.1 .05 9.7 .06-2.8 .06-.1 .05 10.7 .06-7.2 .06-3 .05 2.4 .06-5.2 .05 3.1 .06 5.7 .06 1.6 .05-10.7 .06 3 .05-3.9 .06 8.6 .06-10.9 .05 7.7 .06-3.7 .06-1.4 .05 3.1 .06 7.2 .05-2.1 .06-15.9 .06 22.8 .05-19.4 .06 5.8 .06-1.9 .05 1.4 .06-4.4 .05 10.3 .06-10.7 .06 12 .05-6.9 .06-1.6 .06 11.7 .05-8.5 .06-2 .05 9.9 .06-7.1 .06 7.1 .05-6.9 .06 5.5 .05-7.1 .06-3.1 .06 11.6 .05-5.6 .06 1.4 .06-1 .05 5.2 .06-3.1 .05 .8 .06-2.9 .06-2.9 .05 13.9 .06-15.2 .06 10.3 .05-9.3 .06 1.8 .05-6.9 .06 10.2 .06-2.1 .05-4.3 .06 1 .06-2.1 .05 1.2 .06 1.4 .05-1.7 .06-3.3 .06 14.9 .05-10.6 .06-5.7 .06 4.1 .05 19.8 .06-17 .05 2.3 .06-8.1 .06 10.1 .05-2.8 .06-13.3 .05 4.2 .06 8 .06-4.6 .05 7.6 .06 3.6 .06-4.9 .05-4.1 .06 3.9 .05 3.3 .06-7.1 .06 7 .05-2 .06 .4 .06 2.3 .05-7.2 .06 13.3 .05-6.1 .06 4.7 .06-10 .05-1.5 .06 8.3 .06-.5 .05-4.5 .06 2.7 .05-.5 .06-7.9 .06 5.3 .05-.6 .06 3.7 .05-8.5 .06-1.7 .06 15 .05-7.1 .06-1.4 .06-.4 .05 19.7 .06-16.7 .05-4.9 .06 8.4 .06 .3 .05 .3 .06-10.3 .06 2.9 .05 1.7 .06-2 .05 1.1 .06 9.4 .06-19.8 .05 10 .06 9.7 .06-7.1 .05 6.5 .06-10.3 .05-.4 .06 5.5 .06 0 .05-.7 .06-1.5 .06 1.3 .05-13.2 .06 11.7 .05 2.5 .06-3.5 .06 2.7 .05 .2 .06-7.9 .05 8.6 .06 2.6 .06-7.3 .05 6 .06 7.3 .06-8.6 .05 1.2 .06-3.5 .05-5 .06 1.2 .06-1 .05 4.7 .06-1.8 .06-3.9 .05 .7 .06 2.4 .05 4.9 .06 1.9 .06-9.7 .05 3.3 .06 1.2 .06-9.5 .05 10 .06 .4 .05-1.9 .06 2.1" fill="none" stroke="#ff0000" stroke-width="0.8" stroke-linejoin="round" opacity="1.0"/>
<path d="M396.50 396.4l.06 2.6 .05-8.3 .06 9.3 .05-9.7 .06 7.1 .06-1.4 .05 6.3 .06-1.6 .06-10.7 .05 8 .06-4 .05-14.3 .06 15.7 .06-4.5 .05 5.9 .06 .4 .06-4 .05 4.3 .06 0 .05-3.6 .06 3.7 .06-2.9 .05-4.4 .06 3.5 .06-4.9 .05 1.7 .06 0 .05 4.4 .06 10.1 .06-14.8 .05 1.8 .06 5.5 .05-3.3 .06 8.1 .06-13.1 .05 3.4 .06 4.2 .06-18.8 .05 11.2 .06 4.4 .05 5.2 .06-13.7 .06 6.4 .05-.2 .06 9.1 .06-5.1 .05 2.6 .06-.1 .05-2.7 .06-2.5 .06 .4 .05 2.4 .06-3.1 .06-2.8 .05 5.2 .06 9.3 .05-3.8 .06 3.4 .06-9.2 .05 .6 .06-4 .06-6 .05 13.2 .06-1.9 .05-.6 .06-12.1 .06 9.3 .05 5.4 .06-4.3 .05-5.5 .06 .9 .06 3.6 .05 1.5 .06-5.9 .06 1.6 .05 4.5 .06-.9 .05-2.6 .06 .6 .06 2.4 .05-.6 .06 3.2 .06 3.7 .05-5.2 .06 3.6 .05-13.8 .06 5 .06 5.9 .05-8.3 .06 3.9 .06-1.2 .05 .7 .06 3.4 .05-3 .06 4.6 .06-4.1 .05 6.7 .06 1.1 .05-3.1 .06-11.6 .06 16.3 .05-9.6 .06 6.7 .06 1.1 .05-15.8 .06 17.4 .05-7.9 .06 2.6 .06 17.6 .05-18.8 .06-8.4 .06 2 .05 1.4 .06 5.5 .05-4.6 .06-4.3 .06 10.8 .05-4 .06 1.6 .06-1.7 .05-2.3 .06 2.2 .05-1 .06-.9 .06 2.8 .05 3.1 .06 .2 .06-1.8 .05-3.7 .06 0 .05 2.5 .06-3.5 .06 12.1 .05-14.8 .06 13.1 .05-5.5 .06-.3 .06 4.3 .05-14.2 .06 21 .06-15.6 .05-8.3 .06 3 .05 7.6 .06 11.6 .06-14.8 .05 8.6 .06-9.4 .06 .8 .05-1.6 .06 13.9 .05-8.4 .06-2 .06 6.5 .05-6.8 .06-17.7 .06 23.2 .05-.5 .06-5.8 .05 .2 .06-9.7 .06 8.7 .05-14.6 .06 14.9 .05 6.9 .06 3.4 .06-10.4 .05 20.9 .06-18.9 .06-.4 .05 6.6 .06 5.6 .05-21.6 .06 18.1 .06-1.1 .05-7 .06 9.2 .06-9.6 .05-14.6 .06 18.8 .05-2.5 .06 6.3 .06-10.5 .05 10.9 .06-13.4 .06 6.3 .05-2.8 .06-5.7 .05 14.4 .06-10 .06 3.1 .05 19.3 .06-19.6 .05 1.4 .06 7.6 .06-4.5 .05 1.3 .06 1.7 .06-13.3 .05 9.1 .06 3.2 .05 1.1 .06-8.4 .06 15.1 .05-5.1 .06-6.6 .06 2.5 .05-9.3 .06 0 .05 16.2 .06-5.7 .06 3.8 .05-8.8 .06 2.1 .06 11.3 .05-14.5 .06-5.5 .05 13.4 .06-3 .06-2.7 .05-.4 .06 3 .06-4.5 .05-.2 .06 6.4 .05-4.6 .06 2 .06 5.2 .05-6.2 .06 16.9 .05-18.3 .06-6.9 .06 8.8 .05 6.7 .06-8.2 .06 3 .05 2.8 .06-1.3 .05-8.2 .06 12.6 .06-6.4 .05 6.3 .06-3.2 .06-8.6 .05 14.5 .06-9.1 .05-1.6 .06 20.6 .06-25.4 .05 7.1 .06-8 .06 3.3 .05 2.4 .06-8.5 .05 7.9 .06-2.8 .06 1.2 .05 14.6 .06-14 .05-2.2 .06 1.8 .06 4.9 .05-6.1 .06 6.9 .06-6.4 .05-1.3 .06 10.9 .05-11.4 .06 11.2 .06-6.8 .05 5.5 .06-10.6 .06 1.7 .05 10.4 .06-8.6 .05-7.7 .06 14.9 .06-9.3 .05 4.4 .06 2.4 .06-8.5 .05 15.4 .06-.3 .05-12.3 .06 8.3 .06-22 .05 15.7 .06 14.6 .06-18.1 .05 5.1 .06-1 .05-9.2 .06 6.8 .06 2.6 .05-9.6 .06 17.2 .05-11.9 .06 1.9 .06-1.8 .05 5.5 .06-.1 .06-7.6 .05 11.5 .06-8.3 .05 12 .06-7.4 .06 9.8 .05-6.4 .06-.2 .06-.6 .05-4.1 .06 6.4 .05-1.9 .06-1.1 .06-.5 .05 6.5 .06-6.2 .06 4.4 .05-12.1 .06-3.4 .05 6.5 .06-4.1 .06 13.8 .05 1.2 .06-10.5 .05-6.4 .06 17.4 .06-25.8 .05 24.3 .06-3.7 .06-4.1 .05 11.2 .06-18.7 .05-4.4 .06 19.7 .06-9.3 .05 5.8 .06-7.9 .06 2.9 .05-5.1 .06 9.1 .05-4.3 .06 1.2 .06-3.5 .05-.5 .06 7.3 .06-3 .05 4.8 .06-13.6 .05 11 .06 1.7 .06-2.8 .05-5.3 .06 5.7 .05 2 .06 2.4 .06-2.8 .05 1.7 .06-9.8 .06 10.9 .05-11.8 .06 7.2 .05-10.8 .06-2.8 .06 11 .05 4 .06-1.9 .06 10.6 .05-18.1 .06 7.2 .05-5.8 .06 1.7 .06 5.4 .05-4.5 .06 .2 .06 5.6 .05-1 .06-1.9 .05 2.9 .06 2 .06-10.8 .05 5.2 .06-3.8 .06 8.7 .05-6.8 .06 .5 .05-5.3 .06 19.5 .06-14.6 .05 4.7 .06 .8 .05-4.4 .06 3.1 .06 6.6 .05-17.2 .06 11.3 .06-2.8 .05-.7 .06 7.1 .05-4 .06-6.5 .06 2.7 .05 4.8 .06 1.3 .06-8.3 .05 5.2 .06-4.1 .05 8.5 .06 1.3 .06-3.2 .05-1.5 .06 1.2 .06-1.2 .05-4.8 .06 5.9 .05-5.4 .06 .9 .06 3.8 .05 7.3 .06-1.8 .05-5.5 .06 4.1 .06-2.4 .05-3.8 .06-2.2 .06-2.2 .05 .5 .06-1.6 .05 .1 .06 10.6 .06-14.9 .05 12 .06-.5 .06-1.7 .05-5.6 .06 4.1 .05 1 .06 1.1 .06 8.6 .05-.6 .06 .9 .06-8.1 .05 1.4 .06-6.6 .05 4 .06 2.9 .06 7.9 .05-3.5 .06-4.6 .06-6 .05 2.6 .06 3.9 .05-.2 .06-10.3 .06 4.6 .05-2.7 .06 14.2 .05-15.2 .06 5.5 .06-.7 .05 15.8 .06-11.4 .06-6.6 .05-2.7 .06 9.6 .05-3.2 .06-5.9 .06-1.9 .05 6.3 .06-10.9 .06 9 .05 7.4 .06 1.8 .05-13.5 .06 6.5 .06 13.4 .05-8.9 .06-4.1 .06 3.7 .05-.4 .06-.2 .05 2.4 .06-3.8 .06 1.6 .05 8.9 .06-13.5 .05 7.6 .06-2.6 .06 1 .05 7.4 .06-.6 .06-9.9 .05-1.1 .06 11.8 .05-9.7 .06 0 .06 2.1 .05-1.3 .06-3.5 .06-1 .05-1.7 .06 3.4 .05 20.2 .06-18.3 .06 9.5 .05-19.2 .06 15.6 .06-12.5 .05 6.6 .06-.5 .05 6.9 .06-4.3 .06-1.9 .05 15.3 .06-17 .06 6.6 .05-3.7 .06-5.1 .05 13.8 .06-13.5 .06-3.4 .05 .8 .06 .7 .05 6.8 .06-9.5 .06-2.5 .05 9.3 .06-4.4 .06 .7 .05 1.5 .06-4.8 .05 9.1 .06-12.9 .06 16 .05-10.1 .06 5.5 .06 5.1 .05-5.4 .06-.6 .05-3.5 .06 5.8 .06 4.1 .05-.1 .06-3.7 .06 5.7 .05-11.4 .06 4.4 .05 6.4 .06-1.1 .06 3.6 .05-6.1 .06-2.5 .05 5.5 .06-9.6 .06-2.4 .05 4.3 .06 1.6 .06-2.8 .05 5.2 .06-7.2 .05-7.9 .06 9.6 .06 5.8 .05-1.2 .06 2.7 .06-5.4 .05 14.1 .06-9.1 .05-8.2 .06 8.6 .06-9.8 .05 7 .06 2.6 .06-9.1 .05 9.1 .06-7.7 .05 5.8 .06 .5 .06-9.9 .05 11.5 .06-3.5 .05 2.9 .06 .6 .06-2.4 .05-1.2 .06-5 .06 2 .05 1 .06 1.6 .05 7.3 .06-6.3 .06-9.9 .05 8.8 .06-.4 .06-1.7 .05 6.5 .06-10.3 .05 11.9 .06 3.9 .06-19.3 .05 13 .06-3.4 .06-1.4 .05 8.6 .06-7.3 .05-7.6 .06-.2 .06 13 .05-5 .06-4.4 .06-2.5 .05 11 .06-10.8 .05 13 .06 2.5 .06-1.3 .05-3.7 .06-6.1 .05 6.8 .06-.2 .06-1 .05 4 .06-7.9 .06 3.6 .05-6 .06 13.5 .05-6 .06 5.7 .06-13.8 .05 7 .06-5.9 .06-5.1 .05 7.4 .06-15.9 .05 8.5 .06 8.1 .06 1.4 .05 8.6 .06-2.4 .06-10 .05 5.4 .06-.8 .05 14.7 .06-19.1 .06 6.9 .05-12.9 .06 9.5 .05 6.1 .06 1.2 .06-2.7 .05-.9 .06-7.3 .06 .1 .05-2.4 .06 5.3 .05-2.4 .06 1.9 .06-9.6 .05 17.9 .06-11 .06 2.9 .05-.8 .06 15.8 .05-14 .06-7.5 .06-5.4 .05 10.9 .06-1.6 .06-6.7 .05 10.5 .06 9.3 .05-9.5 .06-4.1 .06 1.5 .05 4.5 .06-2.2 .06-7.7 .05 .5 .06 2.4 .05 .5 .06 2.7 .06-3.5 .05 2 .06 6.9 .05-5.6 .06 2.4 .06-4 .05 4.2 .06-1.9 .06 6.4 .05-7.2 .06 8.7 .05-6.1 .06-9.5 .06 1.3 .05-2 .06 13.6 .06-8.4 .05-1.7 .06 2.5 .05 5 .06-.9 .06-9.1 .05 8.2 .06 9.5 .06-11.3 .05-3.7 .06 13 .05-11.3 .06 4.6 .06-6.1 .05 4.3 .06-6.2 .05 16.8 .06-19.4 .06 13.5 .05-3 .06 .9 .06-14.7 .05 10.3 .06-.7 .05 4.3 .06-2.2 .06-5.3 .05 15.4 .06-13.8 .06-.6 .05 8.7 .06 .9 .05-2.3 .06 .6 .06-.4 .05-5 .06 21.4 .06-21.8 .05-7 .06 10.9 .05 1.7 .06-3.9 .06 9.4 .05-.9 .06-4.5 .05-7.2 .06 .9 .06 .3 .05 17.3 .06-1.8 .06-21.2 .05 2.1 .06-2.6 .05 11.8 .06 3.6 .06-5.6 .05-6.5 .06 5.3 .06 5.5 .05-2.8 .06 .2 .05-2.2 .06 12.1 .06-1.7 .05-22.2 .06 10 .06 2.8 .05-1.1 .06-.3 .05 3.7 .06-6.7 .06 4.7 .05 11.9 .06-16.2 .06 7 .05-4.8 .06 4.4 .05-1.2 .06 11.8 .06-.3 .05-8.8 .06-13.4 .05 14.6 .06-.5 .06 6.1 .05-5.7 .06-8.1 .06 13.6 .05-8.6 .06 .7 .05-16.4 .06 11 .06 1.2 .05 .3 .06 .9 .06 12.1 .05-18.3 .06 6.1 .05-2.8 .06 5.2 .06 4.2 .05-6 .06 3.7 .06 1.1 .05-9.6 .06 7.4 .05-.4 .06-12.1 .06 11.5 .05 4.2 .06-4 .05 .6 .06-5.6 .06 6.4 .05 .4 .06 3.8 .06-12 .05 3.4 .06-7.3 .05 1.8 .06 8.9 .06-9.9 .05 9.8 .06-7.1 .06-.8 .05 12.9 .06-12.2 .05 9.8 .06-6.9 .06 7.8 .05-16.7 .06 12.8 .06-5.1 .05-5.8 .06 9.6 .05 6.7 .06-13.8 .06 14.1 .05-9.3 .06 .6 .06-6.4 .05-9.8 .06 19.8 .05-.8 .06-7.1 .06 2.1 .05 .2 .06-5.9 .05 3.9 .06 11.4 .06-15.2 .05 2.5 .06 5.6 .06-.8 .05 1.4 .06-5 .05-4.3 .06 9.9 .06-1.9 .05-2.2 .06 5.8 .06-23.2 .05 16.4 .06-2.5 .05 3.2 .06 6.5 .06-14.9 .05 12.3 .06 2.7 .06-7.2 .05-11.2 .06 17.3 .05-4 .06 13.1 .06-24.7 .05 17.5 .06-5.9 .05 2 .06 6.6 .06-14.4 .05 4.8 .06-.3 .06 2.1 .05-3.7 .06-1.8 .05 8.9 .06-13.1 .06 5.3 .05-3.8 .06 .6 .06-2.5 .05 11.9 .06-12.5 .05 5.1 .06 9 .06-.8 .05 4.8 .06-5.2 .06-4.8 .05 .1 .06 6.5 .05-16.8 .06 13 .06 3.8 .05-17.7 .06 .7 .05 30.7 .06-28.4 .06 1.2 .05 11.3 .06 1.5 .06-.6 .05-14.6 .06 10.2 .05-2.1 .06 2.3 .06-.5 .05 3.6 .06-1.1 .06-14.6 .05 17.5 .06-9.7 .05 .8 .06-6.1 .06 17.3 .05-7.6 .06-5 .06-5.8 .05 7.3 .06 9.7 .05-12.6 .06-9.6 .06-2.9 .05 18.1 .06-8.2 .06 17.1 .05-14 .06 .2 .05 7.2 .06-1.1 .06-4.7 .05-1.2 .06 2.9 .05-2.8 .06 5.4 .06-4.8 .05 8.4 .06 4.5 .06-14.7 .05 14.8 .06-10.7 .05 .9 .06-8.7 .06 11.6 .05-3.4 .06-4.8 .06-3.3 .05 6.1 .06 3.8 .05-3.9 .06 3.1 .06 0 .05-2.1 .06 13.5 .06-13.9 .05-.5 .06 5.8 .05-13.5 .06 12.8 .06-4.9 .05-3 .06 8.8 .05-6.8 .06 2.7 .06-8.4 .05 12.1 .06-2.8 .06-2.9 .05 2.1 .06 3.1 .05-1.4 .06 1.1 .06-5.9 .05 9.6 .06-7.9 .06 7 .05-6.7 .06 4 .05-9.2 .06 9.4 .06-6.6 .05 5.6 .06-12 .06 6.4 .05-5.6 .06 3.3 .05 5.4 .06 14.5 .06-8 .05-13.4 .06 4.5 .06-8.6 .05 1.7 .06 4.6 .05 2.6 .06 4.2 .06-8.8 .05 7 .06 10.3 .05-14.2 .06 2.3 .06 7.9 .05 .8 .06-4.5 .06 1.9 .05-9.6 .06 8.4 .05 0 .06 4.4 .06 3.3 .05-8.6 .06-3 .06-2.7 .05 3 .06-7.7 .05 2.1 .06 2.7 .06 1.4 .05-6.3 .06 10.6 .06-2.2 .05-5.8 .06 9.6 .05 .3 .06-7.7 .06-.8 .05 5 .06-2.7 .05 14.4 .06-6 .06-6.7 .05 3.6 .06 3.9 .06-10.5 .05 5.9 .06-4.9 .05-5.8 .06 8.1 .06-3 .05 7.9 .06 5.3 .06-16 .05 13.2 .06-14.3 .05 12.8 .06 9.9 .06-14.5 .05-.8 .06-1.3 .06 .4 .05 5.3 .06-1.6 .05-7.4 .06 4.2 .06 7.2 .05-7 .06 2.6 .05-17.9 .06 11.6 .06 19.9 .05-10 .06 1.7 .06-5.9 .05-1.8 .06 .4 .05-2 .06 5 .06-2.5 .05-.6 .06-7.1 .06 5.2 .05-4.8 .06 17.5 .05-7.8 .06-7.6 .06 14.3 .05-4 .06 8 .06-9.6 .05-3 .06 1.2 .05-3.3 .06 1 .06 4 .05-4.8 .06 1.4 .06 .3 .05 20.1 .06-25.2 .05 10.9 .06-1.8 .06-.5 .05-7.8 .06 4.1 .05-5 .06 2.3 .06-.2 .05-4.4 .06 .7 .06 8.3 .05-5.5 .06 2.8 .05 4.6 .06-6.3 .06-.2 .05 5.5 .06-2.3 .06-4.3 .05 10.1 .06-.3 .05-9 .06-6.2 .06-1.5 .05 17.1 .06-11.4 .06 5.4 .05-.8 .06 1.5 .05 2.4 .06-9.4 .06 2.9 .05 7.1 .06 4.5 .05-10.6 .06 4.3 .06-8.2 .05 3.1 .06 5.2 .06-3.4 .05 4.5 .06-10.9 .05 10.8 .06-2.2 .06-1.1 .05-1.7 .06 3.8 .06-2.6 .05 8.5 .06-14.2 .05 5.2 .06 4.8 .06-5.5 .05-.3 .06-4.8 .06-.3 .05 16.9 .06-10.3 .05-5.1 .06-1.6 .06 2 .05 4.3 .06 3.4 .06-2.7 .05 3.1 .06 2.3 .05 9.3 .06-19.1 .06 5.2 .05-5.3 .06 7.5 .05-3.5 .06-6.5 .06 14.8 .05-14.2 .06-5.8 .06-.4 .05 18.5 .06-12.1 .05 8.9 .06 .4 .06-.6 .05-3.7 .06-3.1 .06-4.6 .05 6.2 .06 2.3 .05-9.9 .06 7.1 .06 1.6 .05-8.6 .06 5.5 .06-.2 .05 .3 .06 .8 .05 5.6 .06 1.6 .06-14.3 .05 11.1 .06 6.8 .05-6.7 .06-6.9 .06 4.2 .05 12.9 .06-15.7 .06-5.1 .05 5.3 .06-4.7 .05-.3 .06 1.1 .06 3 .05 2.8 .06-7.5 .06 8.4 .05-17.8 .06 19.6 .05 3.3 .06 .3 .06-1.8 .05 11.6 .06-17.9 .06-3.9 .05-5.8 .06 16 .05-7.3 .06-1.8 .06 7.9 .05 8.6 .06-16.1 .05-.5 .06 3.4 .06 .5 .05 12.1 .06-11.7 .06-2.7 .05 1.9 .06-18.6 .05 23.6 .06-12.7 .06 6 .05 3.9 .06-2.1 .06-3.1 .05-1.4 .06 1.8 .05 1.8 .06 9.6 .06-7 .05-2.8 .06-9.8 .06-3 .05 8.2 .06 3.7 .05-3.1 .06 4.1 .06 3.8 .05 1.9 .06 7.8 .06-7.4 .05-9.3 .06 3.1 .05 10 .06-11.1 .06-1.6 .05 6.3 .06 4.8 .05-2.8 .06-2.5 .06-3.5 .05 5.1 .06 13.5 .06-12 .05 7.4 .06-19 .05 6.1 .06 5.1 .06 1.9 .05-1.8 .06 3.9 .06 1.7 .05-14.9 .06 1 .05 8.5 .06-8.8 .06 9.4 .05-3.4 .06-3.5 .06 5.5 .05-4.2 .06-1.4 .05 5.4 .06-.9 .06 2.6 .05-3.3 .06 4.5 .05-1.2 .06-4.6 .06 4.8 .05 4 .06-6.3 .06 3.2 .05-5.9 .06 0 .05 4.3 .06 7.9 .06-5.3 .05-4.6 .06 5.4 .06-9.7 .05-5 .06 21.2 .05-14.8 .06 6.5 .06 3 .05 1.9 .06-10.5 .06 3.6 .05 1 .06 2.4 .05-9.6 .06 5 .06 5.8 .05-8.2 .06 6.7 .06-.6 .05-8.7 .06 2.8 .05-6.6 .06 9.2 .06-1.8 .05-.2 .06 5.6 .05-5.9 .06-4.2 .06 2.8 .05 .5 .06-11.5 .06 15.7 .05-.8 .06-.2 .05-8.9 .06 4 .06 2 .05-1.6 .06 9.2 .06-2.2 .05-4.4 .06 2 .05 .2 .06-7.1 .06 8.9 .05-8.8 .06 1 .06 8.5 .05-1.3 .06 2.6 .05 2.9 .06-7 .06 4 .05-1.2 .06-12.2 .05 4.8 .06 1.3 .06 7.2 .05-.4 .06-1.9 .06-10.5 .05 15.5 .06-4.6 .05-6 .06 7.9 .06-7.3 .05 8.3 .06-7.6 .06 4.7 .05 2 .06 3.1 .05-2.2 .06-11.8 .06 4.7 .05-.5 .06-1 .06 7 .05-13.5 .06 6.8 .05-10.1 .06 18.3 .06-.6 .05 2.2 .06-7.6 .05 1.2 .06-1.6 .06 5 .05-9.3 .06 7.7 .06-1.4 .05-7 .06 3.6 .05 6 .06-.4 .06-1.9 .05-4.9 .06 2.1 .06 5.6 .05-7.2 .06 12.2 .05-9.3 .06-4.7 .06 3.4 .05 10.4 .06-7.3 .06-7.9 .05 10 .06-17 .05 18.8 .06-9.8 .06-3.6 .05-.6 .06 4.9 .06-3.8 .05 7.7 .06-6.7 .05 21.1 .06-11.8 .06-5.8 .05-1 .06-1.8 .05 9.2 .06-1.8 .06-13.2 .05 18.4 .06-10.1 .06 3.2 .05-19.2 .06 10.8 .05 11 .06-.2 .06-3.3 .05-3.4 .06 7.3 .06 1.9 .05-1.2 .06-8.6 .05 9.9 .06-12.8 .06 .3 .05 7.8 .06 .2 .06 1.9 .05 5.8 .06-9.3 .05 2.9 .06-11 .06 11.3 .05-16.2 .06 18.6 .05-1.7 .06-8.9 .06 8.4 .05-2.6 .06-1 .06-.4 .05-.2 .06 2 .05-1.8 .06 8.3 .06 4.7 .05-16.5 .06 3.4 .06 6 .05-8.1 .06 3.5 .05 1.7 .06 3.9 .06-5.9 .05-3.6 .06 0 .06 3.5 .05-7.6 .06 8.4 .05 1.5 .06-7.8 .06 3.7 .05 2.2 .06-2.4 .06-5.4 .05 10.3 .06 2.4 .05 1.7 .06-9.3 .06-8.2 .05 6.8 .06 3.9 .05-4.4 .06 3.9 .06 8 .05-4.6 .06 .9 .06-6 .05 5.3 .06-2.7 .05-10.1 .06 1.6 .06-.8 .05 6 .06 4.3 .06-7 .05 8.9 .06-5.4 .05-.3 .06-.2 .06-7.6 .05 11.9 .06-8.6 .06 3.3 .05-6.6 .06 .8 .05 11.1 .06-2.5 .06 9.6 .05-10.2 .06-3 .05 1.9 .06-1 .06-4.6 .05 7.1 .06-8.2 .06 6.3 .05-.3 .06 14.3 .05-12 .06 3.9 .06-9.5 .05 5.9 .06-5.7 .06 6.4 .05 .2 .06-1.5 .05-5.2 .06 8.4 .06-.8 .05-8.6 .06 1.2 .06 5.6 .05 3.9 .06-11.8 .05 7.5 .06 7 .06-10.5 .05 3.2 .06-2.4 .06 3.2 .05 6.1 .06-9.4 .05 5.4 .06 4.5 .06 1.2 .05-8.8 .06-3.5 .05 11.4 .06-4.5 .06-.3 .05-1.7 .06-6.4 .06 14.2 .05-9.1 .06 8.3 .05 3.6 .06-5.2 .06-.8 .05-4 .06-3.9 .06 15.7 .05-3.7 .06-7.6 .05 3.4 .06 .9 .06 9 .05-6.6 .06-19.8 .06 14.5 .05 2.4 .06-1.4 .05 1.3 .06 4.2 .06-7.5 .05 2.4 .06 2.5 .05-4.6 .06 7.4 .06-7.8 .05-6.7 .06 11.8 .06-6.6 .05 5.4 .06 0 .05 .9 .06-2.5 .06-3.8 .05 2.5 .06-2.1 .06-4 .05 6.8 .06-5.4 .05 5.8 .06-2.3 .06 7.7 .05-11.2 .06 1.8 .06 8.7 .05-15.4 .06 16.7 .05 2.1 .06-7 .06-3.2 .05 6.4 .06-4.8 .05-7.8 .06 3.2 .06 5.8 .05 1.4 .06-2.6 .06-7.2 .05 8 .06-6.3 .05 4.3 .06-4.1 .06 1 .05 4.7 .06-10.1 .06 3.3 .05 16.7 .06-5.5 .05-18.6 .06-.4 .06 17.6 .05-3.3 .06 0 .06-11.8 .05 6.9 .06-.6 .05-9.1 .06 13 .06 .9 .05 3.9 .06-17.9 .06 1.9 .05 .3 .06 15.4 .05-1 .06 2.1 .06-11.4 .05-2.9 .06 11.7 .05-12.8 .06 9.8 .06-8.5 .05 14.7 .06-9.4 .06 10.5 .05-2.6 .06-6.4 .05 4.6 .06-4.8 .06-.5 .05 11.6 .06 0 .06-10.1 .05 1 .06-.9 .05-2.2 .06 3.2 .06 1 .05 2.1 .06-2.3 .06 4.4 .05-4.4 .06 2.9 .05-10.5 .06 6.7 .06 6.3 .05-8 .06 4.6 .05-7 .06 4.8 .06 2.3 .05-4.9 .06 3.1 .06 5.5 .05-4.9 .06 3.5 .05 2.6 .06 2.9 .06-9.9 .05-.6 .06-6.3 .06 10.6 .05-3.8 .06-7.9 .05 5 .06-.5 .06 4.3 .05-1.9 .06 6.9 .06-2.5 .05-3.6 .06-1.2 .05 9.7 .06-11.1 .06-8.5 .05 18.5 .06-3.4 .06-.9 .05 .7 .06-1.4 .05-1.4 .06 1 .06-1.1 .05-2.5 .06 5.6 .05 4.1 .06-4.2 .06-3.1 .05-2.2 .06 4.7 .06 3.7 .05-8.5 .06 6 .05-8.4 .06 7.5 .06-.5 .05-17.4 .06 15 .06 8.8 .05-8.8 .06 6.2 .05-3.3 .06 .8 .06-3.3 .05-7 .06 5.2 .06 1.9 .05-4.4 .06 2.4 .05-3.5 .06 17.4 .06-20.6 .05 9.9 .06 3.7 .05-6.6 .06-3.6 .06 7.8 .05-3.9 .06-6.2 .06 7.9 .05-8 .06 2.1 .05 .5 .06 9 .06-10.8 .05-7.1 .06 22 .06-14.5 .05 8 .06-6.7 .05-1.3 .06-5.8 .06 12.8 .05 4.2 .06-16.8 .06 7.7 .05 .9 .06-3.1 .05 2.5 .06 2.7 .06-6 .05 .7 .06 .7 .05-4.7 .06 5.8 .06 2.8 .05-2.3 .06-3.6 .06 13.8 .05-4.9 .06-18.1 .05 9.8 .06 10.3 .06-12.7 .05-9.6 .06 13.3 .06 9.2 .05 3.7 .06-11.6 .05-3.6 .06 11.2 .06-11.7 .05 3.8 .06 5 .06-12.5 .05 12.3 .06-5.3 .05 .8 .06 5.9 .06-8.5 .05 10.5 .06-.1 .06-10 .05 2.5 .06-2.8 .05-6.7 .06 13.7 .06 10.8 .05-24.3 .06 4.6 .05 4.3 .06 9.1 .06 .9 .05-12.6 .06 8.9 .06-11.4 .05 11.8 .06 2.4 .05-3.2 .06-15.4 .06 11 .05-8.3 .06 .7 .06-.1 .05 3.4 .06-1.2 .05 3.6 .06 5.1 .06-11.2 .05 8.4 .06 .1 .06-7.6 .05 11.2 .06-5 .05 1.4 .06-3 .06 14.1 .05-7.4 .06-4.8 .05-2.8 .06-4.8 .06 11.5 .05-3.8 .06-13.2 .06 9.9 .05 2.8 .06-1.9 .05-8.5 .06 7.6 .06-2.5 .05-.7 .06 7.5 .06-1.5 .05 1.7 .06 2.2 .05-3.1 .06 4.9 .06-.6 .05-5.5 .06-.3 .06 3.7 .05-12.5 .06 6.6 .05 3.2 .06 11.8 .06-15.5 .05-6 .06 11 .06 4 .05 3.5 .06-14.1 .05 15.1 .06-1.1 .06-4.8 .05-4.7 .06 2.9 .05-.2 .06-2.7 .06-.7 .05 11.6 .06-10.6 .06 .2 .05-.2 .06-5.9 .05 14.6 .06-6.1 .06-3.2 .05 1.8 .06-2.7 .06 4.1 .05-10.9 .06 6.6 .05-1.5 .06-8.7 .06 3.9 .05 6.9 .06 .4 .06 10.3 .05-15.9 .06 10.4 .05-7.8 .06 8.4 .06-3.4 .05 6.1 .06-8.5 .05 1.3 .06 .5 .06-2 .05 4.4 .06 4.9 .06 6.2 .05-12.2 .06 5.1 .05-1.4 .06 7.7 .06-11.6 .05 2.4 .06-3.1 .06-4.1 .05 14.8 .06-13.4 .05 3 .06 7.8 .06-8.9 .05 2.1 .06 2.7 .06-8.4 .05 .8 .06 12.9 .05-5.5 .06-6.6 .06 7.8 .05 5 .06-5.3 .05-3.6 .06-1.7 .06 9.5 .05-14.8 .06 9.8 .06-5.1 .05-2.1 .06 2.7 .05-2.3 .06-.2 .06 5.1 .05 1.6 .06-3.7 .06 6.8 .05-4.2 .06-1.4 .05 1.8 .06-5.1 .06 7.2 .05-6.5 .06 1.6 .06-7.7 .05 10.7 .06 3 .05 8.6 .06-20.7 .06 19.4 .05-8.3 .06-13.6 .06-2.4 .05 9.6 .06-4.3 .05 5.9 .06 2.3 .06-5.6 .05-2.2 .06 5 .05-2.6 .06 8.7 .06 9.5 .05-19.2 .06 4.9 .06-13.8 .05 12.6 .06 0 .05 2.4 .06-1.4 .06-.8 .05-2.1 .06 2.3 .06-.4 .05-.1 .06 6.5 .05-1.4 .06-5.5 .06-1.1 .05 8.9 .06-7.5 .06-.3 .05 2.9 .06 .1 .05-.2 .06-4.1 .06 3.5 .05-2.6 .06 16.3 .05-26.2 .06-3.6 .06 21.3 .05-8.8 .06 8.5 .06-13.7 .05-1.9 .06 13.1 .05 .2 .06 3.5 .06-9.5 .05 13.6 .06-14.4 .06-3.8 .05 4.6 .06 .9 .05-.5 .06-.5 .06 8.1 .05-7.6 .06-5.2 .06 6.5 .05 .1 .06 3.6 .05-.6 .06-15.8 .06 5.6 .05 5.2 .06-3.3 .06 18.7 .05-11.5 .06-13.9 .05 6.8 .06 4.6 .06 1.9 .05-6.6 .06 3.8 .05-4.6 .06 14.5 .06-4.7 .05-7.5 .06 4.6 .06 5.8 .05-5.8 .06 1.4 .05 9.8 .06-15.2 .06 5 .05-4.4 .06 6.4 .06-2.2 .05-1.9 .06 6.3 .05-1 .06-12.4 .06-1.4 .05 13.9 .06 2.4 .06-11.6 .05 6.3 .06-2.7 .05 1.6 .06-3.3 .06 12.5 .05-24.3 .06 22.3 .05 1.6 .06-4.7 .06-5 .05 1.6 .06 4.1 .06-4 .05-4.6 .06 4.9 .05-5.4 .06 2.3 .06 1.4 .05 3.4 .06 6.1 .06-10.6 .05 2.1 .06-5 .05 1.4 .06-.8 .06 7.5 .05-5.4 .06-.3 .06 4.2 .05 6.7 .06-14.1 .05 4.7 .06-.7 .06-.4 .05 6.4 .06-8.2 .05 5.2 .06-2 .06 1.2 .05-2 .06 5.4 .06-11.1 .05 7.3 .06 2.7 .05-3.2 .06 2 .06-5.4 .05 5.8 .06-4 .06 1.6 .05-.7 .06 7.4 .05-5.8 .06 3.4 .06-5.7 .05-22 .06 22.1 .06-.2 .05 1.7 .06-8.6 .05 2.7 .06-4.1 .06 26.8 .05-15.8 .06 1.6 .06-.9 .05-7.5 .06 14.7 .05-5.2 .06-4.4 .06-6.7 .05 6.9 .06 4.2 .05-12 .06 16.4 .06-12.6 .05 1.5 .06 9.1 .06-4.3 .05 4.3 .06 .2 .05-4.3 .06-1.9 .06-8.7 .05 3.6 .06 1.3 .06-12.3 .05 29.7 .06-13.4 .05-2.8 .06-.8 .06 3.7 .05-5.7 .06 6.9 .06-10.8 .05-4.2 .06 9.4 .05 9.9 .06-12.5 .06 .9 .05 3.7 .06-3.9 .05 6.2 .06-11.5 .06 18.4 .05-13.6 .06-1.1 .06 .6 .05-3.2 .06 14 .05-8.2 .06 .6 .06 3.2 .05-2.4 .06 5.7 .06-17.3 .05 20 .06-2.7 .05 6.4 .06-24.9 .06 13.7 .05 0 .06-8.5 .06 7.4 .05 4.1 .06 4.2 .05 4.3 .06-13.7 .06-1 .05 2.9 .06 6.6 .06 2.9 .05-8 .06 .6 .05-2.1 .06 6.6 .06-2.6 .05 1.8 .06 6 .05-6.6 .06 11.9 .06-15.9 .05-1.9 .06 8.7 .06-5 .05-8.7 .06 2.4 .05 7.1 .06 .7 .06-9.9 .05 4.7 .06 6.3 .06-14.2 .05 11.7 .06-2.7 .05 4.7 .06-2 .06-1.5 .05 2 .06-7.2 .06 6.1 .05 6.9 .06-2 .05-11.7 .06 17.5 .06-3.1 .05-6.6 .06-3.5 .05 6 .06-7.1 .06 23.8 .05-20.9 .06 4.7 .06-7 .05 2.9 .06-3.7 .05-.7 .06 2.1 .06 2.6 .05 .8 .06 6.9 .06 1 .05-9.2 .06 6.2 .05-11.1 .06-.2 .06 .9 .05 11.5 .06 .8 .06-11.4 .05 9.7 .06-2.7 .05 .2 .06 2 .06-4 .05 .6 .06-4.1 .05 4.5 .06-3.9 .06 4.5 .05 0 .06-10.6 .06 8.4 .05 1.5 .06-.9 .05-12.3 .06 14.9 .06-11 .05 .3 .06 4.4 .06 1.6 .05-5.1 .06 9.8 .05-4.1 .06-5.3 .06 11.3 .05-11.2 .06 3.5 .06-.8 .05 4.4 .06 1.2 .05-7.2 .06-6.8 .06 13.6 .05-13.5 .06 14.2 .06-4.6 .05 4.5 .06-3.8 .05 4.1 .06-9.7 .06 1.7 .05 1.7 .06 8.3 .05-4.3 .06 7.9 .06-16 .05 7 .06 0 .06 11 .05-22.4 .06 10.8 .05-3.6 .06 5.6 .06-2.1 .05-1.1 .06 .9 .06 4.1 .05 9.7 .06-3.2 .05-8.1 .06 10 .06-9.6 .05 7.6 .06-2.8 .06-10.6 .05 4.6 .06 4.9 .05-7.1 .06 12.2 .06-5.5 .05-2.8 .06-6 .05 6.5 .06-3.6 .06 1.8 .05-9.1 .06 8 .06-.7 .05-4.9 .06 13 .05-.6 .06-11.1 .06 4.8 .05-14.1 .06 20.6 .06-10.5 .05 .1 .06 .9 .05-4.9 .06 5.9 .06 4.7 .05-1.1 .06-3.1 .06 6.9 .05 4.4 .06-12.7 .05 10.2 .06-10 .06-4.6 .05 5.1 .06-10.4 .06 11.4 .05 7.7 .06-13.9 .05 6.9 .06-5.7 .06 .9 .05 7.6 .06 0 .05-6.4 .06 1.2 .06 .1 .05-1.2 .06 7 .06-1.5 .05-4.8 .06-2.6 .05 .9 .06 2 .06 2.1 .05 2.6 .06-11.8 .06 2 .05 13 .06-1.9 .05-10.5 .06 7.2 .06-7 .05-1.3 .06-4.1 .06 17.7 .05-9.3 .06-1.8 .05 1.8 .06 2.8 .06 10.9 .05-12.8 .06 3 .05-.9 .06-2.2 .06 5 .05-8.4 .06 11.1 .06-16.8 .05 3.7 .06 7.2 .05 3.2 .06-7.5 .06 1 .05 8.6 .06-8.7 .06-2 .05 8.5 .06-2.1 .05-5.2 .06 .8 .06 9.2 .05-10.1 .06 3.7 .06 2.7 .05-7.2 .06-3 .05 9.9 .06-.4 .06-5.1 .05-2.1 .06 5.3 .05-3.9 .06-8.6 .06 8.4 .05 17.5 .06-7.7 .06-.4 .05-4.1 .06-.1 .05 4.8 .06-7.5 .06 .8 .05-3.7 .06 7.8 .06 5.6 .05-16.3 .06 .1 .05 3.6 .06 6.4 .06-8.2 .05-4.9 .06 5.5 .06 .9 .05 1.1 .06 2 .05-14.4 .06 15.5 .06-8 .05 16.4 .06-9.5 .06 .5 .05-1 .06 3.3 .05-4.4 .06-3.3 .06 4.9 .05 12.4 .06-13.3 .05 7.7 .06-6.7 .06-.1 .05-1.8 .06 3 .06-.8 .05-9.5 .06 8.3 .05-2.9 .06 1.4 .06 5.9 .05 2.9 .06 .8 .06-11.2 .05 9 .06-6.6 .05-.6 .06-3.6 .06 .5 .05 7.7 .06-9.6 .06-1.8 .05 12.3 .06-7.8 .05-6.3 .06 .3 .06-.1 .05 10.9 .06-1.9 .05-8.6 .06 3.7 .06 6.9 .05 5.4 .06-1.8 .06-7.8 .05 15.5 .06-11.1 .05 2.4 .06-2.8 .06-9 .05 10.1 .06-5.5 .06 7.2 .05-9.2 .06-2.2 .05 7.1 .06-12.1 .06 15.8 .05-7.1 .06 1.6 .06 .9 .05-.2 .06 1.5 .05 1.9 .06-10.3 .06 14.1 .05-4.6 .06-.9 .06-4.6 .05-8.5 .06 13.8 .05 6.3 .06-7.4 .06 3.4 .05-3.1 .06-1.4 .05 9.5 .06-6.1 .06 0 .05 8 .06-4.7 .06-5.3 .05 10.5 .06-5.3 .05-7.5 .06 11.9 .06-20.1 .05 6.7 .06 10.2 .06-4.7 .05 .8 .06-7.7 .05 3 .06 .7 .06 9.8 .05-4.1 .06 1.2 .06-6.5 .05 5.1 .06 9 .05-10.2 .06-3.8 .06 5.8 .05-2.9 .06 11.8 .05-7.3 .06-4.1 .06-4.1 .05 1.2 .06-6.4 .06 15.8 .05-6.6 .06 12.9 .05-4.1 .06-12.7 .06 5.3 .05-19.7 .06 18.3 .06 .8 .05-1.5 .06-3.2 .05 8.1 .06-1 .06-.6 .05 6.7 .06-9.7 .06-4.3 .05 9.4 .06-7.5 .05 .3 .06 .6 .06 .1 .05-13.1 .06 18.6 .06-17.3 .05 10.4 .06 9.8 .05-4.8 .06 2.3 .06-9.6 .05 12.1 .06-9.7 .05 4.1 .06 3.1 .06-4.4 .05 3.7 .06-4.5 .06 2.7 .05 3.1 .06-2 .05-4.2 .06 9.7 .06-20 .05 5.3 .06 10.7 .06 6.5 .05-10.5 .06 1.9 .05 6.3 .06-6.2 .06-12.3 .05 7.6 .06 8.9 .06-14.4 .05 7.1 .06 2.6 .05-8.9 .06 3.2 .06-.9 .05 8.4 .06 .3 .05-6.6 .06 13.6 .06-7 .05 2.3 .06-14.4 .06 20.3 .05-5.6 .06-6.8 .05-.5 .06 .3 .06 10.7 .05-11.7 .06 11.1 .06-3.2 .05-16.4 .06 7.5 .05 11 .06 .4 .06-5.5 .05-4.6 .06 4.6 .06-5.5 .05 15.3 .06-7.6 .05 2.3 .06-5.1 .06-10 .05 7.1 .06 1 .05-2.9 .06 7.3 .06 .7 .05-11.1 .06 9.4 .06-1.3 .05-.6 .06-1.9 .05 3.7 .06 .9 .06-13.1 .05 1 .06 16.5 .06 1.7 .05-13.5 .06 6.2 .05-3.2 .06 4.6 .06-13.4 .05 12.6 .06-7.3 .06-2.8 .05 12.1 .06-6.5 .05 3.8 .06-8.9 .06 12.7 .05-1.8 .06-1 .06-10.5 .05 8.1 .06 1.9 .05 2.5 .06 2.8 .06-8.5 .05 3 .06-2.4 .05-3.9 .06 3.3 .06-9.5 .05 1.8 .06 11.2 .06-1.9 .05-1.7 .06-5.9 .05 .1 .06 1.7 .06-5.3 .05 .8 .06 6.5 .06 3.3 .05 6.9 .06-.3 .05-7.8 .06 3.2 .06-.1 .05-16.5 .06 19.5 .06-4.2 .05-1 .06-2.3 .05-5.9 .06-3 .06 4.3 .05-6.5 .06 11.5 .05 4.6 .06-4.7 .06-12.3 .05 14.4 .06-5.5 .06 9.6 .05-4.8 .06 3.2 .05-.1 .06-7.8 .06-.1 .05 3.9 .06 1.4 .06-10 .05 10.7 .06 8.6 .05-4.6 .06-4.1 .06-19 .05 27.4 .06-14.6 .06 1.8 .05-6.2 .06 8.9 .05-4.2 .06 1 .06 5.5 .05-1.4 .06 4.4 .06-11.6 .05 2.9 .06 6.8 .05-5.9 .06 4 .06-6.7 .05 6.9 .06-3.3 .05-2.9 .06 8.8 .06-9.8 .05 18.9 .06-12.6 .06 .4 .05 2.2 .06-5.1 .05 2.5 .06 13.1 .06-14.7 .05 2.3 .06 1.1 .06 0 .05-2.8 .06-9.8 .05 6.3 .06 12.6 .06 5.6 .05-14.7 .06 5.2 .06-4.7 .05-1.5 .06 1.2 .05 4.1 .06-9.5 .06 11.4 .05-17 .06 14.1 .05-6 .06 4.4 .06 6.9 .05 7.8 .06-18.1 .06-2.5 .05 3.8 .06 4.9 .05-5.8 .06 4.4 .06-8.6 .05 4 .06-.8 .06 9.5 .05-2.7 .06-8.9 .05 25.5 .06-19.7 .06-8.3 .05 8.6 .06 4.1 .06-4.5 .05 5.6 .06-5.7 .05-.2 .06 5 .06-6.4 .05-1.7 .06-3.1 .05 1.6 .06 .2 .06-4 .05 7.9 .06 4.9 .06-3.1 .05 7.6 .06-4.7 .05 6.5 .06-8.7 .06-7.3 .05 2.2 .06-3.3 .06 4.1 .05 18.3 .06-20.8 .05 4.4 .06 14.1 .06-8.7 .05-4.5 .06 .1 .06 2.6 .05-3.2 .06 1.4 .05 .5 .06 .4 .06-.2 .05 2.3 .06 3 .06-.1 .05-7.8 .06-10.4 .05 10.6 .06 .1 .06 1.1 .05-3.4 .06-2.1 .05-1.7 .06 10.8 .06 1 .05-3 .06 2.8 .06-.7 .05-.7 .06 4.4 .05-13.3 .06 6.1 .06 7 .05-13.1 .06 6.1 .06-.1 .05-3.4 .06 4 .05 20.4 .06-18.4 .06-5.3 .05 7.6 .06-9.6 .06 4.4 .05 1.6 .06-.5 .05-11.3 .06 13.2 .06-1.3 .05 1.3 .06-7.2 .05 5.2 .06 1.9 .06 4.7 .05-4 .06-7.7 .06 6.8 .05-2.1 .06-3.3 .05 3.9 .06 7.1 .06-5.3 .05 1 .06-7.2 .06 14.8 .05 .9 .06-16.6 .05 16 .06-8.3 .06 0 .05-8.4 .06 6.2 .06-2.4 .05-.1 .06 11.5 .05-5.4 .06-3.8 .06-2.5 .05 1.6 .06 3.7 .06-3.8 .05 3.1 .06 0 .05-22 .06 6.2 .06 17.3 .05-5.2 .06 1.2 .05-9.6 .06 6.9 .06 9.4 .05-11.6 .06 8 .06-1.3 .05 .8 .06-6.6 .05 1 .06 5.6 .06-3.6 .05 6.4 .06-10.8 .06 2.8 .05-5.8 .06 13.3 .05-10.6 .06-5.1 .06 21.4 .05-10.4 .06-6.3 .06 6.8 .05 7.5 .06-1.7 .05-6.9 .06-5.5 .06 12.9 .05-12.1 .06 8 .05-8.5 .06 5.9 .06-7 .05 8.5 .06-3.9 .06-2.5 .05 10.1 .06-8.3 .05 5.1 .06 1.6 .06-4.3 .05 3.3 .06-13.9 .06 17 .05-8.2 .06 4 .05-3.4 .06 7 .06-3.7 .05-2.5 .06-2.7 .06 .7 .05 5.2 .06-2.1 .05-2.4 .06-2 .06-.6 .05 6.2 .06-7.8 .05 12.4 .06 .9 .06-11.2 .05 .6 .06-3.4 .06 15.3 .05-8.3 .06-.6 .05 .6 .06-8.4 .06 9.4 .05-.6 .06-4.4 .06-2.3 .05 6.2 .06-5.1 .05 1.1 .06-9.9 .06 26.7 .05-14.7 .06-2.8 .06-1.3 .05 1.6 .06 2.5 .05 6.7 .06-11.8 .06 5.2 .05-2 .06 2.8 .06 6.4 .05-6.5 .06 10 .05-18.3 .06 8.2 .06 2.7 .05-6.8 .06 6 .05 .6 .06-2.3 .06-2.3 .05 7.6 .06-7.5 .06-3.7 .05 1 .06 2 .05-6.8 .06 15.6 .06-5.3 .05-2.8 .06 7.8 .06-6.9 .05-12.2 .06 16.9 .05-16.1 .06 11.3 .06-3.7 .05-4.6 .06 19.5 .06-13.2 .05 8.6 .06-10.4 .05 2.3 .06 .2 .06 9.9 .05-19.5 .06 8.5 .05 1.6 .06 4.9 .06-7.1 .05 6.4 .06-5.3 .06 8.7 .05-3.3 .06-5.9 .05 3 .06 1.7 .06 8.1 .05-16.8 .06 6.4 .06-.2 .05-2.8 .06 1.6 .05 0 .06-3.1 .06-3.4 .05 .2 .06 5.9 .06 1.6 .05-1.8 .06 4.2 .05-7.3 .06-3.7 .06 15.4 .05-10.3 .06 2.8 .06-1.2 .05-.7 .06 1.6 .05-7.8 .06 7.2 .06-7.7 .05 3.2 .06 2.1 .05 2.2 .06 6.2 .06-9.6 .05-.1 .06 5.9 .06-.8 .05 4.2 .06-11.1 .05-12.5 .06 17.3 .06-4.4 .05-.1 .06 5.3 .06 7.4 .05-5.7 .06-7 .05 3.8 .06 .9 .06 3.6 .05-.2 .06 1.4 .06-5.8 .05-2.3 .06 3.3 .05 10 .06 3 .06-19.4 .05 3.4 .06-2.3 .05 8.6 .06 3.9 .06-.7 .05-7.3 .06-2.6 .06 7.6 .05-6.7 .06-.2 .05-2.9 .06 6.1 .06-1.7 .05-4.3 .06 5.7 .06 5.5 .05-7.8 .06 7.1 .05 2.7 .06-2.4 .06-7.6 .05 4 .06-5.6 .06 2.2 .05 5.3 .06 1.6 .05 4.4 .06 4.8 .06-9.4 .05 1.9 .06-3.9 .05-3.4 .06-1.9 .06-.4 .05 6.5 .06-4.8 .06 .2 .05 .2 .06-4 .05 6.5 .06 6 .06-3.2 .05-11.6 .06 15.5 .06-5.4 .05 2.3 .06-8.3 .05 9.3 .06-5.3 .06 7 .05 11.9 .06-13.8 .06-1.5 .05-5.2 .06 1.6 .05 .7 .06-2.9 .06-3 .05-11.3 .06 9.5 .06 13.2 .05-12.1 .06 9.3 .05-5.9 .06 4.2 .06-2.3 .05 9.3 .06-12 .05-1.7 .06 7.3 .06 6.4 .05-10 .06 0 .06-2.6 .05 1.3 .06 4.8 .05-4.8 .06 12.6 .06-9.3 .05 5 .06-5.8 .06 2.8 .05-5.6 .06 7.8 .05 5.4 .06-15.9 .06 4.4 .05-1.3 .06 5.7 .06-5.2 .05-6.7 .06 8.2 .05 1 .06-4.6 .06 13.5 .05-12.9 .06 2.2 .05 3.8 .06 3.4 .06-3.7 .05 3.9 .06-4.2 .06-7.4 .05 9.6 .06 5.8 .05-6.7 .06-1.3 .06 9.7 .05-23.1 .06 14.9 .06 4.1 .05-14.3 .06-12.1 .05 17.7 .06 2.5 .06 4.5 .05-6 .06 2 .06 1.5 .05-.8 .06 .3 .05 .8 .06 12.8 .06-11.4 .05-3.9 .06 6 .06-1.5 .05-11.7 .06 8.9 .05-9.9 .06-.4 .06 9.1 .05 4.7 .06-2.4 .05-5.1 .06 3.3 .06 .1 .05-.3 .06 3.7 .06-6.3 .05-.9 .06 2.7 .05 .8 .06-5.6 .06 7.1 .05-16.8 .06 8.6 .06-5.4 .05 21.9 .06-18.5 .05 8 .06 3.9 .06 3.2 .05-15.6 .06 5 .06 .3 .05-10 .06 8.6 .05 4 .06-9.4 .06-.3 .05 11.2 .06-3.6 .05-3.7 .06 16.1 .06-18.3 .05 12.4 .06-7.6 .06-4.4 .05 9.8 .06-1.3 .05-13.5 .06 15.2 .06-7.6 .05-4.4 .06-.1 .06 4.7 .05-2.7 .06 .9 .05 1.1 .06 .8 .06 3.1 .05 9.7 .06-15.8 .06 7.4 .05 4.5 .06-13.7 .05 3.6 .06 8 .06-3.9 .05-2.1 .06 .2 .05 .9 .06-4.9 .06-.1 .05 7 .06-2.7 .06 4.2 .05-5.6 .06 5.2 .05 4.1 .06-3.2 .06-1 .05 .3 .06-.8 .06-2.7 .05-8.1 .06 10.5 .05-3.1 .06 .8 .06 5.6 .05-7.4 .06 5 .06-.2 .05-3.7 .06-3 .05 6.5 .06 .6 .06-6.3 .05 1.8 .06-1.5 .06-7.3 .05 14.3 .06-10.7 .05 2.4 .06 2.2 .06 1.3 .05-2.6 .06 3.2 .05 3.8 .06-11.3 .06 8.4 .05 3.2 .06 4.3 .06-14.5 .05 9.5 .06-5.3 .05-7.7 .06 5.2 .06-7.7 .05 12.2 .06 19.7 .06-26.1 .05-1.8 .06 6.9 .05-3.1 .06 17.7 .06-16.5 .05 3.4 .06-1 .06 6.6 .05-5.4 .06-3.3 .05 12.6 .06-4 .06-6.9 .05-1 .06 10.5 .05-7.7 .06 6.4 .06-7.7 .05 8.4 .06 2.2 .06-5.8 .05 8.3 .06-1.2 .05-11.9 .06 1.5 .06 3.8 .05-.5 .06 .8 .06-12.9 .05 14.1 .06 .8 .05-21.7 .06 22.2 .06-6.1 .05-11.6 .06 8.6 .06-.9 .05 7.1 .06-8.7 .05 6.7 .06-2.8 .06 2 .05 2 .06-.4 .06 3.8 .05-6 .06 6.5 .05-2.6 .06-5.1 .06-7.8 .05 .7 .06 8.7 .05 12.3 .06-12.7 .06 10.1 .05-3.9 .06-6.1 .06 9.7 .05-10 .06 2.6 .05 2.2 .06-.9 .06-6 .05-2 .06 9 .06 2.7 .05-4 .06-.3 .05-8.3 .06 1.4 .06 7 .05 6.3 .06-9.1 .06-.4 .05 13.6 .06-22.4 .05 1 .06 11.7 .06-5.7 .05-2.3 .06 2.8 .05 3.9 .06-.6 .06-2.3 .05-3.3 .06 2.2 .06 3.5 .05 7.4 .06-14 .05-1 .06 5.6 .06-.9 .05 4.2 .06-12.6 .06 13.2 .05 .7 .06-8.1 .05 9.9 .06-8.5 .06-.6 .05 14.6 .06-9.9 .06 4.9 .05 1.8 .06-10.5 .05-2.7 .06 4.8 .06-5.2 .05 18 .06-13.8 .05-14.3 .06 26.6 .06 10.1 .05-24 .06 5.5 .06-6.5 .05-.4 .06 .4 .05 7 .06-5.4 .06 .8 .05 7.7 .06-1.9 .06-4.1 .05-1.9 .06 2.7 .05 6.8 .06-5.3 .06-3.2 .05-.6 .06-6.1 .06 2.1 .05 11.5 .06-8.4 .05-7.8 .06 13.4 .06-3.7 .05 .6 .06-4.7 .06 11.5 .05-8.8 .06 8.8 .05 1.6 .06-5.9 .06 7.7 .05-14.8 .06 11.4 .05-2.2 .06-.8 .06-12.7 .05 16.6 .06-4.6 .06 10.8 .05-14.2 .06 3.1 .05-12.8 .06 14.2 .06-7.7 .05 7.7 .06-5.6 .06-2.7 .05 8 .06-6.7 .05-6.3 .06 3.7 .06 4 .05 4.7 .06 2.6 .06-.7 .05-1.6 .06 6.3 .05-14.1 .06-9.9 .06 10.8 .05 10 .06-7.1 .05-2.8 .06 20.3 .06-9.6 .05 2.7 .06-.6 .06-8.1 .05-.4 .06-3.1 .05 4.7 .06 1.8 .06-7.5 .05-4.1 .06 17.2 .06-9.3 .05 8.3 .06 5.1 .05-7.8 .06-2.4 .06 4.2 .05-10.7 .06 2.8 .06 7 .05-6.9 .06 6.7 .05-7.3 .06 8.8 .06 2.1 .05-7 .06 1.7 .06-4 .05 5.6 .06-4.3 .05 2.1 .06-6.9 .06-1.3 .05 5.3 .06 3.1 .05-1.4 .06 3.2 .06 6.7 .05-21.8 .06 10.9 .06-7.4 .05 7.7 .06-21.3 .05 22.4 .06 9 .06-13.5 .05-3.6 .06 1.7 .06 5.4 .05-6.2 .06 7.1 .05-6 .06 9.6 .06-2.1 .05-4.6 .06-4 .06-.1 .05 3 .06 1 .05-4.3 .06 6.7 .06-5.1 .05 12.8 .06-8.5 .05-.3 .06 .2 .06-1 .05-1.9 .06 7.3 .06-1.4 .05-.1 .06-10.3 .05 6.2 .06 3.6 .06-7.1 .05-.4 .06-17 .06 13.1 .05 4.9 .06-1.1 .05 2 .06 .4 .06 3.9 .05-4.8 .06 5.6 .06-.6 .05-5.3 .06 6.8 .05-4 .06 6.1 .06-7.8 .05-5.3 .06 9.1 .06-5.6 .05 4.1 .06 2.1 .05 4.8 .06-2.9 .06-3 .05 5.9 .06 0 .05-2.4 .06-3.5 .06 .6 .05 3.3 .06-5.4 .06 5.4 .05-3.9 .06-3.8 .05 1.7 .06-5.2 .06 7.4 .05-1.2 .06 3.1 .06-6.2 .05-1.8 .06-1.6 .05 10.6 .06-9.7 .06-3.1 .05 10.1 .06-1.5 .06-1.1 .05-1.7 .06-4 .05 2.6 .06-.4 .06 2.3 .05 2.3 .06-8.1 .05 7.2 .06 6.5 .06-16.9 .05 3.1 .06 6.2 .06-2.4 .05 2.6 .06-.5 .05-5.7 .06 3.1 .06 10.4 .05 2.5 .06-17.2 .06 9.6 .05-.5 .06-4.9 .05 8.6 .06-9.7 .06 20 .05-10.9 .06-6.6 .06-.3 .05 9.3 .06-8.6 .05 .1 .06 2.1 .06 1.9 .05 .5 .06-8 .05-9.1 .06 14.7 .06-.5 .05-5.7 .06 3.5 .06 2.5 .05 4.3 .06-3.7 .05-9.1 .06 10.6 .06-.8 .05 2.7 .06-18.8 .06 28 .05-14.5 .06-2.9 .05 2.7 .06 .6 .06-1.2 .05 2.7 .06-.5 .06 .6 .05-4.3 .06 2.8 .05 3.5 .06-1.8 .06-1.4 .05-.3 .06 6.2 .06-7.7 .05 6 .06-7.2 .05 3.1 .06 .3 .06-1 .05 7.5 .06-9.6 .05 25.9 .06-22.1 .06-8.2 .05 7.6 .06 2.9 .06-5.7 .05-5.4 .06 19.1 .05-5.7 .06 .3 .06 1.9 .05-8.7 .06 1 .06 2.9 .05 5.5 .06-4.9 .05-.7 .06-6.4 .06 5.2 .05 6.2 .06-6.6 .06-2 .05 3.1 .06-.9 .05 3.1 .06-7.6 .06 14.7 .05 5.1 .06-27.7 .05 22.2 .06-7.2 .06 2.8 .05-3.6 .06-9.9 .06 12.8 .05-1 .06 4 .05-12.9 .06 14.5 .06-10.6 .05 5.3 .06 4.3 .06-1.4 .05-5.4 .06 12.4 .05-11.8 .06 3.3 .06-3.8 .05-5 .06 3.9 .06 14.6 .05-18.4 .06 1.2 .05 3 .06 1.6 .06 4.9 .05-.5 .06-6.4 .06 6.5 .05-2.5 .06-2.9 .05-5.2 .06 4.3 .06-.2 .05 5.7 .06-9.3 .05 4.8 .06-.5 .06-4.2 .05-5 .06 6.4 .06 1 .05-1.3 .06 7.7 .05 .2 .06-1.5 .06-12.4 .05 7.4 .06-4.9 .06 4.5 .05 2.2 .06 1.4 .05 4.1 .06-10 .06 10.2 .05-7.9 .06 4.5 .06-1.8 .05 4.8 .06-1.4 .05-5 .06-3.5 .06 5.5 .05 12.8 .06-6.2 .05-11.4 .06 9.5 .06-2.9 .05-7.4 .06 2.3 .06-1.6 .05 1.9 .06 2 .05-8.9 .06 1.5 .06 10.7 .05-7.1 .06-8.3 .06 2 .05-1.9 .06 7.8 .05 2.9 .06-5.8 .06 2.7 .05 .9 .06-13.7 .06-.7 .05 19.6 .06-13.1 .05 7 .06-.3 .06 5 .05-5.4 .06-2.8 .05 10.5 .06-4.4 .06-3.3 .05 8.8 .06-9.2 .06 10 .05-14 .06 4.9 .05 2.5 .06-5.4 .06 .4 .05-15.8 .06 16.3 .06 13.2 .05 8.2 .06-18.8 .05-1.8 .06-2.1 .06 3.4 .05 5.9 .06 1.9 .06-15.7 .05 10.8 .06-3.5 .05-3.7 .06 4.2 .06 1.5 .05-.8 .06-2 .06 7.3 .05-6.7 .06 2.5 .05 4.2 .06-6.7 .06-8.9 .05 13.2 .06 3.3 .05-6.5 .06-3.8 .06 7 .05-5.1 .06 12.7 .06-11.9 .05 9.8 .06 0 .05-6.8 .06 2.2 .06 2.6 .05-7.8 .06 7 .06-.5 .05-3.8 .06-3.3 .05-2.1 .06 11 .06-10.9 .05 5.4 .06 4.5 .06-8.2 .05 6.6 .06-3.5 .05-1.3 .06-8 .06 12 .05-.6 .06-.8 .05-1.6 .06 4.1 .06-11.2 .05 15.6 .06-14 .06 2.6 .05 6.4 .06-1.3 .05-9.8 .06 1.4 .06 9.5 .05 2.1 .06-1.7 .06-3.6 .05-1.5 .06 1.7 .05 1.2 .06 2.3 .06-3.9 .05-4.6 .06-2.3 .06 1.2 .05 8.6 .06-2.5 .05-4.3 .06 5 .06 4.6 .05-1.4 .06-2.9 .06-7.6 .05 5.1 .06-3.7 .05 6.2 .06-6.3 .06-9.6 .05 17.1 .06-6.2 .05-.1 .06 3.2 .06 1.3 .05 1.8 .06-3.2 .06-6.8 .05 13.9 .06-4.8 .05-1 .06 2.8 .06-9.5 .05 1.8 .06-2.9 .06 14.5 .05-15.4 .06 3.5 .05 5 .06 4.1 .06-8 .05 6.8 .06-17.1 .06 13.8 .05 5.7 .06-16.5 .05 6.4 .06 19.4 .06-11.2 .05-7 .06-7 .05 10.5 .06-6.9 .06-3.5 .05-.6 .06 4.9 .06 1 .05 8 .06 3.2 .05-8.6 .06 6.3 .06-14.2 .05 19.4 .06-13.9 .06 .9 .05 8.1 .06-19 .05 10.2 .06 5.6 .06 6.6 .05-8.9 .06-7.9 .06 10.5 .05-2.9 .06-9.4 .05 16.8 .06-8.6 .06 1.3 .05 .7 .06 .2 .05-.8 .06-6.5 .06 10.3 .05-13.2 .06-10.2 .06 14.9 .05-.9 .06 0 .05 23.2 .06-9.1 .06-4.9 .05 3.2 .06-3.7 .06-.4 .05-1 .06-14.8 .05 9.2 .06 3 .06-8.7 .05 7.2 .06 5.9 .06 .1 .05 3.6 .06-9.2 .05 3.8 .06 4.8 .06-1.8 .05-4.7 .06-5.1 .06 25.5 .05-24.7 .06 8.3 .05-8.2 .06 4.7 .06 1.1 .05 4.9 .06-6.1 .05-2.5 .06 4.6 .06-4.4 .05 .2 .06 14 .06-14.6 .05 4.7 .06-3.8 .05-9.1 .06 5.5 .06 3.6 .05 1.6 .06-1.8 .06 .9 .05-1.6 .06 7.3 .05-6.3 .06 8.5 .06-14.4 .05 11 .06-.3 .06 .3 .05 8.8 .06-3.9 .05-5.4 .06-2.6 .06-.1 .05-3.4 .06 .7 .05 2.7 .06 4.3 .06 5.6 .05-8.5 .06-2.9 .06 2.3 .05-.6 .06 2.4 .05-3.4 .06-3.2 .06 8 .05-3.6 .06 4 .06-12.1 .05 9.1 .06 3.6 .05-4.3 .06 5.4 .06-12.2 .05 .3 .06 9.9 .06-.1 .05-15.8 .06 10.4 .05 2.1 .06 8.5 .06-7.2 .05-.8 .06 6 .06 4.8 .05-9.1 .06-9.1 .05-3 .06 8.3 .06 10.5 .05-4.7 .06-7.2 .05 3.4 .06 8.7 .06-21.3 .05 19.4 .06-12.8 .06 4.8 .05-3.6 .06 4.5 .05-1.3 .06 3.7 .06-4.5 .05-.2 .06-1.2 .06 .2 .05 9.8 .06-6.3 .05-6.9 .06-.6 .06 4.2 .05 1.3 .06 3.2 .06-2 .05-5 .06 .6 .05 9.4 .06-4.7 .06-10.5 .05 11.2 .06-5.7 .05 6.8 .06-15.9 .06 7.7 .05 9.8 .06-14.4 .06 2.5 .05 11.9 .06-3.1 .05 6.6 .06 3.8 .06-9.7 .05-1.9 .06 1.9 .06 3.6 .05-10.2 .06-1.2 .05 11.3 .06-3.2 .06-4.9 .05-4.3 .06 18.2 .06-11.3 .05 7.9 .06-6.4 .05-2.1 .06-.9 .06 2.1 .05 1.5 .06-9.8 .05 7.4 .06 2 .06-1.5 .05-8.8 .06 7 .06 1 .05-.4 .06 2.7 .05 .2 .06-.3 .06-3.8 .05 .3 .06 6.6 .06-6.8 .05 5.3 .06-.9 .05-8.1 .06 5.3 .06 4.8 .05-6.4 .06-3.4 .06 6.4 .05 5 .06-3.8 .05 3.1 .06-3 .06 8.6 .05-1.1 .06-8.4 .06 6.4 .05 4.7 .06-14 .05 4.2 .06 2.6 .06-14.1 .05 17.6 .06-20.1 .05 12.9 .06 3.1 .06-1.5 .05 3.7 .06-2.2 .06 .3 .05 6.3 .06-10.5 .05 3.9 .06-1.3 .06-5.1 .05 4.6 .06-2.3 .06-1 .05-1.8 .06 1.1 .05 15.8 .06-7.9 .06-3.7 .05 4 .06-1.5 .06-7.6 .05 4.5 .06 8.3 .05 .9 .06-5.7 .06 .3 .05 5.1 .06-3 .05-7 .06-3.9 .06 6.1 .05-10.7 .06 8.5 .06-.3 .05-1.2 .06-6.5 .05 5.1 .06 3.7 .06 .2 .05 6 .06-4.5 .06 2.4 .05-4.6 .06-7.9 .05 9.1 .06 8.1 .06 4.7 .05-14.8 .06 .7 .06 10.9 .05-23.8 .06 18.7 .05 4.3 .06-8.3 .06-5.6 .05 11.2 .06-4.1 .06-9.6 .05 16 .06-3.4 .05-2.2 .06-1.1 .06 1.9 .05-9.3 .06 2.5 .05 5.8 .06-2.8 .06-3.3 .05-5.3 .06 8.2 .06 13.4 .05-20.9 .06 19 .05-9.5 .06-2 .06 8.8 .05-6.2 .06-5.1 .06 5.6 .05-3.2 .06-6.1 .05 5.5 .06-.1 .06-6.1 .05 16.5 .06-1.7 .06-12.6 .05 4.8 .06 3.1 .05-5.3 .06-1.4 .06 1.3 .05-.1 .06 .8 .05-.9 .06 10.6 .06-11.6 .05 8.4 .06-4.2 .06-6.1 .05 1.2 .06 1.2 .05 2.2 .06 8.4 .06-5.3 .05-7.1 .06 2.5 .06 3.6 .05 1.4 .06-2.4 .05 2.3 .06-.3 .06-10.8 .05-4 .06-10.3 .06 23.4 .05-13.2 .06 18 .05-2.8 .06-14.4 .06 8.8 .05-6.3 .06 18.4 .05-15.1 .06 17.9 .06-20.7 .05 12.2 .06-3.1 .06 4.6 .05-11.2 .06 6.6 .05-1.9 .06 2.7 .06 1.9 .05-10.7 .06 10.2 .06-4 .05-2.4 .06 10.1 .05-11.5 .06 4.5 .06-1.9 .05 5.1 .06 1.3 .06 3.5 .05-2.6 .06 3.2 .05-3.9 .06-3.1 .06-1.5 .05 .2 .06 2.5 .06 2.8 .05-3.2 .06-2.3 .05 3.6 .06-2.5 .06 9.6 .05-15.2 .06 1 .05 5.4 .06-13.9 .06 8.2 .05 .8 .06 15.3 .06-21.4 .05 6.9 .06 7.8 .05-6.3 .06 1.3 .06-2.2 .05 4.5 .06-4.5 .06 .9 .05 1.9 .06-8.2 .05 8.1 .06 .9 .06 4.1 .05-1.4 .06 .6 .06-.3 .05-7.5 .06 6.7 .05 5.4 .06-5.7 .06-3.4 .05-5.6 .06 3.6 .05 4.2 .06 7.9 .06-11.2 .05-9.5 .06 11 .06-12.3 .05 4.1 .06 5 .05-15.5 .06 18.5 .06 6.3 .05-3.9 .06-5.7 .06 11.7 .05-13.4 .06 10.6 .05 6 .06-10.2 .06-4.5 .05 3.9 .06-2.3 .06-2.5 .05-4.9 .06 6.7 .05-.3 .06-.8 .06 6.8 .05 .8 .06-6.2 .06 4.3 .05 1.9 .06-3.3 .05 .4 .06 3 .06-6.1 .05 1.5 .06-18.9 .05 27.1 .06-1.4 .06-7.2 .05-3.7 .06 3.1 .06 11.3 .05-3.2 .06 3.9 .05-6.1 .06 4.8 .06-4.3 .05-9.2 .06 2.7 .06-17.6 .05 31.3 .06-17.6 .05 8.2 .06-6.5 .06 1.6 .05-6.3 .06 10.2 .06-1.7 .05-2.3 .06 7.9 .05-9 .06-2 .06 9 .05 16.4 .06-11.4 .05-6 .06-3.1 .06-.5 .05-.5 .06-8.9 .06 6.5 .05 15.2 .06-14.1 .05 5.9 .06-7.9 .06 1.8 .05 4.9 .06-3.4 .06-3.4 .05 6.4 .06-7.5 .05 7.3 .06-4.3 .06 3 .05 7.2 .06-12.8 .06 9.6 .05-12.7 .06 8.4 .05-1.4 .06 .5 .06 4.7 .05-11.4 .06 1.6 .05 9.9 .06 4.2 .06-6.3 .05 2.8 .06 .9 .06 0 .05-3.7 .06 5.2 .05-2.4 .06-9.7 .06 9.6 .05-1.2 .06-4.3 .06 3.8 .05-8.1 .06 6.3 .05-2.8 .06 1.3 .06 7.3 .05 1.5 .06-5.2 .06 2.6 .05-3.1 .06 4.6 .05-10.9 .06 9.9 .06-4.7 .05-1.6 .06 3.7 .06-3.2 .05-2.4 .06 13.4 .05-14.7 .06 11.8 .06-9.2 .05-.8 .06 .4 .05-.8 .06 .9 .06 15.2 .05-9.7 .06-10.3 .06 1.1 .05 3.3 .06 2.7 .05 1.6 .06-1.1 .06-2 .05 .4 .06 1.2 .06 1.5 .05-8.6 .06 0 .05 5.4 .06 3.7 .06-.8 .05-9 .06-1.1 .06 11 .05-5.3 .06 9.5 .05-2.4 .06 4.3 .06-22.5 .05 16.8 .06 6.5 .05-10.3 .06 8.2 .06-5 .05-.5 .06-8.6 .06 5.6 .05-6.8 .06-4.8 .05 7.4 .06 1.5 .06 1.4 .05 4.1 .06-.7 .06-7 .05 9.4 .06-8.9 .05 7.3 .06 4.6 .06-7.5 .05-.3 .06 10.1 .06-10.5 .05 7.7 .06-14 .05 11.5 .06 4.7 .06-10.3 .05 .2 .06-.6 .06 8.1 .05-11.2 .06 9.3 .05-11.2 .06 8.5 .06-9.6 .05 6.8 .06 5.5 .05-8.2 .06 13 .06-12 .05-1.6 .06 7.3 .06 7.2 .05-9.4 .06-12.7 .05 23.6 .06-6.4 .06-3.9 .05 1 .06 0 .06 14.2 .05-10.9 .06 2.1 .05-6.3 .06 .7 .06-.2 .05 1.4 .06 .8 .06 2 .05-4 .06-11.2 .05 .4 .06-10 .06 16.9 .05-1.2 .06-3.7 .05 6 .06 1.3 .06-2.7 .05-7.6 .06 5.1 .06 1.1 .05-7.9 .06 3.4 .05 4.1 .06-4.9 .06 10.1 .05-1.3 .06 3.8 .06-5.1 .05 6.4 .06 .9 .05-2.6 .06-12.2 .06 16 .05 9 .06-20.8 .06 3 .05 4.3 .06 1 .05-8.7 .06 5.1 .06 18.8 .05-13.6 .06-13.3 .06 9.5 .05 4.1 .06-9.4 .05 3.8 .06 8.9 .06-10.5 .05 3.6 .06-1.3 .05 9.4 .06-11.1 .06-3.6 .05 1.5 .06-3.3 .06 13.5 .05-21.6 .06 8.5 .05 3.4 .06 9.7 .06-2.1 .05-6.4 .06 .7 .06-.2 .05 10 .06-6 .05 .3 .06-9.5 .06-4.6 .05 17.2 .06-9.2 .06 2.8 .05 1.2 .06-4 .05 12.6 .06-7.9 .06-3.1 .05 5.9 .06-16.1 .05 12.3 .06 1.6 .06-.8 .05-4.3 .06 .6 .06 2.5 .05-4.8 .06 5 .05-1.1 .06 3.7 .06-7.9 .05 1.9 .06-.7 .06 5.2 .05-7.1 .06 7.4 .05 1 .06-3.3 .06 6.8 .05-12.2 .06 7.3 .06 6.9 .05-4.6 .06 5.5 .05-6.1 .06-4.2 .06 6.7 .05-1.2 .06-6.7 .05 8.2 .06-3.2 .06 4 .05 1.2 .06 .1 .06-8.1 .05 7.1 .06-8.6 .05-1.9 .06 3.2 .06-1.9 .05 1.7 .06 .1 .06 0 .05 17.7 .06-18.2 .05 2 .06-1.2 .06-2.2 .05-16.5 .06 24 .06-12.4 .05 8.9 .06-1.7 .05-2.2 .06 11.3 .06-4.1 .05-7.4 .06-5.8 .06 15.7 .05-9.4 .06-4.8 .05 9.6 .06-7.4 .06 7.9 .05-7.1 .06 9.6 .05-8.1 .06-.2 .06 .5 .05 5.2 .06 10.7 .06-14.2 .05 6.1 .06-1.3 .05-4.1 .06-2.1 .06 7.2 .05-4.8 .06-13.1 .06 12.4 .05 1.7 .06 .9 .05 3.4 .06-9.8 .06 4 .05-4.4 .06 2.4 .06 1.6 .05-3.9 .06 10.4 .05-11.4 .06 9.6 .06 .9 .05 .8 .06-5.8 .05-.8 .06 16.1 .06 2.3 .05-26.2 .06 10 .06 2.2 .05 6.4 .06-6.1 .05-1.9 .06 7.2 .06-2.7 .05 3.8 .06-21.3 .06 3.6 .05 8.1 .06-4 .05 7.4 .06 7.6 .06-9.7 .05 6.6 .06-3.4 .06 4.3 .05 .8 .06-9 .05-10.7 .06 8.6 .06-1.7 .05 7.7 .06-1.7 .06-11.3 .05 7.1 .06 21.4 .05-21.6 .06-2 .06 1.9 .05 4.2 .06 1.6 .05 4.4 .06-5.3 .06 3 .05 .9 .06 1 .06-8.7 .05 4.1 .06 6.7 .05-4.2 .06-3.3 .06-3.9 .05 9.5 .06-14.2 .06 14 .05-8.6 .06-5.7 .05 11.8 .06-9.7 .06 2.7 .05 3.6 .06 3.1 .06-12.4 .05 15.6 .06-8.6 .05 7.4 .06 2.4 .06-22.2 .05 13.8 .06 5.2 .05-6.7 .06 3.6 .06-4.1 .05 3.5 .06 11.5 .06-11.9 .05 6.4 .06-2.2 .05-4.4 .06 9.2 .06-18.7 .05 8.7 .06-1.7 .06 .6 .05-2.2 .06-6.8 .05 11.4 .06-8.4 .06 5 .05 4 .06-5.8 .06 3.6 .05-11 .06 7.5 .05 5.9 .06-6.2 .06-.8 .05-8.8 .06 12.4 .05 .4 .06 2.4 .06-4.3 .05 3.2 .06-4.7 .06 9.9 .05-8.9 .06-1.3 .05 6.3 .06 2.8 .06-4.5 .05-2.5 .06 .7 .06-.7 .05-7.5 .06 6.6 .05 5.3 .06-3.7 .06 .9 .05-1.5 .06-2.2 .06-17 .05 23.7 .06-2.1 .05-2.1 .06-1.6 .06 5.4 .05 4.7 .06-8 .06 2.4 .05-1 .06 2.8 .05-8.3 .06 7.9 .06-9.7 .05-2.7 .06-.8 .05 3.4 .06 4.8 .06 1.5 .05-.7 .06-11 .06 8.7 .05 9.7 .06-9.3 .05 11.4 .06-5.6 .06-2.9 .05-1.3 .06-1.8 .06-4.7 .05 3.8 .06 2.9 .05-4.6 .06 6.5 .06-11 .05 7.9 .06 9.3 .06-5.9 .05 10.9 .06-9.9 .05 1.1 .06 1.3 .06-4.3 .05 .6 .06-7.4 .05 7.3 .06 0 .06 8.5 .05-4.2 .06-4.6 .06 3.8 .05-9.8 .06-3.5 .05 10.2 .06-2.4 .06-6.1 .05 18 .06-6.7 .06-6.3 .05-4 .06 7.5 .05-.3 .06 2 .06-9.1 .05 10.8 .06-2.5 .06 2.5 .05-3 .06-3.5 .05 4.9 .06-5.4 .06-2.7 .05-.4 .06 6.2 .06 .7 .05-3.5 .06-4.6 .05 7.5 .06-10.4 .06 7.8 .05 3.3 .06-4.5 .05-.2 .06 7.4 .06 1.8 .05-4 .06-.7 .06-1.3 .05 4 .06-5.2 .05 .4 .06 6.3 .06-3.1 .05-2.9 .06 7.1 .06-1.7 .05 3.6 .06-4.5 .05 2.6 .06-2.1 .06-1.8 .05 7.1 .06-4.3 .06-7.1 .05 9.3 .06-1.4 .05 2 .06-12.9" fill="none" stroke="#000" stroke-width="0.8" stroke-linejoin="round" opacity="1.0"/>
<rect x="396.5" y="280.5" width="281.0" height="218.16000000000003" fill="none" stroke="#5a5a5a" stroke-width="1.15"/>
<line x1="396.5" y1="498.66" x2="396.5" y2="501.86" stroke="#5a5a5a" stroke-width="1.15"/>
<line x1="452.7" y1="498.66" x2="452.7" y2="501.86" stroke="#5a5a5a" stroke-width="1.15"/>
<line x1="508.9" y1="498.66" x2="508.9" y2="501.86" stroke="#5a5a5a" stroke-width="1.15"/>
<line x1="565.1" y1="498.66" x2="565.1" y2="501.86" stroke="#5a5a5a" stroke-width="1.15"/>
<line x1="621.3" y1="498.66" x2="621.3" y2="501.86" stroke="#5a5a5a" stroke-width="1.15"/>
<line x1="677.5" y1="498.66" x2="677.5" y2="501.86" stroke="#5a5a5a" stroke-width="1.15"/>
<line x1="393.3" y1="498.66" x2="396.5" y2="498.66" stroke="#5a5a5a" stroke-width="1.15"/>
<line x1="393.3" y1="444.12000000000023" x2="396.5" y2="444.12000000000023" stroke="#5a5a5a" stroke-width="1.15"/>
<line x1="393.3" y1="389.5799999999999" x2="396.5" y2="389.5799999999999" stroke="#5a5a5a" stroke-width="1.15"/>
<line x1="393.3" y1="335.0400000000001" x2="396.5" y2="335.0400000000001" stroke="#5a5a5a" stroke-width="1.15"/>
<line x1="393.3" y1="280.4999999999998" x2="396.5" y2="280.4999999999998" stroke="#5a5a5a" stroke-width="1.15"/>
<text transform="translate(396.50 517.80) scale(1.0 1.15)" text-anchor="middle" class="t">0</text>
<text transform="translate(452.70 517.80) scale(1.0 1.15)" text-anchor="middle" class="t">20</text>
<text transform="translate(508.90 517.80) scale(1.0 1.15)" text-anchor="middle" class="t">40</text>
<text transform="translate(565.10 517.80) scale(1.0 1.15)" text-anchor="middle" class="t">60</text>
<text transform="translate(621.30 517.80) scale(1.0 1.15)" text-anchor="middle" class="t">80</text>
<text transform="translate(677.50 517.80) scale(1.0 1.15)" text-anchor="middle" class="t">100</text>
<text transform="translate(388.90 502.96) scale(1.0 1.15)" text-anchor="end" class="t">2.50</text>
<text transform="translate(388.90 448.42) scale(1.0 1.15)" text-anchor="end" class="t">2.55</text>
<text transform="translate(388.90 393.88) scale(1.0 1.15)" text-anchor="end" class="t">2.60</text>
<text transform="translate(388.90 339.34) scale(1.0 1.15)" text-anchor="end" class="t">2.65</text>
<text transform="translate(388.90 284.80) scale(1.0 1.15)" text-anchor="end" class="t">2.70</text>
<line x1="571.9" y1="311.4" x2="592.0" y2="311.4" stroke="#ff3333" stroke-width="1.1"/>
<line x1="571.9" y1="325.8" x2="592.0" y2="325.8" stroke="#666" stroke-width="1.1"/>
<text transform="translate(597.00 315.80) scale(1.0 1.12)" class="lg" style="font-size:8.8px">Catalase</text>
<text transform="translate(597.00 330.10) scale(1.0 1.12)" class="lg" style="font-size:8.8px">Catalase + Alliin</text>
<text transform="translate(415.60 308.40) scale(1.0 1.17)" class="pl">D</text>
<text transform="translate(536.70 537.40) scale(0.955 1.1)" text-anchor="middle" class="ax">Time (ns)</text>
<text transform="translate(360.60 389.50) scale(1.03 1.13) rotate(-90)" text-anchor="middle" class="ax">Rg (nm)</text>
<path d="M221.8 720.6V688.6M222.3 752.5V656.6M222.8 752.5V688.6M223.3 752.5V688.6M223.8 720.6V688.6M224.3 752.5V688.6M224.8 752.5V688.6M225.3 784.5V656.6M225.8 752.5V688.6M226.3 784.5V688.6M226.8 784.5V688.6M227.3 752.5V656.6M227.8 752.5V688.6M228.3 720.6V688.6M228.8 720.6V656.6M229.3 752.5V656.6M229.8 752.5V656.6M230.3 752.5V656.6M230.8 720.6V656.6M231.3 720.6V656.6M231.8 752.5V656.6M232.3 752.5V688.6M232.8 752.5V656.6M233.3 720.6V656.6M233.8 752.5V656.6M234.3 752.5V656.6M234.8 752.5V656.6M235.3 752.5V656.6M235.8 752.5V656.6M236.3 720.6V656.6M236.8 752.5V656.6M237.3 752.5V656.6M237.8 752.5V656.6M238.3 752.5V656.6M238.8 752.5V688.6M239.3 752.5V688.6M239.8 752.5V720.6M240.3 752.5V688.6M240.8 752.5V720.6M241.3 752.5V720.6M241.8 752.5V720.6M242.3 784.5V720.6M242.8 784.5V720.6M243.3 752.5V720.6M243.8 752.5V720.6M244.3 752.5V720.6M244.8 752.5V720.6M245.3 752.5V688.6M245.8 752.5V688.6M246.3 752.5V720.6M246.8 784.5V688.6M247.3 784.5V688.6M247.8 752.5V720.6M248.3 784.5V688.6M248.8 752.5V720.6M249.3 784.5V720.6M249.8 752.5V720.6M250.3 784.5V688.6M250.8 784.5V688.6M251.3 784.5V688.6M251.8 784.5V720.6M252.3 752.5V688.6M252.8 752.5V688.6M253.3 752.5V720.6M253.8 784.5V720.6M254.3 784.5V720.6M254.8 752.5V720.6M255.3 784.5V720.6M255.8 784.5V688.6M256.3 784.5V688.6M256.8 752.5V688.6M257.3 784.5V688.6M257.8 784.5V688.6M258.3 784.5V688.6M258.8 784.5V720.6M259.3 784.5V688.6M259.8 752.5V688.6M260.3 752.5V688.6M260.8 752.5V688.6M261.3 784.5V688.6M261.8 752.5V688.6M262.3 752.5V688.6M262.8 752.5V720.6M263.3 752.5V720.6M263.8 784.5V720.6M264.3 752.5V688.6M264.8 752.5V720.6M265.3 752.5V720.6M265.8 784.5V720.6M266.3 784.5V688.6M266.8 752.5V720.6M267.3 784.5V688.6M267.8 784.5V688.6M268.3 784.5V720.6M268.8 784.5V688.6M269.3 784.5V720.6M269.8 752.5V720.6M270.3 784.5V720.6M270.8 784.5V688.6M271.3 752.5V688.6M271.8 752.5V720.6M272.3 784.5V720.6M272.8 752.5V688.6M273.3 784.5V688.6M273.8 752.5V688.6M274.3 752.5V688.6M274.8 752.5V720.6M275.3 720.6V656.6M275.8 720.6V656.6M276.3 720.6V656.6M276.8 720.6V656.6M277.3 720.6V656.6M277.8 720.6V656.6M278.3 720.6V656.6M278.8 720.6V656.6M279.3 720.6V656.6M279.8 720.6V656.6M280.3 720.6V656.6M280.8 720.6V656.6M281.3 720.6V656.6M281.8 720.6V656.6M282.3 784.5V752.5M282.8 752.5V688.6M283.3 720.6V688.6M283.8 784.5V720.6M284.3 752.5V688.6M284.8 752.5V720.6M285.3 752.5V688.6M285.8 752.5V720.6M286.3 784.5V688.6M286.8 784.5V688.6M287.3 720.6V688.6M287.8 752.5V688.6M288.3 752.5V688.6M288.8 720.6V688.6M289.3 784.5V688.6M290.3 720.6V688.6M290.8 752.5V688.6M291.3 752.5V720.6M291.8 720.6V688.6M292.3 784.5V688.6M292.8 720.6V688.6M293.3 720.6V688.6M293.8 720.6V688.6M294.3 752.5V688.6M294.8 720.6V688.6M295.3 784.5V688.6M295.8 720.6V688.6M296.3 752.5V688.6M296.8 752.5V688.6M297.3 752.5V688.6M297.8 720.6V688.6M298.3 752.5V688.6M298.8 720.6V688.6M299.3 752.5V688.6M299.8 720.6V688.6M300.3 720.6V688.6M300.8 752.5V688.6M301.3 720.6V656.6M301.8 752.5V688.6M302.3 752.5V720.6M302.8 752.5V688.6M303.3 752.5V688.6M303.8 752.5V656.6M304.3 752.5V688.6M304.8 752.5V688.6M305.3 784.5V688.6M305.8 752.5V688.6M306.3 720.6V688.6M306.8 720.6V688.6M307.3 752.5V720.6M307.8 752.5V720.6M308.3 752.5V688.6M308.8 752.5V688.6M309.3 720.6V656.6M309.8 752.5V688.6M310.3 752.5V656.6M310.8 752.5V688.6M311.3 720.6V688.6M311.8 752.5V688.6M312.3 720.6V656.6M312.8 720.6V656.6M313.3 720.6V656.6M313.8 752.5V688.6M314.3 752.5V656.6M314.8 720.6V656.6M315.3 752.5V656.6M315.8 752.5V688.6M316.3 752.5V656.6M316.8 720.6V656.6M317.3 720.6V656.6M317.8 720.6V656.6M318.3 752.5V656.6M318.8 720.6V656.6M319.3 752.5V688.6M319.8 720.6V656.6M320.3 720.6V656.6M320.8 752.5V656.6M321.3 720.6V656.6M321.8 752.5V656.6M322.3 720.6V656.6M322.8 720.6V656.6M323.3 720.6V656.6M323.8 720.6V656.6M324.3 752.5V656.6M324.8 720.6V656.6M325.3 720.6V656.6M325.8 720.6V656.6M326.3 752.5V656.6M326.8 688.6V656.6M327.3 720.6V656.6M327.8 720.6V656.6M328.3 752.5V656.6M328.8 752.5V656.6M329.3 720.6V656.6M329.8 752.5V656.6M330.3 752.5V688.6M330.8 752.5V688.6M331.3 752.5V688.6M331.8 752.5V688.6M332.3 752.5V688.6M332.8 752.5V688.6M333.3 752.5V688.6M333.8 784.5V688.6M334.3 752.5V720.6M334.8 752.5V688.6M335.3 784.5V688.6M335.8 752.5V688.6M336.3 752.5V688.6M336.8 784.5V688.6M337.3 752.5V688.6M337.8 752.5V720.6M338.3 752.5V656.6M338.8 752.5V688.6M339.3 752.5V688.6M339.8 752.5V688.6M340.3 720.6V688.6M340.8 752.5V688.6M341.3 752.5V688.6M341.8 752.5V688.6M342.3 752.5V688.6M342.8 752.5V720.6M343.3 752.5V688.6M343.8 752.5V688.6M344.3 752.5V688.6M344.8 752.5V720.6M345.3 720.6V688.6M345.8 752.5V688.6M346.3 752.5V656.6M346.8 720.6V656.6M347.3 752.5V656.6M347.8 752.5V656.6M348.3 752.5V656.6M348.8 720.6V656.6M349.3 720.6V656.6M349.8 720.6V656.6M350.3 752.5V656.6M350.8 752.5V656.6M351.3 752.5V688.6M351.8 752.5V720.6M352.3 752.5V688.6M352.8 752.5V688.6M353.3 752.5V688.6M353.8 784.5V720.6M354.3 752.5V688.6M354.8 752.5V688.6M355.8 784.5V688.6M356.3 752.5V688.6M356.8 752.5V688.6M357.8 752.5V720.6M358.3 752.5V720.6M358.8 752.5V688.6M359.3 720.6V688.6M359.8 720.6V688.6M360.3 720.6V688.6M360.8 720.6V688.6M361.3 720.6V688.6M361.8 752.5V688.6M362.3 752.5V720.6M362.8 752.5V688.6M363.3 720.6V688.6M363.8 752.5V688.6M364.3 752.5V720.6M364.8 784.5V688.6M365.3 752.5V656.6M365.8 720.6V688.6M366.3 720.6V688.6M366.8 720.6V688.6M367.3 720.6V688.6M367.8 752.5V688.6M368.3 720.6V688.6M368.8 720.6V688.6M369.3 720.6V688.6M369.8 720.6V656.6M370.3 752.5V656.6M370.8 752.5V688.6M371.3 720.6V688.6M371.8 752.5V688.6M372.3 752.5V688.6M372.8 752.5V688.6M373.3 720.6V688.6M373.8 752.5V688.6M374.3 720.6V688.6M374.8 752.5V688.6M375.3 752.5V688.6M375.8 720.6V688.6M376.3 752.5V688.6M376.8 720.6V688.6M377.3 752.5V688.6M377.8 752.5V688.6M378.3 752.5V688.6M378.8 784.5V656.6M379.3 752.5V688.6M379.8 720.6V688.6M380.3 752.5V656.6M380.8 752.5V688.6M381.3 720.6V688.6M381.8 720.6V688.6M382.3 720.6V688.6M383.3 752.5V688.6M383.8 752.5V688.6M384.3 752.5V688.6M384.8 720.6V656.6M385.3 752.5V720.6M385.8 752.5V656.6M386.3 720.6V656.6M386.8 720.6V656.6M387.3 720.6V656.6M387.8 720.6V656.6M388.3 720.6V656.6M388.8 720.6V656.6M389.3 720.6V656.6M389.8 720.6V656.6M390.3 720.6V656.6M390.8 720.6V656.6M391.3 720.6V656.6M391.8 720.6V656.6M392.3 720.6V656.6M392.8 720.6V656.6M393.3 752.5V656.6M393.8 752.5V656.6M394.3 752.5V656.6M394.8 752.5V656.6M395.3 720.6V624.6M395.8 720.6V656.6M396.3 720.6V656.6M396.8 720.6V656.6M397.3 720.6V624.6M397.8 720.6V656.6M398.3 720.6V656.6M398.8 720.6V656.6M399.3 720.6V656.6M399.8 720.6V656.6M400.3 720.6V656.6M400.8 720.6V624.6M401.3 720.6V624.6M401.8 752.5V624.6M402.3 720.6V656.6M402.8 720.6V624.6M403.3 720.6V656.6M403.8 720.6V624.6M404.3 720.6V624.6M404.8 720.6V656.6M405.3 720.6V624.6M405.8 720.6V656.6M406.3 752.5V656.6M406.8 720.6V656.6M407.3 720.6V656.6M407.8 720.6V656.6M408.3 720.6V656.6M408.8 720.6V656.6M409.3 720.6V656.6M409.8 720.6V656.6M410.3 720.6V656.6M410.8 720.6V656.6M411.8 720.6V688.6M412.3 720.6V688.6M412.8 720.6V656.6M413.3 752.5V688.6M413.8 752.5V688.6M414.3 752.5V688.6M414.8 752.5V688.6M415.3 752.5V688.6M415.8 752.5V688.6M416.3 752.5V688.6M416.8 752.5V656.6M417.3 752.5V656.6M417.8 752.5V688.6M418.3 752.5V688.6M418.8 752.5V688.6M419.3 752.5V688.6M419.8 752.5V688.6M420.3 720.6V656.6M420.8 720.6V656.6M421.3 752.5V624.6M421.8 720.6V624.6M422.3 752.5V656.6M422.8 720.6V624.6M423.3 752.5V624.6M423.8 752.5V624.6M424.3 720.6V624.6M424.8 720.6V656.6M425.3 720.6V656.6M425.8 752.5V656.6M426.3 752.5V656.6M426.8 752.5V656.6M427.3 720.6V656.6M427.8 752.5V656.6M428.3 720.6V656.6M429.3 752.5V656.6M429.8 720.6V688.6M430.3 720.6V688.6M430.8 752.5V688.6M431.3 720.6V656.6M432.3 784.5V720.6M432.8 784.5V720.6M434.3 752.5V720.6M434.8 784.5V752.5M435.8 752.5V720.6M436.3 784.5V752.5M437.3 752.5V688.6M437.8 752.5V688.6M438.3 752.5V688.6M438.8 752.5V688.6M439.3 752.5V688.6M439.8 752.5V688.6M440.3 752.5V688.6M440.8 752.5V688.6M441.3 752.5V688.6M441.8 752.5V688.6M442.3 752.5V688.6M442.8 752.5V688.6M443.3 752.5V688.6M443.8 752.5V688.6M444.3 752.5V688.6M446.8 784.5V720.6M447.3 784.5V752.5M447.8 784.5V752.5M448.3 784.5V752.5M448.8 784.5V752.5M449.3 784.5V752.5M449.8 784.5V752.5M450.3 784.5V752.5M450.8 784.5V752.5M451.3 784.5V752.5M451.8 784.5V752.5M453.3 784.5V752.5M453.8 784.5V752.5M454.3 784.5V752.5M454.8 784.5V720.6M455.3 784.5V720.6M455.8 784.5V752.5M456.3 784.5V752.5M456.8 784.5V752.5M457.8 784.5V752.5M462.3 784.5V752.5M462.8 784.5V720.6M463.3 784.5V720.6M464.3 752.5V720.6M464.8 784.5V720.6M465.3 784.5V720.6M465.8 784.5V720.6M466.3 784.5V752.5M466.8 784.5V720.6M467.3 784.5V752.5M467.8 784.5V752.5M468.3 784.5V752.5M468.8 784.5V752.5M469.3 784.5V752.5M469.8 784.5V752.5M470.3 784.5V752.5M470.8 784.5V752.5M471.3 784.5V720.6M471.8 784.5V752.5M472.3 784.5V752.5M473.3 784.5V752.5M473.8 784.5V752.5M474.3 784.5V752.5M474.8 784.5V752.5M475.3 784.5V752.5M475.8 784.5V752.5M476.3 784.5V720.6M476.8 784.5V752.5M477.3 784.5V720.6M477.8 784.5V752.5M478.3 784.5V752.5M478.8 784.5V752.5M479.3 784.5V752.5M479.8 784.5V720.6M480.8 784.5V752.5M481.3 784.5V752.5M481.8 784.5V752.5M482.8 784.5V752.5M483.8 784.5V752.5M486.8 784.5V752.5M487.3 784.5V720.6M487.8 784.5V752.5M488.8 784.5V752.5M489.3 784.5V752.5M489.8 784.5V752.5M490.3 784.5V752.5M490.8 784.5V752.5M491.3 784.5V752.5M491.8 784.5V752.5M492.3 784.5V752.5M492.8 784.5V752.5M493.3 752.5V720.6M493.8 784.5V752.5M494.3 784.5V720.6M494.8 784.5V752.5" stroke="#000" stroke-width="1.0" fill="none"/>
<line x1="223.3" y1="688.6" x2="223.3" y2="656.6" stroke="#000" stroke-width="0.85"/>
<line x1="230.1" y1="656.6" x2="230.1" y2="624.6" stroke="#000" stroke-width="0.85"/>
<line x1="236.2" y1="656.6" x2="236.2" y2="624.6" stroke="#000" stroke-width="0.85"/>
<line x1="237.2" y1="624.6" x2="237.2" y2="592.7" stroke="#000" stroke-width="0.85"/>
<line x1="245.5" y1="688.6" x2="245.5" y2="656.6" stroke="#000" stroke-width="0.85"/>
<line x1="278.7" y1="656.6" x2="278.7" y2="592.7" stroke="#000" stroke-width="0.85"/>
<line x1="286.1" y1="688.6" x2="286.1" y2="656.6" stroke="#000" stroke-width="0.85"/>
<line x1="292.9" y1="688.6" x2="292.9" y2="656.6" stroke="#000" stroke-width="0.85"/>
<line x1="296.3" y1="688.6" x2="296.3" y2="656.6" stroke="#000" stroke-width="0.85"/>
<line x1="298.6" y1="688.6" x2="298.6" y2="656.6" stroke="#000" stroke-width="0.85"/>
<line x1="300.6" y1="688.6" x2="300.6" y2="656.6" stroke="#000" stroke-width="0.85"/>
<line x1="305.7" y1="784.5" x2="305.7" y2="752.5" stroke="#000" stroke-width="0.85"/>
<line x1="317.9" y1="656.6" x2="317.9" y2="624.6" stroke="#000" stroke-width="0.85"/>
<line x1="327.3" y1="656.6" x2="327.3" y2="624.6" stroke="#000" stroke-width="0.85"/>
<line x1="331.6" y1="784.5" x2="331.6" y2="752.5" stroke="#000" stroke-width="0.85"/>
<line x1="334.1" y1="688.6" x2="334.1" y2="656.6" stroke="#000" stroke-width="0.85"/>
<line x1="341.2" y1="688.6" x2="341.2" y2="656.6" stroke="#000" stroke-width="0.85"/>
<line x1="342.4" y1="688.6" x2="342.4" y2="656.6" stroke="#000" stroke-width="0.85"/>
<line x1="355.4" y1="688.6" x2="355.4" y2="656.6" stroke="#000" stroke-width="0.85"/>
<line x1="367.4" y1="688.6" x2="367.4" y2="656.6" stroke="#000" stroke-width="0.85"/>
<line x1="371.6" y1="688.6" x2="371.6" y2="656.6" stroke="#000" stroke-width="0.85"/>
<line x1="377.9" y1="688.6" x2="377.9" y2="656.6" stroke="#000" stroke-width="0.85"/>
<line x1="380.2" y1="688.6" x2="380.2" y2="656.6" stroke="#000" stroke-width="0.85"/>
<line x1="389.5" y1="656.6" x2="389.5" y2="624.6" stroke="#000" stroke-width="0.85"/>
<line x1="415.1" y1="784.5" x2="415.1" y2="752.5" stroke="#000" stroke-width="0.85"/>
<line x1="416.3" y1="688.6" x2="416.3" y2="656.6" stroke="#000" stroke-width="0.85"/>
<line x1="429.9" y1="688.6" x2="429.9" y2="656.6" stroke="#000" stroke-width="0.85"/>
<line x1="439.3" y1="688.6" x2="439.3" y2="656.6" stroke="#000" stroke-width="0.85"/>
<line x1="447.8" y1="752.5" x2="447.8" y2="720.6" stroke="#000" stroke-width="0.85"/>
<line x1="452.9" y1="752.5" x2="452.9" y2="720.6" stroke="#000" stroke-width="0.85"/>
<line x1="475.1" y1="752.5" x2="475.1" y2="688.6" stroke="#000" stroke-width="0.85"/>
<line x1="501.0" y1="784.5" x2="501.0" y2="752.5" stroke="#000" stroke-width="0.85"/>
<line x1="444.7" y1="720.6" x2="446.7" y2="784.5" stroke="#000" stroke-width="0.85"/>
<rect x="221.3" y="560.7" width="284.2" height="223.79999999999995" fill="none" stroke="#5a5a5a" stroke-width="1.15"/>
<line x1="221.3" y1="784.5" x2="221.3" y2="787.7" stroke="#5a5a5a" stroke-width="1.15"/>
<line x1="278.14" y1="784.5" x2="278.14" y2="787.7" stroke="#5a5a5a" stroke-width="1.15"/>
<line x1="334.98" y1="784.5" x2="334.98" y2="787.7" stroke="#5a5a5a" stroke-width="1.15"/>
<line x1="391.82" y1="784.5" x2="391.82" y2="787.7" stroke="#5a5a5a" stroke-width="1.15"/>
<line x1="448.66" y1="784.5" x2="448.66" y2="787.7" stroke="#5a5a5a" stroke-width="1.15"/>
<line x1="505.5" y1="784.5" x2="505.5" y2="787.7" stroke="#5a5a5a" stroke-width="1.15"/>
<line x1="218.10000000000002" y1="784.5" x2="221.3" y2="784.5" stroke="#5a5a5a" stroke-width="1.15"/>
<line x1="218.10000000000002" y1="720.5571428571428" x2="221.3" y2="720.5571428571428" stroke="#5a5a5a" stroke-width="1.15"/>
<line x1="218.10000000000002" y1="656.6142857142858" x2="221.3" y2="656.6142857142858" stroke="#5a5a5a" stroke-width="1.15"/>
<line x1="218.10000000000002" y1="592.6714285714286" x2="221.3" y2="592.6714285714286" stroke="#5a5a5a" stroke-width="1.15"/>
<text transform="translate(221.30 803.00) scale(1.0 1.15)" text-anchor="middle" class="t">0</text>
<text transform="translate(278.14 803.00) scale(1.0 1.15)" text-anchor="middle" class="t">20</text>
<text transform="translate(334.98 803.00) scale(1.0 1.15)" text-anchor="middle" class="t">40</text>
<text transform="translate(391.82 803.00) scale(1.0 1.15)" text-anchor="middle" class="t">60</text>
<text transform="translate(448.66 803.00) scale(1.0 1.15)" text-anchor="middle" class="t">80</text>
<text transform="translate(505.50 803.00) scale(1.0 1.15)" text-anchor="middle" class="t">100</text>
<text transform="translate(214.00 788.80) scale(1.0 1.15)" text-anchor="end" class="t">0</text>
<text transform="translate(214.00 724.86) scale(1.0 1.15)" text-anchor="end" class="t">2</text>
<text transform="translate(214.00 660.91) scale(1.0 1.15)" text-anchor="end" class="t">4</text>
<text transform="translate(214.00 596.97) scale(1.0 1.15)" text-anchor="end" class="t">6</text>
<text transform="translate(249.20 588.60) scale(1.0 1.17)" class="pl">E</text>
<text transform="translate(362.20 823.90) scale(0.955 1.1)" text-anchor="middle" class="ax">Time (ns)</text>
<text transform="translate(199.40 677.40) scale(1.03 1.13) rotate(-90)" text-anchor="middle" class="ax">Number of H-Bonds</text>
</svg></body></html>
